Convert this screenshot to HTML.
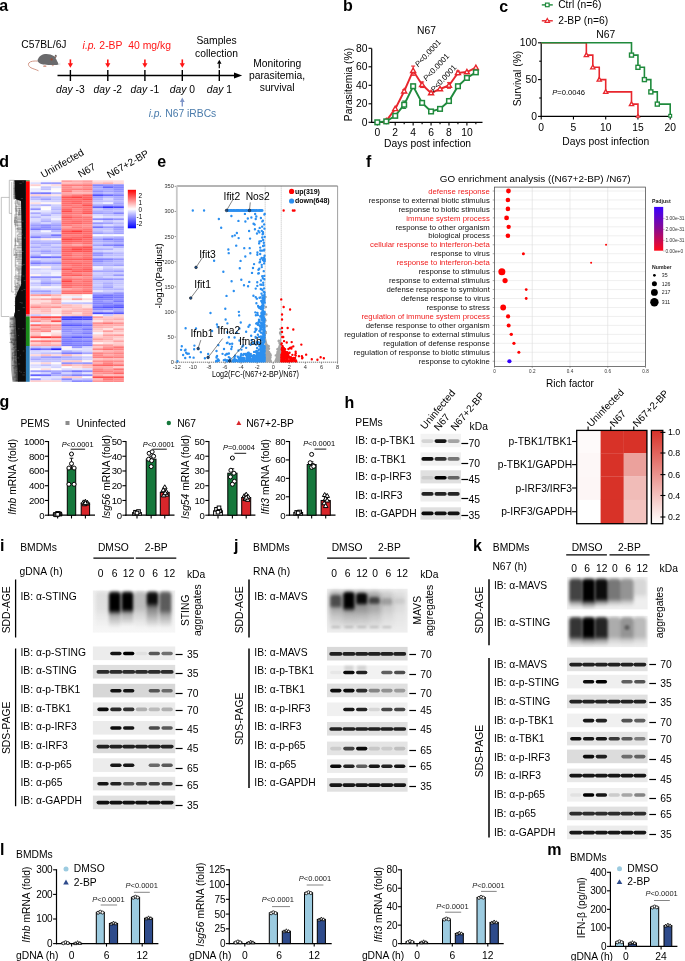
<!DOCTYPE html>
<html><head><meta charset="utf-8"><title>Figure</title>
<style>html,body{margin:0;padding:0;background:#fff;width:685px;height:961px;overflow:hidden;}svg{display:block;will-change:transform;}text{font-family:"Liberation Sans", sans-serif;}</style>
</head><body><svg width="685" height="961" viewBox="0 0 685 961" font-family='"Liberation Sans", sans-serif'><defs><linearGradient id="dgl" x1="0" y1="0" x2="1" y2="0"><stop offset="0" stop-color="#000" stop-opacity="0.15"/><stop offset="1" stop-color="#000" stop-opacity="0.75"/></linearGradient><linearGradient id="hmk" x1="0" y1="0" x2="0" y2="1"><stop offset="0" stop-color="#ff0000"/><stop offset="0.5" stop-color="#ffffff"/><stop offset="1" stop-color="#0000ff"/></linearGradient><linearGradient id="padj" x1="0" y1="0" x2="0" y2="1"><stop offset="0" stop-color="#3a00ff"/><stop offset="0.5" stop-color="#8a0a90"/><stop offset="1" stop-color="#ff0a1a"/></linearGradient><filter id="b06" x="-20%" y="-100%" width="140%" height="300%"><feGaussianBlur stdDeviation="0.6"/></filter><filter id="b07" x="-20%" y="-100%" width="140%" height="300%"><feGaussianBlur stdDeviation="0.75"/></filter><filter id="b08" x="-20%" y="-100%" width="140%" height="300%"><feGaussianBlur stdDeviation="0.8"/></filter><filter id="b10" x="-20%" y="-50%" width="140%" height="200%"><feGaussianBlur stdDeviation="1.0"/></filter><filter id="b15" x="-30%" y="-30%" width="160%" height="160%"><feGaussianBlur stdDeviation="1.5"/></filter><filter id="b20" x="-30%" y="-30%" width="160%" height="160%"><feGaussianBlur stdDeviation="2.0"/></filter><linearGradient id="hcb" x1="0" y1="1" x2="0" y2="0"><stop offset="0" stop-color="#ffffff"/><stop offset="1" stop-color="#d83228"/></linearGradient><linearGradient id="sddbg" x1="0" y1="0" x2="0" y2="1"><stop offset="0" stop-color="#eeeeee"/><stop offset="1" stop-color="#f6f6f6"/></linearGradient><linearGradient id="sm11" x1="0" y1="0" x2="0" y2="1"><stop offset="0" stop-color="#000" stop-opacity="0.06"/><stop offset="0.1" stop-color="#000" stop-opacity="0.07"/><stop offset="0.50" stop-color="#000" stop-opacity="0.07"/><stop offset="0.65" stop-color="#000" stop-opacity="0.04"/><stop offset="1" stop-color="#000" stop-opacity="0"/></linearGradient><linearGradient id="sm12" x1="0" y1="0" x2="0" y2="1"><stop offset="0" stop-color="#000" stop-opacity="0.80"/><stop offset="0.1" stop-color="#000" stop-opacity="1.00"/><stop offset="0.50" stop-color="#000" stop-opacity="1.00"/><stop offset="0.65" stop-color="#000" stop-opacity="0.30"/><stop offset="1" stop-color="#000" stop-opacity="0"/></linearGradient><linearGradient id="sm13" x1="0" y1="0" x2="0" y2="1"><stop offset="0" stop-color="#000" stop-opacity="0.80"/><stop offset="0.1" stop-color="#000" stop-opacity="1.00"/><stop offset="0.50" stop-color="#000" stop-opacity="1.00"/><stop offset="0.65" stop-color="#000" stop-opacity="0.30"/><stop offset="1" stop-color="#000" stop-opacity="0"/></linearGradient><linearGradient id="sm14" x1="0" y1="0" x2="0" y2="1"><stop offset="0" stop-color="#000" stop-opacity="0.18"/><stop offset="0.1" stop-color="#000" stop-opacity="0.22"/><stop offset="0.45" stop-color="#000" stop-opacity="0.22"/><stop offset="0.60" stop-color="#000" stop-opacity="0.13"/><stop offset="1" stop-color="#000" stop-opacity="0"/></linearGradient><linearGradient id="sm15" x1="0" y1="0" x2="0" y2="1"><stop offset="0" stop-color="#000" stop-opacity="0.76"/><stop offset="0.1" stop-color="#000" stop-opacity="0.95"/><stop offset="0.30" stop-color="#000" stop-opacity="0.95"/><stop offset="0.45" stop-color="#000" stop-opacity="0.47"/><stop offset="1" stop-color="#000" stop-opacity="0"/></linearGradient><linearGradient id="sm16" x1="0" y1="0" x2="0" y2="1"><stop offset="0" stop-color="#000" stop-opacity="0.50"/><stop offset="0.1" stop-color="#000" stop-opacity="0.62"/><stop offset="0.50" stop-color="#000" stop-opacity="0.62"/><stop offset="0.65" stop-color="#000" stop-opacity="0.31"/><stop offset="1" stop-color="#000" stop-opacity="0"/></linearGradient><linearGradient id="sm17" x1="0" y1="0" x2="0" y2="1"><stop offset="0" stop-color="#000" stop-opacity="0.24"/><stop offset="0.1" stop-color="#000" stop-opacity="0.30"/><stop offset="0.45" stop-color="#000" stop-opacity="0.30"/><stop offset="0.60" stop-color="#000" stop-opacity="0.18"/><stop offset="1" stop-color="#000" stop-opacity="0"/></linearGradient><linearGradient id="sm18" x1="0" y1="0" x2="0" y2="1"><stop offset="0" stop-color="#000" stop-opacity="0.32"/><stop offset="0.1" stop-color="#000" stop-opacity="0.40"/><stop offset="0.45" stop-color="#000" stop-opacity="0.40"/><stop offset="0.60" stop-color="#000" stop-opacity="0.24"/><stop offset="1" stop-color="#000" stop-opacity="0"/></linearGradient><linearGradient id="sm19" x1="0" y1="0" x2="0" y2="1"><stop offset="0" stop-color="#000" stop-opacity="0.30"/><stop offset="0.1" stop-color="#000" stop-opacity="0.38"/><stop offset="0.45" stop-color="#000" stop-opacity="0.38"/><stop offset="0.60" stop-color="#000" stop-opacity="0.23"/><stop offset="1" stop-color="#000" stop-opacity="0"/></linearGradient><linearGradient id="sm20" x1="0" y1="0" x2="0" y2="1"><stop offset="0" stop-color="#000" stop-opacity="0.24"/><stop offset="0.1" stop-color="#000" stop-opacity="0.30"/><stop offset="0.45" stop-color="#000" stop-opacity="0.30"/><stop offset="0.60" stop-color="#000" stop-opacity="0.18"/><stop offset="1" stop-color="#000" stop-opacity="0"/></linearGradient><linearGradient id="sm21" x1="0" y1="0" x2="0" y2="1"><stop offset="0" stop-color="#000" stop-opacity="0.12"/><stop offset="0.1" stop-color="#000" stop-opacity="0.15"/><stop offset="0.45" stop-color="#000" stop-opacity="0.15"/><stop offset="0.60" stop-color="#000" stop-opacity="0.09"/><stop offset="1" stop-color="#000" stop-opacity="0"/></linearGradient><linearGradient id="sm22" x1="0" y1="0" x2="0" y2="1"><stop offset="0" stop-color="#000" stop-opacity="0.06"/><stop offset="0.1" stop-color="#000" stop-opacity="0.07"/><stop offset="0.45" stop-color="#000" stop-opacity="0.07"/><stop offset="0.60" stop-color="#000" stop-opacity="0.04"/><stop offset="1" stop-color="#000" stop-opacity="0"/></linearGradient><linearGradient id="sm23" x1="0" y1="0" x2="0" y2="1"><stop offset="0" stop-color="#000" stop-opacity="0.44"/><stop offset="0.1" stop-color="#000" stop-opacity="0.55"/><stop offset="0.75" stop-color="#000" stop-opacity="0.55"/><stop offset="0.90" stop-color="#000" stop-opacity="0.19"/><stop offset="1" stop-color="#000" stop-opacity="0"/></linearGradient><linearGradient id="sm24" x1="0" y1="0" x2="0" y2="1"><stop offset="0" stop-color="#000" stop-opacity="0.80"/><stop offset="0.1" stop-color="#000" stop-opacity="1.00"/><stop offset="0.75" stop-color="#000" stop-opacity="1.00"/><stop offset="0.90" stop-color="#000" stop-opacity="0.35"/><stop offset="1" stop-color="#000" stop-opacity="0"/></linearGradient><linearGradient id="sm25" x1="0" y1="0" x2="0" y2="1"><stop offset="0" stop-color="#000" stop-opacity="0.76"/><stop offset="0.1" stop-color="#000" stop-opacity="0.95"/><stop offset="0.75" stop-color="#000" stop-opacity="0.95"/><stop offset="0.90" stop-color="#000" stop-opacity="0.33"/><stop offset="1" stop-color="#000" stop-opacity="0"/></linearGradient><linearGradient id="sm26" x1="0" y1="0" x2="0" y2="1"><stop offset="0" stop-color="#000" stop-opacity="0.50"/><stop offset="0.1" stop-color="#000" stop-opacity="0.62"/><stop offset="0.75" stop-color="#000" stop-opacity="0.62"/><stop offset="0.90" stop-color="#000" stop-opacity="0.22"/><stop offset="1" stop-color="#000" stop-opacity="0"/></linearGradient><linearGradient id="sm27" x1="0" y1="0" x2="0" y2="1"><stop offset="0" stop-color="#000" stop-opacity="0.18"/><stop offset="0.1" stop-color="#000" stop-opacity="0.22"/><stop offset="0.75" stop-color="#000" stop-opacity="0.22"/><stop offset="0.90" stop-color="#000" stop-opacity="0.08"/><stop offset="1" stop-color="#000" stop-opacity="0"/></linearGradient><linearGradient id="sm28" x1="0" y1="0" x2="0" y2="1"><stop offset="0" stop-color="#000" stop-opacity="0.06"/><stop offset="0.1" stop-color="#000" stop-opacity="0.08"/><stop offset="0.75" stop-color="#000" stop-opacity="0.08"/><stop offset="0.90" stop-color="#000" stop-opacity="0.03"/><stop offset="1" stop-color="#000" stop-opacity="0"/></linearGradient><linearGradient id="sm29" x1="0" y1="0" x2="0" y2="1"><stop offset="0" stop-color="#000" stop-opacity="0.58"/><stop offset="0.1" stop-color="#000" stop-opacity="0.72"/><stop offset="0.70" stop-color="#000" stop-opacity="0.72"/><stop offset="0.85" stop-color="#000" stop-opacity="0.25"/><stop offset="1" stop-color="#000" stop-opacity="0"/></linearGradient><linearGradient id="sm30" x1="0" y1="0" x2="0" y2="1"><stop offset="0" stop-color="#000" stop-opacity="0.80"/><stop offset="0.1" stop-color="#000" stop-opacity="1.00"/><stop offset="0.70" stop-color="#000" stop-opacity="1.00"/><stop offset="0.85" stop-color="#000" stop-opacity="0.35"/><stop offset="1" stop-color="#000" stop-opacity="0"/></linearGradient><linearGradient id="sm31" x1="0" y1="0" x2="0" y2="1"><stop offset="0" stop-color="#000" stop-opacity="0.76"/><stop offset="0.1" stop-color="#000" stop-opacity="0.95"/><stop offset="0.70" stop-color="#000" stop-opacity="0.95"/><stop offset="0.85" stop-color="#000" stop-opacity="0.33"/><stop offset="1" stop-color="#000" stop-opacity="0"/></linearGradient><linearGradient id="sm32" x1="0" y1="0" x2="0" y2="1"><stop offset="0" stop-color="#000" stop-opacity="0.40"/><stop offset="0.1" stop-color="#000" stop-opacity="0.50"/><stop offset="0.70" stop-color="#000" stop-opacity="0.50"/><stop offset="0.85" stop-color="#000" stop-opacity="0.17"/><stop offset="1" stop-color="#000" stop-opacity="0"/></linearGradient><linearGradient id="sm33" x1="0" y1="0" x2="0" y2="1"><stop offset="0" stop-color="#000" stop-opacity="0.30"/><stop offset="0.1" stop-color="#000" stop-opacity="0.38"/><stop offset="0.70" stop-color="#000" stop-opacity="0.38"/><stop offset="0.85" stop-color="#000" stop-opacity="0.13"/><stop offset="1" stop-color="#000" stop-opacity="0"/></linearGradient><linearGradient id="sm34" x1="0" y1="0" x2="0" y2="1"><stop offset="0" stop-color="#000" stop-opacity="0.08"/><stop offset="0.1" stop-color="#000" stop-opacity="0.10"/><stop offset="0.70" stop-color="#000" stop-opacity="0.10"/><stop offset="0.85" stop-color="#000" stop-opacity="0.03"/><stop offset="1" stop-color="#000" stop-opacity="0"/></linearGradient><linearGradient id="sm35" x1="0" y1="0" x2="0" y2="1"><stop offset="0" stop-color="#000" stop-opacity="0.62"/><stop offset="0.1" stop-color="#000" stop-opacity="0.78"/><stop offset="0.65" stop-color="#000" stop-opacity="0.78"/><stop offset="0.80" stop-color="#000" stop-opacity="0.27"/><stop offset="1" stop-color="#000" stop-opacity="0"/></linearGradient><linearGradient id="sm36" x1="0" y1="0" x2="0" y2="1"><stop offset="0" stop-color="#000" stop-opacity="0.80"/><stop offset="0.1" stop-color="#000" stop-opacity="1.00"/><stop offset="0.65" stop-color="#000" stop-opacity="1.00"/><stop offset="0.80" stop-color="#000" stop-opacity="0.35"/><stop offset="1" stop-color="#000" stop-opacity="0"/></linearGradient><linearGradient id="sm37" x1="0" y1="0" x2="0" y2="1"><stop offset="0" stop-color="#000" stop-opacity="0.68"/><stop offset="0.1" stop-color="#000" stop-opacity="0.85"/><stop offset="0.65" stop-color="#000" stop-opacity="0.85"/><stop offset="0.80" stop-color="#000" stop-opacity="0.30"/><stop offset="1" stop-color="#000" stop-opacity="0"/></linearGradient><linearGradient id="sm38" x1="0" y1="0" x2="0" y2="1"><stop offset="0" stop-color="#000" stop-opacity="0.22"/><stop offset="0.1" stop-color="#000" stop-opacity="0.28"/><stop offset="0.65" stop-color="#000" stop-opacity="0.28"/><stop offset="0.80" stop-color="#000" stop-opacity="0.10"/><stop offset="1" stop-color="#000" stop-opacity="0"/></linearGradient><linearGradient id="sm39" x1="0" y1="0" x2="0" y2="1"><stop offset="0" stop-color="#000" stop-opacity="0.30"/><stop offset="0.1" stop-color="#000" stop-opacity="0.38"/><stop offset="0.65" stop-color="#000" stop-opacity="0.38"/><stop offset="0.80" stop-color="#000" stop-opacity="0.13"/><stop offset="1" stop-color="#000" stop-opacity="0"/></linearGradient><linearGradient id="sm40" x1="0" y1="0" x2="0" y2="1"><stop offset="0" stop-color="#000" stop-opacity="0.18"/><stop offset="0.1" stop-color="#000" stop-opacity="0.22"/><stop offset="0.65" stop-color="#000" stop-opacity="0.22"/><stop offset="0.80" stop-color="#000" stop-opacity="0.08"/><stop offset="1" stop-color="#000" stop-opacity="0"/></linearGradient></defs><text x="-0.80" y="10.95" font-size="16" font-weight="bold">a</text>
<text x="21.30" y="48.34" font-size="10.3">C57BL/6J</text>
<path d="M37.6,61.1 C34.5,60.8 30.5,61.0 28.8,63.0 C27.8,64.6 28.8,66.6 31.0,67.8 C33.5,69.0 36.5,69.7 38.5,70.8" fill="none" stroke="#d29888" stroke-width="1.0"/>
<ellipse cx="44.8" cy="66.2" rx="1.7" ry="0.9" fill="#d8a090"/>
<ellipse cx="52.8" cy="65.6" rx="1.1" ry="0.6" fill="#d8a090"/>
<path d="M37.5,61.0 C38.0,57.5 41.0,54.5 45.0,54.1 C48.5,53.8 51.5,54.6 53.8,56.0 C55.5,57.3 56.5,59.5 57.3,61.5 C57.9,62.7 58.6,63.7 58.4,64.6 C56.5,65.4 53.5,65.0 50.5,64.9 C47.0,64.9 44.0,65.0 42.0,64.3 C40.0,63.6 38.2,62.5 37.5,61.0 Z" fill="#6a6a6c"/>
<ellipse cx="55.6" cy="56.4" rx="1.0" ry="1.7" fill="#555557" transform="rotate(12 55.6 56.4)"/>
<ellipse cx="55.7" cy="56.6" rx="0.45" ry="1.0" fill="#c08878" transform="rotate(12 55.7 56.6)"/>
<circle cx="51.60" cy="59.40" r="1.10" fill="#9c4630"/>
<path d="M58.0,64.2 L60.5,63.2 M58.0,64.5 L60.6,64.8" fill="none" stroke="#bbbbbb" stroke-width="0.3"/>
<line x1="57.50" y1="75.50" x2="235.00" y2="75.50" stroke="#000" stroke-width="1.4"/>
<path d="M234,72.6 L242.2,75.5 L234,78.4 Z" fill="#000"/>
<line x1="70.40" y1="70.00" x2="70.40" y2="81.00" stroke="#000" stroke-width="1.4"/>
<line x1="107.80" y1="70.00" x2="107.80" y2="81.00" stroke="#000" stroke-width="1.4"/>
<line x1="144.90" y1="70.00" x2="144.90" y2="81.00" stroke="#000" stroke-width="1.4"/>
<line x1="182.30" y1="70.00" x2="182.30" y2="81.00" stroke="#000" stroke-width="1.4"/>
<line x1="219.30" y1="70.00" x2="219.30" y2="81.00" stroke="#000" stroke-width="1.4"/>
<line x1="70.40" y1="59.40" x2="70.40" y2="64.50" stroke="#ff1515" stroke-width="1.6"/>
<path d="M67.80,63.2 L73.00,63.2 L70.40,67.8 Z" fill="#ff1515"/>
<line x1="107.80" y1="59.40" x2="107.80" y2="64.50" stroke="#ff1515" stroke-width="1.6"/>
<path d="M105.20,63.2 L110.40,63.2 L107.80,67.8 Z" fill="#ff1515"/>
<line x1="144.90" y1="59.40" x2="144.90" y2="64.50" stroke="#ff1515" stroke-width="1.6"/>
<path d="M142.30,63.2 L147.50,63.2 L144.90,67.8 Z" fill="#ff1515"/>
<line x1="182.30" y1="59.40" x2="182.30" y2="64.50" stroke="#ff1515" stroke-width="1.6"/>
<path d="M179.70,63.2 L184.90,63.2 L182.30,67.8 Z" fill="#ff1515"/>
<line x1="219.30" y1="63.50" x2="219.30" y2="68.20" stroke="#000" stroke-width="1.2"/>
<path d="M217.10,63.8 L221.50,63.8 L219.30,59.8 Z" fill="#000"/>
<line x1="182.30" y1="101.50" x2="182.30" y2="106.60" stroke="#7f95c8" stroke-width="1.4"/>
<path d="M179.90,101.9 L184.70,101.9 L182.30,97.6 Z" fill="#7f95c8"/>
<text x="70.40" y="92.54" font-size="10.3" text-anchor="middle"><tspan font-style="italic">day</tspan> -3</text>
<text x="107.80" y="92.54" font-size="10.3" text-anchor="middle"><tspan font-style="italic">day</tspan> -2</text>
<text x="144.90" y="92.54" font-size="10.3" text-anchor="middle"><tspan font-style="italic">day</tspan> -1</text>
<text x="182.30" y="92.54" font-size="10.3" text-anchor="middle"><tspan font-style="italic">day</tspan> 0</text>
<text x="219.30" y="92.54" font-size="10.3" text-anchor="middle"><tspan font-style="italic">day</tspan> 1</text>
<text x="82.6" y="48.8" font-size="10.4" fill="#ff1515"><tspan font-style="italic">i.p.</tspan> 2-BP&#160; 40 mg/kg</text>
<text x="182.5" y="116.74" font-size="10.3" fill="#4a7bab" text-anchor="middle"><tspan font-style="italic">i.p.</tspan> N67 iRBCs</text>
<text x="216.50" y="44.40" font-size="10.3" text-anchor="middle">Samples</text>
<text x="216.50" y="56.60" font-size="10.3" text-anchor="middle">collection</text>
<text x="277.30" y="66.60" font-size="10.3" text-anchor="middle">Monitoring</text>
<text x="277.00" y="78.60" font-size="10.3" text-anchor="middle">parasitemia,</text>
<text x="277.20" y="90.60" font-size="10.3" text-anchor="middle">survival</text>
<text x="343.00" y="11.10" font-size="16" font-weight="bold">b</text>
<text x="426.50" y="34.04" font-size="10.3" text-anchor="middle">N67</text>
<line x1="371.70" y1="48.40" x2="371.70" y2="122.90" stroke="#000" stroke-width="1.2"/>
<line x1="371.10" y1="122.30" x2="482.50" y2="122.30" stroke="#000" stroke-width="1.2"/>
<line x1="368.50" y1="122.30" x2="371.70" y2="122.30" stroke="#000" stroke-width="1.1"/>
<text x="367.50" y="125.84" font-size="10.3" text-anchor="end">0</text>
<line x1="368.50" y1="103.80" x2="371.70" y2="103.80" stroke="#000" stroke-width="1.1"/>
<text x="367.50" y="107.34" font-size="10.3" text-anchor="end">20</text>
<line x1="368.50" y1="85.30" x2="371.70" y2="85.30" stroke="#000" stroke-width="1.1"/>
<text x="367.50" y="88.84" font-size="10.3" text-anchor="end">40</text>
<line x1="368.50" y1="66.80" x2="371.70" y2="66.80" stroke="#000" stroke-width="1.1"/>
<text x="367.50" y="70.34" font-size="10.3" text-anchor="end">60</text>
<line x1="368.50" y1="48.30" x2="371.70" y2="48.30" stroke="#000" stroke-width="1.1"/>
<text x="367.50" y="51.84" font-size="10.3" text-anchor="end">80</text>
<line x1="377.30" y1="122.30" x2="377.30" y2="125.50" stroke="#000" stroke-width="1.1"/>
<line x1="386.26" y1="122.30" x2="386.26" y2="124.30" stroke="#000" stroke-width="1.1"/>
<line x1="395.22" y1="122.30" x2="395.22" y2="125.50" stroke="#000" stroke-width="1.1"/>
<line x1="404.18" y1="122.30" x2="404.18" y2="124.30" stroke="#000" stroke-width="1.1"/>
<line x1="413.14" y1="122.30" x2="413.14" y2="125.50" stroke="#000" stroke-width="1.1"/>
<line x1="422.10" y1="122.30" x2="422.10" y2="124.30" stroke="#000" stroke-width="1.1"/>
<line x1="431.06" y1="122.30" x2="431.06" y2="125.50" stroke="#000" stroke-width="1.1"/>
<line x1="440.02" y1="122.30" x2="440.02" y2="124.30" stroke="#000" stroke-width="1.1"/>
<line x1="448.98" y1="122.30" x2="448.98" y2="125.50" stroke="#000" stroke-width="1.1"/>
<line x1="457.94" y1="122.30" x2="457.94" y2="124.30" stroke="#000" stroke-width="1.1"/>
<line x1="466.90" y1="122.30" x2="466.90" y2="125.50" stroke="#000" stroke-width="1.1"/>
<line x1="475.86" y1="122.30" x2="475.86" y2="124.30" stroke="#000" stroke-width="1.1"/>
<text x="377.30" y="135.84" font-size="10.3" text-anchor="middle">0</text>
<text x="395.22" y="135.84" font-size="10.3" text-anchor="middle">2</text>
<text x="413.14" y="135.84" font-size="10.3" text-anchor="middle">4</text>
<text x="431.06" y="135.84" font-size="10.3" text-anchor="middle">6</text>
<text x="448.98" y="135.84" font-size="10.3" text-anchor="middle">8</text>
<text x="466.90" y="135.84" font-size="10.3" text-anchor="middle">10</text>
<text x="427.60" y="146.84" font-size="10.3" text-anchor="middle">Days post infection</text>
<text x="351.80" y="84.50" font-size="10.3" text-anchor="middle" transform="rotate(-90 351.80 84.50)">Parasitemia (%)</text>
<polyline points="377.30,122.30 386.26,121.38 395.22,115.83 404.18,104.72 413.14,86.22 422.10,102.88 431.06,111.48 440.02,108.89 448.98,101.02 457.94,86.22 466.90,77.90 475.86,72.35" fill="none" stroke="#1f8a3c" stroke-width="1.9"/>
<polyline points="386.26,120.91 395.22,108.89 404.18,91.22 413.14,70.69 422.10,84.75 431.06,93.07 440.02,89.00 448.98,85.48 457.94,72.91 466.90,72.07 475.86,67.72" fill="none" stroke="#e8262d" stroke-width="1.9"/>
<line x1="413.14" y1="66.06" x2="413.14" y2="75.31" stroke="#e8262d" stroke-width="1.1"/>
<line x1="411.14" y1="66.06" x2="415.14" y2="66.06" stroke="#e8262d" stroke-width="1.1"/>
<line x1="411.14" y1="75.31" x2="415.14" y2="75.31" stroke="#e8262d" stroke-width="1.1"/>
<line x1="422.10" y1="81.97" x2="422.10" y2="87.52" stroke="#e8262d" stroke-width="1.1"/>
<line x1="420.10" y1="81.97" x2="424.10" y2="81.97" stroke="#e8262d" stroke-width="1.1"/>
<line x1="420.10" y1="87.52" x2="424.10" y2="87.52" stroke="#e8262d" stroke-width="1.1"/>
<line x1="448.98" y1="82.71" x2="448.98" y2="88.26" stroke="#e8262d" stroke-width="1.1"/>
<line x1="446.98" y1="82.71" x2="450.98" y2="82.71" stroke="#e8262d" stroke-width="1.1"/>
<line x1="446.98" y1="88.26" x2="450.98" y2="88.26" stroke="#e8262d" stroke-width="1.1"/>
<line x1="457.94" y1="71.05" x2="457.94" y2="74.75" stroke="#e8262d" stroke-width="1.1"/>
<line x1="455.94" y1="71.05" x2="459.94" y2="71.05" stroke="#e8262d" stroke-width="1.1"/>
<line x1="455.94" y1="74.75" x2="459.94" y2="74.75" stroke="#e8262d" stroke-width="1.1"/>
<line x1="404.18" y1="89.83" x2="404.18" y2="92.61" stroke="#e8262d" stroke-width="1.1"/>
<line x1="402.18" y1="89.83" x2="406.18" y2="89.83" stroke="#e8262d" stroke-width="1.1"/>
<line x1="402.18" y1="92.61" x2="406.18" y2="92.61" stroke="#e8262d" stroke-width="1.1"/>
<line x1="404.18" y1="101.02" x2="404.18" y2="108.42" stroke="#1f8a3c" stroke-width="1.1"/>
<line x1="402.18" y1="101.02" x2="406.18" y2="101.02" stroke="#1f8a3c" stroke-width="1.1"/>
<line x1="402.18" y1="108.42" x2="406.18" y2="108.42" stroke="#1f8a3c" stroke-width="1.1"/>
<line x1="413.14" y1="84.38" x2="413.14" y2="88.07" stroke="#1f8a3c" stroke-width="1.1"/>
<line x1="411.14" y1="84.38" x2="415.14" y2="84.38" stroke="#1f8a3c" stroke-width="1.1"/>
<line x1="411.14" y1="88.07" x2="415.14" y2="88.07" stroke="#1f8a3c" stroke-width="1.1"/>
<line x1="448.98" y1="99.17" x2="448.98" y2="102.88" stroke="#1f8a3c" stroke-width="1.1"/>
<line x1="446.98" y1="99.17" x2="450.98" y2="99.17" stroke="#1f8a3c" stroke-width="1.1"/>
<line x1="446.98" y1="102.88" x2="450.98" y2="102.88" stroke="#1f8a3c" stroke-width="1.1"/>
<path d="M386.26,118.29 L388.79,122.66 L383.73,122.66 Z" fill="#fff" stroke="#e8262d" stroke-width="1.4"/>
<path d="M395.22,106.27 L397.75,110.64 L392.69,110.64 Z" fill="#fff" stroke="#e8262d" stroke-width="1.4"/>
<path d="M404.18,88.60 L406.71,92.97 L401.65,92.97 Z" fill="#fff" stroke="#e8262d" stroke-width="1.4"/>
<path d="M413.14,68.06 L415.67,72.43 L410.61,72.43 Z" fill="#fff" stroke="#e8262d" stroke-width="1.4"/>
<path d="M422.10,82.12 L424.63,86.49 L419.57,86.49 Z" fill="#fff" stroke="#e8262d" stroke-width="1.4"/>
<path d="M431.06,90.45 L433.59,94.82 L428.53,94.82 Z" fill="#fff" stroke="#e8262d" stroke-width="1.4"/>
<path d="M440.02,86.38 L442.55,90.75 L437.49,90.75 Z" fill="#fff" stroke="#e8262d" stroke-width="1.4"/>
<path d="M448.98,82.86 L451.51,87.23 L446.45,87.23 Z" fill="#fff" stroke="#e8262d" stroke-width="1.4"/>
<path d="M457.94,70.28 L460.47,74.65 L455.41,74.65 Z" fill="#fff" stroke="#e8262d" stroke-width="1.4"/>
<path d="M466.90,69.45 L469.43,73.82 L464.37,73.82 Z" fill="#fff" stroke="#e8262d" stroke-width="1.4"/>
<path d="M475.86,65.10 L478.39,69.47 L473.33,69.47 Z" fill="#fff" stroke="#e8262d" stroke-width="1.4"/>
<rect x="375.00" y="120.00" width="4.60" height="4.60" fill="#fff" stroke="#1f8a3c" stroke-width="1.5"/>
<rect x="383.96" y="119.08" width="4.60" height="4.60" fill="#fff" stroke="#1f8a3c" stroke-width="1.5"/>
<rect x="392.92" y="113.53" width="4.60" height="4.60" fill="#fff" stroke="#1f8a3c" stroke-width="1.5"/>
<rect x="401.88" y="102.42" width="4.60" height="4.60" fill="#fff" stroke="#1f8a3c" stroke-width="1.5"/>
<rect x="410.84" y="83.92" width="4.60" height="4.60" fill="#fff" stroke="#1f8a3c" stroke-width="1.5"/>
<rect x="419.80" y="100.58" width="4.60" height="4.60" fill="#fff" stroke="#1f8a3c" stroke-width="1.5"/>
<rect x="428.76" y="109.18" width="4.60" height="4.60" fill="#fff" stroke="#1f8a3c" stroke-width="1.5"/>
<rect x="437.72" y="106.59" width="4.60" height="4.60" fill="#fff" stroke="#1f8a3c" stroke-width="1.5"/>
<rect x="446.68" y="98.72" width="4.60" height="4.60" fill="#fff" stroke="#1f8a3c" stroke-width="1.5"/>
<rect x="455.64" y="83.92" width="4.60" height="4.60" fill="#fff" stroke="#1f8a3c" stroke-width="1.5"/>
<rect x="464.60" y="75.60" width="4.60" height="4.60" fill="#fff" stroke="#1f8a3c" stroke-width="1.5"/>
<rect x="473.56" y="70.05" width="4.60" height="4.60" fill="#fff" stroke="#1f8a3c" stroke-width="1.5"/>
<text x="418.2" y="67.4" font-size="7.9" transform="rotate(-47 418.2 67.4)"><tspan font-style="italic">P</tspan>&lt;0.0001</text>
<text x="426.6" y="81.5" font-size="7.9" transform="rotate(-47 426.6 81.5)"><tspan font-style="italic">P</tspan>&lt;0.0001</text>
<text x="433.9" y="92.7" font-size="7.9" transform="rotate(-47 433.9 92.7)"><tspan font-style="italic">P</tspan>&lt;0.0001</text>
<text x="499.30" y="11.60" font-size="16" font-weight="bold">c</text>
<line x1="541.80" y1="4.90" x2="552.80" y2="4.90" stroke="#1f8a3c" stroke-width="1.4"/>
<rect x="545.50" y="3.10" width="3.60" height="3.60" fill="#fff" stroke="#1f8a3c" stroke-width="1.2"/>
<text x="558.20" y="8.44" font-size="10.3">Ctrl (n=6)</text>
<line x1="541.80" y1="20.80" x2="552.80" y2="20.80" stroke="#e8262d" stroke-width="1.4"/>
<path d="M547.30,18.52 L549.50,22.32 L545.10,22.32 Z" fill="#fff" stroke="#e8262d" stroke-width="1.2"/>
<text x="558.20" y="24.34" font-size="10.3">2-BP (n=6)</text>
<text x="605.80" y="38.14" font-size="10.3" text-anchor="middle">N67</text>
<line x1="541.20" y1="42.20" x2="541.20" y2="117.00" stroke="#000" stroke-width="1.2"/>
<line x1="540.60" y1="116.40" x2="670.80" y2="116.40" stroke="#000" stroke-width="1.2"/>
<line x1="538.00" y1="116.40" x2="541.20" y2="116.40" stroke="#000" stroke-width="1.1"/>
<text x="537.00" y="119.94" font-size="10.3" text-anchor="end">0</text>
<line x1="538.00" y1="79.60" x2="541.20" y2="79.60" stroke="#000" stroke-width="1.1"/>
<text x="537.00" y="83.14" font-size="10.3" text-anchor="end">50</text>
<line x1="538.00" y1="42.80" x2="541.20" y2="42.80" stroke="#000" stroke-width="1.1"/>
<text x="537.00" y="46.34" font-size="10.3" text-anchor="end">100</text>
<line x1="539.20" y1="98.00" x2="541.20" y2="98.00" stroke="#000" stroke-width="1.1"/>
<line x1="539.20" y1="61.20" x2="541.20" y2="61.20" stroke="#000" stroke-width="1.1"/>
<line x1="541.20" y1="116.40" x2="541.20" y2="119.60" stroke="#000" stroke-width="1.1"/>
<text x="541.20" y="131.44" font-size="10.3" text-anchor="middle">0</text>
<line x1="573.45" y1="116.40" x2="573.45" y2="119.60" stroke="#000" stroke-width="1.1"/>
<text x="573.45" y="131.44" font-size="10.3" text-anchor="middle">5</text>
<line x1="605.70" y1="116.40" x2="605.70" y2="119.60" stroke="#000" stroke-width="1.1"/>
<text x="605.70" y="131.44" font-size="10.3" text-anchor="middle">10</text>
<line x1="637.95" y1="116.40" x2="637.95" y2="119.60" stroke="#000" stroke-width="1.1"/>
<text x="637.95" y="131.44" font-size="10.3" text-anchor="middle">15</text>
<line x1="670.20" y1="116.40" x2="670.20" y2="119.60" stroke="#000" stroke-width="1.1"/>
<text x="670.20" y="131.44" font-size="10.3" text-anchor="middle">20</text>
<text x="605.80" y="145.14" font-size="10.3" text-anchor="middle">Days post infection</text>
<text x="521.20" y="78.50" font-size="10.3" text-anchor="middle" transform="rotate(-90 521.20 78.50)">Survival (%)</text>
<text x="552.2" y="95.21" font-size="7.6"><tspan font-style="italic">P</tspan>=0.0046</text>
<path d="M541.20,42.80 H586.35 V55.09 H592.80 V67.31 H599.25 V79.60 H605.70 V91.89 H631.50 V104.11 H637.95 V116.40" fill="none" stroke="#e8262d" stroke-width="1.6"/>
<path d="M541.20,42.80 H631.50 V55.09 H637.95 V67.31 H644.40 V79.60 H650.85 V91.89 H657.30 V104.11 H670.20 V116.40" fill="none" stroke="#1f8a3c" stroke-width="1.6"/>
<path d="M586.35,52.87 L588.50,56.57 L584.21,56.57 Z" fill="#fff" stroke="#e8262d" stroke-width="1.3"/>
<path d="M592.80,65.09 L594.95,68.79 L590.66,68.79 Z" fill="#fff" stroke="#e8262d" stroke-width="1.3"/>
<path d="M599.25,77.38 L601.39,81.08 L597.11,81.08 Z" fill="#fff" stroke="#e8262d" stroke-width="1.3"/>
<path d="M605.70,89.67 L607.85,93.37 L603.56,93.37 Z" fill="#fff" stroke="#e8262d" stroke-width="1.3"/>
<path d="M631.50,101.89 L633.64,105.59 L629.36,105.59 Z" fill="#fff" stroke="#e8262d" stroke-width="1.3"/>
<path d="M637.95,114.39 L639.60,117.24 L636.30,117.24 Z" fill="#fff" stroke="#e8262d" stroke-width="1.2"/>
<rect x="629.50" y="53.09" width="4.00" height="4.00" fill="#fff" stroke="#1f8a3c" stroke-width="1.4"/>
<rect x="635.95" y="65.31" width="4.00" height="4.00" fill="#fff" stroke="#1f8a3c" stroke-width="1.4"/>
<rect x="642.40" y="77.60" width="4.00" height="4.00" fill="#fff" stroke="#1f8a3c" stroke-width="1.4"/>
<rect x="648.85" y="89.89" width="4.00" height="4.00" fill="#fff" stroke="#1f8a3c" stroke-width="1.4"/>
<rect x="655.30" y="102.11" width="4.00" height="4.00" fill="#fff" stroke="#1f8a3c" stroke-width="1.4"/>
<rect x="668.80" y="114.40" width="2.80" height="2.80" fill="#fff" stroke="#1f8a3c" stroke-width="1.2"/>
<text x="-0.80" y="166.90" font-size="16" font-weight="bold">d</text>
<text x="43.20" y="178.30" font-size="10.0" transform="rotate(-30 43.20 178.30)">Uninfected</text>
<text x="80.40" y="177.80" font-size="10.0" transform="rotate(-30 80.40 177.80)">N67</text>
<text x="109.40" y="178.50" font-size="10.0" transform="rotate(-30 109.40 178.50)">N67+2-BP</text>
<rect x="30.40" y="180.30" width="10.52" height="2.15" fill="rgb(255,247,247)"/>
<rect x="40.77" y="180.30" width="10.52" height="2.15" fill="rgb(245,245,255)"/>
<rect x="51.13" y="180.30" width="10.52" height="2.15" fill="rgb(255,244,244)"/>
<rect x="61.50" y="180.30" width="10.52" height="2.15" fill="rgb(255,158,158)"/>
<rect x="71.87" y="180.30" width="10.52" height="2.15" fill="rgb(255,172,172)"/>
<rect x="82.23" y="180.30" width="10.52" height="2.15" fill="rgb(255,160,160)"/>
<rect x="92.60" y="180.30" width="10.52" height="2.15" fill="rgb(255,219,219)"/>
<rect x="102.97" y="180.30" width="10.52" height="2.15" fill="rgb(255,215,215)"/>
<rect x="113.33" y="180.30" width="10.52" height="2.15" fill="rgb(255,221,221)"/>
<rect x="30.40" y="182.30" width="10.52" height="2.15" fill="rgb(221,221,255)"/>
<rect x="40.77" y="182.30" width="10.52" height="2.15" fill="rgb(156,156,255)"/>
<rect x="51.13" y="182.30" width="10.52" height="2.15" fill="rgb(155,155,255)"/>
<rect x="61.50" y="182.30" width="10.52" height="2.15" fill="rgb(255,187,187)"/>
<rect x="71.87" y="182.30" width="10.52" height="2.15" fill="rgb(255,178,178)"/>
<rect x="82.23" y="182.30" width="10.52" height="2.15" fill="rgb(255,163,163)"/>
<rect x="92.60" y="182.30" width="10.52" height="2.15" fill="rgb(255,193,193)"/>
<rect x="102.97" y="182.30" width="10.52" height="2.15" fill="rgb(255,177,177)"/>
<rect x="113.33" y="182.30" width="10.52" height="2.15" fill="rgb(255,211,211)"/>
<rect x="30.40" y="184.30" width="10.52" height="2.15" fill="rgb(255,205,205)"/>
<rect x="40.77" y="184.30" width="10.52" height="2.15" fill="rgb(255,239,239)"/>
<rect x="51.13" y="184.30" width="10.52" height="2.15" fill="rgb(255,220,220)"/>
<rect x="61.50" y="184.30" width="10.52" height="2.15" fill="rgb(255,122,122)"/>
<rect x="71.87" y="184.30" width="10.52" height="2.15" fill="rgb(255,124,124)"/>
<rect x="82.23" y="184.30" width="10.52" height="2.15" fill="rgb(255,118,118)"/>
<rect x="92.60" y="184.30" width="10.52" height="2.15" fill="rgb(132,132,255)"/>
<rect x="102.97" y="184.30" width="10.52" height="2.15" fill="rgb(145,145,255)"/>
<rect x="113.33" y="184.30" width="10.52" height="2.15" fill="rgb(138,138,255)"/>
<rect x="30.40" y="186.30" width="10.52" height="2.15" fill="rgb(255,255,255)"/>
<rect x="40.77" y="186.30" width="10.52" height="2.15" fill="rgb(195,195,255)"/>
<rect x="51.13" y="186.30" width="10.52" height="2.15" fill="rgb(226,226,255)"/>
<rect x="61.50" y="186.30" width="10.52" height="2.15" fill="rgb(255,139,139)"/>
<rect x="71.87" y="186.30" width="10.52" height="2.15" fill="rgb(255,167,167)"/>
<rect x="82.23" y="186.30" width="10.52" height="2.15" fill="rgb(255,144,144)"/>
<rect x="92.60" y="186.30" width="10.52" height="2.15" fill="rgb(160,160,255)"/>
<rect x="102.97" y="186.30" width="10.52" height="2.15" fill="rgb(103,103,255)"/>
<rect x="113.33" y="186.30" width="10.52" height="2.15" fill="rgb(132,132,255)"/>
<rect x="30.40" y="188.30" width="10.52" height="2.15" fill="rgb(233,233,255)"/>
<rect x="40.77" y="188.30" width="10.52" height="2.15" fill="rgb(192,192,255)"/>
<rect x="51.13" y="188.30" width="10.52" height="2.15" fill="rgb(255,250,250)"/>
<rect x="61.50" y="188.30" width="10.52" height="2.15" fill="rgb(255,132,132)"/>
<rect x="71.87" y="188.30" width="10.52" height="2.15" fill="rgb(255,128,128)"/>
<rect x="82.23" y="188.30" width="10.52" height="2.15" fill="rgb(255,121,121)"/>
<rect x="92.60" y="188.30" width="10.52" height="2.15" fill="rgb(172,172,255)"/>
<rect x="102.97" y="188.30" width="10.52" height="2.15" fill="rgb(168,168,255)"/>
<rect x="113.33" y="188.30" width="10.52" height="2.15" fill="rgb(143,143,255)"/>
<rect x="30.40" y="190.30" width="10.52" height="2.15" fill="rgb(232,232,255)"/>
<rect x="40.77" y="190.30" width="10.52" height="2.15" fill="rgb(241,241,255)"/>
<rect x="51.13" y="190.30" width="10.52" height="2.15" fill="rgb(254,254,255)"/>
<rect x="61.50" y="190.30" width="10.52" height="2.15" fill="rgb(255,118,118)"/>
<rect x="71.87" y="190.30" width="10.52" height="2.15" fill="rgb(255,167,167)"/>
<rect x="82.23" y="190.30" width="10.52" height="2.15" fill="rgb(255,158,158)"/>
<rect x="92.60" y="190.30" width="10.52" height="2.15" fill="rgb(144,144,255)"/>
<rect x="102.97" y="190.30" width="10.52" height="2.15" fill="rgb(164,164,255)"/>
<rect x="113.33" y="190.30" width="10.52" height="2.15" fill="rgb(150,150,255)"/>
<rect x="30.40" y="192.30" width="10.52" height="2.15" fill="rgb(129,129,255)"/>
<rect x="40.77" y="192.30" width="10.52" height="2.15" fill="rgb(118,118,255)"/>
<rect x="51.13" y="192.30" width="10.52" height="2.15" fill="rgb(180,180,255)"/>
<rect x="61.50" y="192.30" width="10.52" height="2.15" fill="rgb(255,166,166)"/>
<rect x="71.87" y="192.30" width="10.52" height="2.15" fill="rgb(255,180,180)"/>
<rect x="82.23" y="192.30" width="10.52" height="2.15" fill="rgb(255,178,178)"/>
<rect x="92.60" y="192.30" width="10.52" height="2.15" fill="rgb(169,169,255)"/>
<rect x="102.97" y="192.30" width="10.52" height="2.15" fill="rgb(189,189,255)"/>
<rect x="113.33" y="192.30" width="10.52" height="2.15" fill="rgb(172,172,255)"/>
<rect x="30.40" y="194.30" width="10.52" height="2.15" fill="rgb(255,208,208)"/>
<rect x="40.77" y="194.30" width="10.52" height="2.15" fill="rgb(255,217,217)"/>
<rect x="51.13" y="194.30" width="10.52" height="2.15" fill="rgb(255,230,230)"/>
<rect x="61.50" y="194.30" width="10.52" height="2.15" fill="rgb(255,139,139)"/>
<rect x="71.87" y="194.30" width="10.52" height="2.15" fill="rgb(255,119,119)"/>
<rect x="82.23" y="194.30" width="10.52" height="2.15" fill="rgb(255,97,97)"/>
<rect x="92.60" y="194.30" width="10.52" height="2.15" fill="rgb(78,78,255)"/>
<rect x="102.97" y="194.30" width="10.52" height="2.15" fill="rgb(106,106,255)"/>
<rect x="113.33" y="194.30" width="10.52" height="2.15" fill="rgb(126,126,255)"/>
<rect x="30.40" y="196.30" width="10.52" height="2.15" fill="rgb(174,174,255)"/>
<rect x="40.77" y="196.30" width="10.52" height="2.15" fill="rgb(188,188,255)"/>
<rect x="51.13" y="196.30" width="10.52" height="2.15" fill="rgb(198,198,255)"/>
<rect x="61.50" y="196.30" width="10.52" height="2.15" fill="rgb(255,83,83)"/>
<rect x="71.87" y="196.30" width="10.52" height="2.15" fill="rgb(255,68,68)"/>
<rect x="82.23" y="196.30" width="10.52" height="2.15" fill="rgb(255,94,94)"/>
<rect x="92.60" y="196.30" width="10.52" height="2.15" fill="rgb(160,160,255)"/>
<rect x="102.97" y="196.30" width="10.52" height="2.15" fill="rgb(185,185,255)"/>
<rect x="113.33" y="196.30" width="10.52" height="2.15" fill="rgb(168,168,255)"/>
<rect x="30.40" y="198.30" width="10.52" height="2.15" fill="rgb(186,186,255)"/>
<rect x="40.77" y="198.30" width="10.52" height="2.15" fill="rgb(158,158,255)"/>
<rect x="51.13" y="198.30" width="10.52" height="2.15" fill="rgb(195,195,255)"/>
<rect x="61.50" y="198.30" width="10.52" height="2.15" fill="rgb(255,103,103)"/>
<rect x="71.87" y="198.30" width="10.52" height="2.15" fill="rgb(255,105,105)"/>
<rect x="82.23" y="198.30" width="10.52" height="2.15" fill="rgb(255,80,80)"/>
<rect x="92.60" y="198.30" width="10.52" height="2.15" fill="rgb(175,175,255)"/>
<rect x="102.97" y="198.30" width="10.52" height="2.15" fill="rgb(214,214,255)"/>
<rect x="113.33" y="198.30" width="10.52" height="2.15" fill="rgb(170,170,255)"/>
<rect x="30.40" y="200.30" width="10.52" height="2.15" fill="rgb(229,229,255)"/>
<rect x="40.77" y="200.30" width="10.52" height="2.15" fill="rgb(213,213,255)"/>
<rect x="51.13" y="200.30" width="10.52" height="2.15" fill="rgb(207,207,255)"/>
<rect x="61.50" y="200.30" width="10.52" height="2.15" fill="rgb(255,105,105)"/>
<rect x="71.87" y="200.30" width="10.52" height="2.15" fill="rgb(255,99,99)"/>
<rect x="82.23" y="200.30" width="10.52" height="2.15" fill="rgb(255,110,110)"/>
<rect x="92.60" y="200.30" width="10.52" height="2.15" fill="rgb(188,188,255)"/>
<rect x="102.97" y="200.30" width="10.52" height="2.15" fill="rgb(193,193,255)"/>
<rect x="113.33" y="200.30" width="10.52" height="2.15" fill="rgb(183,183,255)"/>
<rect x="30.40" y="202.30" width="10.52" height="2.15" fill="rgb(255,224,224)"/>
<rect x="40.77" y="202.30" width="10.52" height="2.15" fill="rgb(255,246,246)"/>
<rect x="51.13" y="202.30" width="10.52" height="2.15" fill="rgb(255,245,245)"/>
<rect x="61.50" y="202.30" width="10.52" height="2.15" fill="rgb(255,109,109)"/>
<rect x="71.87" y="202.30" width="10.52" height="2.15" fill="rgb(255,96,96)"/>
<rect x="82.23" y="202.30" width="10.52" height="2.15" fill="rgb(255,114,114)"/>
<rect x="92.60" y="202.30" width="10.52" height="2.15" fill="rgb(214,214,255)"/>
<rect x="102.97" y="202.30" width="10.52" height="2.15" fill="rgb(239,239,255)"/>
<rect x="113.33" y="202.30" width="10.52" height="2.15" fill="rgb(163,163,255)"/>
<rect x="30.40" y="204.30" width="10.52" height="2.15" fill="rgb(194,194,255)"/>
<rect x="40.77" y="204.30" width="10.52" height="2.15" fill="rgb(175,175,255)"/>
<rect x="51.13" y="204.30" width="10.52" height="2.15" fill="rgb(207,207,255)"/>
<rect x="61.50" y="204.30" width="10.52" height="2.15" fill="rgb(255,113,113)"/>
<rect x="71.87" y="204.30" width="10.52" height="2.15" fill="rgb(255,125,125)"/>
<rect x="82.23" y="204.30" width="10.52" height="2.15" fill="rgb(255,81,81)"/>
<rect x="92.60" y="204.30" width="10.52" height="2.15" fill="rgb(169,169,255)"/>
<rect x="102.97" y="204.30" width="10.52" height="2.15" fill="rgb(153,153,255)"/>
<rect x="113.33" y="204.30" width="10.52" height="2.15" fill="rgb(161,161,255)"/>
<rect x="30.40" y="206.30" width="10.52" height="2.15" fill="rgb(215,215,255)"/>
<rect x="40.77" y="206.30" width="10.52" height="2.15" fill="rgb(255,251,251)"/>
<rect x="51.13" y="206.30" width="10.52" height="2.15" fill="rgb(195,195,255)"/>
<rect x="61.50" y="206.30" width="10.52" height="2.15" fill="rgb(255,125,125)"/>
<rect x="71.87" y="206.30" width="10.52" height="2.15" fill="rgb(255,110,110)"/>
<rect x="82.23" y="206.30" width="10.52" height="2.15" fill="rgb(255,111,111)"/>
<rect x="92.60" y="206.30" width="10.52" height="2.15" fill="rgb(103,103,255)"/>
<rect x="102.97" y="206.30" width="10.52" height="2.15" fill="rgb(48,48,255)"/>
<rect x="113.33" y="206.30" width="10.52" height="2.15" fill="rgb(71,71,255)"/>
<rect x="30.40" y="208.30" width="10.52" height="2.15" fill="rgb(145,145,255)"/>
<rect x="40.77" y="208.30" width="10.52" height="2.15" fill="rgb(255,254,254)"/>
<rect x="51.13" y="208.30" width="10.52" height="2.15" fill="rgb(182,182,255)"/>
<rect x="61.50" y="208.30" width="10.52" height="2.15" fill="rgb(255,98,98)"/>
<rect x="71.87" y="208.30" width="10.52" height="2.15" fill="rgb(255,130,130)"/>
<rect x="82.23" y="208.30" width="10.52" height="2.15" fill="rgb(255,105,105)"/>
<rect x="92.60" y="208.30" width="10.52" height="2.15" fill="rgb(203,203,255)"/>
<rect x="102.97" y="208.30" width="10.52" height="2.15" fill="rgb(179,179,255)"/>
<rect x="113.33" y="208.30" width="10.52" height="2.15" fill="rgb(185,185,255)"/>
<rect x="30.40" y="210.30" width="10.52" height="2.15" fill="rgb(235,235,255)"/>
<rect x="40.77" y="210.30" width="10.52" height="2.15" fill="rgb(226,226,255)"/>
<rect x="51.13" y="210.30" width="10.52" height="2.15" fill="rgb(203,203,255)"/>
<rect x="61.50" y="210.30" width="10.52" height="2.15" fill="rgb(255,76,76)"/>
<rect x="71.87" y="210.30" width="10.52" height="2.15" fill="rgb(255,124,124)"/>
<rect x="82.23" y="210.30" width="10.52" height="2.15" fill="rgb(255,99,99)"/>
<rect x="92.60" y="210.30" width="10.52" height="2.15" fill="rgb(175,175,255)"/>
<rect x="102.97" y="210.30" width="10.52" height="2.15" fill="rgb(181,181,255)"/>
<rect x="113.33" y="210.30" width="10.52" height="2.15" fill="rgb(190,190,255)"/>
<rect x="30.40" y="212.30" width="10.52" height="2.15" fill="rgb(167,167,255)"/>
<rect x="40.77" y="212.30" width="10.52" height="2.15" fill="rgb(203,203,255)"/>
<rect x="51.13" y="212.30" width="10.52" height="2.15" fill="rgb(176,176,255)"/>
<rect x="61.50" y="212.30" width="10.52" height="2.15" fill="rgb(255,113,113)"/>
<rect x="71.87" y="212.30" width="10.52" height="2.15" fill="rgb(255,118,118)"/>
<rect x="82.23" y="212.30" width="10.52" height="2.15" fill="rgb(255,85,85)"/>
<rect x="92.60" y="212.30" width="10.52" height="2.15" fill="rgb(156,156,255)"/>
<rect x="102.97" y="212.30" width="10.52" height="2.15" fill="rgb(167,167,255)"/>
<rect x="113.33" y="212.30" width="10.52" height="2.15" fill="rgb(132,132,255)"/>
<rect x="30.40" y="214.30" width="10.52" height="2.15" fill="rgb(214,214,255)"/>
<rect x="40.77" y="214.30" width="10.52" height="2.15" fill="rgb(171,171,255)"/>
<rect x="51.13" y="214.30" width="10.52" height="2.15" fill="rgb(213,213,255)"/>
<rect x="61.50" y="214.30" width="10.52" height="2.15" fill="rgb(255,123,123)"/>
<rect x="71.87" y="214.30" width="10.52" height="2.15" fill="rgb(255,137,137)"/>
<rect x="82.23" y="214.30" width="10.52" height="2.15" fill="rgb(255,159,159)"/>
<rect x="92.60" y="214.30" width="10.52" height="2.15" fill="rgb(220,220,255)"/>
<rect x="102.97" y="214.30" width="10.52" height="2.15" fill="rgb(198,198,255)"/>
<rect x="113.33" y="214.30" width="10.52" height="2.15" fill="rgb(191,191,255)"/>
<rect x="30.40" y="216.30" width="10.52" height="2.15" fill="rgb(180,180,255)"/>
<rect x="40.77" y="216.30" width="10.52" height="2.15" fill="rgb(217,217,255)"/>
<rect x="51.13" y="216.30" width="10.52" height="2.15" fill="rgb(223,223,255)"/>
<rect x="61.50" y="216.30" width="10.52" height="2.15" fill="rgb(255,87,87)"/>
<rect x="71.87" y="216.30" width="10.52" height="2.15" fill="rgb(255,107,107)"/>
<rect x="82.23" y="216.30" width="10.52" height="2.15" fill="rgb(255,114,114)"/>
<rect x="92.60" y="216.30" width="10.52" height="2.15" fill="rgb(232,232,255)"/>
<rect x="102.97" y="216.30" width="10.52" height="2.15" fill="rgb(218,218,255)"/>
<rect x="113.33" y="216.30" width="10.52" height="2.15" fill="rgb(219,219,255)"/>
<rect x="30.40" y="218.30" width="10.52" height="2.15" fill="rgb(219,219,255)"/>
<rect x="40.77" y="218.30" width="10.52" height="2.15" fill="rgb(194,194,255)"/>
<rect x="51.13" y="218.30" width="10.52" height="2.15" fill="rgb(240,240,255)"/>
<rect x="61.50" y="218.30" width="10.52" height="2.15" fill="rgb(255,114,114)"/>
<rect x="71.87" y="218.30" width="10.52" height="2.15" fill="rgb(255,125,125)"/>
<rect x="82.23" y="218.30" width="10.52" height="2.15" fill="rgb(255,118,118)"/>
<rect x="92.60" y="218.30" width="10.52" height="2.15" fill="rgb(140,140,255)"/>
<rect x="102.97" y="218.30" width="10.52" height="2.15" fill="rgb(129,129,255)"/>
<rect x="113.33" y="218.30" width="10.52" height="2.15" fill="rgb(147,147,255)"/>
<rect x="30.40" y="220.30" width="10.52" height="2.15" fill="rgb(212,212,255)"/>
<rect x="40.77" y="220.30" width="10.52" height="2.15" fill="rgb(173,173,255)"/>
<rect x="51.13" y="220.30" width="10.52" height="2.15" fill="rgb(200,200,255)"/>
<rect x="61.50" y="220.30" width="10.52" height="2.15" fill="rgb(255,115,115)"/>
<rect x="71.87" y="220.30" width="10.52" height="2.15" fill="rgb(255,106,106)"/>
<rect x="82.23" y="220.30" width="10.52" height="2.15" fill="rgb(255,116,116)"/>
<rect x="92.60" y="220.30" width="10.52" height="2.15" fill="rgb(232,232,255)"/>
<rect x="102.97" y="220.30" width="10.52" height="2.15" fill="rgb(198,198,255)"/>
<rect x="113.33" y="220.30" width="10.52" height="2.15" fill="rgb(216,216,255)"/>
<rect x="30.40" y="222.30" width="10.52" height="2.15" fill="rgb(185,185,255)"/>
<rect x="40.77" y="222.30" width="10.52" height="2.15" fill="rgb(212,212,255)"/>
<rect x="51.13" y="222.30" width="10.52" height="2.15" fill="rgb(182,182,255)"/>
<rect x="61.50" y="222.30" width="10.52" height="2.15" fill="rgb(255,107,107)"/>
<rect x="71.87" y="222.30" width="10.52" height="2.15" fill="rgb(255,101,101)"/>
<rect x="82.23" y="222.30" width="10.52" height="2.15" fill="rgb(255,116,116)"/>
<rect x="92.60" y="222.30" width="10.52" height="2.15" fill="rgb(149,149,255)"/>
<rect x="102.97" y="222.30" width="10.52" height="2.15" fill="rgb(159,159,255)"/>
<rect x="113.33" y="222.30" width="10.52" height="2.15" fill="rgb(183,183,255)"/>
<rect x="30.40" y="224.30" width="10.52" height="2.15" fill="rgb(155,155,255)"/>
<rect x="40.77" y="224.30" width="10.52" height="2.15" fill="rgb(141,141,255)"/>
<rect x="51.13" y="224.30" width="10.52" height="2.15" fill="rgb(155,155,255)"/>
<rect x="61.50" y="224.30" width="10.52" height="2.15" fill="rgb(255,122,122)"/>
<rect x="71.87" y="224.30" width="10.52" height="2.15" fill="rgb(255,139,139)"/>
<rect x="82.23" y="224.30" width="10.52" height="2.15" fill="rgb(255,144,144)"/>
<rect x="92.60" y="224.30" width="10.52" height="2.15" fill="rgb(196,196,255)"/>
<rect x="102.97" y="224.30" width="10.52" height="2.15" fill="rgb(219,219,255)"/>
<rect x="113.33" y="224.30" width="10.52" height="2.15" fill="rgb(197,197,255)"/>
<rect x="30.40" y="226.30" width="10.52" height="2.15" fill="rgb(160,160,255)"/>
<rect x="40.77" y="226.30" width="10.52" height="2.15" fill="rgb(141,141,255)"/>
<rect x="51.13" y="226.30" width="10.52" height="2.15" fill="rgb(168,168,255)"/>
<rect x="61.50" y="226.30" width="10.52" height="2.15" fill="rgb(255,157,157)"/>
<rect x="71.87" y="226.30" width="10.52" height="2.15" fill="rgb(255,124,124)"/>
<rect x="82.23" y="226.30" width="10.52" height="2.15" fill="rgb(255,136,136)"/>
<rect x="92.60" y="226.30" width="10.52" height="2.15" fill="rgb(117,117,255)"/>
<rect x="102.97" y="226.30" width="10.52" height="2.15" fill="rgb(156,156,255)"/>
<rect x="113.33" y="226.30" width="10.52" height="2.15" fill="rgb(141,141,255)"/>
<rect x="30.40" y="228.30" width="10.52" height="2.15" fill="rgb(117,117,255)"/>
<rect x="40.77" y="228.30" width="10.52" height="2.15" fill="rgb(138,138,255)"/>
<rect x="51.13" y="228.30" width="10.52" height="2.15" fill="rgb(138,138,255)"/>
<rect x="61.50" y="228.30" width="10.52" height="2.15" fill="rgb(255,122,122)"/>
<rect x="71.87" y="228.30" width="10.52" height="2.15" fill="rgb(255,126,126)"/>
<rect x="82.23" y="228.30" width="10.52" height="2.15" fill="rgb(255,114,114)"/>
<rect x="92.60" y="228.30" width="10.52" height="2.15" fill="rgb(198,198,255)"/>
<rect x="102.97" y="228.30" width="10.52" height="2.15" fill="rgb(195,195,255)"/>
<rect x="113.33" y="228.30" width="10.52" height="2.15" fill="rgb(158,158,255)"/>
<rect x="30.40" y="230.30" width="10.52" height="2.15" fill="rgb(203,203,255)"/>
<rect x="40.77" y="230.30" width="10.52" height="2.15" fill="rgb(244,244,255)"/>
<rect x="51.13" y="230.30" width="10.52" height="2.15" fill="rgb(181,181,255)"/>
<rect x="61.50" y="230.30" width="10.52" height="2.15" fill="rgb(255,81,81)"/>
<rect x="71.87" y="230.30" width="10.52" height="2.15" fill="rgb(255,57,57)"/>
<rect x="82.23" y="230.30" width="10.52" height="2.15" fill="rgb(255,98,98)"/>
<rect x="92.60" y="230.30" width="10.52" height="2.15" fill="rgb(185,185,255)"/>
<rect x="102.97" y="230.30" width="10.52" height="2.15" fill="rgb(202,202,255)"/>
<rect x="113.33" y="230.30" width="10.52" height="2.15" fill="rgb(173,173,255)"/>
<rect x="30.40" y="232.30" width="10.52" height="2.15" fill="rgb(200,200,255)"/>
<rect x="40.77" y="232.30" width="10.52" height="2.15" fill="rgb(207,207,255)"/>
<rect x="51.13" y="232.30" width="10.52" height="2.15" fill="rgb(216,216,255)"/>
<rect x="61.50" y="232.30" width="10.52" height="2.15" fill="rgb(255,96,96)"/>
<rect x="71.87" y="232.30" width="10.52" height="2.15" fill="rgb(255,97,97)"/>
<rect x="82.23" y="232.30" width="10.52" height="2.15" fill="rgb(255,108,108)"/>
<rect x="92.60" y="232.30" width="10.52" height="2.15" fill="rgb(155,155,255)"/>
<rect x="102.97" y="232.30" width="10.52" height="2.15" fill="rgb(173,173,255)"/>
<rect x="113.33" y="232.30" width="10.52" height="2.15" fill="rgb(162,162,255)"/>
<rect x="30.40" y="234.30" width="10.52" height="2.15" fill="rgb(182,182,255)"/>
<rect x="40.77" y="234.30" width="10.52" height="2.15" fill="rgb(174,174,255)"/>
<rect x="51.13" y="234.30" width="10.52" height="2.15" fill="rgb(118,118,255)"/>
<rect x="61.50" y="234.30" width="10.52" height="2.15" fill="rgb(255,122,122)"/>
<rect x="71.87" y="234.30" width="10.52" height="2.15" fill="rgb(255,123,123)"/>
<rect x="82.23" y="234.30" width="10.52" height="2.15" fill="rgb(255,109,109)"/>
<rect x="92.60" y="234.30" width="10.52" height="2.15" fill="rgb(251,251,255)"/>
<rect x="102.97" y="234.30" width="10.52" height="2.15" fill="rgb(243,243,255)"/>
<rect x="113.33" y="234.30" width="10.52" height="2.15" fill="rgb(252,252,255)"/>
<rect x="30.40" y="236.30" width="10.52" height="2.15" fill="rgb(121,121,255)"/>
<rect x="40.77" y="236.30" width="10.52" height="2.15" fill="rgb(156,156,255)"/>
<rect x="51.13" y="236.30" width="10.52" height="2.15" fill="rgb(164,164,255)"/>
<rect x="61.50" y="236.30" width="10.52" height="2.15" fill="rgb(255,110,110)"/>
<rect x="71.87" y="236.30" width="10.52" height="2.15" fill="rgb(255,101,101)"/>
<rect x="82.23" y="236.30" width="10.52" height="2.15" fill="rgb(255,89,89)"/>
<rect x="92.60" y="236.30" width="10.52" height="2.15" fill="rgb(192,192,255)"/>
<rect x="102.97" y="236.30" width="10.52" height="2.15" fill="rgb(183,183,255)"/>
<rect x="113.33" y="236.30" width="10.52" height="2.15" fill="rgb(175,175,255)"/>
<rect x="30.40" y="238.30" width="10.52" height="2.15" fill="rgb(221,221,255)"/>
<rect x="40.77" y="238.30" width="10.52" height="2.15" fill="rgb(255,236,236)"/>
<rect x="51.13" y="238.30" width="10.52" height="2.15" fill="rgb(255,248,248)"/>
<rect x="61.50" y="238.30" width="10.52" height="2.15" fill="rgb(255,70,70)"/>
<rect x="71.87" y="238.30" width="10.52" height="2.15" fill="rgb(255,83,83)"/>
<rect x="82.23" y="238.30" width="10.52" height="2.15" fill="rgb(255,103,103)"/>
<rect x="92.60" y="238.30" width="10.52" height="2.15" fill="rgb(157,157,255)"/>
<rect x="102.97" y="238.30" width="10.52" height="2.15" fill="rgb(122,122,255)"/>
<rect x="113.33" y="238.30" width="10.52" height="2.15" fill="rgb(142,142,255)"/>
<rect x="30.40" y="240.30" width="10.52" height="2.15" fill="rgb(183,183,255)"/>
<rect x="40.77" y="240.30" width="10.52" height="2.15" fill="rgb(193,193,255)"/>
<rect x="51.13" y="240.30" width="10.52" height="2.15" fill="rgb(191,191,255)"/>
<rect x="61.50" y="240.30" width="10.52" height="2.15" fill="rgb(255,95,95)"/>
<rect x="71.87" y="240.30" width="10.52" height="2.15" fill="rgb(255,100,100)"/>
<rect x="82.23" y="240.30" width="10.52" height="2.15" fill="rgb(255,107,107)"/>
<rect x="92.60" y="240.30" width="10.52" height="2.15" fill="rgb(176,176,255)"/>
<rect x="102.97" y="240.30" width="10.52" height="2.15" fill="rgb(165,165,255)"/>
<rect x="113.33" y="240.30" width="10.52" height="2.15" fill="rgb(152,152,255)"/>
<rect x="30.40" y="242.30" width="10.52" height="2.15" fill="rgb(172,172,255)"/>
<rect x="40.77" y="242.30" width="10.52" height="2.15" fill="rgb(169,169,255)"/>
<rect x="51.13" y="242.30" width="10.52" height="2.15" fill="rgb(172,172,255)"/>
<rect x="61.50" y="242.30" width="10.52" height="2.15" fill="rgb(255,114,114)"/>
<rect x="71.87" y="242.30" width="10.52" height="2.15" fill="rgb(255,128,128)"/>
<rect x="82.23" y="242.30" width="10.52" height="2.15" fill="rgb(255,108,108)"/>
<rect x="92.60" y="242.30" width="10.52" height="2.15" fill="rgb(194,194,255)"/>
<rect x="102.97" y="242.30" width="10.52" height="2.15" fill="rgb(185,185,255)"/>
<rect x="113.33" y="242.30" width="10.52" height="2.15" fill="rgb(176,176,255)"/>
<rect x="30.40" y="244.30" width="10.52" height="2.15" fill="rgb(200,200,255)"/>
<rect x="40.77" y="244.30" width="10.52" height="2.15" fill="rgb(183,183,255)"/>
<rect x="51.13" y="244.30" width="10.52" height="2.15" fill="rgb(211,211,255)"/>
<rect x="61.50" y="244.30" width="10.52" height="2.15" fill="rgb(255,145,145)"/>
<rect x="71.87" y="244.30" width="10.52" height="2.15" fill="rgb(255,164,164)"/>
<rect x="82.23" y="244.30" width="10.52" height="2.15" fill="rgb(255,144,144)"/>
<rect x="92.60" y="244.30" width="10.52" height="2.15" fill="rgb(160,160,255)"/>
<rect x="102.97" y="244.30" width="10.52" height="2.15" fill="rgb(131,131,255)"/>
<rect x="113.33" y="244.30" width="10.52" height="2.15" fill="rgb(117,117,255)"/>
<rect x="30.40" y="246.30" width="10.52" height="2.15" fill="rgb(168,168,255)"/>
<rect x="40.77" y="246.30" width="10.52" height="2.15" fill="rgb(191,191,255)"/>
<rect x="51.13" y="246.30" width="10.52" height="2.15" fill="rgb(178,178,255)"/>
<rect x="61.50" y="246.30" width="10.52" height="2.15" fill="rgb(255,103,103)"/>
<rect x="71.87" y="246.30" width="10.52" height="2.15" fill="rgb(255,95,95)"/>
<rect x="82.23" y="246.30" width="10.52" height="2.15" fill="rgb(255,82,82)"/>
<rect x="92.60" y="246.30" width="10.52" height="2.15" fill="rgb(207,207,255)"/>
<rect x="102.97" y="246.30" width="10.52" height="2.15" fill="rgb(208,208,255)"/>
<rect x="113.33" y="246.30" width="10.52" height="2.15" fill="rgb(177,177,255)"/>
<rect x="30.40" y="248.30" width="10.52" height="2.15" fill="rgb(201,201,255)"/>
<rect x="40.77" y="248.30" width="10.52" height="2.15" fill="rgb(193,193,255)"/>
<rect x="51.13" y="248.30" width="10.52" height="2.15" fill="rgb(198,198,255)"/>
<rect x="61.50" y="248.30" width="10.52" height="2.15" fill="rgb(255,101,101)"/>
<rect x="71.87" y="248.30" width="10.52" height="2.15" fill="rgb(255,67,67)"/>
<rect x="82.23" y="248.30" width="10.52" height="2.15" fill="rgb(255,83,83)"/>
<rect x="92.60" y="248.30" width="10.52" height="2.15" fill="rgb(171,171,255)"/>
<rect x="102.97" y="248.30" width="10.52" height="2.15" fill="rgb(176,176,255)"/>
<rect x="113.33" y="248.30" width="10.52" height="2.15" fill="rgb(213,213,255)"/>
<rect x="30.40" y="250.30" width="10.52" height="2.15" fill="rgb(177,177,255)"/>
<rect x="40.77" y="250.30" width="10.52" height="2.15" fill="rgb(157,157,255)"/>
<rect x="51.13" y="250.30" width="10.52" height="2.15" fill="rgb(180,180,255)"/>
<rect x="61.50" y="250.30" width="10.52" height="2.15" fill="rgb(255,91,91)"/>
<rect x="71.87" y="250.30" width="10.52" height="2.15" fill="rgb(255,82,82)"/>
<rect x="82.23" y="250.30" width="10.52" height="2.15" fill="rgb(255,86,86)"/>
<rect x="92.60" y="250.30" width="10.52" height="2.15" fill="rgb(205,205,255)"/>
<rect x="102.97" y="250.30" width="10.52" height="2.15" fill="rgb(217,217,255)"/>
<rect x="113.33" y="250.30" width="10.52" height="2.15" fill="rgb(212,212,255)"/>
<rect x="30.40" y="252.30" width="10.52" height="2.15" fill="rgb(204,204,255)"/>
<rect x="40.77" y="252.30" width="10.52" height="2.15" fill="rgb(174,174,255)"/>
<rect x="51.13" y="252.30" width="10.52" height="2.15" fill="rgb(181,181,255)"/>
<rect x="61.50" y="252.30" width="10.52" height="2.15" fill="rgb(255,112,112)"/>
<rect x="71.87" y="252.30" width="10.52" height="2.15" fill="rgb(255,130,130)"/>
<rect x="82.23" y="252.30" width="10.52" height="2.15" fill="rgb(255,117,117)"/>
<rect x="92.60" y="252.30" width="10.52" height="2.15" fill="rgb(146,146,255)"/>
<rect x="102.97" y="252.30" width="10.52" height="2.15" fill="rgb(166,166,255)"/>
<rect x="113.33" y="252.30" width="10.52" height="2.15" fill="rgb(184,184,255)"/>
<rect x="30.40" y="254.30" width="10.52" height="2.15" fill="rgb(178,178,255)"/>
<rect x="40.77" y="254.30" width="10.52" height="2.15" fill="rgb(233,233,255)"/>
<rect x="51.13" y="254.30" width="10.52" height="2.15" fill="rgb(211,211,255)"/>
<rect x="61.50" y="254.30" width="10.52" height="2.15" fill="rgb(255,100,100)"/>
<rect x="71.87" y="254.30" width="10.52" height="2.15" fill="rgb(255,125,125)"/>
<rect x="82.23" y="254.30" width="10.52" height="2.15" fill="rgb(255,116,116)"/>
<rect x="92.60" y="254.30" width="10.52" height="2.15" fill="rgb(149,149,255)"/>
<rect x="102.97" y="254.30" width="10.52" height="2.15" fill="rgb(187,187,255)"/>
<rect x="113.33" y="254.30" width="10.52" height="2.15" fill="rgb(190,190,255)"/>
<rect x="30.40" y="256.30" width="10.52" height="2.15" fill="rgb(104,104,255)"/>
<rect x="40.77" y="256.30" width="10.52" height="2.15" fill="rgb(103,103,255)"/>
<rect x="51.13" y="256.30" width="10.52" height="2.15" fill="rgb(116,116,255)"/>
<rect x="61.50" y="256.30" width="10.52" height="2.15" fill="rgb(255,122,122)"/>
<rect x="71.87" y="256.30" width="10.52" height="2.15" fill="rgb(255,131,131)"/>
<rect x="82.23" y="256.30" width="10.52" height="2.15" fill="rgb(255,113,113)"/>
<rect x="92.60" y="256.30" width="10.52" height="2.15" fill="rgb(200,200,255)"/>
<rect x="102.97" y="256.30" width="10.52" height="2.15" fill="rgb(206,206,255)"/>
<rect x="113.33" y="256.30" width="10.52" height="2.15" fill="rgb(207,207,255)"/>
<rect x="30.40" y="258.30" width="10.52" height="2.15" fill="rgb(219,219,255)"/>
<rect x="40.77" y="258.30" width="10.52" height="2.15" fill="rgb(209,209,255)"/>
<rect x="51.13" y="258.30" width="10.52" height="2.15" fill="rgb(209,209,255)"/>
<rect x="61.50" y="258.30" width="10.52" height="2.15" fill="rgb(255,91,91)"/>
<rect x="71.87" y="258.30" width="10.52" height="2.15" fill="rgb(255,90,90)"/>
<rect x="82.23" y="258.30" width="10.52" height="2.15" fill="rgb(255,84,84)"/>
<rect x="92.60" y="258.30" width="10.52" height="2.15" fill="rgb(127,127,255)"/>
<rect x="102.97" y="258.30" width="10.52" height="2.15" fill="rgb(132,132,255)"/>
<rect x="113.33" y="258.30" width="10.52" height="2.15" fill="rgb(150,150,255)"/>
<rect x="30.40" y="260.30" width="10.52" height="2.15" fill="rgb(168,168,255)"/>
<rect x="40.77" y="260.30" width="10.52" height="2.15" fill="rgb(193,193,255)"/>
<rect x="51.13" y="260.30" width="10.52" height="2.15" fill="rgb(187,187,255)"/>
<rect x="61.50" y="260.30" width="10.52" height="2.15" fill="rgb(255,120,120)"/>
<rect x="71.87" y="260.30" width="10.52" height="2.15" fill="rgb(255,127,127)"/>
<rect x="82.23" y="260.30" width="10.52" height="2.15" fill="rgb(255,121,121)"/>
<rect x="92.60" y="260.30" width="10.52" height="2.15" fill="rgb(140,140,255)"/>
<rect x="102.97" y="260.30" width="10.52" height="2.15" fill="rgb(166,166,255)"/>
<rect x="113.33" y="260.30" width="10.52" height="2.15" fill="rgb(181,181,255)"/>
<rect x="30.40" y="262.30" width="10.52" height="2.15" fill="rgb(121,121,255)"/>
<rect x="40.77" y="262.30" width="10.52" height="2.15" fill="rgb(141,141,255)"/>
<rect x="51.13" y="262.30" width="10.52" height="2.15" fill="rgb(140,140,255)"/>
<rect x="61.50" y="262.30" width="10.52" height="2.15" fill="rgb(255,103,103)"/>
<rect x="71.87" y="262.30" width="10.52" height="2.15" fill="rgb(255,101,101)"/>
<rect x="82.23" y="262.30" width="10.52" height="2.15" fill="rgb(255,109,109)"/>
<rect x="92.60" y="262.30" width="10.52" height="2.15" fill="rgb(172,172,255)"/>
<rect x="102.97" y="262.30" width="10.52" height="2.15" fill="rgb(183,183,255)"/>
<rect x="113.33" y="262.30" width="10.52" height="2.15" fill="rgb(184,184,255)"/>
<rect x="30.40" y="264.30" width="10.52" height="2.15" fill="rgb(183,183,255)"/>
<rect x="40.77" y="264.30" width="10.52" height="2.15" fill="rgb(200,200,255)"/>
<rect x="51.13" y="264.30" width="10.52" height="2.15" fill="rgb(194,194,255)"/>
<rect x="61.50" y="264.30" width="10.52" height="2.15" fill="rgb(255,121,121)"/>
<rect x="71.87" y="264.30" width="10.52" height="2.15" fill="rgb(255,108,108)"/>
<rect x="82.23" y="264.30" width="10.52" height="2.15" fill="rgb(255,113,113)"/>
<rect x="92.60" y="264.30" width="10.52" height="2.15" fill="rgb(166,166,255)"/>
<rect x="102.97" y="264.30" width="10.52" height="2.15" fill="rgb(172,172,255)"/>
<rect x="113.33" y="264.30" width="10.52" height="2.15" fill="rgb(158,158,255)"/>
<rect x="30.40" y="266.30" width="10.52" height="2.15" fill="rgb(252,252,255)"/>
<rect x="40.77" y="266.30" width="10.52" height="2.15" fill="rgb(255,241,241)"/>
<rect x="51.13" y="266.30" width="10.52" height="2.15" fill="rgb(209,209,255)"/>
<rect x="61.50" y="266.30" width="10.52" height="2.15" fill="rgb(255,128,128)"/>
<rect x="71.87" y="266.30" width="10.52" height="2.15" fill="rgb(255,116,116)"/>
<rect x="82.23" y="266.30" width="10.52" height="2.15" fill="rgb(255,112,112)"/>
<rect x="92.60" y="266.30" width="10.52" height="2.15" fill="rgb(242,242,255)"/>
<rect x="102.97" y="266.30" width="10.52" height="2.15" fill="rgb(212,212,255)"/>
<rect x="113.33" y="266.30" width="10.52" height="2.15" fill="rgb(226,226,255)"/>
<rect x="30.40" y="268.30" width="10.52" height="2.15" fill="rgb(205,205,255)"/>
<rect x="40.77" y="268.30" width="10.52" height="2.15" fill="rgb(216,216,255)"/>
<rect x="51.13" y="268.30" width="10.52" height="2.15" fill="rgb(189,189,255)"/>
<rect x="61.50" y="268.30" width="10.52" height="2.15" fill="rgb(255,80,80)"/>
<rect x="71.87" y="268.30" width="10.52" height="2.15" fill="rgb(255,107,107)"/>
<rect x="82.23" y="268.30" width="10.52" height="2.15" fill="rgb(255,91,91)"/>
<rect x="92.60" y="268.30" width="10.52" height="2.15" fill="rgb(225,225,255)"/>
<rect x="102.97" y="268.30" width="10.52" height="2.15" fill="rgb(190,190,255)"/>
<rect x="113.33" y="268.30" width="10.52" height="2.15" fill="rgb(194,194,255)"/>
<rect x="30.40" y="270.30" width="10.52" height="2.15" fill="rgb(223,223,255)"/>
<rect x="40.77" y="270.30" width="10.52" height="2.15" fill="rgb(228,228,255)"/>
<rect x="51.13" y="270.30" width="10.52" height="2.15" fill="rgb(230,230,255)"/>
<rect x="61.50" y="270.30" width="10.52" height="2.15" fill="rgb(255,122,122)"/>
<rect x="71.87" y="270.30" width="10.52" height="2.15" fill="rgb(255,91,91)"/>
<rect x="82.23" y="270.30" width="10.52" height="2.15" fill="rgb(255,92,92)"/>
<rect x="92.60" y="270.30" width="10.52" height="2.15" fill="rgb(163,163,255)"/>
<rect x="102.97" y="270.30" width="10.52" height="2.15" fill="rgb(166,166,255)"/>
<rect x="113.33" y="270.30" width="10.52" height="2.15" fill="rgb(156,156,255)"/>
<rect x="30.40" y="272.30" width="10.52" height="2.15" fill="rgb(217,217,255)"/>
<rect x="40.77" y="272.30" width="10.52" height="2.15" fill="rgb(213,213,255)"/>
<rect x="51.13" y="272.30" width="10.52" height="2.15" fill="rgb(238,238,255)"/>
<rect x="61.50" y="272.30" width="10.52" height="2.15" fill="rgb(255,110,110)"/>
<rect x="71.87" y="272.30" width="10.52" height="2.15" fill="rgb(255,127,127)"/>
<rect x="82.23" y="272.30" width="10.52" height="2.15" fill="rgb(255,135,135)"/>
<rect x="92.60" y="272.30" width="10.52" height="2.15" fill="rgb(209,209,255)"/>
<rect x="102.97" y="272.30" width="10.52" height="2.15" fill="rgb(197,197,255)"/>
<rect x="113.33" y="272.30" width="10.52" height="2.15" fill="rgb(202,202,255)"/>
<rect x="30.40" y="274.30" width="10.52" height="2.15" fill="rgb(255,243,243)"/>
<rect x="40.77" y="274.30" width="10.52" height="2.15" fill="rgb(228,228,255)"/>
<rect x="51.13" y="274.30" width="10.52" height="2.15" fill="rgb(242,242,255)"/>
<rect x="61.50" y="274.30" width="10.52" height="2.15" fill="rgb(255,99,99)"/>
<rect x="71.87" y="274.30" width="10.52" height="2.15" fill="rgb(255,91,91)"/>
<rect x="82.23" y="274.30" width="10.52" height="2.15" fill="rgb(255,112,112)"/>
<rect x="92.60" y="274.30" width="10.52" height="2.15" fill="rgb(195,195,255)"/>
<rect x="102.97" y="274.30" width="10.52" height="2.15" fill="rgb(189,189,255)"/>
<rect x="113.33" y="274.30" width="10.52" height="2.15" fill="rgb(151,151,255)"/>
<rect x="30.40" y="276.30" width="10.52" height="2.15" fill="rgb(137,137,255)"/>
<rect x="40.77" y="276.30" width="10.52" height="2.15" fill="rgb(144,144,255)"/>
<rect x="51.13" y="276.30" width="10.52" height="2.15" fill="rgb(140,140,255)"/>
<rect x="61.50" y="276.30" width="10.52" height="2.15" fill="rgb(255,146,146)"/>
<rect x="71.87" y="276.30" width="10.52" height="2.15" fill="rgb(255,158,158)"/>
<rect x="82.23" y="276.30" width="10.52" height="2.15" fill="rgb(255,144,144)"/>
<rect x="92.60" y="276.30" width="10.52" height="2.15" fill="rgb(188,188,255)"/>
<rect x="102.97" y="276.30" width="10.52" height="2.15" fill="rgb(208,208,255)"/>
<rect x="113.33" y="276.30" width="10.52" height="2.15" fill="rgb(214,214,255)"/>
<rect x="30.40" y="278.30" width="10.52" height="2.15" fill="rgb(202,202,255)"/>
<rect x="40.77" y="278.30" width="10.52" height="2.15" fill="rgb(191,191,255)"/>
<rect x="51.13" y="278.30" width="10.52" height="2.15" fill="rgb(226,226,255)"/>
<rect x="61.50" y="278.30" width="10.52" height="2.15" fill="rgb(255,108,108)"/>
<rect x="71.87" y="278.30" width="10.52" height="2.15" fill="rgb(255,119,119)"/>
<rect x="82.23" y="278.30" width="10.52" height="2.15" fill="rgb(255,123,123)"/>
<rect x="92.60" y="278.30" width="10.52" height="2.15" fill="rgb(150,150,255)"/>
<rect x="102.97" y="278.30" width="10.52" height="2.15" fill="rgb(146,146,255)"/>
<rect x="113.33" y="278.30" width="10.52" height="2.15" fill="rgb(155,155,255)"/>
<rect x="30.40" y="280.30" width="10.52" height="2.15" fill="rgb(230,230,255)"/>
<rect x="40.77" y="280.30" width="10.52" height="2.15" fill="rgb(182,182,255)"/>
<rect x="51.13" y="280.30" width="10.52" height="2.15" fill="rgb(195,195,255)"/>
<rect x="61.50" y="280.30" width="10.52" height="2.15" fill="rgb(255,68,68)"/>
<rect x="71.87" y="280.30" width="10.52" height="2.15" fill="rgb(255,126,126)"/>
<rect x="82.23" y="280.30" width="10.52" height="2.15" fill="rgb(255,109,109)"/>
<rect x="92.60" y="280.30" width="10.52" height="2.15" fill="rgb(197,197,255)"/>
<rect x="102.97" y="280.30" width="10.52" height="2.15" fill="rgb(197,197,255)"/>
<rect x="113.33" y="280.30" width="10.52" height="2.15" fill="rgb(201,201,255)"/>
<rect x="30.40" y="282.30" width="10.52" height="2.15" fill="rgb(193,193,255)"/>
<rect x="40.77" y="282.30" width="10.52" height="2.15" fill="rgb(147,147,255)"/>
<rect x="51.13" y="282.30" width="10.52" height="2.15" fill="rgb(165,165,255)"/>
<rect x="61.50" y="282.30" width="10.52" height="2.15" fill="rgb(255,106,106)"/>
<rect x="71.87" y="282.30" width="10.52" height="2.15" fill="rgb(255,118,118)"/>
<rect x="82.23" y="282.30" width="10.52" height="2.15" fill="rgb(255,118,118)"/>
<rect x="92.60" y="282.30" width="10.52" height="2.15" fill="rgb(192,192,255)"/>
<rect x="102.97" y="282.30" width="10.52" height="2.15" fill="rgb(173,173,255)"/>
<rect x="113.33" y="282.30" width="10.52" height="2.15" fill="rgb(192,192,255)"/>
<rect x="30.40" y="284.30" width="10.52" height="2.15" fill="rgb(205,205,255)"/>
<rect x="40.77" y="284.30" width="10.52" height="2.15" fill="rgb(183,183,255)"/>
<rect x="51.13" y="284.30" width="10.52" height="2.15" fill="rgb(206,206,255)"/>
<rect x="61.50" y="284.30" width="10.52" height="2.15" fill="rgb(255,101,101)"/>
<rect x="71.87" y="284.30" width="10.52" height="2.15" fill="rgb(255,113,113)"/>
<rect x="82.23" y="284.30" width="10.52" height="2.15" fill="rgb(255,108,108)"/>
<rect x="92.60" y="284.30" width="10.52" height="2.15" fill="rgb(204,204,255)"/>
<rect x="102.97" y="284.30" width="10.52" height="2.15" fill="rgb(180,180,255)"/>
<rect x="113.33" y="284.30" width="10.52" height="2.15" fill="rgb(203,203,255)"/>
<rect x="30.40" y="286.30" width="10.52" height="2.15" fill="rgb(235,235,255)"/>
<rect x="40.77" y="286.30" width="10.52" height="2.15" fill="rgb(255,246,246)"/>
<rect x="51.13" y="286.30" width="10.52" height="2.15" fill="rgb(243,243,255)"/>
<rect x="61.50" y="286.30" width="10.52" height="2.15" fill="rgb(255,113,113)"/>
<rect x="71.87" y="286.30" width="10.52" height="2.15" fill="rgb(255,132,132)"/>
<rect x="82.23" y="286.30" width="10.52" height="2.15" fill="rgb(255,124,124)"/>
<rect x="92.60" y="286.30" width="10.52" height="2.15" fill="rgb(185,185,255)"/>
<rect x="102.97" y="286.30" width="10.52" height="2.15" fill="rgb(159,159,255)"/>
<rect x="113.33" y="286.30" width="10.52" height="2.15" fill="rgb(206,206,255)"/>
<rect x="30.40" y="288.30" width="10.52" height="2.15" fill="rgb(209,209,255)"/>
<rect x="40.77" y="288.30" width="10.52" height="2.15" fill="rgb(219,219,255)"/>
<rect x="51.13" y="288.30" width="10.52" height="2.15" fill="rgb(217,217,255)"/>
<rect x="61.50" y="288.30" width="10.52" height="2.15" fill="rgb(255,165,165)"/>
<rect x="71.87" y="288.30" width="10.52" height="2.15" fill="rgb(255,150,150)"/>
<rect x="82.23" y="288.30" width="10.52" height="2.15" fill="rgb(255,129,129)"/>
<rect x="92.60" y="288.30" width="10.52" height="2.15" fill="rgb(191,191,255)"/>
<rect x="102.97" y="288.30" width="10.52" height="2.15" fill="rgb(184,184,255)"/>
<rect x="113.33" y="288.30" width="10.52" height="2.15" fill="rgb(179,179,255)"/>
<rect x="30.40" y="290.30" width="10.52" height="2.15" fill="rgb(160,160,255)"/>
<rect x="40.77" y="290.30" width="10.52" height="2.15" fill="rgb(157,157,255)"/>
<rect x="51.13" y="290.30" width="10.52" height="2.15" fill="rgb(191,191,255)"/>
<rect x="61.50" y="290.30" width="10.52" height="2.15" fill="rgb(255,113,113)"/>
<rect x="71.87" y="290.30" width="10.52" height="2.15" fill="rgb(255,114,114)"/>
<rect x="82.23" y="290.30" width="10.52" height="2.15" fill="rgb(255,100,100)"/>
<rect x="92.60" y="290.30" width="10.52" height="2.15" fill="rgb(229,229,255)"/>
<rect x="102.97" y="290.30" width="10.52" height="2.15" fill="rgb(206,206,255)"/>
<rect x="113.33" y="290.30" width="10.52" height="2.15" fill="rgb(204,204,255)"/>
<rect x="30.40" y="292.30" width="10.52" height="2.15" fill="rgb(191,191,255)"/>
<rect x="40.77" y="292.30" width="10.52" height="2.15" fill="rgb(185,185,255)"/>
<rect x="51.13" y="292.30" width="10.52" height="2.15" fill="rgb(202,202,255)"/>
<rect x="61.50" y="292.30" width="10.52" height="2.15" fill="rgb(255,109,109)"/>
<rect x="71.87" y="292.30" width="10.52" height="2.15" fill="rgb(255,109,109)"/>
<rect x="82.23" y="292.30" width="10.52" height="2.15" fill="rgb(255,112,112)"/>
<rect x="92.60" y="292.30" width="10.52" height="2.15" fill="rgb(166,166,255)"/>
<rect x="102.97" y="292.30" width="10.52" height="2.15" fill="rgb(171,171,255)"/>
<rect x="113.33" y="292.30" width="10.52" height="2.15" fill="rgb(145,145,255)"/>
<rect x="30.40" y="294.30" width="10.52" height="2.15" fill="rgb(255,155,155)"/>
<rect x="40.77" y="294.30" width="10.52" height="2.15" fill="rgb(255,140,140)"/>
<rect x="51.13" y="294.30" width="10.52" height="2.15" fill="rgb(255,177,177)"/>
<rect x="61.50" y="294.30" width="10.52" height="2.15" fill="rgb(255,226,226)"/>
<rect x="71.87" y="294.30" width="10.52" height="2.15" fill="rgb(255,221,221)"/>
<rect x="82.23" y="294.30" width="10.52" height="2.15" fill="rgb(255,254,254)"/>
<rect x="92.60" y="294.30" width="10.52" height="2.15" fill="rgb(125,125,255)"/>
<rect x="102.97" y="294.30" width="10.52" height="2.15" fill="rgb(114,114,255)"/>
<rect x="113.33" y="294.30" width="10.52" height="2.15" fill="rgb(130,130,255)"/>
<rect x="30.40" y="296.30" width="10.52" height="2.15" fill="rgb(255,227,227)"/>
<rect x="40.77" y="296.30" width="10.52" height="2.15" fill="rgb(255,242,242)"/>
<rect x="51.13" y="296.30" width="10.52" height="2.15" fill="rgb(255,214,214)"/>
<rect x="61.50" y="296.30" width="10.52" height="2.15" fill="rgb(242,242,255)"/>
<rect x="71.87" y="296.30" width="10.52" height="2.15" fill="rgb(235,235,255)"/>
<rect x="82.23" y="296.30" width="10.52" height="2.15" fill="rgb(255,254,254)"/>
<rect x="92.60" y="296.30" width="10.52" height="2.15" fill="rgb(100,100,255)"/>
<rect x="102.97" y="296.30" width="10.52" height="2.15" fill="rgb(114,114,255)"/>
<rect x="113.33" y="296.30" width="10.52" height="2.15" fill="rgb(123,123,255)"/>
<rect x="30.40" y="298.30" width="10.52" height="2.15" fill="rgb(255,182,182)"/>
<rect x="40.77" y="298.30" width="10.52" height="2.15" fill="rgb(255,164,164)"/>
<rect x="51.13" y="298.30" width="10.52" height="2.15" fill="rgb(255,137,137)"/>
<rect x="61.50" y="298.30" width="10.52" height="2.15" fill="rgb(255,220,220)"/>
<rect x="71.87" y="298.30" width="10.52" height="2.15" fill="rgb(255,160,160)"/>
<rect x="82.23" y="298.30" width="10.52" height="2.15" fill="rgb(255,219,219)"/>
<rect x="92.60" y="298.30" width="10.52" height="2.15" fill="rgb(130,130,255)"/>
<rect x="102.97" y="298.30" width="10.52" height="2.15" fill="rgb(132,132,255)"/>
<rect x="113.33" y="298.30" width="10.52" height="2.15" fill="rgb(145,145,255)"/>
<rect x="30.40" y="300.30" width="10.52" height="2.15" fill="rgb(255,219,219)"/>
<rect x="40.77" y="300.30" width="10.52" height="2.15" fill="rgb(255,223,223)"/>
<rect x="51.13" y="300.30" width="10.52" height="2.15" fill="rgb(255,183,183)"/>
<rect x="61.50" y="300.30" width="10.52" height="2.15" fill="rgb(247,247,255)"/>
<rect x="71.87" y="300.30" width="10.52" height="2.15" fill="rgb(248,248,255)"/>
<rect x="82.23" y="300.30" width="10.52" height="2.15" fill="rgb(255,249,249)"/>
<rect x="92.60" y="300.30" width="10.52" height="2.15" fill="rgb(142,142,255)"/>
<rect x="102.97" y="300.30" width="10.52" height="2.15" fill="rgb(161,161,255)"/>
<rect x="113.33" y="300.30" width="10.52" height="2.15" fill="rgb(119,119,255)"/>
<rect x="30.40" y="302.30" width="10.52" height="2.15" fill="rgb(255,215,215)"/>
<rect x="40.77" y="302.30" width="10.52" height="2.15" fill="rgb(255,190,190)"/>
<rect x="51.13" y="302.30" width="10.52" height="2.15" fill="rgb(255,166,166)"/>
<rect x="61.50" y="302.30" width="10.52" height="2.15" fill="rgb(201,201,255)"/>
<rect x="71.87" y="302.30" width="10.52" height="2.15" fill="rgb(196,196,255)"/>
<rect x="82.23" y="302.30" width="10.52" height="2.15" fill="rgb(191,191,255)"/>
<rect x="92.60" y="302.30" width="10.52" height="2.15" fill="rgb(129,129,255)"/>
<rect x="102.97" y="302.30" width="10.52" height="2.15" fill="rgb(132,132,255)"/>
<rect x="113.33" y="302.30" width="10.52" height="2.15" fill="rgb(151,151,255)"/>
<rect x="30.40" y="304.30" width="10.52" height="2.15" fill="rgb(255,177,177)"/>
<rect x="40.77" y="304.30" width="10.52" height="2.15" fill="rgb(255,185,185)"/>
<rect x="51.13" y="304.30" width="10.52" height="2.15" fill="rgb(255,198,198)"/>
<rect x="61.50" y="304.30" width="10.52" height="2.15" fill="rgb(255,186,186)"/>
<rect x="71.87" y="304.30" width="10.52" height="2.15" fill="rgb(255,202,202)"/>
<rect x="82.23" y="304.30" width="10.52" height="2.15" fill="rgb(255,222,222)"/>
<rect x="92.60" y="304.30" width="10.52" height="2.15" fill="rgb(140,140,255)"/>
<rect x="102.97" y="304.30" width="10.52" height="2.15" fill="rgb(125,125,255)"/>
<rect x="113.33" y="304.30" width="10.52" height="2.15" fill="rgb(104,104,255)"/>
<rect x="30.40" y="306.30" width="10.52" height="2.15" fill="rgb(255,131,131)"/>
<rect x="40.77" y="306.30" width="10.52" height="2.15" fill="rgb(255,156,156)"/>
<rect x="51.13" y="306.30" width="10.52" height="2.15" fill="rgb(255,145,145)"/>
<rect x="61.50" y="306.30" width="10.52" height="2.15" fill="rgb(255,186,186)"/>
<rect x="71.87" y="306.30" width="10.52" height="2.15" fill="rgb(255,193,193)"/>
<rect x="82.23" y="306.30" width="10.52" height="2.15" fill="rgb(255,221,221)"/>
<rect x="92.60" y="306.30" width="10.52" height="2.15" fill="rgb(100,100,255)"/>
<rect x="102.97" y="306.30" width="10.52" height="2.15" fill="rgb(86,86,255)"/>
<rect x="113.33" y="306.30" width="10.52" height="2.15" fill="rgb(82,82,255)"/>
<rect x="30.40" y="308.30" width="10.52" height="2.15" fill="rgb(255,192,192)"/>
<rect x="40.77" y="308.30" width="10.52" height="2.15" fill="rgb(255,186,186)"/>
<rect x="51.13" y="308.30" width="10.52" height="2.15" fill="rgb(255,227,227)"/>
<rect x="61.50" y="308.30" width="10.52" height="2.15" fill="rgb(255,207,207)"/>
<rect x="71.87" y="308.30" width="10.52" height="2.15" fill="rgb(255,185,185)"/>
<rect x="82.23" y="308.30" width="10.52" height="2.15" fill="rgb(255,172,172)"/>
<rect x="92.60" y="308.30" width="10.52" height="2.15" fill="rgb(133,133,255)"/>
<rect x="102.97" y="308.30" width="10.52" height="2.15" fill="rgb(137,137,255)"/>
<rect x="113.33" y="308.30" width="10.52" height="2.15" fill="rgb(162,162,255)"/>
<rect x="30.40" y="310.30" width="10.52" height="2.15" fill="rgb(255,206,206)"/>
<rect x="40.77" y="310.30" width="10.52" height="2.15" fill="rgb(255,182,182)"/>
<rect x="51.13" y="310.30" width="10.52" height="2.15" fill="rgb(255,220,220)"/>
<rect x="61.50" y="310.30" width="10.52" height="2.15" fill="rgb(255,174,174)"/>
<rect x="71.87" y="310.30" width="10.52" height="2.15" fill="rgb(255,180,180)"/>
<rect x="82.23" y="310.30" width="10.52" height="2.15" fill="rgb(255,176,176)"/>
<rect x="92.60" y="310.30" width="10.52" height="2.15" fill="rgb(179,179,255)"/>
<rect x="102.97" y="310.30" width="10.52" height="2.15" fill="rgb(197,197,255)"/>
<rect x="113.33" y="310.30" width="10.52" height="2.15" fill="rgb(152,152,255)"/>
<rect x="30.40" y="312.30" width="10.52" height="2.15" fill="rgb(255,204,204)"/>
<rect x="40.77" y="312.30" width="10.52" height="2.15" fill="rgb(255,203,203)"/>
<rect x="51.13" y="312.30" width="10.52" height="2.15" fill="rgb(255,220,220)"/>
<rect x="61.50" y="312.30" width="10.52" height="2.15" fill="rgb(255,175,175)"/>
<rect x="71.87" y="312.30" width="10.52" height="2.15" fill="rgb(255,216,216)"/>
<rect x="82.23" y="312.30" width="10.52" height="2.15" fill="rgb(255,171,171)"/>
<rect x="92.60" y="312.30" width="10.52" height="2.15" fill="rgb(75,75,255)"/>
<rect x="102.97" y="312.30" width="10.52" height="2.15" fill="rgb(88,88,255)"/>
<rect x="113.33" y="312.30" width="10.52" height="2.15" fill="rgb(90,90,255)"/>
<rect x="30.40" y="314.30" width="10.52" height="2.15" fill="rgb(200,200,255)"/>
<rect x="40.77" y="314.30" width="10.52" height="2.15" fill="rgb(223,223,255)"/>
<rect x="51.13" y="314.30" width="10.52" height="2.15" fill="rgb(249,249,255)"/>
<rect x="61.50" y="314.30" width="10.52" height="2.15" fill="rgb(255,202,202)"/>
<rect x="71.87" y="314.30" width="10.52" height="2.15" fill="rgb(255,193,193)"/>
<rect x="82.23" y="314.30" width="10.52" height="2.15" fill="rgb(255,171,171)"/>
<rect x="92.60" y="314.30" width="10.52" height="2.15" fill="rgb(245,245,255)"/>
<rect x="102.97" y="314.30" width="10.52" height="2.15" fill="rgb(207,207,255)"/>
<rect x="113.33" y="314.30" width="10.52" height="2.15" fill="rgb(255,210,210)"/>
<rect x="30.40" y="316.30" width="10.52" height="2.15" fill="rgb(255,80,80)"/>
<rect x="40.77" y="316.30" width="10.52" height="2.15" fill="rgb(255,67,67)"/>
<rect x="51.13" y="316.30" width="10.52" height="2.15" fill="rgb(255,74,74)"/>
<rect x="61.50" y="316.30" width="10.52" height="2.15" fill="rgb(72,72,255)"/>
<rect x="71.87" y="316.30" width="10.52" height="2.15" fill="rgb(60,60,255)"/>
<rect x="82.23" y="316.30" width="10.52" height="2.15" fill="rgb(77,77,255)"/>
<rect x="92.60" y="316.30" width="10.52" height="2.15" fill="rgb(255,157,157)"/>
<rect x="102.97" y="316.30" width="10.52" height="2.15" fill="rgb(255,199,199)"/>
<rect x="113.33" y="316.30" width="10.52" height="2.15" fill="rgb(255,198,198)"/>
<rect x="30.40" y="318.30" width="10.52" height="2.15" fill="rgb(255,177,177)"/>
<rect x="40.77" y="318.30" width="10.52" height="2.15" fill="rgb(255,158,158)"/>
<rect x="51.13" y="318.30" width="10.52" height="2.15" fill="rgb(255,183,183)"/>
<rect x="61.50" y="318.30" width="10.52" height="2.15" fill="rgb(64,64,255)"/>
<rect x="71.87" y="318.30" width="10.52" height="2.15" fill="rgb(71,71,255)"/>
<rect x="82.23" y="318.30" width="10.52" height="2.15" fill="rgb(76,76,255)"/>
<rect x="92.60" y="318.30" width="10.52" height="2.15" fill="rgb(255,198,198)"/>
<rect x="102.97" y="318.30" width="10.52" height="2.15" fill="rgb(255,184,184)"/>
<rect x="113.33" y="318.30" width="10.52" height="2.15" fill="rgb(255,170,170)"/>
<rect x="30.40" y="320.30" width="10.52" height="2.15" fill="rgb(255,134,134)"/>
<rect x="40.77" y="320.30" width="10.52" height="2.15" fill="rgb(255,180,180)"/>
<rect x="51.13" y="320.30" width="10.52" height="2.15" fill="rgb(255,83,83)"/>
<rect x="61.50" y="320.30" width="10.52" height="2.15" fill="rgb(152,152,255)"/>
<rect x="71.87" y="320.30" width="10.52" height="2.15" fill="rgb(162,162,255)"/>
<rect x="82.23" y="320.30" width="10.52" height="2.15" fill="rgb(170,170,255)"/>
<rect x="92.60" y="320.30" width="10.52" height="2.15" fill="rgb(255,228,228)"/>
<rect x="102.97" y="320.30" width="10.52" height="2.15" fill="rgb(255,192,192)"/>
<rect x="113.33" y="320.30" width="10.52" height="2.15" fill="rgb(255,202,202)"/>
<rect x="30.40" y="322.30" width="10.52" height="2.15" fill="rgb(238,238,255)"/>
<rect x="40.77" y="322.30" width="10.52" height="2.15" fill="rgb(255,213,213)"/>
<rect x="51.13" y="322.30" width="10.52" height="2.15" fill="rgb(255,227,227)"/>
<rect x="61.50" y="322.30" width="10.52" height="2.15" fill="rgb(136,136,255)"/>
<rect x="71.87" y="322.30" width="10.52" height="2.15" fill="rgb(136,136,255)"/>
<rect x="82.23" y="322.30" width="10.52" height="2.15" fill="rgb(149,149,255)"/>
<rect x="92.60" y="322.30" width="10.52" height="2.15" fill="rgb(255,143,143)"/>
<rect x="102.97" y="322.30" width="10.52" height="2.15" fill="rgb(255,122,122)"/>
<rect x="113.33" y="322.30" width="10.52" height="2.15" fill="rgb(255,147,147)"/>
<rect x="30.40" y="324.30" width="10.52" height="2.15" fill="rgb(255,103,103)"/>
<rect x="40.77" y="324.30" width="10.52" height="2.15" fill="rgb(255,131,131)"/>
<rect x="51.13" y="324.30" width="10.52" height="2.15" fill="rgb(255,145,145)"/>
<rect x="61.50" y="324.30" width="10.52" height="2.15" fill="rgb(87,87,255)"/>
<rect x="71.87" y="324.30" width="10.52" height="2.15" fill="rgb(92,92,255)"/>
<rect x="82.23" y="324.30" width="10.52" height="2.15" fill="rgb(106,106,255)"/>
<rect x="92.60" y="324.30" width="10.52" height="2.15" fill="rgb(255,162,162)"/>
<rect x="102.97" y="324.30" width="10.52" height="2.15" fill="rgb(255,172,172)"/>
<rect x="113.33" y="324.30" width="10.52" height="2.15" fill="rgb(255,170,170)"/>
<rect x="30.40" y="326.30" width="10.52" height="2.15" fill="rgb(255,180,180)"/>
<rect x="40.77" y="326.30" width="10.52" height="2.15" fill="rgb(255,149,149)"/>
<rect x="51.13" y="326.30" width="10.52" height="2.15" fill="rgb(255,167,167)"/>
<rect x="61.50" y="326.30" width="10.52" height="2.15" fill="rgb(150,150,255)"/>
<rect x="71.87" y="326.30" width="10.52" height="2.15" fill="rgb(146,146,255)"/>
<rect x="82.23" y="326.30" width="10.52" height="2.15" fill="rgb(151,151,255)"/>
<rect x="92.60" y="326.30" width="10.52" height="2.15" fill="rgb(255,177,177)"/>
<rect x="102.97" y="326.30" width="10.52" height="2.15" fill="rgb(255,182,182)"/>
<rect x="113.33" y="326.30" width="10.52" height="2.15" fill="rgb(255,213,213)"/>
<rect x="30.40" y="328.30" width="10.52" height="2.15" fill="rgb(255,135,135)"/>
<rect x="40.77" y="328.30" width="10.52" height="2.15" fill="rgb(255,158,158)"/>
<rect x="51.13" y="328.30" width="10.52" height="2.15" fill="rgb(255,159,159)"/>
<rect x="61.50" y="328.30" width="10.52" height="2.15" fill="rgb(139,139,255)"/>
<rect x="71.87" y="328.30" width="10.52" height="2.15" fill="rgb(146,146,255)"/>
<rect x="82.23" y="328.30" width="10.52" height="2.15" fill="rgb(117,117,255)"/>
<rect x="92.60" y="328.30" width="10.52" height="2.15" fill="rgb(255,199,199)"/>
<rect x="102.97" y="328.30" width="10.52" height="2.15" fill="rgb(255,225,225)"/>
<rect x="113.33" y="328.30" width="10.52" height="2.15" fill="rgb(255,163,163)"/>
<rect x="30.40" y="330.30" width="10.52" height="2.15" fill="rgb(255,166,166)"/>
<rect x="40.77" y="330.30" width="10.52" height="2.15" fill="rgb(255,135,135)"/>
<rect x="51.13" y="330.30" width="10.52" height="2.15" fill="rgb(255,240,240)"/>
<rect x="61.50" y="330.30" width="10.52" height="2.15" fill="rgb(144,144,255)"/>
<rect x="71.87" y="330.30" width="10.52" height="2.15" fill="rgb(158,158,255)"/>
<rect x="82.23" y="330.30" width="10.52" height="2.15" fill="rgb(149,149,255)"/>
<rect x="92.60" y="330.30" width="10.52" height="2.15" fill="rgb(255,210,210)"/>
<rect x="102.97" y="330.30" width="10.52" height="2.15" fill="rgb(255,155,155)"/>
<rect x="113.33" y="330.30" width="10.52" height="2.15" fill="rgb(255,195,195)"/>
<rect x="30.40" y="332.30" width="10.52" height="2.15" fill="rgb(255,199,199)"/>
<rect x="40.77" y="332.30" width="10.52" height="2.15" fill="rgb(255,238,238)"/>
<rect x="51.13" y="332.30" width="10.52" height="2.15" fill="rgb(255,222,222)"/>
<rect x="61.50" y="332.30" width="10.52" height="2.15" fill="rgb(161,161,255)"/>
<rect x="71.87" y="332.30" width="10.52" height="2.15" fill="rgb(144,144,255)"/>
<rect x="82.23" y="332.30" width="10.52" height="2.15" fill="rgb(122,122,255)"/>
<rect x="92.60" y="332.30" width="10.52" height="2.15" fill="rgb(246,246,255)"/>
<rect x="102.97" y="332.30" width="10.52" height="2.15" fill="rgb(255,207,207)"/>
<rect x="113.33" y="332.30" width="10.52" height="2.15" fill="rgb(255,216,216)"/>
<rect x="30.40" y="334.30" width="10.52" height="2.15" fill="rgb(255,181,181)"/>
<rect x="40.77" y="334.30" width="10.52" height="2.15" fill="rgb(255,245,245)"/>
<rect x="51.13" y="334.30" width="10.52" height="2.15" fill="rgb(255,202,202)"/>
<rect x="61.50" y="334.30" width="10.52" height="2.15" fill="rgb(156,156,255)"/>
<rect x="71.87" y="334.30" width="10.52" height="2.15" fill="rgb(154,154,255)"/>
<rect x="82.23" y="334.30" width="10.52" height="2.15" fill="rgb(156,156,255)"/>
<rect x="92.60" y="334.30" width="10.52" height="2.15" fill="rgb(255,209,209)"/>
<rect x="102.97" y="334.30" width="10.52" height="2.15" fill="rgb(255,158,158)"/>
<rect x="113.33" y="334.30" width="10.52" height="2.15" fill="rgb(255,151,151)"/>
<rect x="30.40" y="336.30" width="10.52" height="2.15" fill="rgb(255,76,76)"/>
<rect x="40.77" y="336.30" width="10.52" height="2.15" fill="rgb(255,57,57)"/>
<rect x="51.13" y="336.30" width="10.52" height="2.15" fill="rgb(255,86,86)"/>
<rect x="61.50" y="336.30" width="10.52" height="2.15" fill="rgb(117,117,255)"/>
<rect x="71.87" y="336.30" width="10.52" height="2.15" fill="rgb(89,89,255)"/>
<rect x="82.23" y="336.30" width="10.52" height="2.15" fill="rgb(104,104,255)"/>
<rect x="92.60" y="336.30" width="10.52" height="2.15" fill="rgb(255,197,197)"/>
<rect x="102.97" y="336.30" width="10.52" height="2.15" fill="rgb(255,184,184)"/>
<rect x="113.33" y="336.30" width="10.52" height="2.15" fill="rgb(255,200,200)"/>
<rect x="30.40" y="338.30" width="10.52" height="2.15" fill="rgb(255,235,235)"/>
<rect x="40.77" y="338.30" width="10.52" height="2.15" fill="rgb(255,219,219)"/>
<rect x="51.13" y="338.30" width="10.52" height="2.15" fill="rgb(255,201,201)"/>
<rect x="61.50" y="338.30" width="10.52" height="2.15" fill="rgb(134,134,255)"/>
<rect x="71.87" y="338.30" width="10.52" height="2.15" fill="rgb(147,147,255)"/>
<rect x="82.23" y="338.30" width="10.52" height="2.15" fill="rgb(156,156,255)"/>
<rect x="92.60" y="338.30" width="10.52" height="2.15" fill="rgb(255,157,157)"/>
<rect x="102.97" y="338.30" width="10.52" height="2.15" fill="rgb(255,174,174)"/>
<rect x="113.33" y="338.30" width="10.52" height="2.15" fill="rgb(255,208,208)"/>
<rect x="30.40" y="340.30" width="10.52" height="2.15" fill="rgb(255,129,129)"/>
<rect x="40.77" y="340.30" width="10.52" height="2.15" fill="rgb(255,117,117)"/>
<rect x="51.13" y="340.30" width="10.52" height="2.15" fill="rgb(255,132,132)"/>
<rect x="61.50" y="340.30" width="10.52" height="2.15" fill="rgb(115,115,255)"/>
<rect x="71.87" y="340.30" width="10.52" height="2.15" fill="rgb(119,119,255)"/>
<rect x="82.23" y="340.30" width="10.52" height="2.15" fill="rgb(122,122,255)"/>
<rect x="92.60" y="340.30" width="10.52" height="2.15" fill="rgb(255,188,188)"/>
<rect x="102.97" y="340.30" width="10.52" height="2.15" fill="rgb(255,199,199)"/>
<rect x="113.33" y="340.30" width="10.52" height="2.15" fill="rgb(255,164,164)"/>
<rect x="30.40" y="342.30" width="10.52" height="2.15" fill="rgb(255,205,205)"/>
<rect x="40.77" y="342.30" width="10.52" height="2.15" fill="rgb(255,183,183)"/>
<rect x="51.13" y="342.30" width="10.52" height="2.15" fill="rgb(255,208,208)"/>
<rect x="61.50" y="342.30" width="10.52" height="2.15" fill="rgb(127,127,255)"/>
<rect x="71.87" y="342.30" width="10.52" height="2.15" fill="rgb(139,139,255)"/>
<rect x="82.23" y="342.30" width="10.52" height="2.15" fill="rgb(140,140,255)"/>
<rect x="92.60" y="342.30" width="10.52" height="2.15" fill="rgb(255,242,242)"/>
<rect x="102.97" y="342.30" width="10.52" height="2.15" fill="rgb(255,220,220)"/>
<rect x="113.33" y="342.30" width="10.52" height="2.15" fill="rgb(255,205,205)"/>
<rect x="30.40" y="344.30" width="10.52" height="2.15" fill="rgb(255,166,166)"/>
<rect x="40.77" y="344.30" width="10.52" height="2.15" fill="rgb(255,163,163)"/>
<rect x="51.13" y="344.30" width="10.52" height="2.15" fill="rgb(255,170,170)"/>
<rect x="61.50" y="344.30" width="10.52" height="2.15" fill="rgb(120,120,255)"/>
<rect x="71.87" y="344.30" width="10.52" height="2.15" fill="rgb(124,124,255)"/>
<rect x="82.23" y="344.30" width="10.52" height="2.15" fill="rgb(120,120,255)"/>
<rect x="92.60" y="344.30" width="10.52" height="2.15" fill="rgb(255,160,160)"/>
<rect x="102.97" y="344.30" width="10.52" height="2.15" fill="rgb(255,157,157)"/>
<rect x="113.33" y="344.30" width="10.52" height="2.15" fill="rgb(255,187,187)"/>
<rect x="30.40" y="346.30" width="10.52" height="2.15" fill="rgb(191,191,255)"/>
<rect x="40.77" y="346.30" width="10.52" height="2.15" fill="rgb(205,205,255)"/>
<rect x="51.13" y="346.30" width="10.52" height="2.15" fill="rgb(187,187,255)"/>
<rect x="61.50" y="346.30" width="10.52" height="2.15" fill="rgb(255,244,244)"/>
<rect x="71.87" y="346.30" width="10.52" height="2.15" fill="rgb(151,151,255)"/>
<rect x="82.23" y="346.30" width="10.52" height="2.15" fill="rgb(210,210,255)"/>
<rect x="92.60" y="346.30" width="10.52" height="2.15" fill="rgb(255,195,195)"/>
<rect x="102.97" y="346.30" width="10.52" height="2.15" fill="rgb(255,147,147)"/>
<rect x="113.33" y="346.30" width="10.52" height="2.15" fill="rgb(255,119,119)"/>
<rect x="30.40" y="348.30" width="10.52" height="2.15" fill="rgb(90,90,255)"/>
<rect x="40.77" y="348.30" width="10.52" height="2.15" fill="rgb(113,113,255)"/>
<rect x="51.13" y="348.30" width="10.52" height="2.15" fill="rgb(37,37,255)"/>
<rect x="61.50" y="348.30" width="10.52" height="2.15" fill="rgb(242,242,255)"/>
<rect x="71.87" y="348.30" width="10.52" height="2.15" fill="rgb(230,230,255)"/>
<rect x="82.23" y="348.30" width="10.52" height="2.15" fill="rgb(221,221,255)"/>
<rect x="92.60" y="348.30" width="10.52" height="2.15" fill="rgb(255,133,133)"/>
<rect x="102.97" y="348.30" width="10.52" height="2.15" fill="rgb(255,112,112)"/>
<rect x="113.33" y="348.30" width="10.52" height="2.15" fill="rgb(255,131,131)"/>
<rect x="30.40" y="350.30" width="10.52" height="2.15" fill="rgb(215,215,255)"/>
<rect x="40.77" y="350.30" width="10.52" height="2.15" fill="rgb(221,221,255)"/>
<rect x="51.13" y="350.30" width="10.52" height="2.15" fill="rgb(236,236,255)"/>
<rect x="61.50" y="350.30" width="10.52" height="2.15" fill="rgb(174,174,255)"/>
<rect x="71.87" y="350.30" width="10.52" height="2.15" fill="rgb(195,195,255)"/>
<rect x="82.23" y="350.30" width="10.52" height="2.15" fill="rgb(211,211,255)"/>
<rect x="92.60" y="350.30" width="10.52" height="2.15" fill="rgb(255,197,197)"/>
<rect x="102.97" y="350.30" width="10.52" height="2.15" fill="rgb(255,178,178)"/>
<rect x="113.33" y="350.30" width="10.52" height="2.15" fill="rgb(255,165,165)"/>
<rect x="30.40" y="352.30" width="10.52" height="2.15" fill="rgb(208,208,255)"/>
<rect x="40.77" y="352.30" width="10.52" height="2.15" fill="rgb(192,192,255)"/>
<rect x="51.13" y="352.30" width="10.52" height="2.15" fill="rgb(189,189,255)"/>
<rect x="61.50" y="352.30" width="10.52" height="2.15" fill="rgb(125,125,255)"/>
<rect x="71.87" y="352.30" width="10.52" height="2.15" fill="rgb(123,123,255)"/>
<rect x="82.23" y="352.30" width="10.52" height="2.15" fill="rgb(162,162,255)"/>
<rect x="92.60" y="352.30" width="10.52" height="2.15" fill="rgb(255,129,129)"/>
<rect x="102.97" y="352.30" width="10.52" height="2.15" fill="rgb(255,145,145)"/>
<rect x="113.33" y="352.30" width="10.52" height="2.15" fill="rgb(255,131,131)"/>
<rect x="30.40" y="354.30" width="10.52" height="2.15" fill="rgb(255,216,216)"/>
<rect x="40.77" y="354.30" width="10.52" height="2.15" fill="rgb(255,190,190)"/>
<rect x="51.13" y="354.30" width="10.52" height="2.15" fill="rgb(255,217,217)"/>
<rect x="61.50" y="354.30" width="10.52" height="2.15" fill="rgb(255,187,187)"/>
<rect x="71.87" y="354.30" width="10.52" height="2.15" fill="rgb(255,221,221)"/>
<rect x="82.23" y="354.30" width="10.52" height="2.15" fill="rgb(255,245,245)"/>
<rect x="92.60" y="354.30" width="10.52" height="2.15" fill="rgb(255,134,134)"/>
<rect x="102.97" y="354.30" width="10.52" height="2.15" fill="rgb(255,166,166)"/>
<rect x="113.33" y="354.30" width="10.52" height="2.15" fill="rgb(255,152,152)"/>
<rect x="30.40" y="356.30" width="10.52" height="2.15" fill="rgb(187,187,255)"/>
<rect x="40.77" y="356.30" width="10.52" height="2.15" fill="rgb(156,156,255)"/>
<rect x="51.13" y="356.30" width="10.52" height="2.15" fill="rgb(146,146,255)"/>
<rect x="61.50" y="356.30" width="10.52" height="2.15" fill="rgb(172,172,255)"/>
<rect x="71.87" y="356.30" width="10.52" height="2.15" fill="rgb(185,185,255)"/>
<rect x="82.23" y="356.30" width="10.52" height="2.15" fill="rgb(203,203,255)"/>
<rect x="92.60" y="356.30" width="10.52" height="2.15" fill="rgb(255,127,127)"/>
<rect x="102.97" y="356.30" width="10.52" height="2.15" fill="rgb(255,119,119)"/>
<rect x="113.33" y="356.30" width="10.52" height="2.15" fill="rgb(255,126,126)"/>
<rect x="30.40" y="358.30" width="10.52" height="2.15" fill="rgb(167,167,255)"/>
<rect x="40.77" y="358.30" width="10.52" height="2.15" fill="rgb(185,185,255)"/>
<rect x="51.13" y="358.30" width="10.52" height="2.15" fill="rgb(186,186,255)"/>
<rect x="61.50" y="358.30" width="10.52" height="2.15" fill="rgb(185,185,255)"/>
<rect x="71.87" y="358.30" width="10.52" height="2.15" fill="rgb(184,184,255)"/>
<rect x="82.23" y="358.30" width="10.52" height="2.15" fill="rgb(211,211,255)"/>
<rect x="92.60" y="358.30" width="10.52" height="2.15" fill="rgb(255,195,195)"/>
<rect x="102.97" y="358.30" width="10.52" height="2.15" fill="rgb(255,183,183)"/>
<rect x="113.33" y="358.30" width="10.52" height="2.15" fill="rgb(255,185,185)"/>
<rect x="30.40" y="360.30" width="10.52" height="2.15" fill="rgb(205,205,255)"/>
<rect x="40.77" y="360.30" width="10.52" height="2.15" fill="rgb(193,193,255)"/>
<rect x="51.13" y="360.30" width="10.52" height="2.15" fill="rgb(194,194,255)"/>
<rect x="61.50" y="360.30" width="10.52" height="2.15" fill="rgb(255,205,205)"/>
<rect x="71.87" y="360.30" width="10.52" height="2.15" fill="rgb(255,200,200)"/>
<rect x="82.23" y="360.30" width="10.52" height="2.15" fill="rgb(255,242,242)"/>
<rect x="92.60" y="360.30" width="10.52" height="2.15" fill="rgb(255,143,143)"/>
<rect x="102.97" y="360.30" width="10.52" height="2.15" fill="rgb(255,133,133)"/>
<rect x="113.33" y="360.30" width="10.52" height="2.15" fill="rgb(255,139,139)"/>
<rect x="30.40" y="362.30" width="10.52" height="2.15" fill="rgb(255,240,240)"/>
<rect x="40.77" y="362.30" width="10.52" height="2.15" fill="rgb(255,213,213)"/>
<rect x="51.13" y="362.30" width="10.52" height="2.15" fill="rgb(255,249,249)"/>
<rect x="61.50" y="362.30" width="10.52" height="2.15" fill="rgb(145,145,255)"/>
<rect x="71.87" y="362.30" width="10.52" height="2.15" fill="rgb(158,158,255)"/>
<rect x="82.23" y="362.30" width="10.52" height="2.15" fill="rgb(150,150,255)"/>
<rect x="92.60" y="362.30" width="10.52" height="2.15" fill="rgb(255,170,170)"/>
<rect x="102.97" y="362.30" width="10.52" height="2.15" fill="rgb(255,129,129)"/>
<rect x="113.33" y="362.30" width="10.52" height="2.15" fill="rgb(255,166,166)"/>
<rect x="30.40" y="364.30" width="10.52" height="2.15" fill="rgb(216,216,255)"/>
<rect x="40.77" y="364.30" width="10.52" height="2.15" fill="rgb(190,190,255)"/>
<rect x="51.13" y="364.30" width="10.52" height="2.15" fill="rgb(218,218,255)"/>
<rect x="61.50" y="364.30" width="10.52" height="2.15" fill="rgb(255,170,170)"/>
<rect x="71.87" y="364.30" width="10.52" height="2.15" fill="rgb(255,194,194)"/>
<rect x="82.23" y="364.30" width="10.52" height="2.15" fill="rgb(255,178,178)"/>
<rect x="92.60" y="364.30" width="10.52" height="2.15" fill="rgb(255,103,103)"/>
<rect x="102.97" y="364.30" width="10.52" height="2.15" fill="rgb(255,96,96)"/>
<rect x="113.33" y="364.30" width="10.52" height="2.15" fill="rgb(255,108,108)"/>
<rect x="30.40" y="366.30" width="10.52" height="2.15" fill="rgb(223,223,255)"/>
<rect x="40.77" y="366.30" width="10.52" height="2.15" fill="rgb(231,231,255)"/>
<rect x="51.13" y="366.30" width="10.52" height="2.15" fill="rgb(209,209,255)"/>
<rect x="61.50" y="366.30" width="10.52" height="2.15" fill="rgb(255,251,251)"/>
<rect x="71.87" y="366.30" width="10.52" height="2.15" fill="rgb(255,224,224)"/>
<rect x="82.23" y="366.30" width="10.52" height="2.15" fill="rgb(255,194,194)"/>
<rect x="92.60" y="366.30" width="10.52" height="2.15" fill="rgb(255,166,166)"/>
<rect x="102.97" y="366.30" width="10.52" height="2.15" fill="rgb(255,171,171)"/>
<rect x="113.33" y="366.30" width="10.52" height="2.15" fill="rgb(255,203,203)"/>
<rect x="30.40" y="368.30" width="10.52" height="2.15" fill="rgb(255,251,251)"/>
<rect x="40.77" y="368.30" width="10.52" height="2.15" fill="rgb(255,222,222)"/>
<rect x="51.13" y="368.30" width="10.52" height="2.15" fill="rgb(255,250,250)"/>
<rect x="61.50" y="368.30" width="10.52" height="2.15" fill="rgb(221,221,255)"/>
<rect x="71.87" y="368.30" width="10.52" height="2.15" fill="rgb(230,230,255)"/>
<rect x="82.23" y="368.30" width="10.52" height="2.15" fill="rgb(220,220,255)"/>
<rect x="92.60" y="368.30" width="10.52" height="2.15" fill="rgb(255,133,133)"/>
<rect x="102.97" y="368.30" width="10.52" height="2.15" fill="rgb(255,153,153)"/>
<rect x="113.33" y="368.30" width="10.52" height="2.15" fill="rgb(255,114,114)"/>
<rect x="30.40" y="370.30" width="10.52" height="2.15" fill="rgb(157,157,255)"/>
<rect x="40.77" y="370.30" width="10.52" height="2.15" fill="rgb(151,151,255)"/>
<rect x="51.13" y="370.30" width="10.52" height="2.15" fill="rgb(168,168,255)"/>
<rect x="61.50" y="370.30" width="10.52" height="2.15" fill="rgb(152,152,255)"/>
<rect x="71.87" y="370.30" width="10.52" height="2.15" fill="rgb(115,115,255)"/>
<rect x="82.23" y="370.30" width="10.52" height="2.15" fill="rgb(141,141,255)"/>
<rect x="92.60" y="370.30" width="10.52" height="2.15" fill="rgb(255,118,118)"/>
<rect x="102.97" y="370.30" width="10.52" height="2.15" fill="rgb(255,131,131)"/>
<rect x="113.33" y="370.30" width="10.52" height="2.15" fill="rgb(255,145,145)"/>
<rect x="30.40" y="372.30" width="10.52" height="2.15" fill="rgb(231,231,255)"/>
<rect x="40.77" y="372.30" width="10.52" height="2.15" fill="rgb(209,209,255)"/>
<rect x="51.13" y="372.30" width="10.52" height="2.15" fill="rgb(147,147,255)"/>
<rect x="61.50" y="372.30" width="10.52" height="2.15" fill="rgb(211,211,255)"/>
<rect x="71.87" y="372.30" width="10.52" height="2.15" fill="rgb(189,189,255)"/>
<rect x="82.23" y="372.30" width="10.52" height="2.15" fill="rgb(227,227,255)"/>
<rect x="92.60" y="372.30" width="10.52" height="2.15" fill="rgb(255,149,149)"/>
<rect x="102.97" y="372.30" width="10.52" height="2.15" fill="rgb(255,136,136)"/>
<rect x="113.33" y="372.30" width="10.52" height="2.15" fill="rgb(255,101,101)"/>
<rect x="30.40" y="374.30" width="10.52" height="2.15" fill="rgb(96,96,255)"/>
<rect x="40.77" y="374.30" width="10.52" height="2.15" fill="rgb(110,110,255)"/>
<rect x="51.13" y="374.30" width="10.52" height="2.15" fill="rgb(171,171,255)"/>
<rect x="61.50" y="374.30" width="10.52" height="2.15" fill="rgb(156,156,255)"/>
<rect x="71.87" y="374.30" width="10.52" height="2.15" fill="rgb(126,126,255)"/>
<rect x="82.23" y="374.30" width="10.52" height="2.15" fill="rgb(135,135,255)"/>
<rect x="92.60" y="374.30" width="10.52" height="2.15" fill="rgb(255,165,165)"/>
<rect x="102.97" y="374.30" width="10.52" height="2.15" fill="rgb(255,189,189)"/>
<rect x="113.33" y="374.30" width="10.52" height="2.15" fill="rgb(255,182,182)"/>
<rect x="30.40" y="376.30" width="10.52" height="2.15" fill="rgb(248,248,255)"/>
<rect x="40.77" y="376.30" width="10.52" height="2.15" fill="rgb(224,224,255)"/>
<rect x="51.13" y="376.30" width="10.52" height="2.15" fill="rgb(225,225,255)"/>
<rect x="61.50" y="376.30" width="10.52" height="2.15" fill="rgb(255,197,197)"/>
<rect x="71.87" y="376.30" width="10.52" height="2.15" fill="rgb(255,206,206)"/>
<rect x="82.23" y="376.30" width="10.52" height="2.15" fill="rgb(255,249,249)"/>
<rect x="92.60" y="376.30" width="10.52" height="2.15" fill="rgb(255,76,76)"/>
<rect x="102.97" y="376.30" width="10.52" height="2.15" fill="rgb(255,79,79)"/>
<rect x="113.33" y="376.30" width="10.52" height="2.15" fill="rgb(255,83,83)"/>
<rect x="30.40" y="378.30" width="10.52" height="2.15" fill="rgb(143,143,255)"/>
<rect x="40.77" y="378.30" width="10.52" height="2.15" fill="rgb(217,217,255)"/>
<rect x="51.13" y="378.30" width="10.52" height="2.15" fill="rgb(199,199,255)"/>
<rect x="61.50" y="378.30" width="10.52" height="2.15" fill="rgb(134,134,255)"/>
<rect x="71.87" y="378.30" width="10.52" height="2.15" fill="rgb(198,198,255)"/>
<rect x="82.23" y="378.30" width="10.52" height="2.15" fill="rgb(186,186,255)"/>
<rect x="92.60" y="378.30" width="10.52" height="2.15" fill="rgb(255,185,185)"/>
<rect x="102.97" y="378.30" width="10.52" height="2.15" fill="rgb(255,120,120)"/>
<rect x="113.33" y="378.30" width="10.52" height="2.15" fill="rgb(255,138,138)"/>
<rect x="30.40" y="380.30" width="10.52" height="1.65" fill="rgb(255,204,204)"/>
<rect x="40.77" y="380.30" width="10.52" height="1.65" fill="rgb(255,210,210)"/>
<rect x="51.13" y="380.30" width="10.52" height="1.65" fill="rgb(255,210,210)"/>
<rect x="61.50" y="380.30" width="10.52" height="1.65" fill="rgb(193,193,255)"/>
<rect x="71.87" y="380.30" width="10.52" height="1.65" fill="rgb(131,131,255)"/>
<rect x="82.23" y="380.30" width="10.52" height="1.65" fill="rgb(137,137,255)"/>
<rect x="92.60" y="380.30" width="10.52" height="1.65" fill="rgb(255,147,147)"/>
<rect x="102.97" y="380.30" width="10.52" height="1.65" fill="rgb(255,132,132)"/>
<rect x="113.33" y="380.30" width="10.52" height="1.65" fill="rgb(255,133,133)"/>
<rect x="25.90" y="180.30" width="3.80" height="1.00" fill="#3a8a3a"/>
<rect x="25.90" y="181.30" width="3.80" height="133.30" fill="#ff0000"/>
<rect x="25.90" y="314.60" width="3.80" height="1.80" fill="#d070a0"/>
<rect x="25.90" y="316.40" width="3.80" height="29.60" fill="#1a8a1a"/>
<rect x="25.90" y="346.00" width="3.80" height="35.80" fill="#2d7db5"/>
<path d="M14.00,180.60H25.9 M17.29,181.30H25.9 M15.10,182.10H25.9 M13.60,183.13H25.9 M14.91,183.98H25.9 M15.34,185.30H25.9 M18.32,186.22H25.9 M17.76,187.32H25.9 M13.65,188.54H25.9 M15.68,189.55H25.9 M15.23,190.93H25.9 M16.19,192.23H25.9 M17.81,193.05H25.9 M17.60,193.74H25.9 M13.51,194.51H25.9 M17.31,195.31H25.9 M13.52,196.89H25.9 M15.96,197.98H25.9 M15.95,199.38H25.9 M15.75,200.33H25.9 M14.70,201.87H25.9 M14.50,203.17H25.9 M17.26,204.40H25.9 M17.52,205.70H25.9 M15.77,206.66H25.9 M17.77,208.15H25.9 M14.83,208.77H25.9 M15.85,210.27H25.9 M15.85,211.76H25.9 M18.10,212.89H25.9 M15.36,214.14H25.9 M17.78,214.89H25.9 M15.65,216.23H25.9 M14.70,217.61H25.9 M15.72,218.67H25.9 M17.17,219.46H25.9 M14.21,220.90H25.9 M16.30,221.75H25.9 M14.64,222.51H25.9 M14.80,224.09H25.9 M15.27,225.65H25.9 M18.06,227.23H25.9 M16.68,228.27H25.9 M15.45,228.98H25.9 M17.75,229.61H25.9 M17.11,230.90H25.9 M16.43,231.97H25.9 M18.85,232.97H25.9 M17.81,234.00H25.9 M17.15,235.02H25.9 M17.86,236.50H25.9 M17.43,237.96H25.9 M16.81,239.01H25.9 M17.74,239.71H25.9 M15.39,241.02H25.9 M16.99,242.04H25.9 M18.86,243.05H25.9 M18.07,243.84H25.9 M18.81,244.82H25.9 M14.82,245.46H25.9 M17.21,246.84H25.9 M16.77,247.55H25.9 M17.16,248.86H25.9 M16.03,250.29H25.9 M16.94,251.84H25.9 M14.96,252.83H25.9 M14.02,254.42H25.9 M13.87,255.29H25.9 M17.32,256.31H25.9 M14.72,257.26H25.9 M17.25,258.60H25.9 M16.36,259.42H25.9 M17.28,260.23H25.9 M16.50,261.64H25.9 M18.36,262.81H25.9 M18.25,263.76H25.9 M15.37,265.18H25.9 M17.56,266.32H25.9 M15.81,267.28H25.9 M15.71,268.25H25.9 M16.81,269.04H25.9 M15.08,269.92H25.9 M17.03,271.00H25.9 M18.39,272.26H25.9 M17.43,273.71H25.9 M15.08,275.22H25.9 M14.22,276.65H25.9 M17.91,277.26H25.9 M14.07,278.11H25.9 M16.10,278.95H25.9 M18.51,279.70H25.9 M17.58,280.47H25.9 M18.67,281.85H25.9 M15.45,283.24H25.9 M17.71,284.53H25.9 M17.30,285.57H25.9 M14.25,286.43H25.9 M15.62,287.53H25.9 M16.43,288.27H25.9 M14.53,289.41H25.9 M16.71,290.85H25.9 M16.34,292.12H25.9 M15.02,293.13H25.9 M14.30,294.37H25.9 M16.41,295.58H25.9 M14.65,297.11H25.9 M15.55,298.69H25.9 M17.49,299.78H25.9 M16.59,300.41H25.9 M14.69,301.64H25.9 M14.83,303.10H25.9 M15.63,304.17H25.9 M14.05,305.55H25.9 M15.11,306.58H25.9 M17.13,307.73H25.9 M17.14,308.63H25.9 M15.52,309.63H25.9 M15.53,310.50H25.9 M16.27,312.08H25.9 M14.65,313.47H25.9 M14.50,314.39H25.9 M16.17,315.57H25.9 M12.67,316.96H25.9 M10.07,318.44H25.9 M9.96,319.34H25.9 M13.20,320.87H25.9 M13.42,322.25H25.9 M13.42,323.47H25.9 M11.08,324.67H25.9 M13.50,325.93H25.9 M9.46,326.64H25.9 M13.65,328.01H25.9 M14.17,328.98H25.9 M10.90,330.14H25.9 M11.63,331.16H25.9 M10.67,332.40H25.9 M9.65,333.57H25.9 M14.46,334.98H25.9 M10.96,336.03H25.9 M15.31,337.22H25.9 M10.13,338.30H25.9 M10.08,339.54H25.9 M12.43,340.16H25.9 M10.89,340.88H25.9 M9.28,342.35H25.9 M13.03,343.67H25.9 M12.95,344.45H25.9 M14.98,345.77H25.9 M14.59,346.45H25.9 M12.84,347.51H25.9 M11.41,349.08H25.9 M15.38,349.69H25.9 M14.48,350.37H25.9 M14.14,351.14H25.9 M13.89,351.80H25.9 M12.27,352.84H25.9 M14.39,354.23H25.9 M13.26,355.46H25.9 M16.14,356.85H25.9 M11.62,358.02H25.9 M16.18,359.59H25.9 M16.84,360.52H25.9 M13.59,361.95H25.9 M14.43,362.98H25.9 M16.69,364.27H25.9 M11.83,365.67H25.9 M15.02,366.54H25.9 M13.09,367.95H25.9 M17.20,369.39H25.9 M16.39,370.56H25.9 M17.42,371.97H25.9 M14.78,372.91H25.9 M16.03,374.31H25.9 M15.47,375.84H25.9 M13.90,377.12H25.9 M17.31,377.97H25.9 M16.46,379.03H25.9 M15.64,380.41H25.9" stroke="#222" stroke-width="0.35" fill="none"/>
<path d="M14.60,355.36v6.13 M14.98,218.26v6.91 M16.76,252.48v5.62 M19.25,210.35v4.62 M18.98,201.91v3.09 M15.40,298.65v5.64 M14.18,185.05v8.93 M14.80,351.62v3.83 M15.34,334.50v7.37 M12.34,342.31v2.27 M14.43,220.59v2.36 M17.53,290.80v8.63 M14.92,360.25v4.78 M16.55,204.62v5.95 M18.76,307.20v6.69 M15.25,258.44v8.76 M13.16,376.37v3.79 M20.03,250.35v7.86 M18.33,190.27v6.97 M18.92,308.40v2.39 M20.00,209.53v6.74 M18.76,239.86v2.74 M14.77,244.81v5.37 M14.85,214.21v6.74 M17.94,183.48v3.37 M19.10,188.09v3.54 M18.04,364.99v2.98 M18.95,269.11v7.90 M15.99,304.79v4.38 M13.67,343.14v3.00 M17.71,224.67v5.87 M16.47,209.51v4.88 M18.72,211.67v4.34 M16.19,214.06v8.32 M15.48,203.49v8.27 M14.66,312.65v5.34 M15.20,237.39v4.55 M19.20,376.23v2.68 M15.36,238.02v7.09 M15.26,238.82v7.65 M13.92,248.16v7.83 M16.37,284.74v8.38 M15.32,224.00v3.26 M11.65,332.78v2.55 M17.35,198.22v5.47 M17.38,234.96v6.95 M11.49,340.88v2.46 M14.08,325.34v2.39 M14.63,340.70v8.05 M18.73,278.12v5.34 M12.45,352.79v7.82 M15.99,253.32v6.16 M16.86,181.91v5.12 M17.81,282.58v7.72 M15.33,351.50v4.67 M14.39,329.01v8.68 M17.39,278.48v5.76 M19.32,185.08v3.57 M15.23,216.93v7.72 M14.53,186.92v6.89 M17.02,219.43v6.04 M15.32,284.01v8.09 M10.24,322.27v5.46 M14.79,279.65v4.84 M19.32,207.98v3.03 M15.72,293.85v7.78 M14.79,365.70v7.88 M19.47,284.55v7.44 M15.90,247.69v5.05 M18.71,374.30v7.71" stroke="#333" stroke-width="0.3" fill="none"/>
<polygon points="25.9,180.3 14.60,180.30 15.00,190.00 15.20,199.00 21.00,201.00 21.60,230.00 21.80,260.00 21.00,285.00 17.50,292.00 15.20,298.00 15.00,312.00 14.00,316.00 15.50,318.00 16.50,340.00 17.00,360.00 18.00,381.80 25.9,381.8" fill="#0c0c0c"/>
<polygon points="9.2,316.5 16,316.5 17,340 17.5,360 18,381.8 12.5,381.8 11,370 10.5,350 9.5,330" fill="url(#dgl)"/>
<polygon points="13.6,180.3 14.8,180.3 15.2,199 13.6,199" fill="#000" opacity="0.5"/>
<path d="M17.37,350.53h1.68 M23.54,372.57h1.22 M21.43,265.43h1.42 M17.48,287.16h1.54 M17.15,281.95h1.04 M22.44,374.94h2.39 M22.66,307.64h2.30 M17.24,357.93h1.89 M21.75,234.15h1.26 M23.47,289.45h1.86 M20.64,231.12h1.54 M19.01,371.17h1.32 M17.84,310.50h1.81 M20.60,372.22h1.26 M20.74,274.28h1.05 M17.92,205.78h1.30 M19.02,262.31h1.21 M20.82,198.57h2.23 M20.99,302.99h1.91 M21.97,221.24h1.58 M21.29,290.61h1.60 M18.70,243.10h1.18 M19.68,283.49h1.80 M19.47,183.38h2.27 M20.90,228.71h1.64 M23.91,237.96h1.30 M18.11,335.43h0.91 M20.08,355.25h0.91 M20.08,258.58h2.05 M18.58,202.85h2.43 M18.08,328.73h1.37 M21.73,251.49h1.85 M22.75,351.00h1.68 M22.20,328.75h2.09 M22.49,276.05h2.00 M17.89,363.94h2.28 M22.36,181.86h1.80 M23.74,280.58h1.77 M22.49,264.58h2.28 M19.66,302.47h1.57" stroke="#fff" stroke-width="0.3" fill="none" opacity="0.6"/>
<path d="M9.3,180.3 H14.5 M9.3,180.3 V213.4 M1.3,197.4 H9.3 M1.3,197.4 V316.5 M1.3,316.5 H9.2 M9.3,213.4 H12 M11.7,182 V292 M11.7,292 H14 M14.2,182 V200 M15.8,200 V296" fill="none" stroke="#9a9a9a" stroke-width="0.6"/>
<rect x="127.80" y="189.80" width="8.20" height="38.50" fill="url(#hmk)"/>
<text x="138.60" y="198.20" font-size="6.4">2</text>
<text x="138.60" y="205.00" font-size="6.4">1</text>
<text x="138.60" y="211.80" font-size="6.4">0</text>
<text x="136.60" y="218.80" font-size="6.4">-1</text>
<text x="136.60" y="225.80" font-size="6.4">-2</text>
<text x="157.20" y="167.20" font-size="16" font-weight="bold">e</text>
<line x1="176.80" y1="186.00" x2="337.60" y2="186.00" stroke="#444" stroke-width="0.8"/>
<line x1="337.60" y1="186.00" x2="337.60" y2="362.20" stroke="#888" stroke-width="0.8"/>
<line x1="176.80" y1="185.60" x2="176.80" y2="363.00" stroke="#c8c8c8" stroke-width="1.8"/>
<line x1="176.80" y1="362.20" x2="337.60" y2="362.20" stroke="#555" stroke-width="1.0" stroke-dasharray="1,1"/>
<line x1="265.16" y1="186.50" x2="265.16" y2="362.00" stroke="#777" stroke-width="0.6" stroke-dasharray="0.8,1.2"/>
<line x1="281.24" y1="186.50" x2="281.24" y2="362.00" stroke="#777" stroke-width="0.6" stroke-dasharray="0.8,1.2"/>
<line x1="174.60" y1="362.20" x2="176.00" y2="362.20" stroke="#555" stroke-width="0.6"/>
<text x="173.80" y="364.13" font-size="5.6" text-anchor="end" fill="#333">0</text>
<line x1="174.60" y1="337.07" x2="176.00" y2="337.07" stroke="#555" stroke-width="0.6"/>
<text x="173.80" y="339.00" font-size="5.6" text-anchor="end" fill="#333">50</text>
<line x1="174.60" y1="311.95" x2="176.00" y2="311.95" stroke="#555" stroke-width="0.6"/>
<text x="173.80" y="313.88" font-size="5.6" text-anchor="end" fill="#333">100</text>
<line x1="174.60" y1="286.82" x2="176.00" y2="286.82" stroke="#555" stroke-width="0.6"/>
<text x="173.80" y="288.75" font-size="5.6" text-anchor="end" fill="#333">150</text>
<line x1="174.60" y1="261.70" x2="176.00" y2="261.70" stroke="#555" stroke-width="0.6"/>
<text x="173.80" y="263.63" font-size="5.6" text-anchor="end" fill="#333">200</text>
<line x1="174.60" y1="236.57" x2="176.00" y2="236.57" stroke="#555" stroke-width="0.6"/>
<text x="173.80" y="238.50" font-size="5.6" text-anchor="end" fill="#333">250</text>
<line x1="174.60" y1="211.45" x2="176.00" y2="211.45" stroke="#555" stroke-width="0.6"/>
<text x="173.80" y="213.38" font-size="5.6" text-anchor="end" fill="#333">300</text>
<line x1="174.60" y1="186.33" x2="176.00" y2="186.33" stroke="#555" stroke-width="0.6"/>
<text x="173.80" y="188.25" font-size="5.6" text-anchor="end" fill="#333">350</text>
<line x1="176.72" y1="362.20" x2="176.72" y2="363.80" stroke="#555" stroke-width="0.6"/>
<text x="176.72" y="369.33" font-size="5.6" text-anchor="middle" fill="#333">-12</text>
<line x1="192.80" y1="362.20" x2="192.80" y2="363.80" stroke="#555" stroke-width="0.6"/>
<text x="192.80" y="369.33" font-size="5.6" text-anchor="middle" fill="#333">-10</text>
<line x1="208.88" y1="362.20" x2="208.88" y2="363.80" stroke="#555" stroke-width="0.6"/>
<text x="208.88" y="369.33" font-size="5.6" text-anchor="middle" fill="#333">-8</text>
<line x1="224.96" y1="362.20" x2="224.96" y2="363.80" stroke="#555" stroke-width="0.6"/>
<text x="224.96" y="369.33" font-size="5.6" text-anchor="middle" fill="#333">-6</text>
<line x1="241.04" y1="362.20" x2="241.04" y2="363.80" stroke="#555" stroke-width="0.6"/>
<text x="241.04" y="369.33" font-size="5.6" text-anchor="middle" fill="#333">-4</text>
<line x1="257.12" y1="362.20" x2="257.12" y2="363.80" stroke="#555" stroke-width="0.6"/>
<text x="257.12" y="369.33" font-size="5.6" text-anchor="middle" fill="#333">-2</text>
<line x1="273.20" y1="362.20" x2="273.20" y2="363.80" stroke="#555" stroke-width="0.6"/>
<text x="273.20" y="369.33" font-size="5.6" text-anchor="middle" fill="#333">0</text>
<line x1="289.28" y1="362.20" x2="289.28" y2="363.80" stroke="#555" stroke-width="0.6"/>
<text x="289.28" y="369.33" font-size="5.6" text-anchor="middle" fill="#333">2</text>
<line x1="305.36" y1="362.20" x2="305.36" y2="363.80" stroke="#555" stroke-width="0.6"/>
<text x="305.36" y="369.33" font-size="5.6" text-anchor="middle" fill="#333">4</text>
<line x1="321.44" y1="362.20" x2="321.44" y2="363.80" stroke="#555" stroke-width="0.6"/>
<text x="321.44" y="369.33" font-size="5.6" text-anchor="middle" fill="#333">6</text>
<line x1="337.52" y1="362.20" x2="337.52" y2="363.80" stroke="#555" stroke-width="0.6"/>
<text x="337.52" y="369.33" font-size="5.6" text-anchor="middle" fill="#333">8</text>
<text x="162.40" y="275.90" font-size="9.6" text-anchor="middle" transform="rotate(-90 162.40 275.90)">-log10(Padjust)</text>
<text x="255.40" y="377.20" font-size="9.6" text-anchor="middle" textLength="87" lengthAdjust="spacingAndGlyphs">Log2(FC-(N67+2-BP)/N67)</text>
<path d="M265.00,329.03 L265.96,338.08 L267.57,344.61 L269.58,353.15 L271.19,359.19 L272.24,362.20 L265.00,362.20 Z" fill="#a8a8a8"/>
<path d="M281.24,331.05 L280.44,338.08 L278.83,344.61 L276.82,353.15 L275.21,359.19 L274.16,362.20 L281.24,362.20 Z" fill="#a8a8a8"/>
<rect x="226.97" y="209.19" width="35.94" height="2.5" rx="1.25" fill="#2b8ff0"/>
<path d="M276.03,357.14a1.2,1.2 0 1,0 2.4,0a1.2,1.2 0 1,0 -2.4,0M276.61,352.72a1.2,1.2 0 1,0 2.4,0a1.2,1.2 0 1,0 -2.4,0M278.06,361.20a1.2,1.2 0 1,0 2.4,0a1.2,1.2 0 1,0 -2.4,0M276.55,357.16a1.2,1.2 0 1,0 2.4,0a1.2,1.2 0 1,0 -2.4,0M278.93,349.57a1.2,1.2 0 1,0 2.4,0a1.2,1.2 0 1,0 -2.4,0M277.69,360.23a1.2,1.2 0 1,0 2.4,0a1.2,1.2 0 1,0 -2.4,0M276.23,349.31a1.2,1.2 0 1,0 2.4,0a1.2,1.2 0 1,0 -2.4,0M264.19,355.28a1.2,1.2 0 1,0 2.4,0a1.2,1.2 0 1,0 -2.4,0M279.43,331.86a1.2,1.2 0 1,0 2.4,0a1.2,1.2 0 1,0 -2.4,0M269.32,357.44a1.2,1.2 0 1,0 2.4,0a1.2,1.2 0 1,0 -2.4,0M276.10,354.34a1.2,1.2 0 1,0 2.4,0a1.2,1.2 0 1,0 -2.4,0M277.44,341.05a1.2,1.2 0 1,0 2.4,0a1.2,1.2 0 1,0 -2.4,0M276.60,356.10a1.2,1.2 0 1,0 2.4,0a1.2,1.2 0 1,0 -2.4,0M276.96,361.20a1.2,1.2 0 1,0 2.4,0a1.2,1.2 0 1,0 -2.4,0M266.63,360.14a1.2,1.2 0 1,0 2.4,0a1.2,1.2 0 1,0 -2.4,0M277.23,349.15a1.2,1.2 0 1,0 2.4,0a1.2,1.2 0 1,0 -2.4,0M264.64,331.94a1.2,1.2 0 1,0 2.4,0a1.2,1.2 0 1,0 -2.4,0M276.67,348.87a1.2,1.2 0 1,0 2.4,0a1.2,1.2 0 1,0 -2.4,0M278.30,343.06a1.2,1.2 0 1,0 2.4,0a1.2,1.2 0 1,0 -2.4,0M268.63,358.58a1.2,1.2 0 1,0 2.4,0a1.2,1.2 0 1,0 -2.4,0M264.94,346.97a1.2,1.2 0 1,0 2.4,0a1.2,1.2 0 1,0 -2.4,0M265.90,354.95a1.2,1.2 0 1,0 2.4,0a1.2,1.2 0 1,0 -2.4,0M279.03,332.95a1.2,1.2 0 1,0 2.4,0a1.2,1.2 0 1,0 -2.4,0M277.96,349.70a1.2,1.2 0 1,0 2.4,0a1.2,1.2 0 1,0 -2.4,0M266.75,358.39a1.2,1.2 0 1,0 2.4,0a1.2,1.2 0 1,0 -2.4,0M269.25,357.27a1.2,1.2 0 1,0 2.4,0a1.2,1.2 0 1,0 -2.4,0M267.60,346.24a1.2,1.2 0 1,0 2.4,0a1.2,1.2 0 1,0 -2.4,0M265.69,361.20a1.2,1.2 0 1,0 2.4,0a1.2,1.2 0 1,0 -2.4,0M267.86,351.95a1.2,1.2 0 1,0 2.4,0a1.2,1.2 0 1,0 -2.4,0M264.43,349.26a1.2,1.2 0 1,0 2.4,0a1.2,1.2 0 1,0 -2.4,0M266.29,347.13a1.2,1.2 0 1,0 2.4,0a1.2,1.2 0 1,0 -2.4,0M268.60,353.37a1.2,1.2 0 1,0 2.4,0a1.2,1.2 0 1,0 -2.4,0M279.31,334.34a1.2,1.2 0 1,0 2.4,0a1.2,1.2 0 1,0 -2.4,0M266.35,353.07a1.2,1.2 0 1,0 2.4,0a1.2,1.2 0 1,0 -2.4,0M268.77,356.63a1.2,1.2 0 1,0 2.4,0a1.2,1.2 0 1,0 -2.4,0M269.42,361.20a1.2,1.2 0 1,0 2.4,0a1.2,1.2 0 1,0 -2.4,0M279.04,344.04a1.2,1.2 0 1,0 2.4,0a1.2,1.2 0 1,0 -2.4,0M265.93,345.49a1.2,1.2 0 1,0 2.4,0a1.2,1.2 0 1,0 -2.4,0M275.22,359.65a1.2,1.2 0 1,0 2.4,0a1.2,1.2 0 1,0 -2.4,0M275.37,359.18a1.2,1.2 0 1,0 2.4,0a1.2,1.2 0 1,0 -2.4,0M264.75,333.07a1.2,1.2 0 1,0 2.4,0a1.2,1.2 0 1,0 -2.4,0M267.62,355.03a1.2,1.2 0 1,0 2.4,0a1.2,1.2 0 1,0 -2.4,0M274.52,360.49a1.2,1.2 0 1,0 2.4,0a1.2,1.2 0 1,0 -2.4,0M277.69,340.66a1.2,1.2 0 1,0 2.4,0a1.2,1.2 0 1,0 -2.4,0M274.72,360.15a1.2,1.2 0 1,0 2.4,0a1.2,1.2 0 1,0 -2.4,0M269.34,354.43a1.2,1.2 0 1,0 2.4,0a1.2,1.2 0 1,0 -2.4,0M267.82,348.68a1.2,1.2 0 1,0 2.4,0a1.2,1.2 0 1,0 -2.4,0M276.12,353.31a1.2,1.2 0 1,0 2.4,0a1.2,1.2 0 1,0 -2.4,0M279.92,359.87a1.2,1.2 0 1,0 2.4,0a1.2,1.2 0 1,0 -2.4,0M278.21,347.49a1.2,1.2 0 1,0 2.4,0a1.2,1.2 0 1,0 -2.4,0M276.15,349.16a1.2,1.2 0 1,0 2.4,0a1.2,1.2 0 1,0 -2.4,0M274.54,355.38a1.2,1.2 0 1,0 2.4,0a1.2,1.2 0 1,0 -2.4,0M268.61,358.10a1.2,1.2 0 1,0 2.4,0a1.2,1.2 0 1,0 -2.4,0M269.55,355.56a1.2,1.2 0 1,0 2.4,0a1.2,1.2 0 1,0 -2.4,0M277.57,359.69a1.2,1.2 0 1,0 2.4,0a1.2,1.2 0 1,0 -2.4,0M276.30,352.04a1.2,1.2 0 1,0 2.4,0a1.2,1.2 0 1,0 -2.4,0M267.21,345.83a1.2,1.2 0 1,0 2.4,0a1.2,1.2 0 1,0 -2.4,0M267.41,354.27a1.2,1.2 0 1,0 2.4,0a1.2,1.2 0 1,0 -2.4,0M275.75,361.20a1.2,1.2 0 1,0 2.4,0a1.2,1.2 0 1,0 -2.4,0M267.67,359.74a1.2,1.2 0 1,0 2.4,0a1.2,1.2 0 1,0 -2.4,0M264.36,296.88a1.2,1.2 0 1,0 2.4,0a1.2,1.2 0 1,0 -2.4,0M264.76,306.93a1.2,1.2 0 1,0 2.4,0a1.2,1.2 0 1,0 -2.4,0M265.17,314.46a1.2,1.2 0 1,0 2.4,0a1.2,1.2 0 1,0 -2.4,0M264.36,320.49a1.2,1.2 0 1,0 2.4,0a1.2,1.2 0 1,0 -2.4,0M279.24,329.03a1.2,1.2 0 1,0 2.4,0a1.2,1.2 0 1,0 -2.4,0M278.83,333.06a1.2,1.2 0 1,0 2.4,0a1.2,1.2 0 1,0 -2.4,0M265.57,326.02a1.2,1.2 0 1,0 2.4,0a1.2,1.2 0 1,0 -2.4,0" fill="#a6a6a6"/>
<path d="M259.82,361.20a1.2,1.2 0 1,0 2.4,0a1.2,1.2 0 1,0 -2.4,0M262.60,260.81a1.2,1.2 0 1,0 2.4,0a1.2,1.2 0 1,0 -2.4,0M263.14,337.02a1.2,1.2 0 1,0 2.4,0a1.2,1.2 0 1,0 -2.4,0M258.03,268.67a1.2,1.2 0 1,0 2.4,0a1.2,1.2 0 1,0 -2.4,0M263.03,346.95a1.2,1.2 0 1,0 2.4,0a1.2,1.2 0 1,0 -2.4,0M259.64,344.58a1.2,1.2 0 1,0 2.4,0a1.2,1.2 0 1,0 -2.4,0M253.84,357.43a1.2,1.2 0 1,0 2.4,0a1.2,1.2 0 1,0 -2.4,0M254.35,328.69a1.2,1.2 0 1,0 2.4,0a1.2,1.2 0 1,0 -2.4,0M262.77,335.84a1.2,1.2 0 1,0 2.4,0a1.2,1.2 0 1,0 -2.4,0M263.13,292.01a1.2,1.2 0 1,0 2.4,0a1.2,1.2 0 1,0 -2.4,0M262.63,242.75a1.2,1.2 0 1,0 2.4,0a1.2,1.2 0 1,0 -2.4,0M260.85,345.48a1.2,1.2 0 1,0 2.4,0a1.2,1.2 0 1,0 -2.4,0M262.69,311.71a1.2,1.2 0 1,0 2.4,0a1.2,1.2 0 1,0 -2.4,0M262.83,250.56a1.2,1.2 0 1,0 2.4,0a1.2,1.2 0 1,0 -2.4,0M263.16,327.48a1.2,1.2 0 1,0 2.4,0a1.2,1.2 0 1,0 -2.4,0M261.17,353.71a1.2,1.2 0 1,0 2.4,0a1.2,1.2 0 1,0 -2.4,0M259.04,343.76a1.2,1.2 0 1,0 2.4,0a1.2,1.2 0 1,0 -2.4,0M260.28,318.82a1.2,1.2 0 1,0 2.4,0a1.2,1.2 0 1,0 -2.4,0M262.42,343.21a1.2,1.2 0 1,0 2.4,0a1.2,1.2 0 1,0 -2.4,0M263.28,358.86a1.2,1.2 0 1,0 2.4,0a1.2,1.2 0 1,0 -2.4,0M257.74,349.82a1.2,1.2 0 1,0 2.4,0a1.2,1.2 0 1,0 -2.4,0M260.24,361.05a1.2,1.2 0 1,0 2.4,0a1.2,1.2 0 1,0 -2.4,0M261.04,346.13a1.2,1.2 0 1,0 2.4,0a1.2,1.2 0 1,0 -2.4,0M261.44,351.77a1.2,1.2 0 1,0 2.4,0a1.2,1.2 0 1,0 -2.4,0M263.35,350.63a1.2,1.2 0 1,0 2.4,0a1.2,1.2 0 1,0 -2.4,0M262.77,360.61a1.2,1.2 0 1,0 2.4,0a1.2,1.2 0 1,0 -2.4,0M259.70,352.87a1.2,1.2 0 1,0 2.4,0a1.2,1.2 0 1,0 -2.4,0M261.98,240.02a1.2,1.2 0 1,0 2.4,0a1.2,1.2 0 1,0 -2.4,0M259.00,247.62a1.2,1.2 0 1,0 2.4,0a1.2,1.2 0 1,0 -2.4,0M257.52,360.44a1.2,1.2 0 1,0 2.4,0a1.2,1.2 0 1,0 -2.4,0M262.57,361.20a1.2,1.2 0 1,0 2.4,0a1.2,1.2 0 1,0 -2.4,0M260.08,301.04a1.2,1.2 0 1,0 2.4,0a1.2,1.2 0 1,0 -2.4,0M262.24,340.70a1.2,1.2 0 1,0 2.4,0a1.2,1.2 0 1,0 -2.4,0M260.27,293.58a1.2,1.2 0 1,0 2.4,0a1.2,1.2 0 1,0 -2.4,0M262.69,257.66a1.2,1.2 0 1,0 2.4,0a1.2,1.2 0 1,0 -2.4,0M262.23,307.87a1.2,1.2 0 1,0 2.4,0a1.2,1.2 0 1,0 -2.4,0M262.95,360.90a1.2,1.2 0 1,0 2.4,0a1.2,1.2 0 1,0 -2.4,0M256.11,285.84a1.2,1.2 0 1,0 2.4,0a1.2,1.2 0 1,0 -2.4,0M259.75,361.20a1.2,1.2 0 1,0 2.4,0a1.2,1.2 0 1,0 -2.4,0M263.43,359.45a1.2,1.2 0 1,0 2.4,0a1.2,1.2 0 1,0 -2.4,0M262.88,351.29a1.2,1.2 0 1,0 2.4,0a1.2,1.2 0 1,0 -2.4,0M262.09,361.20a1.2,1.2 0 1,0 2.4,0a1.2,1.2 0 1,0 -2.4,0M262.42,306.05a1.2,1.2 0 1,0 2.4,0a1.2,1.2 0 1,0 -2.4,0M262.95,259.62a1.2,1.2 0 1,0 2.4,0a1.2,1.2 0 1,0 -2.4,0M260.98,289.77a1.2,1.2 0 1,0 2.4,0a1.2,1.2 0 1,0 -2.4,0M262.66,338.06a1.2,1.2 0 1,0 2.4,0a1.2,1.2 0 1,0 -2.4,0M260.04,347.32a1.2,1.2 0 1,0 2.4,0a1.2,1.2 0 1,0 -2.4,0M263.56,261.01a1.2,1.2 0 1,0 2.4,0a1.2,1.2 0 1,0 -2.4,0M258.98,352.58a1.2,1.2 0 1,0 2.4,0a1.2,1.2 0 1,0 -2.4,0M263.42,255.63a1.2,1.2 0 1,0 2.4,0a1.2,1.2 0 1,0 -2.4,0M260.70,361.20a1.2,1.2 0 1,0 2.4,0a1.2,1.2 0 1,0 -2.4,0M262.70,361.00a1.2,1.2 0 1,0 2.4,0a1.2,1.2 0 1,0 -2.4,0M258.77,357.33a1.2,1.2 0 1,0 2.4,0a1.2,1.2 0 1,0 -2.4,0M256.05,282.26a1.2,1.2 0 1,0 2.4,0a1.2,1.2 0 1,0 -2.4,0M263.28,294.56a1.2,1.2 0 1,0 2.4,0a1.2,1.2 0 1,0 -2.4,0M262.03,282.72a1.2,1.2 0 1,0 2.4,0a1.2,1.2 0 1,0 -2.4,0M258.17,352.95a1.2,1.2 0 1,0 2.4,0a1.2,1.2 0 1,0 -2.4,0M263.27,228.67a1.2,1.2 0 1,0 2.4,0a1.2,1.2 0 1,0 -2.4,0M261.87,233.63a1.2,1.2 0 1,0 2.4,0a1.2,1.2 0 1,0 -2.4,0M259.96,284.79a1.2,1.2 0 1,0 2.4,0a1.2,1.2 0 1,0 -2.4,0M258.14,308.01a1.2,1.2 0 1,0 2.4,0a1.2,1.2 0 1,0 -2.4,0M261.72,361.20a1.2,1.2 0 1,0 2.4,0a1.2,1.2 0 1,0 -2.4,0M259.90,338.85a1.2,1.2 0 1,0 2.4,0a1.2,1.2 0 1,0 -2.4,0M261.37,234.26a1.2,1.2 0 1,0 2.4,0a1.2,1.2 0 1,0 -2.4,0M263.14,279.32a1.2,1.2 0 1,0 2.4,0a1.2,1.2 0 1,0 -2.4,0M263.42,292.82a1.2,1.2 0 1,0 2.4,0a1.2,1.2 0 1,0 -2.4,0M258.55,354.34a1.2,1.2 0 1,0 2.4,0a1.2,1.2 0 1,0 -2.4,0M261.14,221.41a1.2,1.2 0 1,0 2.4,0a1.2,1.2 0 1,0 -2.4,0M260.46,322.71a1.2,1.2 0 1,0 2.4,0a1.2,1.2 0 1,0 -2.4,0M262.68,361.20a1.2,1.2 0 1,0 2.4,0a1.2,1.2 0 1,0 -2.4,0M262.20,340.81a1.2,1.2 0 1,0 2.4,0a1.2,1.2 0 1,0 -2.4,0M262.87,350.69a1.2,1.2 0 1,0 2.4,0a1.2,1.2 0 1,0 -2.4,0M263.11,291.90a1.2,1.2 0 1,0 2.4,0a1.2,1.2 0 1,0 -2.4,0M260.17,355.80a1.2,1.2 0 1,0 2.4,0a1.2,1.2 0 1,0 -2.4,0M262.71,327.13a1.2,1.2 0 1,0 2.4,0a1.2,1.2 0 1,0 -2.4,0M261.76,231.91a1.2,1.2 0 1,0 2.4,0a1.2,1.2 0 1,0 -2.4,0M262.23,351.58a1.2,1.2 0 1,0 2.4,0a1.2,1.2 0 1,0 -2.4,0M256.96,360.15a1.2,1.2 0 1,0 2.4,0a1.2,1.2 0 1,0 -2.4,0M261.03,348.73a1.2,1.2 0 1,0 2.4,0a1.2,1.2 0 1,0 -2.4,0M258.40,322.02a1.2,1.2 0 1,0 2.4,0a1.2,1.2 0 1,0 -2.4,0M259.19,359.17a1.2,1.2 0 1,0 2.4,0a1.2,1.2 0 1,0 -2.4,0M260.20,313.44a1.2,1.2 0 1,0 2.4,0a1.2,1.2 0 1,0 -2.4,0M261.67,278.30a1.2,1.2 0 1,0 2.4,0a1.2,1.2 0 1,0 -2.4,0M258.12,360.92a1.2,1.2 0 1,0 2.4,0a1.2,1.2 0 1,0 -2.4,0M262.51,346.23a1.2,1.2 0 1,0 2.4,0a1.2,1.2 0 1,0 -2.4,0M262.85,361.20a1.2,1.2 0 1,0 2.4,0a1.2,1.2 0 1,0 -2.4,0M262.55,357.97a1.2,1.2 0 1,0 2.4,0a1.2,1.2 0 1,0 -2.4,0M259.86,336.43a1.2,1.2 0 1,0 2.4,0a1.2,1.2 0 1,0 -2.4,0M263.19,349.53a1.2,1.2 0 1,0 2.4,0a1.2,1.2 0 1,0 -2.4,0M261.63,345.98a1.2,1.2 0 1,0 2.4,0a1.2,1.2 0 1,0 -2.4,0M263.00,361.20a1.2,1.2 0 1,0 2.4,0a1.2,1.2 0 1,0 -2.4,0M263.52,214.05a1.2,1.2 0 1,0 2.4,0a1.2,1.2 0 1,0 -2.4,0M259.32,361.20a1.2,1.2 0 1,0 2.4,0a1.2,1.2 0 1,0 -2.4,0M259.70,217.93a1.2,1.2 0 1,0 2.4,0a1.2,1.2 0 1,0 -2.4,0M261.02,361.05a1.2,1.2 0 1,0 2.4,0a1.2,1.2 0 1,0 -2.4,0M261.51,338.14a1.2,1.2 0 1,0 2.4,0a1.2,1.2 0 1,0 -2.4,0M262.91,322.85a1.2,1.2 0 1,0 2.4,0a1.2,1.2 0 1,0 -2.4,0M263.53,236.85a1.2,1.2 0 1,0 2.4,0a1.2,1.2 0 1,0 -2.4,0M260.40,308.08a1.2,1.2 0 1,0 2.4,0a1.2,1.2 0 1,0 -2.4,0M255.20,303.25a1.2,1.2 0 1,0 2.4,0a1.2,1.2 0 1,0 -2.4,0M262.67,355.31a1.2,1.2 0 1,0 2.4,0a1.2,1.2 0 1,0 -2.4,0M263.10,361.20a1.2,1.2 0 1,0 2.4,0a1.2,1.2 0 1,0 -2.4,0M259.01,259.59a1.2,1.2 0 1,0 2.4,0a1.2,1.2 0 1,0 -2.4,0M262.48,358.49a1.2,1.2 0 1,0 2.4,0a1.2,1.2 0 1,0 -2.4,0M260.45,257.93a1.2,1.2 0 1,0 2.4,0a1.2,1.2 0 1,0 -2.4,0M255.57,359.20a1.2,1.2 0 1,0 2.4,0a1.2,1.2 0 1,0 -2.4,0M258.87,262.04a1.2,1.2 0 1,0 2.4,0a1.2,1.2 0 1,0 -2.4,0M259.41,349.34a1.2,1.2 0 1,0 2.4,0a1.2,1.2 0 1,0 -2.4,0M262.93,263.38a1.2,1.2 0 1,0 2.4,0a1.2,1.2 0 1,0 -2.4,0M262.38,345.43a1.2,1.2 0 1,0 2.4,0a1.2,1.2 0 1,0 -2.4,0M261.11,345.36a1.2,1.2 0 1,0 2.4,0a1.2,1.2 0 1,0 -2.4,0M258.12,355.71a1.2,1.2 0 1,0 2.4,0a1.2,1.2 0 1,0 -2.4,0M263.43,318.96a1.2,1.2 0 1,0 2.4,0a1.2,1.2 0 1,0 -2.4,0M260.54,264.85a1.2,1.2 0 1,0 2.4,0a1.2,1.2 0 1,0 -2.4,0M259.82,241.11a1.2,1.2 0 1,0 2.4,0a1.2,1.2 0 1,0 -2.4,0M254.70,330.20a1.2,1.2 0 1,0 2.4,0a1.2,1.2 0 1,0 -2.4,0M261.44,359.62a1.2,1.2 0 1,0 2.4,0a1.2,1.2 0 1,0 -2.4,0M262.47,316.53a1.2,1.2 0 1,0 2.4,0a1.2,1.2 0 1,0 -2.4,0M263.30,295.99a1.2,1.2 0 1,0 2.4,0a1.2,1.2 0 1,0 -2.4,0M263.01,337.04a1.2,1.2 0 1,0 2.4,0a1.2,1.2 0 1,0 -2.4,0M252.86,361.20a1.2,1.2 0 1,0 2.4,0a1.2,1.2 0 1,0 -2.4,0M263.43,337.50a1.2,1.2 0 1,0 2.4,0a1.2,1.2 0 1,0 -2.4,0M262.91,288.36a1.2,1.2 0 1,0 2.4,0a1.2,1.2 0 1,0 -2.4,0M263.55,259.25a1.2,1.2 0 1,0 2.4,0a1.2,1.2 0 1,0 -2.4,0M257.65,273.22a1.2,1.2 0 1,0 2.4,0a1.2,1.2 0 1,0 -2.4,0M261.86,352.80a1.2,1.2 0 1,0 2.4,0a1.2,1.2 0 1,0 -2.4,0M260.25,327.24a1.2,1.2 0 1,0 2.4,0a1.2,1.2 0 1,0 -2.4,0M261.89,348.28a1.2,1.2 0 1,0 2.4,0a1.2,1.2 0 1,0 -2.4,0M261.79,300.53a1.2,1.2 0 1,0 2.4,0a1.2,1.2 0 1,0 -2.4,0M258.21,241.47a1.2,1.2 0 1,0 2.4,0a1.2,1.2 0 1,0 -2.4,0M263.01,351.87a1.2,1.2 0 1,0 2.4,0a1.2,1.2 0 1,0 -2.4,0M261.77,319.54a1.2,1.2 0 1,0 2.4,0a1.2,1.2 0 1,0 -2.4,0M262.25,358.05a1.2,1.2 0 1,0 2.4,0a1.2,1.2 0 1,0 -2.4,0M263.29,349.59a1.2,1.2 0 1,0 2.4,0a1.2,1.2 0 1,0 -2.4,0M261.67,220.81a1.2,1.2 0 1,0 2.4,0a1.2,1.2 0 1,0 -2.4,0M256.24,252.51a1.2,1.2 0 1,0 2.4,0a1.2,1.2 0 1,0 -2.4,0M252.36,223.82a1.2,1.2 0 1,0 2.4,0a1.2,1.2 0 1,0 -2.4,0M260.60,267.08a1.2,1.2 0 1,0 2.4,0a1.2,1.2 0 1,0 -2.4,0M263.37,298.41a1.2,1.2 0 1,0 2.4,0a1.2,1.2 0 1,0 -2.4,0M260.69,351.77a1.2,1.2 0 1,0 2.4,0a1.2,1.2 0 1,0 -2.4,0M260.97,226.66a1.2,1.2 0 1,0 2.4,0a1.2,1.2 0 1,0 -2.4,0M261.56,304.29a1.2,1.2 0 1,0 2.4,0a1.2,1.2 0 1,0 -2.4,0M262.47,347.84a1.2,1.2 0 1,0 2.4,0a1.2,1.2 0 1,0 -2.4,0M256.95,361.20a1.2,1.2 0 1,0 2.4,0a1.2,1.2 0 1,0 -2.4,0M262.92,297.94a1.2,1.2 0 1,0 2.4,0a1.2,1.2 0 1,0 -2.4,0M261.75,361.20a1.2,1.2 0 1,0 2.4,0a1.2,1.2 0 1,0 -2.4,0M260.26,345.08a1.2,1.2 0 1,0 2.4,0a1.2,1.2 0 1,0 -2.4,0M260.90,340.27a1.2,1.2 0 1,0 2.4,0a1.2,1.2 0 1,0 -2.4,0M261.25,319.30a1.2,1.2 0 1,0 2.4,0a1.2,1.2 0 1,0 -2.4,0M262.02,360.92a1.2,1.2 0 1,0 2.4,0a1.2,1.2 0 1,0 -2.4,0M262.95,245.54a1.2,1.2 0 1,0 2.4,0a1.2,1.2 0 1,0 -2.4,0M261.13,360.97a1.2,1.2 0 1,0 2.4,0a1.2,1.2 0 1,0 -2.4,0M257.50,354.84a1.2,1.2 0 1,0 2.4,0a1.2,1.2 0 1,0 -2.4,0M263.25,324.78a1.2,1.2 0 1,0 2.4,0a1.2,1.2 0 1,0 -2.4,0M262.67,330.92a1.2,1.2 0 1,0 2.4,0a1.2,1.2 0 1,0 -2.4,0M261.09,356.45a1.2,1.2 0 1,0 2.4,0a1.2,1.2 0 1,0 -2.4,0M260.96,360.95a1.2,1.2 0 1,0 2.4,0a1.2,1.2 0 1,0 -2.4,0M261.36,315.25a1.2,1.2 0 1,0 2.4,0a1.2,1.2 0 1,0 -2.4,0M263.30,341.22a1.2,1.2 0 1,0 2.4,0a1.2,1.2 0 1,0 -2.4,0M263.32,337.49a1.2,1.2 0 1,0 2.4,0a1.2,1.2 0 1,0 -2.4,0M257.47,321.65a1.2,1.2 0 1,0 2.4,0a1.2,1.2 0 1,0 -2.4,0M259.73,280.51a1.2,1.2 0 1,0 2.4,0a1.2,1.2 0 1,0 -2.4,0M263.19,214.53a1.2,1.2 0 1,0 2.4,0a1.2,1.2 0 1,0 -2.4,0M259.65,361.20a1.2,1.2 0 1,0 2.4,0a1.2,1.2 0 1,0 -2.4,0M258.14,343.00a1.2,1.2 0 1,0 2.4,0a1.2,1.2 0 1,0 -2.4,0M262.98,224.39a1.2,1.2 0 1,0 2.4,0a1.2,1.2 0 1,0 -2.4,0M261.03,276.16a1.2,1.2 0 1,0 2.4,0a1.2,1.2 0 1,0 -2.4,0M263.11,275.87a1.2,1.2 0 1,0 2.4,0a1.2,1.2 0 1,0 -2.4,0M263.38,355.86a1.2,1.2 0 1,0 2.4,0a1.2,1.2 0 1,0 -2.4,0M262.13,361.20a1.2,1.2 0 1,0 2.4,0a1.2,1.2 0 1,0 -2.4,0M260.80,357.17a1.2,1.2 0 1,0 2.4,0a1.2,1.2 0 1,0 -2.4,0M262.47,291.80a1.2,1.2 0 1,0 2.4,0a1.2,1.2 0 1,0 -2.4,0M261.86,245.94a1.2,1.2 0 1,0 2.4,0a1.2,1.2 0 1,0 -2.4,0M260.59,250.63a1.2,1.2 0 1,0 2.4,0a1.2,1.2 0 1,0 -2.4,0M261.03,237.46a1.2,1.2 0 1,0 2.4,0a1.2,1.2 0 1,0 -2.4,0M257.31,359.22a1.2,1.2 0 1,0 2.4,0a1.2,1.2 0 1,0 -2.4,0M259.38,348.03a1.2,1.2 0 1,0 2.4,0a1.2,1.2 0 1,0 -2.4,0M259.15,297.56a1.2,1.2 0 1,0 2.4,0a1.2,1.2 0 1,0 -2.4,0M258.22,360.71a1.2,1.2 0 1,0 2.4,0a1.2,1.2 0 1,0 -2.4,0M262.13,285.11a1.2,1.2 0 1,0 2.4,0a1.2,1.2 0 1,0 -2.4,0M254.52,288.62a1.2,1.2 0 1,0 2.4,0a1.2,1.2 0 1,0 -2.4,0M263.42,312.52a1.2,1.2 0 1,0 2.4,0a1.2,1.2 0 1,0 -2.4,0M263.24,321.93a1.2,1.2 0 1,0 2.4,0a1.2,1.2 0 1,0 -2.4,0M258.59,360.96a1.2,1.2 0 1,0 2.4,0a1.2,1.2 0 1,0 -2.4,0M255.63,298.66a1.2,1.2 0 1,0 2.4,0a1.2,1.2 0 1,0 -2.4,0M262.66,358.15a1.2,1.2 0 1,0 2.4,0a1.2,1.2 0 1,0 -2.4,0M261.75,259.97a1.2,1.2 0 1,0 2.4,0a1.2,1.2 0 1,0 -2.4,0M260.90,360.94a1.2,1.2 0 1,0 2.4,0a1.2,1.2 0 1,0 -2.4,0M263.49,361.02a1.2,1.2 0 1,0 2.4,0a1.2,1.2 0 1,0 -2.4,0M258.63,358.51a1.2,1.2 0 1,0 2.4,0a1.2,1.2 0 1,0 -2.4,0M261.09,352.30a1.2,1.2 0 1,0 2.4,0a1.2,1.2 0 1,0 -2.4,0M260.01,344.18a1.2,1.2 0 1,0 2.4,0a1.2,1.2 0 1,0 -2.4,0M263.08,249.71a1.2,1.2 0 1,0 2.4,0a1.2,1.2 0 1,0 -2.4,0M261.20,295.66a1.2,1.2 0 1,0 2.4,0a1.2,1.2 0 1,0 -2.4,0M258.51,227.92a1.2,1.2 0 1,0 2.4,0a1.2,1.2 0 1,0 -2.4,0M263.52,347.94a1.2,1.2 0 1,0 2.4,0a1.2,1.2 0 1,0 -2.4,0M263.06,329.13a1.2,1.2 0 1,0 2.4,0a1.2,1.2 0 1,0 -2.4,0M257.25,269.82a1.2,1.2 0 1,0 2.4,0a1.2,1.2 0 1,0 -2.4,0M263.45,358.64a1.2,1.2 0 1,0 2.4,0a1.2,1.2 0 1,0 -2.4,0M258.35,297.77a1.2,1.2 0 1,0 2.4,0a1.2,1.2 0 1,0 -2.4,0M262.03,332.79a1.2,1.2 0 1,0 2.4,0a1.2,1.2 0 1,0 -2.4,0M263.03,258.10a1.2,1.2 0 1,0 2.4,0a1.2,1.2 0 1,0 -2.4,0M262.03,250.38a1.2,1.2 0 1,0 2.4,0a1.2,1.2 0 1,0 -2.4,0M260.67,361.20a1.2,1.2 0 1,0 2.4,0a1.2,1.2 0 1,0 -2.4,0M262.34,357.01a1.2,1.2 0 1,0 2.4,0a1.2,1.2 0 1,0 -2.4,0M256.70,315.12a1.2,1.2 0 1,0 2.4,0a1.2,1.2 0 1,0 -2.4,0M263.42,359.15a1.2,1.2 0 1,0 2.4,0a1.2,1.2 0 1,0 -2.4,0M262.19,333.87a1.2,1.2 0 1,0 2.4,0a1.2,1.2 0 1,0 -2.4,0M260.93,343.43a1.2,1.2 0 1,0 2.4,0a1.2,1.2 0 1,0 -2.4,0M262.22,361.20a1.2,1.2 0 1,0 2.4,0a1.2,1.2 0 1,0 -2.4,0M260.91,348.71a1.2,1.2 0 1,0 2.4,0a1.2,1.2 0 1,0 -2.4,0M263.49,334.97a1.2,1.2 0 1,0 2.4,0a1.2,1.2 0 1,0 -2.4,0M250.69,361.20a1.2,1.2 0 1,0 2.4,0a1.2,1.2 0 1,0 -2.4,0M263.08,299.54a1.2,1.2 0 1,0 2.4,0a1.2,1.2 0 1,0 -2.4,0M262.59,353.51a1.2,1.2 0 1,0 2.4,0a1.2,1.2 0 1,0 -2.4,0M261.44,354.28a1.2,1.2 0 1,0 2.4,0a1.2,1.2 0 1,0 -2.4,0M260.99,325.19a1.2,1.2 0 1,0 2.4,0a1.2,1.2 0 1,0 -2.4,0M253.95,214.03a1.2,1.2 0 1,0 2.4,0a1.2,1.2 0 1,0 -2.4,0M263.45,320.00a1.2,1.2 0 1,0 2.4,0a1.2,1.2 0 1,0 -2.4,0M259.06,250.56a1.2,1.2 0 1,0 2.4,0a1.2,1.2 0 1,0 -2.4,0M259.01,307.06a1.2,1.2 0 1,0 2.4,0a1.2,1.2 0 1,0 -2.4,0M260.48,345.99a1.2,1.2 0 1,0 2.4,0a1.2,1.2 0 1,0 -2.4,0M262.55,271.12a1.2,1.2 0 1,0 2.4,0a1.2,1.2 0 1,0 -2.4,0M257.26,231.05a1.2,1.2 0 1,0 2.4,0a1.2,1.2 0 1,0 -2.4,0M260.06,351.22a1.2,1.2 0 1,0 2.4,0a1.2,1.2 0 1,0 -2.4,0M259.16,284.58a1.2,1.2 0 1,0 2.4,0a1.2,1.2 0 1,0 -2.4,0M261.39,306.65a1.2,1.2 0 1,0 2.4,0a1.2,1.2 0 1,0 -2.4,0M262.24,321.62a1.2,1.2 0 1,0 2.4,0a1.2,1.2 0 1,0 -2.4,0M261.97,361.20a1.2,1.2 0 1,0 2.4,0a1.2,1.2 0 1,0 -2.4,0M262.30,349.64a1.2,1.2 0 1,0 2.4,0a1.2,1.2 0 1,0 -2.4,0M216.96,359.56a1.2,1.2 0 1,0 2.4,0a1.2,1.2 0 1,0 -2.4,0M258.77,361.08a1.2,1.2 0 1,0 2.4,0a1.2,1.2 0 1,0 -2.4,0M260.76,360.47a1.2,1.2 0 1,0 2.4,0a1.2,1.2 0 1,0 -2.4,0M262.03,361.20a1.2,1.2 0 1,0 2.4,0a1.2,1.2 0 1,0 -2.4,0M242.15,359.77a1.2,1.2 0 1,0 2.4,0a1.2,1.2 0 1,0 -2.4,0M257.39,358.82a1.2,1.2 0 1,0 2.4,0a1.2,1.2 0 1,0 -2.4,0M259.79,361.20a1.2,1.2 0 1,0 2.4,0a1.2,1.2 0 1,0 -2.4,0M262.84,360.76a1.2,1.2 0 1,0 2.4,0a1.2,1.2 0 1,0 -2.4,0M259.70,356.99a1.2,1.2 0 1,0 2.4,0a1.2,1.2 0 1,0 -2.4,0M255.18,351.06a1.2,1.2 0 1,0 2.4,0a1.2,1.2 0 1,0 -2.4,0M259.21,351.98a1.2,1.2 0 1,0 2.4,0a1.2,1.2 0 1,0 -2.4,0M254.41,361.20a1.2,1.2 0 1,0 2.4,0a1.2,1.2 0 1,0 -2.4,0M261.50,358.71a1.2,1.2 0 1,0 2.4,0a1.2,1.2 0 1,0 -2.4,0M217.79,360.42a1.2,1.2 0 1,0 2.4,0a1.2,1.2 0 1,0 -2.4,0M247.99,359.95a1.2,1.2 0 1,0 2.4,0a1.2,1.2 0 1,0 -2.4,0M242.37,361.20a1.2,1.2 0 1,0 2.4,0a1.2,1.2 0 1,0 -2.4,0M256.63,352.98a1.2,1.2 0 1,0 2.4,0a1.2,1.2 0 1,0 -2.4,0M260.18,361.00a1.2,1.2 0 1,0 2.4,0a1.2,1.2 0 1,0 -2.4,0M263.31,361.20a1.2,1.2 0 1,0 2.4,0a1.2,1.2 0 1,0 -2.4,0M260.30,357.30a1.2,1.2 0 1,0 2.4,0a1.2,1.2 0 1,0 -2.4,0M260.98,360.15a1.2,1.2 0 1,0 2.4,0a1.2,1.2 0 1,0 -2.4,0M261.22,358.49a1.2,1.2 0 1,0 2.4,0a1.2,1.2 0 1,0 -2.4,0M242.70,358.00a1.2,1.2 0 1,0 2.4,0a1.2,1.2 0 1,0 -2.4,0M261.27,356.88a1.2,1.2 0 1,0 2.4,0a1.2,1.2 0 1,0 -2.4,0M229.06,358.51a1.2,1.2 0 1,0 2.4,0a1.2,1.2 0 1,0 -2.4,0M262.69,355.54a1.2,1.2 0 1,0 2.4,0a1.2,1.2 0 1,0 -2.4,0M241.78,360.52a1.2,1.2 0 1,0 2.4,0a1.2,1.2 0 1,0 -2.4,0M262.02,361.20a1.2,1.2 0 1,0 2.4,0a1.2,1.2 0 1,0 -2.4,0M255.51,353.83a1.2,1.2 0 1,0 2.4,0a1.2,1.2 0 1,0 -2.4,0M252.88,351.90a1.2,1.2 0 1,0 2.4,0a1.2,1.2 0 1,0 -2.4,0M261.06,360.61a1.2,1.2 0 1,0 2.4,0a1.2,1.2 0 1,0 -2.4,0M249.10,357.99a1.2,1.2 0 1,0 2.4,0a1.2,1.2 0 1,0 -2.4,0M258.13,357.63a1.2,1.2 0 1,0 2.4,0a1.2,1.2 0 1,0 -2.4,0M259.25,361.20a1.2,1.2 0 1,0 2.4,0a1.2,1.2 0 1,0 -2.4,0M257.97,361.20a1.2,1.2 0 1,0 2.4,0a1.2,1.2 0 1,0 -2.4,0M253.27,360.56a1.2,1.2 0 1,0 2.4,0a1.2,1.2 0 1,0 -2.4,0M256.43,358.54a1.2,1.2 0 1,0 2.4,0a1.2,1.2 0 1,0 -2.4,0M260.45,359.70a1.2,1.2 0 1,0 2.4,0a1.2,1.2 0 1,0 -2.4,0M263.41,351.77a1.2,1.2 0 1,0 2.4,0a1.2,1.2 0 1,0 -2.4,0M254.88,344.58a1.2,1.2 0 1,0 2.4,0a1.2,1.2 0 1,0 -2.4,0M262.96,358.37a1.2,1.2 0 1,0 2.4,0a1.2,1.2 0 1,0 -2.4,0M250.10,360.60a1.2,1.2 0 1,0 2.4,0a1.2,1.2 0 1,0 -2.4,0M262.53,361.20a1.2,1.2 0 1,0 2.4,0a1.2,1.2 0 1,0 -2.4,0M261.95,356.34a1.2,1.2 0 1,0 2.4,0a1.2,1.2 0 1,0 -2.4,0M262.57,355.44a1.2,1.2 0 1,0 2.4,0a1.2,1.2 0 1,0 -2.4,0M257.81,359.09a1.2,1.2 0 1,0 2.4,0a1.2,1.2 0 1,0 -2.4,0M254.28,358.95a1.2,1.2 0 1,0 2.4,0a1.2,1.2 0 1,0 -2.4,0M252.36,358.50a1.2,1.2 0 1,0 2.4,0a1.2,1.2 0 1,0 -2.4,0M259.36,356.77a1.2,1.2 0 1,0 2.4,0a1.2,1.2 0 1,0 -2.4,0M260.44,357.20a1.2,1.2 0 1,0 2.4,0a1.2,1.2 0 1,0 -2.4,0M248.50,356.19a1.2,1.2 0 1,0 2.4,0a1.2,1.2 0 1,0 -2.4,0M259.69,356.25a1.2,1.2 0 1,0 2.4,0a1.2,1.2 0 1,0 -2.4,0M223.95,359.77a1.2,1.2 0 1,0 2.4,0a1.2,1.2 0 1,0 -2.4,0M260.15,359.22a1.2,1.2 0 1,0 2.4,0a1.2,1.2 0 1,0 -2.4,0M233.99,361.20a1.2,1.2 0 1,0 2.4,0a1.2,1.2 0 1,0 -2.4,0M263.46,359.60a1.2,1.2 0 1,0 2.4,0a1.2,1.2 0 1,0 -2.4,0M252.42,356.22a1.2,1.2 0 1,0 2.4,0a1.2,1.2 0 1,0 -2.4,0M258.85,343.87a1.2,1.2 0 1,0 2.4,0a1.2,1.2 0 1,0 -2.4,0M260.85,356.52a1.2,1.2 0 1,0 2.4,0a1.2,1.2 0 1,0 -2.4,0M262.57,361.20a1.2,1.2 0 1,0 2.4,0a1.2,1.2 0 1,0 -2.4,0M262.05,361.20a1.2,1.2 0 1,0 2.4,0a1.2,1.2 0 1,0 -2.4,0M256.27,358.94a1.2,1.2 0 1,0 2.4,0a1.2,1.2 0 1,0 -2.4,0M261.46,350.91a1.2,1.2 0 1,0 2.4,0a1.2,1.2 0 1,0 -2.4,0M258.80,361.20a1.2,1.2 0 1,0 2.4,0a1.2,1.2 0 1,0 -2.4,0M261.52,356.82a1.2,1.2 0 1,0 2.4,0a1.2,1.2 0 1,0 -2.4,0M236.97,361.20a1.2,1.2 0 1,0 2.4,0a1.2,1.2 0 1,0 -2.4,0M263.25,356.15a1.2,1.2 0 1,0 2.4,0a1.2,1.2 0 1,0 -2.4,0M260.65,345.98a1.2,1.2 0 1,0 2.4,0a1.2,1.2 0 1,0 -2.4,0M256.34,358.14a1.2,1.2 0 1,0 2.4,0a1.2,1.2 0 1,0 -2.4,0M259.15,355.72a1.2,1.2 0 1,0 2.4,0a1.2,1.2 0 1,0 -2.4,0M257.12,360.63a1.2,1.2 0 1,0 2.4,0a1.2,1.2 0 1,0 -2.4,0M239.12,361.20a1.2,1.2 0 1,0 2.4,0a1.2,1.2 0 1,0 -2.4,0M249.74,361.20a1.2,1.2 0 1,0 2.4,0a1.2,1.2 0 1,0 -2.4,0M252.72,360.13a1.2,1.2 0 1,0 2.4,0a1.2,1.2 0 1,0 -2.4,0M242.70,361.20a1.2,1.2 0 1,0 2.4,0a1.2,1.2 0 1,0 -2.4,0M254.88,360.08a1.2,1.2 0 1,0 2.4,0a1.2,1.2 0 1,0 -2.4,0M237.27,350.54a1.2,1.2 0 1,0 2.4,0a1.2,1.2 0 1,0 -2.4,0M253.25,361.18a1.2,1.2 0 1,0 2.4,0a1.2,1.2 0 1,0 -2.4,0M260.52,360.98a1.2,1.2 0 1,0 2.4,0a1.2,1.2 0 1,0 -2.4,0M257.61,361.14a1.2,1.2 0 1,0 2.4,0a1.2,1.2 0 1,0 -2.4,0M261.18,356.48a1.2,1.2 0 1,0 2.4,0a1.2,1.2 0 1,0 -2.4,0M252.80,360.77a1.2,1.2 0 1,0 2.4,0a1.2,1.2 0 1,0 -2.4,0M215.32,361.20a1.2,1.2 0 1,0 2.4,0a1.2,1.2 0 1,0 -2.4,0M254.75,361.20a1.2,1.2 0 1,0 2.4,0a1.2,1.2 0 1,0 -2.4,0M242.78,354.02a1.2,1.2 0 1,0 2.4,0a1.2,1.2 0 1,0 -2.4,0M260.31,356.60a1.2,1.2 0 1,0 2.4,0a1.2,1.2 0 1,0 -2.4,0M245.47,360.87a1.2,1.2 0 1,0 2.4,0a1.2,1.2 0 1,0 -2.4,0M259.35,359.53a1.2,1.2 0 1,0 2.4,0a1.2,1.2 0 1,0 -2.4,0M240.40,361.20a1.2,1.2 0 1,0 2.4,0a1.2,1.2 0 1,0 -2.4,0M251.56,358.54a1.2,1.2 0 1,0 2.4,0a1.2,1.2 0 1,0 -2.4,0M257.25,358.72a1.2,1.2 0 1,0 2.4,0a1.2,1.2 0 1,0 -2.4,0M241.15,361.20a1.2,1.2 0 1,0 2.4,0a1.2,1.2 0 1,0 -2.4,0M241.08,360.40a1.2,1.2 0 1,0 2.4,0a1.2,1.2 0 1,0 -2.4,0M247.74,354.20a1.2,1.2 0 1,0 2.4,0a1.2,1.2 0 1,0 -2.4,0M261.45,354.18a1.2,1.2 0 1,0 2.4,0a1.2,1.2 0 1,0 -2.4,0M215.32,360.78a1.2,1.2 0 1,0 2.4,0a1.2,1.2 0 1,0 -2.4,0M263.30,361.20a1.2,1.2 0 1,0 2.4,0a1.2,1.2 0 1,0 -2.4,0M225.28,361.20a1.2,1.2 0 1,0 2.4,0a1.2,1.2 0 1,0 -2.4,0M238.20,361.20a1.2,1.2 0 1,0 2.4,0a1.2,1.2 0 1,0 -2.4,0M249.64,361.20a1.2,1.2 0 1,0 2.4,0a1.2,1.2 0 1,0 -2.4,0M261.63,357.58a1.2,1.2 0 1,0 2.4,0a1.2,1.2 0 1,0 -2.4,0M262.57,360.53a1.2,1.2 0 1,0 2.4,0a1.2,1.2 0 1,0 -2.4,0M237.35,357.13a1.2,1.2 0 1,0 2.4,0a1.2,1.2 0 1,0 -2.4,0M241.23,346.54a1.2,1.2 0 1,0 2.4,0a1.2,1.2 0 1,0 -2.4,0M263.21,361.13a1.2,1.2 0 1,0 2.4,0a1.2,1.2 0 1,0 -2.4,0M247.14,357.50a1.2,1.2 0 1,0 2.4,0a1.2,1.2 0 1,0 -2.4,0M263.15,359.37a1.2,1.2 0 1,0 2.4,0a1.2,1.2 0 1,0 -2.4,0M260.80,359.94a1.2,1.2 0 1,0 2.4,0a1.2,1.2 0 1,0 -2.4,0M262.40,361.20a1.2,1.2 0 1,0 2.4,0a1.2,1.2 0 1,0 -2.4,0M215.32,360.67a1.2,1.2 0 1,0 2.4,0a1.2,1.2 0 1,0 -2.4,0M241.52,361.20a1.2,1.2 0 1,0 2.4,0a1.2,1.2 0 1,0 -2.4,0M256.57,361.20a1.2,1.2 0 1,0 2.4,0a1.2,1.2 0 1,0 -2.4,0M257.71,361.20a1.2,1.2 0 1,0 2.4,0a1.2,1.2 0 1,0 -2.4,0M251.47,361.20a1.2,1.2 0 1,0 2.4,0a1.2,1.2 0 1,0 -2.4,0M249.55,359.41a1.2,1.2 0 1,0 2.4,0a1.2,1.2 0 1,0 -2.4,0M262.31,360.45a1.2,1.2 0 1,0 2.4,0a1.2,1.2 0 1,0 -2.4,0M256.39,352.11a1.2,1.2 0 1,0 2.4,0a1.2,1.2 0 1,0 -2.4,0M259.06,361.20a1.2,1.2 0 1,0 2.4,0a1.2,1.2 0 1,0 -2.4,0M227.74,353.57a1.2,1.2 0 1,0 2.4,0a1.2,1.2 0 1,0 -2.4,0M249.82,360.92a1.2,1.2 0 1,0 2.4,0a1.2,1.2 0 1,0 -2.4,0M261.52,360.96a1.2,1.2 0 1,0 2.4,0a1.2,1.2 0 1,0 -2.4,0M262.81,361.20a1.2,1.2 0 1,0 2.4,0a1.2,1.2 0 1,0 -2.4,0M256.13,360.09a1.2,1.2 0 1,0 2.4,0a1.2,1.2 0 1,0 -2.4,0M255.06,360.39a1.2,1.2 0 1,0 2.4,0a1.2,1.2 0 1,0 -2.4,0M263.45,357.52a1.2,1.2 0 1,0 2.4,0a1.2,1.2 0 1,0 -2.4,0M252.49,359.04a1.2,1.2 0 1,0 2.4,0a1.2,1.2 0 1,0 -2.4,0M255.24,357.49a1.2,1.2 0 1,0 2.4,0a1.2,1.2 0 1,0 -2.4,0M221.36,353.87a1.2,1.2 0 1,0 2.4,0a1.2,1.2 0 1,0 -2.4,0M250.34,360.15a1.2,1.2 0 1,0 2.4,0a1.2,1.2 0 1,0 -2.4,0M259.55,360.02a1.2,1.2 0 1,0 2.4,0a1.2,1.2 0 1,0 -2.4,0M225.83,360.23a1.2,1.2 0 1,0 2.4,0a1.2,1.2 0 1,0 -2.4,0M258.47,360.08a1.2,1.2 0 1,0 2.4,0a1.2,1.2 0 1,0 -2.4,0M261.94,336.43a1.2,1.2 0 1,0 2.4,0a1.2,1.2 0 1,0 -2.4,0M263.50,358.44a1.2,1.2 0 1,0 2.4,0a1.2,1.2 0 1,0 -2.4,0M236.30,361.02a1.2,1.2 0 1,0 2.4,0a1.2,1.2 0 1,0 -2.4,0M253.69,360.30a1.2,1.2 0 1,0 2.4,0a1.2,1.2 0 1,0 -2.4,0M260.68,361.20a1.2,1.2 0 1,0 2.4,0a1.2,1.2 0 1,0 -2.4,0M262.27,354.76a1.2,1.2 0 1,0 2.4,0a1.2,1.2 0 1,0 -2.4,0M247.54,352.59a1.2,1.2 0 1,0 2.4,0a1.2,1.2 0 1,0 -2.4,0M263.03,357.44a1.2,1.2 0 1,0 2.4,0a1.2,1.2 0 1,0 -2.4,0M259.46,358.02a1.2,1.2 0 1,0 2.4,0a1.2,1.2 0 1,0 -2.4,0M255.24,360.68a1.2,1.2 0 1,0 2.4,0a1.2,1.2 0 1,0 -2.4,0M226.33,361.20a1.2,1.2 0 1,0 2.4,0a1.2,1.2 0 1,0 -2.4,0M249.23,354.48a1.2,1.2 0 1,0 2.4,0a1.2,1.2 0 1,0 -2.4,0M256.10,358.59a1.2,1.2 0 1,0 2.4,0a1.2,1.2 0 1,0 -2.4,0M215.32,361.13a1.2,1.2 0 1,0 2.4,0a1.2,1.2 0 1,0 -2.4,0M253.18,356.73a1.2,1.2 0 1,0 2.4,0a1.2,1.2 0 1,0 -2.4,0M258.58,357.19a1.2,1.2 0 1,0 2.4,0a1.2,1.2 0 1,0 -2.4,0M258.33,359.20a1.2,1.2 0 1,0 2.4,0a1.2,1.2 0 1,0 -2.4,0M253.64,357.65a1.2,1.2 0 1,0 2.4,0a1.2,1.2 0 1,0 -2.4,0M259.49,358.22a1.2,1.2 0 1,0 2.4,0a1.2,1.2 0 1,0 -2.4,0M255.37,361.18a1.2,1.2 0 1,0 2.4,0a1.2,1.2 0 1,0 -2.4,0M253.65,360.96a1.2,1.2 0 1,0 2.4,0a1.2,1.2 0 1,0 -2.4,0M238.53,359.62a1.2,1.2 0 1,0 2.4,0a1.2,1.2 0 1,0 -2.4,0M250.19,359.23a1.2,1.2 0 1,0 2.4,0a1.2,1.2 0 1,0 -2.4,0M256.79,361.19a1.2,1.2 0 1,0 2.4,0a1.2,1.2 0 1,0 -2.4,0M261.96,351.66a1.2,1.2 0 1,0 2.4,0a1.2,1.2 0 1,0 -2.4,0M255.69,359.22a1.2,1.2 0 1,0 2.4,0a1.2,1.2 0 1,0 -2.4,0M255.72,355.45a1.2,1.2 0 1,0 2.4,0a1.2,1.2 0 1,0 -2.4,0M260.71,361.20a1.2,1.2 0 1,0 2.4,0a1.2,1.2 0 1,0 -2.4,0M245.52,359.72a1.2,1.2 0 1,0 2.4,0a1.2,1.2 0 1,0 -2.4,0M252.86,355.14a1.2,1.2 0 1,0 2.4,0a1.2,1.2 0 1,0 -2.4,0M240.10,354.07a1.2,1.2 0 1,0 2.4,0a1.2,1.2 0 1,0 -2.4,0M263.10,360.27a1.2,1.2 0 1,0 2.4,0a1.2,1.2 0 1,0 -2.4,0M244.91,355.36a1.2,1.2 0 1,0 2.4,0a1.2,1.2 0 1,0 -2.4,0M262.19,361.20a1.2,1.2 0 1,0 2.4,0a1.2,1.2 0 1,0 -2.4,0M260.53,361.20a1.2,1.2 0 1,0 2.4,0a1.2,1.2 0 1,0 -2.4,0M258.95,355.66a1.2,1.2 0 1,0 2.4,0a1.2,1.2 0 1,0 -2.4,0M255.86,359.78a1.2,1.2 0 1,0 2.4,0a1.2,1.2 0 1,0 -2.4,0M262.60,360.18a1.2,1.2 0 1,0 2.4,0a1.2,1.2 0 1,0 -2.4,0M215.32,357.43a1.2,1.2 0 1,0 2.4,0a1.2,1.2 0 1,0 -2.4,0M257.32,359.58a1.2,1.2 0 1,0 2.4,0a1.2,1.2 0 1,0 -2.4,0M246.83,356.48a1.2,1.2 0 1,0 2.4,0a1.2,1.2 0 1,0 -2.4,0M261.86,357.62a1.2,1.2 0 1,0 2.4,0a1.2,1.2 0 1,0 -2.4,0M258.78,359.24a1.2,1.2 0 1,0 2.4,0a1.2,1.2 0 1,0 -2.4,0M260.72,360.34a1.2,1.2 0 1,0 2.4,0a1.2,1.2 0 1,0 -2.4,0M259.21,360.27a1.2,1.2 0 1,0 2.4,0a1.2,1.2 0 1,0 -2.4,0M263.37,361.20a1.2,1.2 0 1,0 2.4,0a1.2,1.2 0 1,0 -2.4,0M254.72,361.20a1.2,1.2 0 1,0 2.4,0a1.2,1.2 0 1,0 -2.4,0M261.50,357.11a1.2,1.2 0 1,0 2.4,0a1.2,1.2 0 1,0 -2.4,0M260.20,360.63a1.2,1.2 0 1,0 2.4,0a1.2,1.2 0 1,0 -2.4,0M260.66,354.98a1.2,1.2 0 1,0 2.4,0a1.2,1.2 0 1,0 -2.4,0M262.56,358.14a1.2,1.2 0 1,0 2.4,0a1.2,1.2 0 1,0 -2.4,0M243.09,361.20a1.2,1.2 0 1,0 2.4,0a1.2,1.2 0 1,0 -2.4,0M257.81,355.88a1.2,1.2 0 1,0 2.4,0a1.2,1.2 0 1,0 -2.4,0M253.50,360.33a1.2,1.2 0 1,0 2.4,0a1.2,1.2 0 1,0 -2.4,0M263.09,359.85a1.2,1.2 0 1,0 2.4,0a1.2,1.2 0 1,0 -2.4,0M258.78,357.19a1.2,1.2 0 1,0 2.4,0a1.2,1.2 0 1,0 -2.4,0M259.90,360.09a1.2,1.2 0 1,0 2.4,0a1.2,1.2 0 1,0 -2.4,0M252.64,355.51a1.2,1.2 0 1,0 2.4,0a1.2,1.2 0 1,0 -2.4,0M259.02,360.24a1.2,1.2 0 1,0 2.4,0a1.2,1.2 0 1,0 -2.4,0M254.52,351.80a1.2,1.2 0 1,0 2.4,0a1.2,1.2 0 1,0 -2.4,0M261.33,347.91a1.2,1.2 0 1,0 2.4,0a1.2,1.2 0 1,0 -2.4,0M250.55,360.33a1.2,1.2 0 1,0 2.4,0a1.2,1.2 0 1,0 -2.4,0M252.11,360.59a1.2,1.2 0 1,0 2.4,0a1.2,1.2 0 1,0 -2.4,0M262.79,356.53a1.2,1.2 0 1,0 2.4,0a1.2,1.2 0 1,0 -2.4,0M258.57,359.20a1.2,1.2 0 1,0 2.4,0a1.2,1.2 0 1,0 -2.4,0M256.38,352.89a1.2,1.2 0 1,0 2.4,0a1.2,1.2 0 1,0 -2.4,0M248.77,361.20a1.2,1.2 0 1,0 2.4,0a1.2,1.2 0 1,0 -2.4,0M254.17,359.70a1.2,1.2 0 1,0 2.4,0a1.2,1.2 0 1,0 -2.4,0M257.08,354.84a1.2,1.2 0 1,0 2.4,0a1.2,1.2 0 1,0 -2.4,0M257.96,359.62a1.2,1.2 0 1,0 2.4,0a1.2,1.2 0 1,0 -2.4,0M240.45,359.87a1.2,1.2 0 1,0 2.4,0a1.2,1.2 0 1,0 -2.4,0M256.49,359.32a1.2,1.2 0 1,0 2.4,0a1.2,1.2 0 1,0 -2.4,0M245.36,357.74a1.2,1.2 0 1,0 2.4,0a1.2,1.2 0 1,0 -2.4,0M249.46,360.14a1.2,1.2 0 1,0 2.4,0a1.2,1.2 0 1,0 -2.4,0M263.12,357.62a1.2,1.2 0 1,0 2.4,0a1.2,1.2 0 1,0 -2.4,0M255.12,356.31a1.2,1.2 0 1,0 2.4,0a1.2,1.2 0 1,0 -2.4,0M248.20,361.20a1.2,1.2 0 1,0 2.4,0a1.2,1.2 0 1,0 -2.4,0M260.95,361.20a1.2,1.2 0 1,0 2.4,0a1.2,1.2 0 1,0 -2.4,0M245.78,361.20a1.2,1.2 0 1,0 2.4,0a1.2,1.2 0 1,0 -2.4,0M262.59,356.57a1.2,1.2 0 1,0 2.4,0a1.2,1.2 0 1,0 -2.4,0M254.87,361.20a1.2,1.2 0 1,0 2.4,0a1.2,1.2 0 1,0 -2.4,0M251.62,357.21a1.2,1.2 0 1,0 2.4,0a1.2,1.2 0 1,0 -2.4,0M256.67,361.20a1.2,1.2 0 1,0 2.4,0a1.2,1.2 0 1,0 -2.4,0M251.28,360.02a1.2,1.2 0 1,0 2.4,0a1.2,1.2 0 1,0 -2.4,0M254.39,337.02a1.2,1.2 0 1,0 2.4,0a1.2,1.2 0 1,0 -2.4,0M245.82,353.94a1.2,1.2 0 1,0 2.4,0a1.2,1.2 0 1,0 -2.4,0M261.91,360.56a1.2,1.2 0 1,0 2.4,0a1.2,1.2 0 1,0 -2.4,0M255.93,361.20a1.2,1.2 0 1,0 2.4,0a1.2,1.2 0 1,0 -2.4,0M216.72,360.91a1.2,1.2 0 1,0 2.4,0a1.2,1.2 0 1,0 -2.4,0M260.38,360.69a1.2,1.2 0 1,0 2.4,0a1.2,1.2 0 1,0 -2.4,0M260.48,354.33a1.2,1.2 0 1,0 2.4,0a1.2,1.2 0 1,0 -2.4,0M255.08,359.32a1.2,1.2 0 1,0 2.4,0a1.2,1.2 0 1,0 -2.4,0M257.86,361.20a1.2,1.2 0 1,0 2.4,0a1.2,1.2 0 1,0 -2.4,0M259.76,354.10a1.2,1.2 0 1,0 2.4,0a1.2,1.2 0 1,0 -2.4,0M246.63,354.39a1.2,1.2 0 1,0 2.4,0a1.2,1.2 0 1,0 -2.4,0M260.45,361.20a1.2,1.2 0 1,0 2.4,0a1.2,1.2 0 1,0 -2.4,0M263.00,359.11a1.2,1.2 0 1,0 2.4,0a1.2,1.2 0 1,0 -2.4,0M258.67,359.69a1.2,1.2 0 1,0 2.4,0a1.2,1.2 0 1,0 -2.4,0M256.54,358.68a1.2,1.2 0 1,0 2.4,0a1.2,1.2 0 1,0 -2.4,0M258.80,355.70a1.2,1.2 0 1,0 2.4,0a1.2,1.2 0 1,0 -2.4,0M261.22,352.08a1.2,1.2 0 1,0 2.4,0a1.2,1.2 0 1,0 -2.4,0M255.07,361.20a1.2,1.2 0 1,0 2.4,0a1.2,1.2 0 1,0 -2.4,0M259.61,359.14a1.2,1.2 0 1,0 2.4,0a1.2,1.2 0 1,0 -2.4,0M258.06,358.85a1.2,1.2 0 1,0 2.4,0a1.2,1.2 0 1,0 -2.4,0M259.47,360.92a1.2,1.2 0 1,0 2.4,0a1.2,1.2 0 1,0 -2.4,0M246.94,360.81a1.2,1.2 0 1,0 2.4,0a1.2,1.2 0 1,0 -2.4,0M250.60,355.68a1.2,1.2 0 1,0 2.4,0a1.2,1.2 0 1,0 -2.4,0M254.19,359.76a1.2,1.2 0 1,0 2.4,0a1.2,1.2 0 1,0 -2.4,0M235.01,359.83a1.2,1.2 0 1,0 2.4,0a1.2,1.2 0 1,0 -2.4,0M241.56,361.20a1.2,1.2 0 1,0 2.4,0a1.2,1.2 0 1,0 -2.4,0M257.61,358.10a1.2,1.2 0 1,0 2.4,0a1.2,1.2 0 1,0 -2.4,0M263.03,354.22a1.2,1.2 0 1,0 2.4,0a1.2,1.2 0 1,0 -2.4,0M262.78,358.55a1.2,1.2 0 1,0 2.4,0a1.2,1.2 0 1,0 -2.4,0M261.48,351.92a1.2,1.2 0 1,0 2.4,0a1.2,1.2 0 1,0 -2.4,0M254.95,355.72a1.2,1.2 0 1,0 2.4,0a1.2,1.2 0 1,0 -2.4,0M256.35,357.70a1.2,1.2 0 1,0 2.4,0a1.2,1.2 0 1,0 -2.4,0M251.81,360.80a1.2,1.2 0 1,0 2.4,0a1.2,1.2 0 1,0 -2.4,0M261.08,354.88a1.2,1.2 0 1,0 2.4,0a1.2,1.2 0 1,0 -2.4,0M261.91,352.15a1.2,1.2 0 1,0 2.4,0a1.2,1.2 0 1,0 -2.4,0M261.14,361.20a1.2,1.2 0 1,0 2.4,0a1.2,1.2 0 1,0 -2.4,0M262.51,356.03a1.2,1.2 0 1,0 2.4,0a1.2,1.2 0 1,0 -2.4,0M232.06,360.05a1.2,1.2 0 1,0 2.4,0a1.2,1.2 0 1,0 -2.4,0M252.32,361.00a1.2,1.2 0 1,0 2.4,0a1.2,1.2 0 1,0 -2.4,0M238.86,357.54a1.2,1.2 0 1,0 2.4,0a1.2,1.2 0 1,0 -2.4,0M261.80,361.20a1.2,1.2 0 1,0 2.4,0a1.2,1.2 0 1,0 -2.4,0M251.12,361.20a1.2,1.2 0 1,0 2.4,0a1.2,1.2 0 1,0 -2.4,0M244.65,360.80a1.2,1.2 0 1,0 2.4,0a1.2,1.2 0 1,0 -2.4,0M260.79,358.69a1.2,1.2 0 1,0 2.4,0a1.2,1.2 0 1,0 -2.4,0M259.55,358.89a1.2,1.2 0 1,0 2.4,0a1.2,1.2 0 1,0 -2.4,0M261.81,352.43a1.2,1.2 0 1,0 2.4,0a1.2,1.2 0 1,0 -2.4,0M259.46,354.80a1.2,1.2 0 1,0 2.4,0a1.2,1.2 0 1,0 -2.4,0M261.84,355.74a1.2,1.2 0 1,0 2.4,0a1.2,1.2 0 1,0 -2.4,0M222.62,360.20a1.2,1.2 0 1,0 2.4,0a1.2,1.2 0 1,0 -2.4,0M263.21,360.28a1.2,1.2 0 1,0 2.4,0a1.2,1.2 0 1,0 -2.4,0M252.86,361.18a1.2,1.2 0 1,0 2.4,0a1.2,1.2 0 1,0 -2.4,0M255.31,361.20a1.2,1.2 0 1,0 2.4,0a1.2,1.2 0 1,0 -2.4,0M257.03,356.96a1.2,1.2 0 1,0 2.4,0a1.2,1.2 0 1,0 -2.4,0M257.69,357.63a1.2,1.2 0 1,0 2.4,0a1.2,1.2 0 1,0 -2.4,0M262.29,355.11a1.2,1.2 0 1,0 2.4,0a1.2,1.2 0 1,0 -2.4,0M262.20,351.88a1.2,1.2 0 1,0 2.4,0a1.2,1.2 0 1,0 -2.4,0M215.32,350.93a1.2,1.2 0 1,0 2.4,0a1.2,1.2 0 1,0 -2.4,0M255.75,360.82a1.2,1.2 0 1,0 2.4,0a1.2,1.2 0 1,0 -2.4,0M259.09,356.62a1.2,1.2 0 1,0 2.4,0a1.2,1.2 0 1,0 -2.4,0M256.39,351.52a1.2,1.2 0 1,0 2.4,0a1.2,1.2 0 1,0 -2.4,0M262.54,359.53a1.2,1.2 0 1,0 2.4,0a1.2,1.2 0 1,0 -2.4,0M242.71,358.54a1.2,1.2 0 1,0 2.4,0a1.2,1.2 0 1,0 -2.4,0M255.43,361.20a1.2,1.2 0 1,0 2.4,0a1.2,1.2 0 1,0 -2.4,0M261.99,360.93a1.2,1.2 0 1,0 2.4,0a1.2,1.2 0 1,0 -2.4,0M240.19,354.69a1.2,1.2 0 1,0 2.4,0a1.2,1.2 0 1,0 -2.4,0M260.86,351.81a1.2,1.2 0 1,0 2.4,0a1.2,1.2 0 1,0 -2.4,0M263.21,358.53a1.2,1.2 0 1,0 2.4,0a1.2,1.2 0 1,0 -2.4,0M227.79,360.50a1.2,1.2 0 1,0 2.4,0a1.2,1.2 0 1,0 -2.4,0M233.36,357.90a1.2,1.2 0 1,0 2.4,0a1.2,1.2 0 1,0 -2.4,0M263.02,360.57a1.2,1.2 0 1,0 2.4,0a1.2,1.2 0 1,0 -2.4,0M257.32,361.06a1.2,1.2 0 1,0 2.4,0a1.2,1.2 0 1,0 -2.4,0M249.38,361.20a1.2,1.2 0 1,0 2.4,0a1.2,1.2 0 1,0 -2.4,0M247.36,360.78a1.2,1.2 0 1,0 2.4,0a1.2,1.2 0 1,0 -2.4,0M262.81,358.91a1.2,1.2 0 1,0 2.4,0a1.2,1.2 0 1,0 -2.4,0M262.51,358.98a1.2,1.2 0 1,0 2.4,0a1.2,1.2 0 1,0 -2.4,0M247.35,358.56a1.2,1.2 0 1,0 2.4,0a1.2,1.2 0 1,0 -2.4,0M257.09,361.20a1.2,1.2 0 1,0 2.4,0a1.2,1.2 0 1,0 -2.4,0M256.03,361.20a1.2,1.2 0 1,0 2.4,0a1.2,1.2 0 1,0 -2.4,0M252.68,361.20a1.2,1.2 0 1,0 2.4,0a1.2,1.2 0 1,0 -2.4,0M254.54,360.45a1.2,1.2 0 1,0 2.4,0a1.2,1.2 0 1,0 -2.4,0M258.65,357.83a1.2,1.2 0 1,0 2.4,0a1.2,1.2 0 1,0 -2.4,0M261.69,361.20a1.2,1.2 0 1,0 2.4,0a1.2,1.2 0 1,0 -2.4,0M233.88,360.58a1.2,1.2 0 1,0 2.4,0a1.2,1.2 0 1,0 -2.4,0M244.25,353.89a1.2,1.2 0 1,0 2.4,0a1.2,1.2 0 1,0 -2.4,0M256.72,361.20a1.2,1.2 0 1,0 2.4,0a1.2,1.2 0 1,0 -2.4,0M262.53,353.71a1.2,1.2 0 1,0 2.4,0a1.2,1.2 0 1,0 -2.4,0M262.26,359.44a1.2,1.2 0 1,0 2.4,0a1.2,1.2 0 1,0 -2.4,0M255.53,361.20a1.2,1.2 0 1,0 2.4,0a1.2,1.2 0 1,0 -2.4,0M256.97,361.20a1.2,1.2 0 1,0 2.4,0a1.2,1.2 0 1,0 -2.4,0M255.54,359.36a1.2,1.2 0 1,0 2.4,0a1.2,1.2 0 1,0 -2.4,0M258.78,361.20a1.2,1.2 0 1,0 2.4,0a1.2,1.2 0 1,0 -2.4,0M258.15,361.20a1.2,1.2 0 1,0 2.4,0a1.2,1.2 0 1,0 -2.4,0M262.14,361.10a1.2,1.2 0 1,0 2.4,0a1.2,1.2 0 1,0 -2.4,0M242.11,359.40a1.2,1.2 0 1,0 2.4,0a1.2,1.2 0 1,0 -2.4,0M240.43,361.20a1.2,1.2 0 1,0 2.4,0a1.2,1.2 0 1,0 -2.4,0M233.56,359.51a1.2,1.2 0 1,0 2.4,0a1.2,1.2 0 1,0 -2.4,0M247.19,358.80a1.2,1.2 0 1,0 2.4,0a1.2,1.2 0 1,0 -2.4,0M251.35,361.15a1.2,1.2 0 1,0 2.4,0a1.2,1.2 0 1,0 -2.4,0M249.07,361.20a1.2,1.2 0 1,0 2.4,0a1.2,1.2 0 1,0 -2.4,0M260.35,361.20a1.2,1.2 0 1,0 2.4,0a1.2,1.2 0 1,0 -2.4,0M258.34,359.27a1.2,1.2 0 1,0 2.4,0a1.2,1.2 0 1,0 -2.4,0M259.95,353.31a1.2,1.2 0 1,0 2.4,0a1.2,1.2 0 1,0 -2.4,0M262.64,358.73a1.2,1.2 0 1,0 2.4,0a1.2,1.2 0 1,0 -2.4,0M260.77,358.56a1.2,1.2 0 1,0 2.4,0a1.2,1.2 0 1,0 -2.4,0M259.86,323.05a1.2,1.2 0 1,0 2.4,0a1.2,1.2 0 1,0 -2.4,0M263.40,354.24a1.2,1.2 0 1,0 2.4,0a1.2,1.2 0 1,0 -2.4,0M261.35,298.54a1.2,1.2 0 1,0 2.4,0a1.2,1.2 0 1,0 -2.4,0M263.46,330.44a1.2,1.2 0 1,0 2.4,0a1.2,1.2 0 1,0 -2.4,0M260.72,314.17a1.2,1.2 0 1,0 2.4,0a1.2,1.2 0 1,0 -2.4,0M262.55,314.53a1.2,1.2 0 1,0 2.4,0a1.2,1.2 0 1,0 -2.4,0M262.06,304.48a1.2,1.2 0 1,0 2.4,0a1.2,1.2 0 1,0 -2.4,0M263.53,302.64a1.2,1.2 0 1,0 2.4,0a1.2,1.2 0 1,0 -2.4,0M262.28,345.23a1.2,1.2 0 1,0 2.4,0a1.2,1.2 0 1,0 -2.4,0M263.34,354.29a1.2,1.2 0 1,0 2.4,0a1.2,1.2 0 1,0 -2.4,0M260.37,325.67a1.2,1.2 0 1,0 2.4,0a1.2,1.2 0 1,0 -2.4,0M263.16,349.00a1.2,1.2 0 1,0 2.4,0a1.2,1.2 0 1,0 -2.4,0M263.19,356.44a1.2,1.2 0 1,0 2.4,0a1.2,1.2 0 1,0 -2.4,0M262.96,349.76a1.2,1.2 0 1,0 2.4,0a1.2,1.2 0 1,0 -2.4,0M254.56,297.14a1.2,1.2 0 1,0 2.4,0a1.2,1.2 0 1,0 -2.4,0M259.78,340.49a1.2,1.2 0 1,0 2.4,0a1.2,1.2 0 1,0 -2.4,0M261.90,317.26a1.2,1.2 0 1,0 2.4,0a1.2,1.2 0 1,0 -2.4,0M257.80,319.65a1.2,1.2 0 1,0 2.4,0a1.2,1.2 0 1,0 -2.4,0M261.12,356.40a1.2,1.2 0 1,0 2.4,0a1.2,1.2 0 1,0 -2.4,0M261.19,311.39a1.2,1.2 0 1,0 2.4,0a1.2,1.2 0 1,0 -2.4,0M259.83,360.37a1.2,1.2 0 1,0 2.4,0a1.2,1.2 0 1,0 -2.4,0M260.51,348.72a1.2,1.2 0 1,0 2.4,0a1.2,1.2 0 1,0 -2.4,0M263.13,300.20a1.2,1.2 0 1,0 2.4,0a1.2,1.2 0 1,0 -2.4,0M260.86,320.15a1.2,1.2 0 1,0 2.4,0a1.2,1.2 0 1,0 -2.4,0M263.21,312.94a1.2,1.2 0 1,0 2.4,0a1.2,1.2 0 1,0 -2.4,0M256.88,305.98a1.2,1.2 0 1,0 2.4,0a1.2,1.2 0 1,0 -2.4,0M260.26,312.58a1.2,1.2 0 1,0 2.4,0a1.2,1.2 0 1,0 -2.4,0M259.65,332.57a1.2,1.2 0 1,0 2.4,0a1.2,1.2 0 1,0 -2.4,0M262.18,313.23a1.2,1.2 0 1,0 2.4,0a1.2,1.2 0 1,0 -2.4,0M259.86,309.11a1.2,1.2 0 1,0 2.4,0a1.2,1.2 0 1,0 -2.4,0M262.70,300.67a1.2,1.2 0 1,0 2.4,0a1.2,1.2 0 1,0 -2.4,0M261.73,302.10a1.2,1.2 0 1,0 2.4,0a1.2,1.2 0 1,0 -2.4,0M263.26,299.94a1.2,1.2 0 1,0 2.4,0a1.2,1.2 0 1,0 -2.4,0M259.82,353.94a1.2,1.2 0 1,0 2.4,0a1.2,1.2 0 1,0 -2.4,0M259.16,354.90a1.2,1.2 0 1,0 2.4,0a1.2,1.2 0 1,0 -2.4,0M263.03,341.96a1.2,1.2 0 1,0 2.4,0a1.2,1.2 0 1,0 -2.4,0M262.91,339.61a1.2,1.2 0 1,0 2.4,0a1.2,1.2 0 1,0 -2.4,0M257.80,325.14a1.2,1.2 0 1,0 2.4,0a1.2,1.2 0 1,0 -2.4,0M260.57,346.17a1.2,1.2 0 1,0 2.4,0a1.2,1.2 0 1,0 -2.4,0M259.86,316.01a1.2,1.2 0 1,0 2.4,0a1.2,1.2 0 1,0 -2.4,0M260.79,302.50a1.2,1.2 0 1,0 2.4,0a1.2,1.2 0 1,0 -2.4,0M259.34,345.29a1.2,1.2 0 1,0 2.4,0a1.2,1.2 0 1,0 -2.4,0M263.34,327.77a1.2,1.2 0 1,0 2.4,0a1.2,1.2 0 1,0 -2.4,0M259.19,349.27a1.2,1.2 0 1,0 2.4,0a1.2,1.2 0 1,0 -2.4,0M261.38,312.24a1.2,1.2 0 1,0 2.4,0a1.2,1.2 0 1,0 -2.4,0M259.76,361.20a1.2,1.2 0 1,0 2.4,0a1.2,1.2 0 1,0 -2.4,0M261.94,361.20a1.2,1.2 0 1,0 2.4,0a1.2,1.2 0 1,0 -2.4,0M263.28,314.37a1.2,1.2 0 1,0 2.4,0a1.2,1.2 0 1,0 -2.4,0M262.25,331.48a1.2,1.2 0 1,0 2.4,0a1.2,1.2 0 1,0 -2.4,0M262.08,349.51a1.2,1.2 0 1,0 2.4,0a1.2,1.2 0 1,0 -2.4,0M262.98,348.46a1.2,1.2 0 1,0 2.4,0a1.2,1.2 0 1,0 -2.4,0M259.07,330.36a1.2,1.2 0 1,0 2.4,0a1.2,1.2 0 1,0 -2.4,0M262.72,360.50a1.2,1.2 0 1,0 2.4,0a1.2,1.2 0 1,0 -2.4,0M262.80,323.85a1.2,1.2 0 1,0 2.4,0a1.2,1.2 0 1,0 -2.4,0M262.15,327.09a1.2,1.2 0 1,0 2.4,0a1.2,1.2 0 1,0 -2.4,0M259.59,359.46a1.2,1.2 0 1,0 2.4,0a1.2,1.2 0 1,0 -2.4,0M260.79,361.20a1.2,1.2 0 1,0 2.4,0a1.2,1.2 0 1,0 -2.4,0M259.38,357.04a1.2,1.2 0 1,0 2.4,0a1.2,1.2 0 1,0 -2.4,0M262.79,300.98a1.2,1.2 0 1,0 2.4,0a1.2,1.2 0 1,0 -2.4,0M262.47,355.27a1.2,1.2 0 1,0 2.4,0a1.2,1.2 0 1,0 -2.4,0M258.24,331.06a1.2,1.2 0 1,0 2.4,0a1.2,1.2 0 1,0 -2.4,0M258.15,346.02a1.2,1.2 0 1,0 2.4,0a1.2,1.2 0 1,0 -2.4,0M261.89,301.16a1.2,1.2 0 1,0 2.4,0a1.2,1.2 0 1,0 -2.4,0M261.85,297.99a1.2,1.2 0 1,0 2.4,0a1.2,1.2 0 1,0 -2.4,0M263.05,312.75a1.2,1.2 0 1,0 2.4,0a1.2,1.2 0 1,0 -2.4,0M263.13,337.19a1.2,1.2 0 1,0 2.4,0a1.2,1.2 0 1,0 -2.4,0M263.56,357.40a1.2,1.2 0 1,0 2.4,0a1.2,1.2 0 1,0 -2.4,0M256.56,342.18a1.2,1.2 0 1,0 2.4,0a1.2,1.2 0 1,0 -2.4,0M259.56,353.99a1.2,1.2 0 1,0 2.4,0a1.2,1.2 0 1,0 -2.4,0M262.51,360.11a1.2,1.2 0 1,0 2.4,0a1.2,1.2 0 1,0 -2.4,0M261.62,309.90a1.2,1.2 0 1,0 2.4,0a1.2,1.2 0 1,0 -2.4,0M261.82,347.10a1.2,1.2 0 1,0 2.4,0a1.2,1.2 0 1,0 -2.4,0M257.19,307.00a1.2,1.2 0 1,0 2.4,0a1.2,1.2 0 1,0 -2.4,0M260.91,360.83a1.2,1.2 0 1,0 2.4,0a1.2,1.2 0 1,0 -2.4,0M261.20,342.87a1.2,1.2 0 1,0 2.4,0a1.2,1.2 0 1,0 -2.4,0M255.92,347.98a1.2,1.2 0 1,0 2.4,0a1.2,1.2 0 1,0 -2.4,0M260.95,329.38a1.2,1.2 0 1,0 2.4,0a1.2,1.2 0 1,0 -2.4,0M262.42,337.55a1.2,1.2 0 1,0 2.4,0a1.2,1.2 0 1,0 -2.4,0M260.84,305.76a1.2,1.2 0 1,0 2.4,0a1.2,1.2 0 1,0 -2.4,0M261.90,347.87a1.2,1.2 0 1,0 2.4,0a1.2,1.2 0 1,0 -2.4,0M254.54,361.20a1.2,1.2 0 1,0 2.4,0a1.2,1.2 0 1,0 -2.4,0M259.21,325.28a1.2,1.2 0 1,0 2.4,0a1.2,1.2 0 1,0 -2.4,0M261.59,342.63a1.2,1.2 0 1,0 2.4,0a1.2,1.2 0 1,0 -2.4,0M260.20,307.25a1.2,1.2 0 1,0 2.4,0a1.2,1.2 0 1,0 -2.4,0M260.41,319.79a1.2,1.2 0 1,0 2.4,0a1.2,1.2 0 1,0 -2.4,0M263.47,350.09a1.2,1.2 0 1,0 2.4,0a1.2,1.2 0 1,0 -2.4,0M263.20,301.43a1.2,1.2 0 1,0 2.4,0a1.2,1.2 0 1,0 -2.4,0M258.20,358.61a1.2,1.2 0 1,0 2.4,0a1.2,1.2 0 1,0 -2.4,0M261.42,333.59a1.2,1.2 0 1,0 2.4,0a1.2,1.2 0 1,0 -2.4,0M263.44,346.15a1.2,1.2 0 1,0 2.4,0a1.2,1.2 0 1,0 -2.4,0M260.24,328.64a1.2,1.2 0 1,0 2.4,0a1.2,1.2 0 1,0 -2.4,0M262.76,318.71a1.2,1.2 0 1,0 2.4,0a1.2,1.2 0 1,0 -2.4,0M262.73,335.97a1.2,1.2 0 1,0 2.4,0a1.2,1.2 0 1,0 -2.4,0M262.24,299.00a1.2,1.2 0 1,0 2.4,0a1.2,1.2 0 1,0 -2.4,0M261.03,315.03a1.2,1.2 0 1,0 2.4,0a1.2,1.2 0 1,0 -2.4,0M260.84,346.87a1.2,1.2 0 1,0 2.4,0a1.2,1.2 0 1,0 -2.4,0M255.60,323.14a1.2,1.2 0 1,0 2.4,0a1.2,1.2 0 1,0 -2.4,0M260.73,352.65a1.2,1.2 0 1,0 2.4,0a1.2,1.2 0 1,0 -2.4,0M263.13,333.71a1.2,1.2 0 1,0 2.4,0a1.2,1.2 0 1,0 -2.4,0M259.34,316.01a1.2,1.2 0 1,0 2.4,0a1.2,1.2 0 1,0 -2.4,0M262.53,358.78a1.2,1.2 0 1,0 2.4,0a1.2,1.2 0 1,0 -2.4,0M261.81,308.51a1.2,1.2 0 1,0 2.4,0a1.2,1.2 0 1,0 -2.4,0M263.13,320.76a1.2,1.2 0 1,0 2.4,0a1.2,1.2 0 1,0 -2.4,0M263.11,350.82a1.2,1.2 0 1,0 2.4,0a1.2,1.2 0 1,0 -2.4,0M263.43,351.59a1.2,1.2 0 1,0 2.4,0a1.2,1.2 0 1,0 -2.4,0M262.39,300.09a1.2,1.2 0 1,0 2.4,0a1.2,1.2 0 1,0 -2.4,0M255.66,356.91a1.2,1.2 0 1,0 2.4,0a1.2,1.2 0 1,0 -2.4,0M262.67,302.31a1.2,1.2 0 1,0 2.4,0a1.2,1.2 0 1,0 -2.4,0M263.03,350.33a1.2,1.2 0 1,0 2.4,0a1.2,1.2 0 1,0 -2.4,0M262.17,359.87a1.2,1.2 0 1,0 2.4,0a1.2,1.2 0 1,0 -2.4,0M262.83,346.05a1.2,1.2 0 1,0 2.4,0a1.2,1.2 0 1,0 -2.4,0M262.38,300.41a1.2,1.2 0 1,0 2.4,0a1.2,1.2 0 1,0 -2.4,0M262.81,356.18a1.2,1.2 0 1,0 2.4,0a1.2,1.2 0 1,0 -2.4,0M257.78,342.46a1.2,1.2 0 1,0 2.4,0a1.2,1.2 0 1,0 -2.4,0M259.18,328.98a1.2,1.2 0 1,0 2.4,0a1.2,1.2 0 1,0 -2.4,0M259.92,350.66a1.2,1.2 0 1,0 2.4,0a1.2,1.2 0 1,0 -2.4,0M263.16,319.17a1.2,1.2 0 1,0 2.4,0a1.2,1.2 0 1,0 -2.4,0M262.03,334.92a1.2,1.2 0 1,0 2.4,0a1.2,1.2 0 1,0 -2.4,0M260.88,319.55a1.2,1.2 0 1,0 2.4,0a1.2,1.2 0 1,0 -2.4,0M262.78,347.93a1.2,1.2 0 1,0 2.4,0a1.2,1.2 0 1,0 -2.4,0M257.54,337.04a1.2,1.2 0 1,0 2.4,0a1.2,1.2 0 1,0 -2.4,0M262.74,329.52a1.2,1.2 0 1,0 2.4,0a1.2,1.2 0 1,0 -2.4,0M262.83,317.94a1.2,1.2 0 1,0 2.4,0a1.2,1.2 0 1,0 -2.4,0M263.46,313.10a1.2,1.2 0 1,0 2.4,0a1.2,1.2 0 1,0 -2.4,0M261.54,348.46a1.2,1.2 0 1,0 2.4,0a1.2,1.2 0 1,0 -2.4,0M256.78,353.26a1.2,1.2 0 1,0 2.4,0a1.2,1.2 0 1,0 -2.4,0M262.89,360.99a1.2,1.2 0 1,0 2.4,0a1.2,1.2 0 1,0 -2.4,0M261.64,319.45a1.2,1.2 0 1,0 2.4,0a1.2,1.2 0 1,0 -2.4,0M260.82,344.88a1.2,1.2 0 1,0 2.4,0a1.2,1.2 0 1,0 -2.4,0M259.58,359.78a1.2,1.2 0 1,0 2.4,0a1.2,1.2 0 1,0 -2.4,0M262.67,328.38a1.2,1.2 0 1,0 2.4,0a1.2,1.2 0 1,0 -2.4,0M255.31,329.23a1.2,1.2 0 1,0 2.4,0a1.2,1.2 0 1,0 -2.4,0M260.72,317.66a1.2,1.2 0 1,0 2.4,0a1.2,1.2 0 1,0 -2.4,0M262.35,302.63a1.2,1.2 0 1,0 2.4,0a1.2,1.2 0 1,0 -2.4,0M260.29,349.15a1.2,1.2 0 1,0 2.4,0a1.2,1.2 0 1,0 -2.4,0M262.36,314.95a1.2,1.2 0 1,0 2.4,0a1.2,1.2 0 1,0 -2.4,0M262.52,356.97a1.2,1.2 0 1,0 2.4,0a1.2,1.2 0 1,0 -2.4,0M258.61,336.87a1.2,1.2 0 1,0 2.4,0a1.2,1.2 0 1,0 -2.4,0M261.78,326.42a1.2,1.2 0 1,0 2.4,0a1.2,1.2 0 1,0 -2.4,0M257.97,359.01a1.2,1.2 0 1,0 2.4,0a1.2,1.2 0 1,0 -2.4,0M262.56,361.09a1.2,1.2 0 1,0 2.4,0a1.2,1.2 0 1,0 -2.4,0M262.27,338.96a1.2,1.2 0 1,0 2.4,0a1.2,1.2 0 1,0 -2.4,0M258.95,326.55a1.2,1.2 0 1,0 2.4,0a1.2,1.2 0 1,0 -2.4,0M261.48,345.45a1.2,1.2 0 1,0 2.4,0a1.2,1.2 0 1,0 -2.4,0M261.50,352.84a1.2,1.2 0 1,0 2.4,0a1.2,1.2 0 1,0 -2.4,0M259.06,316.46a1.2,1.2 0 1,0 2.4,0a1.2,1.2 0 1,0 -2.4,0M259.16,358.36a1.2,1.2 0 1,0 2.4,0a1.2,1.2 0 1,0 -2.4,0M260.87,319.42a1.2,1.2 0 1,0 2.4,0a1.2,1.2 0 1,0 -2.4,0M261.88,306.58a1.2,1.2 0 1,0 2.4,0a1.2,1.2 0 1,0 -2.4,0M258.03,320.36a1.2,1.2 0 1,0 2.4,0a1.2,1.2 0 1,0 -2.4,0M259.41,328.06a1.2,1.2 0 1,0 2.4,0a1.2,1.2 0 1,0 -2.4,0M258.47,359.09a1.2,1.2 0 1,0 2.4,0a1.2,1.2 0 1,0 -2.4,0M260.62,323.63a1.2,1.2 0 1,0 2.4,0a1.2,1.2 0 1,0 -2.4,0M261.27,352.78a1.2,1.2 0 1,0 2.4,0a1.2,1.2 0 1,0 -2.4,0M263.39,331.58a1.2,1.2 0 1,0 2.4,0a1.2,1.2 0 1,0 -2.4,0M259.36,352.88a1.2,1.2 0 1,0 2.4,0a1.2,1.2 0 1,0 -2.4,0M262.98,355.28a1.2,1.2 0 1,0 2.4,0a1.2,1.2 0 1,0 -2.4,0M263.32,325.89a1.2,1.2 0 1,0 2.4,0a1.2,1.2 0 1,0 -2.4,0M254.68,315.27a1.2,1.2 0 1,0 2.4,0a1.2,1.2 0 1,0 -2.4,0M262.48,323.99a1.2,1.2 0 1,0 2.4,0a1.2,1.2 0 1,0 -2.4,0M263.38,312.03a1.2,1.2 0 1,0 2.4,0a1.2,1.2 0 1,0 -2.4,0M262.61,361.20a1.2,1.2 0 1,0 2.4,0a1.2,1.2 0 1,0 -2.4,0M261.16,358.82a1.2,1.2 0 1,0 2.4,0a1.2,1.2 0 1,0 -2.4,0M262.78,361.20a1.2,1.2 0 1,0 2.4,0a1.2,1.2 0 1,0 -2.4,0M262.13,335.20a1.2,1.2 0 1,0 2.4,0a1.2,1.2 0 1,0 -2.4,0M259.59,361.20a1.2,1.2 0 1,0 2.4,0a1.2,1.2 0 1,0 -2.4,0M259.32,359.80a1.2,1.2 0 1,0 2.4,0a1.2,1.2 0 1,0 -2.4,0M262.94,329.58a1.2,1.2 0 1,0 2.4,0a1.2,1.2 0 1,0 -2.4,0M262.56,349.76a1.2,1.2 0 1,0 2.4,0a1.2,1.2 0 1,0 -2.4,0M261.53,355.56a1.2,1.2 0 1,0 2.4,0a1.2,1.2 0 1,0 -2.4,0M252.47,355.13a1.2,1.2 0 1,0 2.4,0a1.2,1.2 0 1,0 -2.4,0M254.13,312.33a1.2,1.2 0 1,0 2.4,0a1.2,1.2 0 1,0 -2.4,0M243.19,361.20a1.2,1.2 0 1,0 2.4,0a1.2,1.2 0 1,0 -2.4,0M251.91,361.20a1.2,1.2 0 1,0 2.4,0a1.2,1.2 0 1,0 -2.4,0M242.02,345.57a1.2,1.2 0 1,0 2.4,0a1.2,1.2 0 1,0 -2.4,0M226.04,332.22a1.2,1.2 0 1,0 2.4,0a1.2,1.2 0 1,0 -2.4,0M249.97,335.69a1.2,1.2 0 1,0 2.4,0a1.2,1.2 0 1,0 -2.4,0M238.24,340.56a1.2,1.2 0 1,0 2.4,0a1.2,1.2 0 1,0 -2.4,0M245.06,354.47a1.2,1.2 0 1,0 2.4,0a1.2,1.2 0 1,0 -2.4,0M255.15,216.47a1.2,1.2 0 1,0 2.4,0a1.2,1.2 0 1,0 -2.4,0M252.85,264.12a1.2,1.2 0 1,0 2.4,0a1.2,1.2 0 1,0 -2.4,0M235.68,232.95a1.2,1.2 0 1,0 2.4,0a1.2,1.2 0 1,0 -2.4,0M226.34,342.61a1.2,1.2 0 1,0 2.4,0a1.2,1.2 0 1,0 -2.4,0M228.60,343.96a1.2,1.2 0 1,0 2.4,0a1.2,1.2 0 1,0 -2.4,0M248.46,325.04a1.2,1.2 0 1,0 2.4,0a1.2,1.2 0 1,0 -2.4,0M240.21,349.60a1.2,1.2 0 1,0 2.4,0a1.2,1.2 0 1,0 -2.4,0M230.63,346.65a1.2,1.2 0 1,0 2.4,0a1.2,1.2 0 1,0 -2.4,0M233.98,355.69a1.2,1.2 0 1,0 2.4,0a1.2,1.2 0 1,0 -2.4,0M250.39,340.31a1.2,1.2 0 1,0 2.4,0a1.2,1.2 0 1,0 -2.4,0M239.63,355.56a1.2,1.2 0 1,0 2.4,0a1.2,1.2 0 1,0 -2.4,0M249.22,355.60a1.2,1.2 0 1,0 2.4,0a1.2,1.2 0 1,0 -2.4,0M233.37,337.43a1.2,1.2 0 1,0 2.4,0a1.2,1.2 0 1,0 -2.4,0M249.13,253.28a1.2,1.2 0 1,0 2.4,0a1.2,1.2 0 1,0 -2.4,0M250.81,272.88a1.2,1.2 0 1,0 2.4,0a1.2,1.2 0 1,0 -2.4,0M257.04,323.55a1.2,1.2 0 1,0 2.4,0a1.2,1.2 0 1,0 -2.4,0M249.79,360.25a1.2,1.2 0 1,0 2.4,0a1.2,1.2 0 1,0 -2.4,0M231.20,361.20a1.2,1.2 0 1,0 2.4,0a1.2,1.2 0 1,0 -2.4,0M255.00,323.61a1.2,1.2 0 1,0 2.4,0a1.2,1.2 0 1,0 -2.4,0M246.56,352.97a1.2,1.2 0 1,0 2.4,0a1.2,1.2 0 1,0 -2.4,0M236.62,356.81a1.2,1.2 0 1,0 2.4,0a1.2,1.2 0 1,0 -2.4,0M246.63,218.57a1.2,1.2 0 1,0 2.4,0a1.2,1.2 0 1,0 -2.4,0M234.82,360.84a1.2,1.2 0 1,0 2.4,0a1.2,1.2 0 1,0 -2.4,0M230.10,348.97a1.2,1.2 0 1,0 2.4,0a1.2,1.2 0 1,0 -2.4,0M256.29,312.99a1.2,1.2 0 1,0 2.4,0a1.2,1.2 0 1,0 -2.4,0M240.22,358.95a1.2,1.2 0 1,0 2.4,0a1.2,1.2 0 1,0 -2.4,0M227.62,357.16a1.2,1.2 0 1,0 2.4,0a1.2,1.2 0 1,0 -2.4,0M251.89,342.99a1.2,1.2 0 1,0 2.4,0a1.2,1.2 0 1,0 -2.4,0M259.60,289.02a1.2,1.2 0 1,0 2.4,0a1.2,1.2 0 1,0 -2.4,0M252.51,342.70a1.2,1.2 0 1,0 2.4,0a1.2,1.2 0 1,0 -2.4,0M253.50,358.06a1.2,1.2 0 1,0 2.4,0a1.2,1.2 0 1,0 -2.4,0M227.70,337.21a1.2,1.2 0 1,0 2.4,0a1.2,1.2 0 1,0 -2.4,0M242.14,355.12a1.2,1.2 0 1,0 2.4,0a1.2,1.2 0 1,0 -2.4,0M232.88,361.20a1.2,1.2 0 1,0 2.4,0a1.2,1.2 0 1,0 -2.4,0M256.64,324.86a1.2,1.2 0 1,0 2.4,0a1.2,1.2 0 1,0 -2.4,0M257.96,243.41a1.2,1.2 0 1,0 2.4,0a1.2,1.2 0 1,0 -2.4,0M239.56,322.45a1.2,1.2 0 1,0 2.4,0a1.2,1.2 0 1,0 -2.4,0M237.66,311.83a1.2,1.2 0 1,0 2.4,0a1.2,1.2 0 1,0 -2.4,0M254.20,357.87a1.2,1.2 0 1,0 2.4,0a1.2,1.2 0 1,0 -2.4,0M224.23,354.94a1.2,1.2 0 1,0 2.4,0a1.2,1.2 0 1,0 -2.4,0M244.94,347.84a1.2,1.2 0 1,0 2.4,0a1.2,1.2 0 1,0 -2.4,0M224.09,308.72a1.2,1.2 0 1,0 2.4,0a1.2,1.2 0 1,0 -2.4,0M252.20,343.41a1.2,1.2 0 1,0 2.4,0a1.2,1.2 0 1,0 -2.4,0M225.32,295.92a1.2,1.2 0 1,0 2.4,0a1.2,1.2 0 1,0 -2.4,0M243.09,359.98a1.2,1.2 0 1,0 2.4,0a1.2,1.2 0 1,0 -2.4,0M235.46,332.66a1.2,1.2 0 1,0 2.4,0a1.2,1.2 0 1,0 -2.4,0M255.79,342.22a1.2,1.2 0 1,0 2.4,0a1.2,1.2 0 1,0 -2.4,0M246.90,355.26a1.2,1.2 0 1,0 2.4,0a1.2,1.2 0 1,0 -2.4,0M232.57,290.98a1.2,1.2 0 1,0 2.4,0a1.2,1.2 0 1,0 -2.4,0M237.60,358.89a1.2,1.2 0 1,0 2.4,0a1.2,1.2 0 1,0 -2.4,0M245.15,358.13a1.2,1.2 0 1,0 2.4,0a1.2,1.2 0 1,0 -2.4,0M230.99,343.82a1.2,1.2 0 1,0 2.4,0a1.2,1.2 0 1,0 -2.4,0M244.94,331.70a1.2,1.2 0 1,0 2.4,0a1.2,1.2 0 1,0 -2.4,0M249.34,344.74a1.2,1.2 0 1,0 2.4,0a1.2,1.2 0 1,0 -2.4,0M226.20,323.33a1.2,1.2 0 1,0 2.4,0a1.2,1.2 0 1,0 -2.4,0M225.71,343.02a1.2,1.2 0 1,0 2.4,0a1.2,1.2 0 1,0 -2.4,0M238.24,328.51a1.2,1.2 0 1,0 2.4,0a1.2,1.2 0 1,0 -2.4,0M249.58,353.93a1.2,1.2 0 1,0 2.4,0a1.2,1.2 0 1,0 -2.4,0M247.26,326.69a1.2,1.2 0 1,0 2.4,0a1.2,1.2 0 1,0 -2.4,0M240.83,357.59a1.2,1.2 0 1,0 2.4,0a1.2,1.2 0 1,0 -2.4,0M256.65,334.64a1.2,1.2 0 1,0 2.4,0a1.2,1.2 0 1,0 -2.4,0M226.03,353.98a1.2,1.2 0 1,0 2.4,0a1.2,1.2 0 1,0 -2.4,0M259.46,354.37a1.2,1.2 0 1,0 2.4,0a1.2,1.2 0 1,0 -2.4,0M237.95,315.42a1.2,1.2 0 1,0 2.4,0a1.2,1.2 0 1,0 -2.4,0M253.57,331.90a1.2,1.2 0 1,0 2.4,0a1.2,1.2 0 1,0 -2.4,0M250.59,361.02a1.2,1.2 0 1,0 2.4,0a1.2,1.2 0 1,0 -2.4,0M227.15,249.56a1.2,1.2 0 1,0 2.4,0a1.2,1.2 0 1,0 -2.4,0M252.80,361.03a1.2,1.2 0 1,0 2.4,0a1.2,1.2 0 1,0 -2.4,0M225.52,353.91a1.2,1.2 0 1,0 2.4,0a1.2,1.2 0 1,0 -2.4,0M257.43,354.72a1.2,1.2 0 1,0 2.4,0a1.2,1.2 0 1,0 -2.4,0M248.07,281.87a1.2,1.2 0 1,0 2.4,0a1.2,1.2 0 1,0 -2.4,0M246.87,286.32a1.2,1.2 0 1,0 2.4,0a1.2,1.2 0 1,0 -2.4,0M233.27,357.18a1.2,1.2 0 1,0 2.4,0a1.2,1.2 0 1,0 -2.4,0M224.42,319.53a1.2,1.2 0 1,0 2.4,0a1.2,1.2 0 1,0 -2.4,0M227.52,253.13a1.2,1.2 0 1,0 2.4,0a1.2,1.2 0 1,0 -2.4,0M249.45,355.96a1.2,1.2 0 1,0 2.4,0a1.2,1.2 0 1,0 -2.4,0M252.96,356.84a1.2,1.2 0 1,0 2.4,0a1.2,1.2 0 1,0 -2.4,0M242.29,358.83a1.2,1.2 0 1,0 2.4,0a1.2,1.2 0 1,0 -2.4,0M252.23,295.74a1.2,1.2 0 1,0 2.4,0a1.2,1.2 0 1,0 -2.4,0M256.91,361.20a1.2,1.2 0 1,0 2.4,0a1.2,1.2 0 1,0 -2.4,0M254.56,337.73a1.2,1.2 0 1,0 2.4,0a1.2,1.2 0 1,0 -2.4,0M215.86,355.89a1.2,1.2 0 1,0 2.4,0a1.2,1.2 0 1,0 -2.4,0M206.95,354.03a1.2,1.2 0 1,0 2.4,0a1.2,1.2 0 1,0 -2.4,0M214.89,361.20a1.2,1.2 0 1,0 2.4,0a1.2,1.2 0 1,0 -2.4,0M181.94,355.07a1.2,1.2 0 1,0 2.4,0a1.2,1.2 0 1,0 -2.4,0M192.41,357.63a1.2,1.2 0 1,0 2.4,0a1.2,1.2 0 1,0 -2.4,0M179.88,349.84a1.2,1.2 0 1,0 2.4,0a1.2,1.2 0 1,0 -2.4,0M180.60,346.19a1.2,1.2 0 1,0 2.4,0a1.2,1.2 0 1,0 -2.4,0M215.43,356.66a1.2,1.2 0 1,0 2.4,0a1.2,1.2 0 1,0 -2.4,0M184.94,352.70a1.2,1.2 0 1,0 2.4,0a1.2,1.2 0 1,0 -2.4,0M188.70,357.13a1.2,1.2 0 1,0 2.4,0a1.2,1.2 0 1,0 -2.4,0M184.42,328.29a1.2,1.2 0 1,0 2.4,0a1.2,1.2 0 1,0 -2.4,0M203.69,358.27a1.2,1.2 0 1,0 2.4,0a1.2,1.2 0 1,0 -2.4,0M183.70,350.35a1.2,1.2 0 1,0 2.4,0a1.2,1.2 0 1,0 -2.4,0M217.12,345.14a1.2,1.2 0 1,0 2.4,0a1.2,1.2 0 1,0 -2.4,0M184.02,358.06a1.2,1.2 0 1,0 2.4,0a1.2,1.2 0 1,0 -2.4,0M192.93,349.20a1.2,1.2 0 1,0 2.4,0a1.2,1.2 0 1,0 -2.4,0M186.08,353.77a1.2,1.2 0 1,0 2.4,0a1.2,1.2 0 1,0 -2.4,0M222.81,348.95a1.2,1.2 0 1,0 2.4,0a1.2,1.2 0 1,0 -2.4,0M230.40,281.25a1.2,1.2 0 1,0 2.4,0a1.2,1.2 0 1,0 -2.4,0M233.66,235.33a1.2,1.2 0 1,0 2.4,0a1.2,1.2 0 1,0 -2.4,0M248.49,248.14a1.2,1.2 0 1,0 2.4,0a1.2,1.2 0 1,0 -2.4,0M244.11,256.53a1.2,1.2 0 1,0 2.4,0a1.2,1.2 0 1,0 -2.4,0M248.86,238.59a1.2,1.2 0 1,0 2.4,0a1.2,1.2 0 1,0 -2.4,0M258.19,232.33a1.2,1.2 0 1,0 2.4,0a1.2,1.2 0 1,0 -2.4,0M254.53,218.93a1.2,1.2 0 1,0 2.4,0a1.2,1.2 0 1,0 -2.4,0M255.77,233.53a1.2,1.2 0 1,0 2.4,0a1.2,1.2 0 1,0 -2.4,0M231.13,236.19a1.2,1.2 0 1,0 2.4,0a1.2,1.2 0 1,0 -2.4,0M256.16,254.79a1.2,1.2 0 1,0 2.4,0a1.2,1.2 0 1,0 -2.4,0M257.02,273.45a1.2,1.2 0 1,0 2.4,0a1.2,1.2 0 1,0 -2.4,0M258.99,253.97a1.2,1.2 0 1,0 2.4,0a1.2,1.2 0 1,0 -2.4,0M251.78,268.04a1.2,1.2 0 1,0 2.4,0a1.2,1.2 0 1,0 -2.4,0M239.37,260.91a1.2,1.2 0 1,0 2.4,0a1.2,1.2 0 1,0 -2.4,0M240.10,279.78a1.2,1.2 0 1,0 2.4,0a1.2,1.2 0 1,0 -2.4,0M243.72,213.88a1.2,1.2 0 1,0 2.4,0a1.2,1.2 0 1,0 -2.4,0M250.17,217.50a1.2,1.2 0 1,0 2.4,0a1.2,1.2 0 1,0 -2.4,0M253.48,224.59a1.2,1.2 0 1,0 2.4,0a1.2,1.2 0 1,0 -2.4,0M260.57,230.85a1.2,1.2 0 1,0 2.4,0a1.2,1.2 0 1,0 -2.4,0M238.57,268.25a1.2,1.2 0 1,0 2.4,0a1.2,1.2 0 1,0 -2.4,0M242.79,285.27a1.2,1.2 0 1,0 2.4,0a1.2,1.2 0 1,0 -2.4,0M237.24,220.91a1.2,1.2 0 1,0 2.4,0a1.2,1.2 0 1,0 -2.4,0M258.33,262.38a1.2,1.2 0 1,0 2.4,0a1.2,1.2 0 1,0 -2.4,0M253.73,229.19a1.2,1.2 0 1,0 2.4,0a1.2,1.2 0 1,0 -2.4,0M257.65,210.44a1.2,1.2 0 1,0 2.4,0a1.2,1.2 0 1,0 -2.4,0M254.28,210.44a1.2,1.2 0 1,0 2.4,0a1.2,1.2 0 1,0 -2.4,0M244.99,210.44a1.2,1.2 0 1,0 2.4,0a1.2,1.2 0 1,0 -2.4,0M229.88,210.44a1.2,1.2 0 1,0 2.4,0a1.2,1.2 0 1,0 -2.4,0M255.37,210.44a1.2,1.2 0 1,0 2.4,0a1.2,1.2 0 1,0 -2.4,0M237.27,210.44a1.2,1.2 0 1,0 2.4,0a1.2,1.2 0 1,0 -2.4,0M248.35,210.44a1.2,1.2 0 1,0 2.4,0a1.2,1.2 0 1,0 -2.4,0M239.16,210.44a1.2,1.2 0 1,0 2.4,0a1.2,1.2 0 1,0 -2.4,0M245.18,210.44a1.2,1.2 0 1,0 2.4,0a1.2,1.2 0 1,0 -2.4,0M260.33,210.44a1.2,1.2 0 1,0 2.4,0a1.2,1.2 0 1,0 -2.4,0M231.87,210.44a1.2,1.2 0 1,0 2.4,0a1.2,1.2 0 1,0 -2.4,0M244.95,210.44a1.2,1.2 0 1,0 2.4,0a1.2,1.2 0 1,0 -2.4,0M249.16,210.44a1.2,1.2 0 1,0 2.4,0a1.2,1.2 0 1,0 -2.4,0M245.22,210.44a1.2,1.2 0 1,0 2.4,0a1.2,1.2 0 1,0 -2.4,0M259.35,210.44a1.2,1.2 0 1,0 2.4,0a1.2,1.2 0 1,0 -2.4,0M240.59,210.44a1.2,1.2 0 1,0 2.4,0a1.2,1.2 0 1,0 -2.4,0M258.50,210.44a1.2,1.2 0 1,0 2.4,0a1.2,1.2 0 1,0 -2.4,0M250.57,210.44a1.2,1.2 0 1,0 2.4,0a1.2,1.2 0 1,0 -2.4,0M260.40,210.44a1.2,1.2 0 1,0 2.4,0a1.2,1.2 0 1,0 -2.4,0M229.34,210.44a1.2,1.2 0 1,0 2.4,0a1.2,1.2 0 1,0 -2.4,0M233.68,210.44a1.2,1.2 0 1,0 2.4,0a1.2,1.2 0 1,0 -2.4,0M236.34,210.44a1.2,1.2 0 1,0 2.4,0a1.2,1.2 0 1,0 -2.4,0M258.24,210.44a1.2,1.2 0 1,0 2.4,0a1.2,1.2 0 1,0 -2.4,0M226.65,210.44a1.2,1.2 0 1,0 2.4,0a1.2,1.2 0 1,0 -2.4,0M235.38,210.44a1.2,1.2 0 1,0 2.4,0a1.2,1.2 0 1,0 -2.4,0M251.49,210.44a1.2,1.2 0 1,0 2.4,0a1.2,1.2 0 1,0 -2.4,0M261.18,210.44a1.2,1.2 0 1,0 2.4,0a1.2,1.2 0 1,0 -2.4,0M232.41,210.44a1.2,1.2 0 1,0 2.4,0a1.2,1.2 0 1,0 -2.4,0M241.67,210.44a1.2,1.2 0 1,0 2.4,0a1.2,1.2 0 1,0 -2.4,0M250.47,210.44a1.2,1.2 0 1,0 2.4,0a1.2,1.2 0 1,0 -2.4,0M250.60,210.44a1.2,1.2 0 1,0 2.4,0a1.2,1.2 0 1,0 -2.4,0M252.56,210.44a1.2,1.2 0 1,0 2.4,0a1.2,1.2 0 1,0 -2.4,0M252.81,210.44a1.2,1.2 0 1,0 2.4,0a1.2,1.2 0 1,0 -2.4,0M234.96,210.44a1.2,1.2 0 1,0 2.4,0a1.2,1.2 0 1,0 -2.4,0M235.27,210.44a1.2,1.2 0 1,0 2.4,0a1.2,1.2 0 1,0 -2.4,0M227.15,210.44a1.2,1.2 0 1,0 2.4,0a1.2,1.2 0 1,0 -2.4,0M250.62,210.44a1.2,1.2 0 1,0 2.4,0a1.2,1.2 0 1,0 -2.4,0M233.57,210.44a1.2,1.2 0 1,0 2.4,0a1.2,1.2 0 1,0 -2.4,0M235.35,210.44a1.2,1.2 0 1,0 2.4,0a1.2,1.2 0 1,0 -2.4,0M260.29,210.44a1.2,1.2 0 1,0 2.4,0a1.2,1.2 0 1,0 -2.4,0M248.93,210.44a1.2,1.2 0 1,0 2.4,0a1.2,1.2 0 1,0 -2.4,0M247.08,210.44a1.2,1.2 0 1,0 2.4,0a1.2,1.2 0 1,0 -2.4,0M249.38,210.44a1.2,1.2 0 1,0 2.4,0a1.2,1.2 0 1,0 -2.4,0M247.32,210.44a1.2,1.2 0 1,0 2.4,0a1.2,1.2 0 1,0 -2.4,0M250.76,210.44a1.2,1.2 0 1,0 2.4,0a1.2,1.2 0 1,0 -2.4,0M236.92,210.44a1.2,1.2 0 1,0 2.4,0a1.2,1.2 0 1,0 -2.4,0M228.43,210.44a1.2,1.2 0 1,0 2.4,0a1.2,1.2 0 1,0 -2.4,0M228.54,210.44a1.2,1.2 0 1,0 2.4,0a1.2,1.2 0 1,0 -2.4,0M226.69,210.44a1.2,1.2 0 1,0 2.4,0a1.2,1.2 0 1,0 -2.4,0M238.96,210.44a1.2,1.2 0 1,0 2.4,0a1.2,1.2 0 1,0 -2.4,0M231.20,210.44a1.2,1.2 0 1,0 2.4,0a1.2,1.2 0 1,0 -2.4,0M230.16,210.44a1.2,1.2 0 1,0 2.4,0a1.2,1.2 0 1,0 -2.4,0M243.64,210.44a1.2,1.2 0 1,0 2.4,0a1.2,1.2 0 1,0 -2.4,0M260.47,210.44a1.2,1.2 0 1,0 2.4,0a1.2,1.2 0 1,0 -2.4,0M250.49,210.44a1.2,1.2 0 1,0 2.4,0a1.2,1.2 0 1,0 -2.4,0M235.85,210.44a1.2,1.2 0 1,0 2.4,0a1.2,1.2 0 1,0 -2.4,0M253.39,210.44a1.2,1.2 0 1,0 2.4,0a1.2,1.2 0 1,0 -2.4,0M232.47,210.44a1.2,1.2 0 1,0 2.4,0a1.2,1.2 0 1,0 -2.4,0M229.71,210.44a1.2,1.2 0 1,0 2.4,0a1.2,1.2 0 1,0 -2.4,0M236.90,210.44a1.2,1.2 0 1,0 2.4,0a1.2,1.2 0 1,0 -2.4,0M240.64,210.44a1.2,1.2 0 1,0 2.4,0a1.2,1.2 0 1,0 -2.4,0M250.56,210.44a1.2,1.2 0 1,0 2.4,0a1.2,1.2 0 1,0 -2.4,0M241.91,210.44a1.2,1.2 0 1,0 2.4,0a1.2,1.2 0 1,0 -2.4,0M251.94,210.44a1.2,1.2 0 1,0 2.4,0a1.2,1.2 0 1,0 -2.4,0M229.53,210.44a1.2,1.2 0 1,0 2.4,0a1.2,1.2 0 1,0 -2.4,0M259.15,210.44a1.2,1.2 0 1,0 2.4,0a1.2,1.2 0 1,0 -2.4,0M238.28,210.44a1.2,1.2 0 1,0 2.4,0a1.2,1.2 0 1,0 -2.4,0M255.61,210.44a1.2,1.2 0 1,0 2.4,0a1.2,1.2 0 1,0 -2.4,0M227.26,210.44a1.2,1.2 0 1,0 2.4,0a1.2,1.2 0 1,0 -2.4,0M255.49,210.44a1.2,1.2 0 1,0 2.4,0a1.2,1.2 0 1,0 -2.4,0M191.60,210.44a1.2,1.2 0 1,0 2.4,0a1.2,1.2 0 1,0 -2.4,0M202.86,210.44a1.2,1.2 0 1,0 2.4,0a1.2,1.2 0 1,0 -2.4,0M212.91,260.69a1.2,1.2 0 1,0 2.4,0a1.2,1.2 0 1,0 -2.4,0M222.15,271.75a1.2,1.2 0 1,0 2.4,0a1.2,1.2 0 1,0 -2.4,0M219.98,227.78a1.2,1.2 0 1,0 2.4,0a1.2,1.2 0 1,0 -2.4,0M217.65,218.99a1.2,1.2 0 1,0 2.4,0a1.2,1.2 0 1,0 -2.4,0M237.43,238.08a1.2,1.2 0 1,0 2.4,0a1.2,1.2 0 1,0 -2.4,0M235.02,245.62a1.2,1.2 0 1,0 2.4,0a1.2,1.2 0 1,0 -2.4,0M243.06,248.13a1.2,1.2 0 1,0 2.4,0a1.2,1.2 0 1,0 -2.4,0M230.19,215.97a1.2,1.2 0 1,0 2.4,0a1.2,1.2 0 1,0 -2.4,0M244.18,221.50a1.2,1.2 0 1,0 2.4,0a1.2,1.2 0 1,0 -2.4,0M247.88,231.05a1.2,1.2 0 1,0 2.4,0a1.2,1.2 0 1,0 -2.4,0M209.29,312.95a1.2,1.2 0 1,0 2.4,0a1.2,1.2 0 1,0 -2.4,0M215.72,324.51a1.2,1.2 0 1,0 2.4,0a1.2,1.2 0 1,0 -2.4,0M184.36,349.64a1.2,1.2 0 1,0 2.4,0a1.2,1.2 0 1,0 -2.4,0M187.58,353.66a1.2,1.2 0 1,0 2.4,0a1.2,1.2 0 1,0 -2.4,0M176.32,361.19a1.2,1.2 0 1,0 2.4,0a1.2,1.2 0 1,0 -2.4,0M193.21,345.62a1.2,1.2 0 1,0 2.4,0a1.2,1.2 0 1,0 -2.4,0M199.64,352.15a1.2,1.2 0 1,0 2.4,0a1.2,1.2 0 1,0 -2.4,0M194.82,328.53a1.2,1.2 0 1,0 2.4,0a1.2,1.2 0 1,0 -2.4,0M210.90,331.05a1.2,1.2 0 1,0 2.4,0a1.2,1.2 0 1,0 -2.4,0M216.52,327.02a1.2,1.2 0 1,0 2.4,0a1.2,1.2 0 1,0 -2.4,0" fill="#2b8ff0"/>
<path d="M281.17,353.47a1.2,1.2 0 1,0 2.4,0a1.2,1.2 0 1,0 -2.4,0M287.22,357.18a1.2,1.2 0 1,0 2.4,0a1.2,1.2 0 1,0 -2.4,0M281.48,361.20a1.2,1.2 0 1,0 2.4,0a1.2,1.2 0 1,0 -2.4,0M280.97,351.56a1.2,1.2 0 1,0 2.4,0a1.2,1.2 0 1,0 -2.4,0M280.80,357.33a1.2,1.2 0 1,0 2.4,0a1.2,1.2 0 1,0 -2.4,0M283.95,357.30a1.2,1.2 0 1,0 2.4,0a1.2,1.2 0 1,0 -2.4,0M280.92,361.20a1.2,1.2 0 1,0 2.4,0a1.2,1.2 0 1,0 -2.4,0M280.49,343.85a1.2,1.2 0 1,0 2.4,0a1.2,1.2 0 1,0 -2.4,0M282.18,357.42a1.2,1.2 0 1,0 2.4,0a1.2,1.2 0 1,0 -2.4,0M283.77,361.06a1.2,1.2 0 1,0 2.4,0a1.2,1.2 0 1,0 -2.4,0M280.34,361.20a1.2,1.2 0 1,0 2.4,0a1.2,1.2 0 1,0 -2.4,0M288.50,361.20a1.2,1.2 0 1,0 2.4,0a1.2,1.2 0 1,0 -2.4,0M294.63,360.16a1.2,1.2 0 1,0 2.4,0a1.2,1.2 0 1,0 -2.4,0M285.71,361.20a1.2,1.2 0 1,0 2.4,0a1.2,1.2 0 1,0 -2.4,0M286.90,360.89a1.2,1.2 0 1,0 2.4,0a1.2,1.2 0 1,0 -2.4,0M282.06,358.85a1.2,1.2 0 1,0 2.4,0a1.2,1.2 0 1,0 -2.4,0M280.56,360.91a1.2,1.2 0 1,0 2.4,0a1.2,1.2 0 1,0 -2.4,0M287.07,360.68a1.2,1.2 0 1,0 2.4,0a1.2,1.2 0 1,0 -2.4,0M282.16,355.65a1.2,1.2 0 1,0 2.4,0a1.2,1.2 0 1,0 -2.4,0M281.16,361.20a1.2,1.2 0 1,0 2.4,0a1.2,1.2 0 1,0 -2.4,0M281.13,360.01a1.2,1.2 0 1,0 2.4,0a1.2,1.2 0 1,0 -2.4,0M282.05,357.56a1.2,1.2 0 1,0 2.4,0a1.2,1.2 0 1,0 -2.4,0M282.86,352.98a1.2,1.2 0 1,0 2.4,0a1.2,1.2 0 1,0 -2.4,0M280.27,357.27a1.2,1.2 0 1,0 2.4,0a1.2,1.2 0 1,0 -2.4,0M288.05,360.99a1.2,1.2 0 1,0 2.4,0a1.2,1.2 0 1,0 -2.4,0M280.17,359.59a1.2,1.2 0 1,0 2.4,0a1.2,1.2 0 1,0 -2.4,0M280.58,359.41a1.2,1.2 0 1,0 2.4,0a1.2,1.2 0 1,0 -2.4,0M285.54,361.20a1.2,1.2 0 1,0 2.4,0a1.2,1.2 0 1,0 -2.4,0M280.59,359.25a1.2,1.2 0 1,0 2.4,0a1.2,1.2 0 1,0 -2.4,0M280.88,361.01a1.2,1.2 0 1,0 2.4,0a1.2,1.2 0 1,0 -2.4,0M282.61,361.20a1.2,1.2 0 1,0 2.4,0a1.2,1.2 0 1,0 -2.4,0M280.35,360.17a1.2,1.2 0 1,0 2.4,0a1.2,1.2 0 1,0 -2.4,0M282.84,349.73a1.2,1.2 0 1,0 2.4,0a1.2,1.2 0 1,0 -2.4,0M283.62,361.20a1.2,1.2 0 1,0 2.4,0a1.2,1.2 0 1,0 -2.4,0M281.15,356.03a1.2,1.2 0 1,0 2.4,0a1.2,1.2 0 1,0 -2.4,0M283.70,352.97a1.2,1.2 0 1,0 2.4,0a1.2,1.2 0 1,0 -2.4,0M294.55,353.37a1.2,1.2 0 1,0 2.4,0a1.2,1.2 0 1,0 -2.4,0M280.56,349.19a1.2,1.2 0 1,0 2.4,0a1.2,1.2 0 1,0 -2.4,0M283.33,360.96a1.2,1.2 0 1,0 2.4,0a1.2,1.2 0 1,0 -2.4,0M280.87,353.16a1.2,1.2 0 1,0 2.4,0a1.2,1.2 0 1,0 -2.4,0M281.10,361.20a1.2,1.2 0 1,0 2.4,0a1.2,1.2 0 1,0 -2.4,0M281.40,350.54a1.2,1.2 0 1,0 2.4,0a1.2,1.2 0 1,0 -2.4,0M282.77,356.26a1.2,1.2 0 1,0 2.4,0a1.2,1.2 0 1,0 -2.4,0M280.38,359.47a1.2,1.2 0 1,0 2.4,0a1.2,1.2 0 1,0 -2.4,0M281.73,361.16a1.2,1.2 0 1,0 2.4,0a1.2,1.2 0 1,0 -2.4,0M284.85,360.17a1.2,1.2 0 1,0 2.4,0a1.2,1.2 0 1,0 -2.4,0M280.60,343.45a1.2,1.2 0 1,0 2.4,0a1.2,1.2 0 1,0 -2.4,0M282.95,361.20a1.2,1.2 0 1,0 2.4,0a1.2,1.2 0 1,0 -2.4,0M280.09,357.41a1.2,1.2 0 1,0 2.4,0a1.2,1.2 0 1,0 -2.4,0M283.24,361.20a1.2,1.2 0 1,0 2.4,0a1.2,1.2 0 1,0 -2.4,0M282.85,356.10a1.2,1.2 0 1,0 2.4,0a1.2,1.2 0 1,0 -2.4,0M283.45,360.99a1.2,1.2 0 1,0 2.4,0a1.2,1.2 0 1,0 -2.4,0M283.10,358.00a1.2,1.2 0 1,0 2.4,0a1.2,1.2 0 1,0 -2.4,0M284.70,361.20a1.2,1.2 0 1,0 2.4,0a1.2,1.2 0 1,0 -2.4,0M287.24,349.04a1.2,1.2 0 1,0 2.4,0a1.2,1.2 0 1,0 -2.4,0M286.00,353.39a1.2,1.2 0 1,0 2.4,0a1.2,1.2 0 1,0 -2.4,0M282.07,351.66a1.2,1.2 0 1,0 2.4,0a1.2,1.2 0 1,0 -2.4,0M280.93,361.04a1.2,1.2 0 1,0 2.4,0a1.2,1.2 0 1,0 -2.4,0M284.07,351.71a1.2,1.2 0 1,0 2.4,0a1.2,1.2 0 1,0 -2.4,0M280.42,361.09a1.2,1.2 0 1,0 2.4,0a1.2,1.2 0 1,0 -2.4,0M280.20,359.59a1.2,1.2 0 1,0 2.4,0a1.2,1.2 0 1,0 -2.4,0M280.71,361.20a1.2,1.2 0 1,0 2.4,0a1.2,1.2 0 1,0 -2.4,0M286.15,358.24a1.2,1.2 0 1,0 2.4,0a1.2,1.2 0 1,0 -2.4,0M292.44,359.87a1.2,1.2 0 1,0 2.4,0a1.2,1.2 0 1,0 -2.4,0M285.07,361.20a1.2,1.2 0 1,0 2.4,0a1.2,1.2 0 1,0 -2.4,0M293.15,361.00a1.2,1.2 0 1,0 2.4,0a1.2,1.2 0 1,0 -2.4,0M282.91,358.96a1.2,1.2 0 1,0 2.4,0a1.2,1.2 0 1,0 -2.4,0M293.14,359.14a1.2,1.2 0 1,0 2.4,0a1.2,1.2 0 1,0 -2.4,0M301.31,357.81a1.2,1.2 0 1,0 2.4,0a1.2,1.2 0 1,0 -2.4,0M281.12,354.08a1.2,1.2 0 1,0 2.4,0a1.2,1.2 0 1,0 -2.4,0M281.04,337.07a1.2,1.2 0 1,0 2.4,0a1.2,1.2 0 1,0 -2.4,0M282.74,361.04a1.2,1.2 0 1,0 2.4,0a1.2,1.2 0 1,0 -2.4,0M294.41,360.44a1.2,1.2 0 1,0 2.4,0a1.2,1.2 0 1,0 -2.4,0M282.35,360.30a1.2,1.2 0 1,0 2.4,0a1.2,1.2 0 1,0 -2.4,0M284.92,361.20a1.2,1.2 0 1,0 2.4,0a1.2,1.2 0 1,0 -2.4,0M282.11,361.20a1.2,1.2 0 1,0 2.4,0a1.2,1.2 0 1,0 -2.4,0M287.82,361.20a1.2,1.2 0 1,0 2.4,0a1.2,1.2 0 1,0 -2.4,0M284.18,360.85a1.2,1.2 0 1,0 2.4,0a1.2,1.2 0 1,0 -2.4,0M282.72,358.47a1.2,1.2 0 1,0 2.4,0a1.2,1.2 0 1,0 -2.4,0M285.54,361.20a1.2,1.2 0 1,0 2.4,0a1.2,1.2 0 1,0 -2.4,0M281.26,361.20a1.2,1.2 0 1,0 2.4,0a1.2,1.2 0 1,0 -2.4,0M294.30,361.20a1.2,1.2 0 1,0 2.4,0a1.2,1.2 0 1,0 -2.4,0M280.69,358.86a1.2,1.2 0 1,0 2.4,0a1.2,1.2 0 1,0 -2.4,0M283.89,352.36a1.2,1.2 0 1,0 2.4,0a1.2,1.2 0 1,0 -2.4,0M280.30,360.99a1.2,1.2 0 1,0 2.4,0a1.2,1.2 0 1,0 -2.4,0M280.85,358.22a1.2,1.2 0 1,0 2.4,0a1.2,1.2 0 1,0 -2.4,0M282.70,359.82a1.2,1.2 0 1,0 2.4,0a1.2,1.2 0 1,0 -2.4,0M289.74,357.30a1.2,1.2 0 1,0 2.4,0a1.2,1.2 0 1,0 -2.4,0M288.74,347.98a1.2,1.2 0 1,0 2.4,0a1.2,1.2 0 1,0 -2.4,0M281.43,349.32a1.2,1.2 0 1,0 2.4,0a1.2,1.2 0 1,0 -2.4,0M282.36,361.20a1.2,1.2 0 1,0 2.4,0a1.2,1.2 0 1,0 -2.4,0M290.93,361.20a1.2,1.2 0 1,0 2.4,0a1.2,1.2 0 1,0 -2.4,0M280.12,360.65a1.2,1.2 0 1,0 2.4,0a1.2,1.2 0 1,0 -2.4,0M281.55,346.79a1.2,1.2 0 1,0 2.4,0a1.2,1.2 0 1,0 -2.4,0M289.08,359.74a1.2,1.2 0 1,0 2.4,0a1.2,1.2 0 1,0 -2.4,0M283.37,353.66a1.2,1.2 0 1,0 2.4,0a1.2,1.2 0 1,0 -2.4,0M287.32,357.41a1.2,1.2 0 1,0 2.4,0a1.2,1.2 0 1,0 -2.4,0M283.22,361.20a1.2,1.2 0 1,0 2.4,0a1.2,1.2 0 1,0 -2.4,0M281.28,357.35a1.2,1.2 0 1,0 2.4,0a1.2,1.2 0 1,0 -2.4,0M283.94,354.90a1.2,1.2 0 1,0 2.4,0a1.2,1.2 0 1,0 -2.4,0M290.17,347.37a1.2,1.2 0 1,0 2.4,0a1.2,1.2 0 1,0 -2.4,0M280.99,361.20a1.2,1.2 0 1,0 2.4,0a1.2,1.2 0 1,0 -2.4,0M290.11,358.38a1.2,1.2 0 1,0 2.4,0a1.2,1.2 0 1,0 -2.4,0M280.93,356.87a1.2,1.2 0 1,0 2.4,0a1.2,1.2 0 1,0 -2.4,0M281.35,360.98a1.2,1.2 0 1,0 2.4,0a1.2,1.2 0 1,0 -2.4,0M282.06,358.84a1.2,1.2 0 1,0 2.4,0a1.2,1.2 0 1,0 -2.4,0M285.04,361.20a1.2,1.2 0 1,0 2.4,0a1.2,1.2 0 1,0 -2.4,0M286.02,357.77a1.2,1.2 0 1,0 2.4,0a1.2,1.2 0 1,0 -2.4,0M282.86,357.16a1.2,1.2 0 1,0 2.4,0a1.2,1.2 0 1,0 -2.4,0M287.15,361.20a1.2,1.2 0 1,0 2.4,0a1.2,1.2 0 1,0 -2.4,0M282.89,357.08a1.2,1.2 0 1,0 2.4,0a1.2,1.2 0 1,0 -2.4,0M285.50,357.48a1.2,1.2 0 1,0 2.4,0a1.2,1.2 0 1,0 -2.4,0M280.92,347.81a1.2,1.2 0 1,0 2.4,0a1.2,1.2 0 1,0 -2.4,0M286.85,361.00a1.2,1.2 0 1,0 2.4,0a1.2,1.2 0 1,0 -2.4,0M282.53,347.87a1.2,1.2 0 1,0 2.4,0a1.2,1.2 0 1,0 -2.4,0M281.07,359.82a1.2,1.2 0 1,0 2.4,0a1.2,1.2 0 1,0 -2.4,0M294.45,351.78a1.2,1.2 0 1,0 2.4,0a1.2,1.2 0 1,0 -2.4,0M281.21,356.19a1.2,1.2 0 1,0 2.4,0a1.2,1.2 0 1,0 -2.4,0M282.01,357.28a1.2,1.2 0 1,0 2.4,0a1.2,1.2 0 1,0 -2.4,0M286.48,361.20a1.2,1.2 0 1,0 2.4,0a1.2,1.2 0 1,0 -2.4,0M281.15,361.11a1.2,1.2 0 1,0 2.4,0a1.2,1.2 0 1,0 -2.4,0M281.41,361.20a1.2,1.2 0 1,0 2.4,0a1.2,1.2 0 1,0 -2.4,0M280.69,359.84a1.2,1.2 0 1,0 2.4,0a1.2,1.2 0 1,0 -2.4,0M282.45,361.20a1.2,1.2 0 1,0 2.4,0a1.2,1.2 0 1,0 -2.4,0M283.90,349.29a1.2,1.2 0 1,0 2.4,0a1.2,1.2 0 1,0 -2.4,0M283.84,360.21a1.2,1.2 0 1,0 2.4,0a1.2,1.2 0 1,0 -2.4,0M285.43,359.60a1.2,1.2 0 1,0 2.4,0a1.2,1.2 0 1,0 -2.4,0M280.89,359.23a1.2,1.2 0 1,0 2.4,0a1.2,1.2 0 1,0 -2.4,0M280.12,357.10a1.2,1.2 0 1,0 2.4,0a1.2,1.2 0 1,0 -2.4,0M280.82,360.11a1.2,1.2 0 1,0 2.4,0a1.2,1.2 0 1,0 -2.4,0M294.56,355.62a1.2,1.2 0 1,0 2.4,0a1.2,1.2 0 1,0 -2.4,0M288.02,357.55a1.2,1.2 0 1,0 2.4,0a1.2,1.2 0 1,0 -2.4,0M284.49,356.68a1.2,1.2 0 1,0 2.4,0a1.2,1.2 0 1,0 -2.4,0M295.03,361.20a1.2,1.2 0 1,0 2.4,0a1.2,1.2 0 1,0 -2.4,0M286.47,360.58a1.2,1.2 0 1,0 2.4,0a1.2,1.2 0 1,0 -2.4,0M281.35,354.41a1.2,1.2 0 1,0 2.4,0a1.2,1.2 0 1,0 -2.4,0M284.10,353.63a1.2,1.2 0 1,0 2.4,0a1.2,1.2 0 1,0 -2.4,0M289.24,358.18a1.2,1.2 0 1,0 2.4,0a1.2,1.2 0 1,0 -2.4,0M281.02,361.20a1.2,1.2 0 1,0 2.4,0a1.2,1.2 0 1,0 -2.4,0M283.42,356.35a1.2,1.2 0 1,0 2.4,0a1.2,1.2 0 1,0 -2.4,0M281.45,361.20a1.2,1.2 0 1,0 2.4,0a1.2,1.2 0 1,0 -2.4,0M280.06,361.20a1.2,1.2 0 1,0 2.4,0a1.2,1.2 0 1,0 -2.4,0M285.30,361.20a1.2,1.2 0 1,0 2.4,0a1.2,1.2 0 1,0 -2.4,0M281.20,360.81a1.2,1.2 0 1,0 2.4,0a1.2,1.2 0 1,0 -2.4,0M285.53,342.49a1.2,1.2 0 1,0 2.4,0a1.2,1.2 0 1,0 -2.4,0M280.13,361.20a1.2,1.2 0 1,0 2.4,0a1.2,1.2 0 1,0 -2.4,0M292.10,346.35a1.2,1.2 0 1,0 2.4,0a1.2,1.2 0 1,0 -2.4,0M280.75,360.35a1.2,1.2 0 1,0 2.4,0a1.2,1.2 0 1,0 -2.4,0M283.31,360.45a1.2,1.2 0 1,0 2.4,0a1.2,1.2 0 1,0 -2.4,0M282.43,359.25a1.2,1.2 0 1,0 2.4,0a1.2,1.2 0 1,0 -2.4,0M281.36,361.20a1.2,1.2 0 1,0 2.4,0a1.2,1.2 0 1,0 -2.4,0M280.43,361.20a1.2,1.2 0 1,0 2.4,0a1.2,1.2 0 1,0 -2.4,0M280.46,357.78a1.2,1.2 0 1,0 2.4,0a1.2,1.2 0 1,0 -2.4,0M285.31,360.82a1.2,1.2 0 1,0 2.4,0a1.2,1.2 0 1,0 -2.4,0M286.98,356.30a1.2,1.2 0 1,0 2.4,0a1.2,1.2 0 1,0 -2.4,0M281.89,359.14a1.2,1.2 0 1,0 2.4,0a1.2,1.2 0 1,0 -2.4,0M280.96,350.24a1.2,1.2 0 1,0 2.4,0a1.2,1.2 0 1,0 -2.4,0M283.67,361.20a1.2,1.2 0 1,0 2.4,0a1.2,1.2 0 1,0 -2.4,0M280.78,356.86a1.2,1.2 0 1,0 2.4,0a1.2,1.2 0 1,0 -2.4,0M282.19,356.49a1.2,1.2 0 1,0 2.4,0a1.2,1.2 0 1,0 -2.4,0M281.19,354.99a1.2,1.2 0 1,0 2.4,0a1.2,1.2 0 1,0 -2.4,0M287.20,361.20a1.2,1.2 0 1,0 2.4,0a1.2,1.2 0 1,0 -2.4,0M283.94,361.20a1.2,1.2 0 1,0 2.4,0a1.2,1.2 0 1,0 -2.4,0M285.48,354.83a1.2,1.2 0 1,0 2.4,0a1.2,1.2 0 1,0 -2.4,0M286.97,361.01a1.2,1.2 0 1,0 2.4,0a1.2,1.2 0 1,0 -2.4,0M280.47,357.27a1.2,1.2 0 1,0 2.4,0a1.2,1.2 0 1,0 -2.4,0M283.72,361.20a1.2,1.2 0 1,0 2.4,0a1.2,1.2 0 1,0 -2.4,0M280.99,358.25a1.2,1.2 0 1,0 2.4,0a1.2,1.2 0 1,0 -2.4,0M280.54,357.65a1.2,1.2 0 1,0 2.4,0a1.2,1.2 0 1,0 -2.4,0M281.26,360.85a1.2,1.2 0 1,0 2.4,0a1.2,1.2 0 1,0 -2.4,0M282.48,358.75a1.2,1.2 0 1,0 2.4,0a1.2,1.2 0 1,0 -2.4,0M285.74,361.20a1.2,1.2 0 1,0 2.4,0a1.2,1.2 0 1,0 -2.4,0M285.74,361.07a1.2,1.2 0 1,0 2.4,0a1.2,1.2 0 1,0 -2.4,0M281.56,357.58a1.2,1.2 0 1,0 2.4,0a1.2,1.2 0 1,0 -2.4,0M285.24,357.89a1.2,1.2 0 1,0 2.4,0a1.2,1.2 0 1,0 -2.4,0M290.30,361.16a1.2,1.2 0 1,0 2.4,0a1.2,1.2 0 1,0 -2.4,0M281.69,357.29a1.2,1.2 0 1,0 2.4,0a1.2,1.2 0 1,0 -2.4,0M281.38,361.20a1.2,1.2 0 1,0 2.4,0a1.2,1.2 0 1,0 -2.4,0M281.17,355.53a1.2,1.2 0 1,0 2.4,0a1.2,1.2 0 1,0 -2.4,0M287.80,356.50a1.2,1.2 0 1,0 2.4,0a1.2,1.2 0 1,0 -2.4,0M294.13,355.05a1.2,1.2 0 1,0 2.4,0a1.2,1.2 0 1,0 -2.4,0M281.68,360.49a1.2,1.2 0 1,0 2.4,0a1.2,1.2 0 1,0 -2.4,0M285.69,361.20a1.2,1.2 0 1,0 2.4,0a1.2,1.2 0 1,0 -2.4,0M284.19,361.20a1.2,1.2 0 1,0 2.4,0a1.2,1.2 0 1,0 -2.4,0M280.26,358.94a1.2,1.2 0 1,0 2.4,0a1.2,1.2 0 1,0 -2.4,0M280.77,350.06a1.2,1.2 0 1,0 2.4,0a1.2,1.2 0 1,0 -2.4,0M289.32,359.40a1.2,1.2 0 1,0 2.4,0a1.2,1.2 0 1,0 -2.4,0M281.01,361.20a1.2,1.2 0 1,0 2.4,0a1.2,1.2 0 1,0 -2.4,0M283.17,358.87a1.2,1.2 0 1,0 2.4,0a1.2,1.2 0 1,0 -2.4,0M282.03,356.50a1.2,1.2 0 1,0 2.4,0a1.2,1.2 0 1,0 -2.4,0M283.37,355.45a1.2,1.2 0 1,0 2.4,0a1.2,1.2 0 1,0 -2.4,0M280.54,361.20a1.2,1.2 0 1,0 2.4,0a1.2,1.2 0 1,0 -2.4,0M282.20,359.21a1.2,1.2 0 1,0 2.4,0a1.2,1.2 0 1,0 -2.4,0M281.33,357.21a1.2,1.2 0 1,0 2.4,0a1.2,1.2 0 1,0 -2.4,0M281.15,360.47a1.2,1.2 0 1,0 2.4,0a1.2,1.2 0 1,0 -2.4,0M282.91,356.57a1.2,1.2 0 1,0 2.4,0a1.2,1.2 0 1,0 -2.4,0M286.55,360.10a1.2,1.2 0 1,0 2.4,0a1.2,1.2 0 1,0 -2.4,0M282.66,350.33a1.2,1.2 0 1,0 2.4,0a1.2,1.2 0 1,0 -2.4,0M292.05,357.84a1.2,1.2 0 1,0 2.4,0a1.2,1.2 0 1,0 -2.4,0M280.53,359.45a1.2,1.2 0 1,0 2.4,0a1.2,1.2 0 1,0 -2.4,0M284.52,360.72a1.2,1.2 0 1,0 2.4,0a1.2,1.2 0 1,0 -2.4,0M280.21,344.24a1.2,1.2 0 1,0 2.4,0a1.2,1.2 0 1,0 -2.4,0M290.67,361.20a1.2,1.2 0 1,0 2.4,0a1.2,1.2 0 1,0 -2.4,0M282.81,357.83a1.2,1.2 0 1,0 2.4,0a1.2,1.2 0 1,0 -2.4,0M281.62,361.20a1.2,1.2 0 1,0 2.4,0a1.2,1.2 0 1,0 -2.4,0M286.18,355.54a1.2,1.2 0 1,0 2.4,0a1.2,1.2 0 1,0 -2.4,0M282.58,361.20a1.2,1.2 0 1,0 2.4,0a1.2,1.2 0 1,0 -2.4,0M282.25,361.20a1.2,1.2 0 1,0 2.4,0a1.2,1.2 0 1,0 -2.4,0M294.68,361.20a1.2,1.2 0 1,0 2.4,0a1.2,1.2 0 1,0 -2.4,0M281.54,355.59a1.2,1.2 0 1,0 2.4,0a1.2,1.2 0 1,0 -2.4,0M280.68,361.20a1.2,1.2 0 1,0 2.4,0a1.2,1.2 0 1,0 -2.4,0M280.36,361.20a1.2,1.2 0 1,0 2.4,0a1.2,1.2 0 1,0 -2.4,0M283.40,354.10a1.2,1.2 0 1,0 2.4,0a1.2,1.2 0 1,0 -2.4,0M280.86,361.20a1.2,1.2 0 1,0 2.4,0a1.2,1.2 0 1,0 -2.4,0M286.44,359.69a1.2,1.2 0 1,0 2.4,0a1.2,1.2 0 1,0 -2.4,0M281.86,361.20a1.2,1.2 0 1,0 2.4,0a1.2,1.2 0 1,0 -2.4,0M281.27,346.07a1.2,1.2 0 1,0 2.4,0a1.2,1.2 0 1,0 -2.4,0M280.59,360.84a1.2,1.2 0 1,0 2.4,0a1.2,1.2 0 1,0 -2.4,0M286.01,352.15a1.2,1.2 0 1,0 2.4,0a1.2,1.2 0 1,0 -2.4,0M290.41,359.31a1.2,1.2 0 1,0 2.4,0a1.2,1.2 0 1,0 -2.4,0M293.89,358.01a1.2,1.2 0 1,0 2.4,0a1.2,1.2 0 1,0 -2.4,0M281.55,359.37a1.2,1.2 0 1,0 2.4,0a1.2,1.2 0 1,0 -2.4,0M285.61,356.21a1.2,1.2 0 1,0 2.4,0a1.2,1.2 0 1,0 -2.4,0M280.65,361.20a1.2,1.2 0 1,0 2.4,0a1.2,1.2 0 1,0 -2.4,0M294.08,361.20a1.2,1.2 0 1,0 2.4,0a1.2,1.2 0 1,0 -2.4,0M287.46,360.33a1.2,1.2 0 1,0 2.4,0a1.2,1.2 0 1,0 -2.4,0M281.30,360.87a1.2,1.2 0 1,0 2.4,0a1.2,1.2 0 1,0 -2.4,0M282.84,341.11a1.2,1.2 0 1,0 2.4,0a1.2,1.2 0 1,0 -2.4,0M280.75,353.48a1.2,1.2 0 1,0 2.4,0a1.2,1.2 0 1,0 -2.4,0M281.75,361.20a1.2,1.2 0 1,0 2.4,0a1.2,1.2 0 1,0 -2.4,0M286.08,360.31a1.2,1.2 0 1,0 2.4,0a1.2,1.2 0 1,0 -2.4,0M280.96,359.75a1.2,1.2 0 1,0 2.4,0a1.2,1.2 0 1,0 -2.4,0M287.66,353.21a1.2,1.2 0 1,0 2.4,0a1.2,1.2 0 1,0 -2.4,0M283.82,361.20a1.2,1.2 0 1,0 2.4,0a1.2,1.2 0 1,0 -2.4,0M286.41,357.98a1.2,1.2 0 1,0 2.4,0a1.2,1.2 0 1,0 -2.4,0M290.20,348.47a1.2,1.2 0 1,0 2.4,0a1.2,1.2 0 1,0 -2.4,0M281.79,353.67a1.2,1.2 0 1,0 2.4,0a1.2,1.2 0 1,0 -2.4,0M287.60,360.80a1.2,1.2 0 1,0 2.4,0a1.2,1.2 0 1,0 -2.4,0M282.05,360.08a1.2,1.2 0 1,0 2.4,0a1.2,1.2 0 1,0 -2.4,0M281.96,360.05a1.2,1.2 0 1,0 2.4,0a1.2,1.2 0 1,0 -2.4,0M280.56,361.03a1.2,1.2 0 1,0 2.4,0a1.2,1.2 0 1,0 -2.4,0M290.67,359.81a1.2,1.2 0 1,0 2.4,0a1.2,1.2 0 1,0 -2.4,0M284.51,352.33a1.2,1.2 0 1,0 2.4,0a1.2,1.2 0 1,0 -2.4,0M286.27,360.93a1.2,1.2 0 1,0 2.4,0a1.2,1.2 0 1,0 -2.4,0M291.19,354.83a1.2,1.2 0 1,0 2.4,0a1.2,1.2 0 1,0 -2.4,0M300.70,356.31a1.2,1.2 0 1,0 2.4,0a1.2,1.2 0 1,0 -2.4,0M286.26,354.62a1.2,1.2 0 1,0 2.4,0a1.2,1.2 0 1,0 -2.4,0M281.33,357.37a1.2,1.2 0 1,0 2.4,0a1.2,1.2 0 1,0 -2.4,0M282.16,353.92a1.2,1.2 0 1,0 2.4,0a1.2,1.2 0 1,0 -2.4,0M280.67,358.70a1.2,1.2 0 1,0 2.4,0a1.2,1.2 0 1,0 -2.4,0M281.85,354.43a1.2,1.2 0 1,0 2.4,0a1.2,1.2 0 1,0 -2.4,0M281.91,353.80a1.2,1.2 0 1,0 2.4,0a1.2,1.2 0 1,0 -2.4,0M288.37,352.65a1.2,1.2 0 1,0 2.4,0a1.2,1.2 0 1,0 -2.4,0M280.70,349.61a1.2,1.2 0 1,0 2.4,0a1.2,1.2 0 1,0 -2.4,0M286.07,357.09a1.2,1.2 0 1,0 2.4,0a1.2,1.2 0 1,0 -2.4,0M284.71,361.20a1.2,1.2 0 1,0 2.4,0a1.2,1.2 0 1,0 -2.4,0M289.07,358.61a1.2,1.2 0 1,0 2.4,0a1.2,1.2 0 1,0 -2.4,0M282.73,360.33a1.2,1.2 0 1,0 2.4,0a1.2,1.2 0 1,0 -2.4,0M286.79,355.31a1.2,1.2 0 1,0 2.4,0a1.2,1.2 0 1,0 -2.4,0M289.06,361.11a1.2,1.2 0 1,0 2.4,0a1.2,1.2 0 1,0 -2.4,0M281.88,360.90a1.2,1.2 0 1,0 2.4,0a1.2,1.2 0 1,0 -2.4,0M280.51,360.41a1.2,1.2 0 1,0 2.4,0a1.2,1.2 0 1,0 -2.4,0M280.16,355.00a1.2,1.2 0 1,0 2.4,0a1.2,1.2 0 1,0 -2.4,0M281.18,361.20a1.2,1.2 0 1,0 2.4,0a1.2,1.2 0 1,0 -2.4,0M280.35,356.09a1.2,1.2 0 1,0 2.4,0a1.2,1.2 0 1,0 -2.4,0M281.02,359.40a1.2,1.2 0 1,0 2.4,0a1.2,1.2 0 1,0 -2.4,0M282.31,354.87a1.2,1.2 0 1,0 2.4,0a1.2,1.2 0 1,0 -2.4,0M293.66,360.52a1.2,1.2 0 1,0 2.4,0a1.2,1.2 0 1,0 -2.4,0M284.46,352.02a1.2,1.2 0 1,0 2.4,0a1.2,1.2 0 1,0 -2.4,0M282.85,351.80a1.2,1.2 0 1,0 2.4,0a1.2,1.2 0 1,0 -2.4,0M280.04,299.39a1.2,1.2 0 1,0 2.4,0a1.2,1.2 0 1,0 -2.4,0M282.45,306.93a1.2,1.2 0 1,0 2.4,0a1.2,1.2 0 1,0 -2.4,0M288.88,309.44a1.2,1.2 0 1,0 2.4,0a1.2,1.2 0 1,0 -2.4,0M280.84,314.46a1.2,1.2 0 1,0 2.4,0a1.2,1.2 0 1,0 -2.4,0M280.84,319.49a1.2,1.2 0 1,0 2.4,0a1.2,1.2 0 1,0 -2.4,0M286.47,328.03a1.2,1.2 0 1,0 2.4,0a1.2,1.2 0 1,0 -2.4,0M292.10,329.54a1.2,1.2 0 1,0 2.4,0a1.2,1.2 0 1,0 -2.4,0M280.84,328.03a1.2,1.2 0 1,0 2.4,0a1.2,1.2 0 1,0 -2.4,0M280.84,332.05a1.2,1.2 0 1,0 2.4,0a1.2,1.2 0 1,0 -2.4,0M282.05,337.07a1.2,1.2 0 1,0 2.4,0a1.2,1.2 0 1,0 -2.4,0M290.49,342.10a1.2,1.2 0 1,0 2.4,0a1.2,1.2 0 1,0 -2.4,0M300.14,344.61a1.2,1.2 0 1,0 2.4,0a1.2,1.2 0 1,0 -2.4,0M304.96,354.66a1.2,1.2 0 1,0 2.4,0a1.2,1.2 0 1,0 -2.4,0M310.59,359.19a1.2,1.2 0 1,0 2.4,0a1.2,1.2 0 1,0 -2.4,0M316.22,359.69a1.2,1.2 0 1,0 2.4,0a1.2,1.2 0 1,0 -2.4,0M319.44,357.18a1.2,1.2 0 1,0 2.4,0a1.2,1.2 0 1,0 -2.4,0M322.65,358.18a1.2,1.2 0 1,0 2.4,0a1.2,1.2 0 1,0 -2.4,0M297.73,356.17a1.2,1.2 0 1,0 2.4,0a1.2,1.2 0 1,0 -2.4,0M300.94,358.18a1.2,1.2 0 1,0 2.4,0a1.2,1.2 0 1,0 -2.4,0M294.51,353.15a1.2,1.2 0 1,0 2.4,0a1.2,1.2 0 1,0 -2.4,0M282.45,210.44a1.2,1.2 0 1,0 2.4,0a1.2,1.2 0 1,0 -2.4,0M291.70,210.44a1.2,1.2 0 1,0 2.4,0a1.2,1.2 0 1,0 -2.4,0M293.31,210.44a1.2,1.2 0 1,0 2.4,0a1.2,1.2 0 1,0 -2.4,0" fill="#ff0000"/>
<line x1="226.57" y1="210.44" x2="233.00" y2="199.39" stroke="#333" stroke-width="0.6"/>
<line x1="249.48" y1="210.44" x2="250.29" y2="202.41" stroke="#333" stroke-width="0.6"/>
<line x1="196.02" y1="267.38" x2="202.53" y2="257.48" stroke="#333" stroke-width="0.6"/>
<line x1="190.71" y1="298.03" x2="198.43" y2="287.88" stroke="#333" stroke-width="0.6"/>
<line x1="198.03" y1="348.63" x2="200.84" y2="340.09" stroke="#333" stroke-width="0.6"/>
<line x1="208.08" y1="357.43" x2="222.55" y2="338.58" stroke="#333" stroke-width="0.6"/>
<line x1="229.78" y1="360.94" x2="243.69" y2="344.81" stroke="#333" stroke-width="0.6"/>
<circle cx="226.57" cy="210.44" r="1.35" fill="#1d4f8a" stroke="#111" stroke-width="0.5"/>
<circle cx="249.48" cy="210.44" r="1.35" fill="#1d4f8a" stroke="#111" stroke-width="0.5"/>
<circle cx="196.02" cy="267.38" r="1.35" fill="#1d4f8a" stroke="#111" stroke-width="0.5"/>
<circle cx="190.71" cy="298.03" r="1.35" fill="#1d4f8a" stroke="#111" stroke-width="0.5"/>
<circle cx="198.19" cy="348.63" r="1.35" fill="#1d4f8a" stroke="#111" stroke-width="0.5"/>
<circle cx="208.08" cy="357.43" r="1.35" fill="#1d4f8a" stroke="#111" stroke-width="0.5"/>
<circle cx="229.78" cy="360.94" r="1.35" fill="#1d4f8a" stroke="#111" stroke-width="0.5"/>
<text x="223.60" y="200.04" font-size="10.3">Ifit2</text>
<text x="245.70" y="200.34" font-size="10.3">Nos2</text>
<text x="199.20" y="257.84" font-size="10.3">Ifit3</text>
<text x="194.30" y="288.34" font-size="10.3">Ifit1</text>
<text x="190.50" y="337.24" font-size="10.3">Ifnb1</text>
<text x="217.40" y="333.64" font-size="10.3">Ifna2</text>
<text x="238.90" y="345.44" font-size="10.3">Ifnab</text>
<circle cx="291.60" cy="191.40" r="2.60" fill="#ff0000"/>
<text x="295.00" y="193.81" font-size="7.0" font-weight="bold">up(319)</text>
<circle cx="291.60" cy="201.00" r="2.60" fill="#2b8ff0"/>
<text x="295.00" y="203.41" font-size="7.0" font-weight="bold">down(648)</text>
<text x="366.10" y="166.90" font-size="16" font-weight="bold">f</text>
<text x="535.20" y="182.41" font-size="9.9" text-anchor="middle">GO enrichment analysis ((N67+2-BP) /N67)</text>
<line x1="494.50" y1="191.00" x2="645.50" y2="191.00" stroke="#e4e4e4" stroke-width="0.6"/>
<line x1="494.50" y1="199.96" x2="645.50" y2="199.96" stroke="#e4e4e4" stroke-width="0.6"/>
<line x1="494.50" y1="208.92" x2="645.50" y2="208.92" stroke="#e4e4e4" stroke-width="0.6"/>
<line x1="494.50" y1="217.88" x2="645.50" y2="217.88" stroke="#e4e4e4" stroke-width="0.6"/>
<line x1="494.50" y1="226.84" x2="645.50" y2="226.84" stroke="#e4e4e4" stroke-width="0.6"/>
<line x1="494.50" y1="235.80" x2="645.50" y2="235.80" stroke="#e4e4e4" stroke-width="0.6"/>
<line x1="494.50" y1="244.76" x2="645.50" y2="244.76" stroke="#e4e4e4" stroke-width="0.6"/>
<line x1="494.50" y1="253.72" x2="645.50" y2="253.72" stroke="#e4e4e4" stroke-width="0.6"/>
<line x1="494.50" y1="262.68" x2="645.50" y2="262.68" stroke="#e4e4e4" stroke-width="0.6"/>
<line x1="494.50" y1="271.64" x2="645.50" y2="271.64" stroke="#e4e4e4" stroke-width="0.6"/>
<line x1="494.50" y1="280.60" x2="645.50" y2="280.60" stroke="#e4e4e4" stroke-width="0.6"/>
<line x1="494.50" y1="289.56" x2="645.50" y2="289.56" stroke="#e4e4e4" stroke-width="0.6"/>
<line x1="494.50" y1="298.52" x2="645.50" y2="298.52" stroke="#e4e4e4" stroke-width="0.6"/>
<line x1="494.50" y1="307.48" x2="645.50" y2="307.48" stroke="#e4e4e4" stroke-width="0.6"/>
<line x1="494.50" y1="316.44" x2="645.50" y2="316.44" stroke="#e4e4e4" stroke-width="0.6"/>
<line x1="494.50" y1="325.40" x2="645.50" y2="325.40" stroke="#e4e4e4" stroke-width="0.6"/>
<line x1="494.50" y1="334.36" x2="645.50" y2="334.36" stroke="#e4e4e4" stroke-width="0.6"/>
<line x1="494.50" y1="343.32" x2="645.50" y2="343.32" stroke="#e4e4e4" stroke-width="0.6"/>
<line x1="494.50" y1="352.28" x2="645.50" y2="352.28" stroke="#e4e4e4" stroke-width="0.6"/>
<line x1="494.50" y1="361.24" x2="645.50" y2="361.24" stroke="#e4e4e4" stroke-width="0.6"/>
<line x1="532.25" y1="187.10" x2="532.25" y2="366.40" stroke="#dcdcdc" stroke-width="0.6"/>
<line x1="570.00" y1="187.10" x2="570.00" y2="366.40" stroke="#dcdcdc" stroke-width="0.6"/>
<line x1="607.75" y1="187.10" x2="607.75" y2="366.40" stroke="#dcdcdc" stroke-width="0.6"/>
<rect x="494.5" y="187.1" width="151.0" height="179.30" fill="none" stroke="#555" stroke-width="0.8"/>
<line x1="492.70" y1="191.00" x2="494.50" y2="191.00" stroke="#555" stroke-width="0.5"/>
<text x="489.80" y="193.67" font-size="7.75" text-anchor="end" fill="#f02020">defense response</text>
<circle cx="508.47" cy="191.00" r="2.40" fill="#ff0000"/>
<line x1="492.70" y1="199.96" x2="494.50" y2="199.96" stroke="#555" stroke-width="0.5"/>
<text x="489.80" y="202.63" font-size="7.75" text-anchor="end" fill="#111">response to external biotic stimulus</text>
<circle cx="507.90" cy="199.96" r="2.30" fill="#ff0000"/>
<line x1="492.70" y1="208.92" x2="494.50" y2="208.92" stroke="#555" stroke-width="0.5"/>
<text x="489.80" y="211.59" font-size="7.75" text-anchor="end" fill="#111">response to biotic stimulus</text>
<circle cx="507.90" cy="208.92" r="2.30" fill="#ff0000"/>
<line x1="492.70" y1="217.88" x2="494.50" y2="217.88" stroke="#555" stroke-width="0.5"/>
<text x="489.80" y="220.55" font-size="7.75" text-anchor="end" fill="#f02020">immune system process</text>
<circle cx="506.58" cy="217.88" r="2.40" fill="#ff0000"/>
<line x1="492.70" y1="226.84" x2="494.50" y2="226.84" stroke="#555" stroke-width="0.5"/>
<text x="489.80" y="229.51" font-size="7.75" text-anchor="end" fill="#111">response to other organism</text>
<circle cx="508.66" cy="226.84" r="2.20" fill="#ff0000"/>
<line x1="492.70" y1="235.80" x2="494.50" y2="235.80" stroke="#555" stroke-width="0.5"/>
<text x="489.80" y="238.47" font-size="7.75" text-anchor="end" fill="#111">biological process</text>
<circle cx="507.90" cy="235.80" r="2.30" fill="#ff0000"/>
<line x1="492.70" y1="244.76" x2="494.50" y2="244.76" stroke="#555" stroke-width="0.5"/>
<text x="489.80" y="247.43" font-size="7.75" text-anchor="end" fill="#f02020">cellular response to interferon-beta</text>
<circle cx="606.05" cy="244.76" r="1.00" fill="#ff0000"/>
<line x1="492.70" y1="253.72" x2="494.50" y2="253.72" stroke="#555" stroke-width="0.5"/>
<text x="489.80" y="256.39" font-size="7.75" text-anchor="end" fill="#111">response to virus</text>
<circle cx="523.38" cy="253.72" r="1.50" fill="#ff0000"/>
<line x1="492.70" y1="262.68" x2="494.50" y2="262.68" stroke="#555" stroke-width="0.5"/>
<text x="489.80" y="265.35" font-size="7.75" text-anchor="end" fill="#f02020">response to interferon-beta</text>
<circle cx="591.14" cy="262.68" r="1.00" fill="#ff0000"/>
<line x1="492.70" y1="271.64" x2="494.50" y2="271.64" stroke="#555" stroke-width="0.5"/>
<text x="489.80" y="274.31" font-size="7.75" text-anchor="end" fill="#111">response to stimulus</text>
<circle cx="501.86" cy="271.64" r="3.50" fill="#ff0000"/>
<line x1="492.70" y1="280.60" x2="494.50" y2="280.60" stroke="#555" stroke-width="0.5"/>
<text x="489.80" y="283.27" font-size="7.75" text-anchor="end" fill="#111">response to external stimulus</text>
<circle cx="505.07" cy="280.60" r="2.60" fill="#ff0000"/>
<line x1="492.70" y1="289.56" x2="494.50" y2="289.56" stroke="#555" stroke-width="0.5"/>
<text x="489.80" y="292.23" font-size="7.75" text-anchor="end" fill="#111">defense response to symbiont</text>
<circle cx="526.21" cy="289.56" r="1.40" fill="#ff0000"/>
<line x1="492.70" y1="298.52" x2="494.50" y2="298.52" stroke="#555" stroke-width="0.5"/>
<text x="489.80" y="301.19" font-size="7.75" text-anchor="end" fill="#111">defense response to virus</text>
<circle cx="526.21" cy="298.52" r="1.40" fill="#ff0000"/>
<line x1="492.70" y1="307.48" x2="494.50" y2="307.48" stroke="#555" stroke-width="0.5"/>
<text x="489.80" y="310.15" font-size="7.75" text-anchor="end" fill="#111">response to stress</text>
<circle cx="503.18" cy="307.48" r="2.90" fill="#ff0000"/>
<line x1="492.70" y1="316.44" x2="494.50" y2="316.44" stroke="#555" stroke-width="0.5"/>
<text x="489.80" y="319.11" font-size="7.75" text-anchor="end" fill="#f02020">regulation of immune system process</text>
<circle cx="508.09" cy="316.44" r="2.10" fill="#ff0000"/>
<line x1="492.70" y1="325.40" x2="494.50" y2="325.40" stroke="#555" stroke-width="0.5"/>
<text x="489.80" y="328.07" font-size="7.75" text-anchor="end" fill="#111">defense response to other organism</text>
<circle cx="508.66" cy="325.40" r="2.00" fill="#ff0000"/>
<line x1="492.70" y1="334.36" x2="494.50" y2="334.36" stroke="#555" stroke-width="0.5"/>
<text x="489.80" y="337.03" font-size="7.75" text-anchor="end" fill="#111">regulation of response to external stimulus</text>
<circle cx="511.30" cy="334.36" r="1.70" fill="#ff0000"/>
<line x1="492.70" y1="343.32" x2="494.50" y2="343.32" stroke="#555" stroke-width="0.5"/>
<text x="489.80" y="345.99" font-size="7.75" text-anchor="end" fill="#111">regulation of defense response</text>
<circle cx="513.94" cy="343.32" r="1.60" fill="#ff0000"/>
<line x1="492.70" y1="352.28" x2="494.50" y2="352.28" stroke="#555" stroke-width="0.5"/>
<text x="489.80" y="354.95" font-size="7.75" text-anchor="end" fill="#111">regulation of response to biotic stimulus</text>
<circle cx="518.85" cy="352.28" r="1.50" fill="#ff0000"/>
<line x1="492.70" y1="361.24" x2="494.50" y2="361.24" stroke="#555" stroke-width="0.5"/>
<text x="489.80" y="363.91" font-size="7.75" text-anchor="end" fill="#111">response to cytokine</text>
<circle cx="509.41" cy="361.24" r="2.10" fill="#3300ff"/>
<line x1="494.50" y1="366.40" x2="494.50" y2="367.90" stroke="#555" stroke-width="0.5"/>
<text x="494.50" y="372.88" font-size="4.6" text-anchor="middle" fill="#333">0</text>
<line x1="532.25" y1="366.40" x2="532.25" y2="367.90" stroke="#555" stroke-width="0.5"/>
<text x="532.25" y="372.88" font-size="4.6" text-anchor="middle" fill="#333">0.2</text>
<line x1="570.00" y1="366.40" x2="570.00" y2="367.90" stroke="#555" stroke-width="0.5"/>
<text x="570.00" y="372.88" font-size="4.6" text-anchor="middle" fill="#333">0.4</text>
<line x1="607.75" y1="366.40" x2="607.75" y2="367.90" stroke="#555" stroke-width="0.5"/>
<text x="607.75" y="372.88" font-size="4.6" text-anchor="middle" fill="#333">0.6</text>
<line x1="645.50" y1="366.40" x2="645.50" y2="367.90" stroke="#555" stroke-width="0.5"/>
<text x="645.50" y="372.88" font-size="4.6" text-anchor="middle" fill="#333">0.8</text>
<text x="570.00" y="387.24" font-size="10.0" text-anchor="middle">Rich factor</text>
<text x="652.00" y="203.19" font-size="5.2" font-weight="bold" fill="#222">Padjust</text>
<rect x="654.10" y="206.90" width="9.10" height="43.80" fill="url(#padj)"/>
<line x1="663.20" y1="218.40" x2="664.60" y2="218.40" stroke="#555" stroke-width="0.4"/>
<text x="665.60" y="220.05" font-size="4.8" fill="#333">3.00e-31</text>
<line x1="663.20" y1="229.40" x2="664.60" y2="229.40" stroke="#555" stroke-width="0.4"/>
<text x="665.60" y="231.05" font-size="4.8" fill="#333">2.00e-31</text>
<line x1="663.20" y1="240.40" x2="664.60" y2="240.40" stroke="#555" stroke-width="0.4"/>
<text x="665.60" y="242.05" font-size="4.8" fill="#333">1.00e-31</text>
<line x1="663.20" y1="251.00" x2="664.60" y2="251.00" stroke="#555" stroke-width="0.4"/>
<text x="665.60" y="252.65" font-size="4.8" fill="#333">0.00e+0</text>
<text x="652.00" y="268.79" font-size="5.2" font-weight="bold" fill="#222">Number</text>
<circle cx="654.40" cy="275.30" r="1.40" fill="#000"/>
<text x="661.80" y="277.09" font-size="5.2" fill="#222">35</text>
<circle cx="654.40" cy="283.80" r="2.50" fill="#000"/>
<text x="661.80" y="285.59" font-size="5.2" fill="#222">126</text>
<circle cx="654.40" cy="292.40" r="3.40" fill="#000"/>
<text x="661.80" y="294.19" font-size="5.2" fill="#222">217</text>
<circle cx="654.40" cy="302.20" r="4.20" fill="#000"/>
<text x="661.80" y="303.99" font-size="5.2" fill="#222">311</text>
<text x="-0.40" y="407.40" font-size="16" font-weight="bold">g</text>
<text x="20.40" y="426.54" font-size="10.3">PEMS</text>
<rect x="65.50" y="421.00" width="4.00" height="4.00" fill="#8c8c8c"/>
<text x="76.50" y="426.54" font-size="10.3">Uninfected</text>
<circle cx="168.80" cy="423.00" r="2.20" fill="#16783c"/>
<text x="177.20" y="426.54" font-size="10.3">N67</text>
<path d="M238.8,420.6 L241.3,425.0 L236.3,425.0 Z" fill="#d9262b"/>
<text x="246.20" y="426.54" font-size="10.3">N67+2-BP</text>
<line x1="48.50" y1="441.00" x2="48.50" y2="515.80" stroke="#000" stroke-width="1.2"/>
<line x1="47.90" y1="515.20" x2="95.00" y2="515.20" stroke="#000" stroke-width="1.2"/>
<line x1="44.90" y1="515.20" x2="48.50" y2="515.20" stroke="#000" stroke-width="1.1"/>
<text x="44.30" y="518.50" font-size="9.6" text-anchor="end" letter-spacing="-0.25">0</text>
<line x1="44.90" y1="500.46" x2="48.50" y2="500.46" stroke="#000" stroke-width="1.1"/>
<text x="44.30" y="503.76" font-size="9.6" text-anchor="end" letter-spacing="-0.25">200</text>
<line x1="44.90" y1="485.72" x2="48.50" y2="485.72" stroke="#000" stroke-width="1.1"/>
<text x="44.30" y="489.02" font-size="9.6" text-anchor="end" letter-spacing="-0.25">400</text>
<line x1="44.90" y1="470.98" x2="48.50" y2="470.98" stroke="#000" stroke-width="1.1"/>
<text x="44.30" y="474.28" font-size="9.6" text-anchor="end" letter-spacing="-0.25">600</text>
<line x1="44.90" y1="456.24" x2="48.50" y2="456.24" stroke="#000" stroke-width="1.1"/>
<text x="44.30" y="459.54" font-size="9.6" text-anchor="end" letter-spacing="-0.25">800</text>
<line x1="44.90" y1="441.50" x2="48.50" y2="441.50" stroke="#000" stroke-width="1.1"/>
<text x="44.30" y="444.80" font-size="9.6" text-anchor="end" letter-spacing="-0.25">1000</text>
<line x1="57.60" y1="515.20" x2="57.60" y2="518.50" stroke="#000" stroke-width="1.1"/>
<rect x="53.30" y="513.87" width="8.60" height="1.33" fill="#fff" stroke="#000" stroke-width="1"/>
<rect x="53.60" y="512.66" width="3.60" height="3.60" fill="#fff" stroke="#000" stroke-width="1.0"/>
<rect x="55.80" y="511.56" width="3.60" height="3.60" fill="#fff" stroke="#000" stroke-width="1.0"/>
<rect x="58.00" y="512.29" width="3.60" height="3.60" fill="#fff" stroke="#000" stroke-width="1.0"/>
<rect x="54.80" y="513.03" width="3.60" height="3.60" fill="#fff" stroke="#000" stroke-width="1.0"/>
<rect x="56.80" y="511.93" width="3.60" height="3.60" fill="#fff" stroke="#000" stroke-width="1.0"/>
<rect x="55.80" y="512.52" width="3.60" height="3.60" fill="#fff" stroke="#000" stroke-width="1.0"/>
<line x1="71.50" y1="515.20" x2="71.50" y2="518.50" stroke="#000" stroke-width="1.1"/>
<line x1="71.50" y1="468.92" x2="71.50" y2="458.23" stroke="#000" stroke-width="0.9"/>
<line x1="69.70" y1="458.23" x2="73.30" y2="458.23" stroke="#000" stroke-width="0.9"/>
<rect x="67.30" y="468.92" width="8.40" height="46.28" fill="#16783c" stroke="#000" stroke-width="1"/>
<circle cx="71.50" cy="454.03" r="2.00" fill="#fff" stroke="#000" stroke-width="1.0"/>
<circle cx="71.50" cy="463.61" r="2.00" fill="#fff" stroke="#000" stroke-width="1.0"/>
<circle cx="68.90" cy="468.03" r="2.00" fill="#fff" stroke="#000" stroke-width="1.0"/>
<circle cx="74.10" cy="468.03" r="2.00" fill="#fff" stroke="#000" stroke-width="1.0"/>
<circle cx="68.90" cy="484.25" r="2.00" fill="#fff" stroke="#000" stroke-width="1.0"/>
<circle cx="74.10" cy="484.25" r="2.00" fill="#fff" stroke="#000" stroke-width="1.0"/>
<line x1="85.40" y1="515.20" x2="85.40" y2="518.50" stroke="#000" stroke-width="1.1"/>
<line x1="85.40" y1="503.04" x2="85.40" y2="501.93" stroke="#000" stroke-width="0.9"/>
<line x1="83.60" y1="501.93" x2="87.20" y2="501.93" stroke="#000" stroke-width="0.9"/>
<rect x="81.20" y="503.04" width="8.40" height="12.16" fill="#d9262b" stroke="#000" stroke-width="1"/>
<path d="M83.40,499.90 L85.70,503.90 L81.10,503.90 Z" fill="#fff" stroke="#000" stroke-width="1.0"/>
<path d="M85.40,499.17 L87.70,503.17 L83.10,503.17 Z" fill="#fff" stroke="#000" stroke-width="1.0"/>
<path d="M87.40,500.27 L89.70,504.27 L85.10,504.27 Z" fill="#fff" stroke="#000" stroke-width="1.0"/>
<path d="M84.40,501.75 L86.70,505.75 L82.10,505.75 Z" fill="#fff" stroke="#000" stroke-width="1.0"/>
<path d="M86.90,501.01 L89.20,505.01 L84.60,505.01 Z" fill="#fff" stroke="#000" stroke-width="1.0"/>
<path d="M85.40,500.64 L87.70,504.64 L83.10,504.64 Z" fill="#fff" stroke="#000" stroke-width="1.0"/>
<text x="77.60" y="446.60" font-size="7.4" text-anchor="middle"><tspan font-style="italic">P</tspan>&lt;0.0001</text>
<line x1="70.60" y1="449.20" x2="85.10" y2="449.20" stroke="#000" stroke-width="0.9"/>
<text x="16.20" y="476.8" font-size="10.3" text-anchor="middle" transform="rotate(-90 16.20 476.8)"><tspan font-style="italic">Ifnb</tspan> mRNA (fold)</text>
<line x1="126.00" y1="441.00" x2="126.00" y2="515.80" stroke="#000" stroke-width="1.2"/>
<line x1="125.40" y1="515.20" x2="174.50" y2="515.20" stroke="#000" stroke-width="1.2"/>
<line x1="122.40" y1="515.20" x2="126.00" y2="515.20" stroke="#000" stroke-width="1.1"/>
<text x="121.80" y="518.50" font-size="9.6" text-anchor="end" letter-spacing="-0.25">0</text>
<line x1="122.40" y1="500.46" x2="126.00" y2="500.46" stroke="#000" stroke-width="1.1"/>
<text x="121.80" y="503.76" font-size="9.6" text-anchor="end" letter-spacing="-0.25">10</text>
<line x1="122.40" y1="485.72" x2="126.00" y2="485.72" stroke="#000" stroke-width="1.1"/>
<text x="121.80" y="489.02" font-size="9.6" text-anchor="end" letter-spacing="-0.25">20</text>
<line x1="122.40" y1="470.98" x2="126.00" y2="470.98" stroke="#000" stroke-width="1.1"/>
<text x="121.80" y="474.28" font-size="9.6" text-anchor="end" letter-spacing="-0.25">30</text>
<line x1="122.40" y1="456.24" x2="126.00" y2="456.24" stroke="#000" stroke-width="1.1"/>
<text x="121.80" y="459.54" font-size="9.6" text-anchor="end" letter-spacing="-0.25">40</text>
<line x1="122.40" y1="441.50" x2="126.00" y2="441.50" stroke="#000" stroke-width="1.1"/>
<text x="121.80" y="444.80" font-size="9.6" text-anchor="end" letter-spacing="-0.25">50</text>
<line x1="137.00" y1="515.20" x2="137.00" y2="518.50" stroke="#000" stroke-width="1.1"/>
<rect x="132.60" y="512.55" width="8.80" height="2.65" fill="#fff" stroke="#000" stroke-width="1"/>
<rect x="133.70" y="510.45" width="3.60" height="3.60" fill="#fff" stroke="#000" stroke-width="1.0"/>
<rect x="136.70" y="509.72" width="3.60" height="3.60" fill="#fff" stroke="#000" stroke-width="1.0"/>
<rect x="135.20" y="511.19" width="3.60" height="3.60" fill="#fff" stroke="#000" stroke-width="1.0"/>
<line x1="151.15" y1="515.20" x2="151.15" y2="518.50" stroke="#000" stroke-width="1.1"/>
<line x1="151.15" y1="459.19" x2="151.15" y2="456.24" stroke="#000" stroke-width="0.9"/>
<line x1="149.35" y1="456.24" x2="152.95" y2="456.24" stroke="#000" stroke-width="0.9"/>
<rect x="146.30" y="459.19" width="9.70" height="56.01" fill="#16783c" stroke="#000" stroke-width="1"/>
<circle cx="149.15" cy="453.29" r="2.00" fill="#fff" stroke="#000" stroke-width="1.0"/>
<circle cx="152.15" cy="451.82" r="2.00" fill="#fff" stroke="#000" stroke-width="1.0"/>
<circle cx="153.65" cy="456.24" r="2.00" fill="#fff" stroke="#000" stroke-width="1.0"/>
<circle cx="148.65" cy="459.19" r="2.00" fill="#fff" stroke="#000" stroke-width="1.0"/>
<circle cx="151.65" cy="460.66" r="2.00" fill="#fff" stroke="#000" stroke-width="1.0"/>
<circle cx="151.15" cy="466.56" r="2.00" fill="#fff" stroke="#000" stroke-width="1.0"/>
<line x1="164.75" y1="515.20" x2="164.75" y2="518.50" stroke="#000" stroke-width="1.1"/>
<line x1="164.75" y1="492.35" x2="164.75" y2="490.14" stroke="#000" stroke-width="0.9"/>
<line x1="162.95" y1="490.14" x2="166.55" y2="490.14" stroke="#000" stroke-width="0.9"/>
<rect x="160.30" y="492.35" width="8.90" height="22.85" fill="#d9262b" stroke="#000" stroke-width="1"/>
<path d="M164.75,484.79 L167.05,488.79 L162.45,488.79 Z" fill="#fff" stroke="#000" stroke-width="1.0"/>
<path d="M163.25,487.74 L165.55,491.74 L160.95,491.74 Z" fill="#fff" stroke="#000" stroke-width="1.0"/>
<path d="M166.25,489.22 L168.55,493.22 L163.95,493.22 Z" fill="#fff" stroke="#000" stroke-width="1.0"/>
<path d="M166.75,492.16 L169.05,496.16 L164.45,496.16 Z" fill="#fff" stroke="#000" stroke-width="1.0"/>
<path d="M163.75,492.90 L166.05,496.90 L161.45,496.90 Z" fill="#fff" stroke="#000" stroke-width="1.0"/>
<path d="M165.25,490.69 L167.55,494.69 L162.95,494.69 Z" fill="#fff" stroke="#000" stroke-width="1.0"/>
<text x="158.80" y="446.60" font-size="7.4" text-anchor="middle"><tspan font-style="italic">P</tspan>&lt;0.0001</text>
<line x1="152.40" y1="449.20" x2="166.80" y2="449.20" stroke="#000" stroke-width="0.9"/>
<text x="109.90" y="476.8" font-size="10.3" text-anchor="middle" transform="rotate(-90 109.90 476.8)"><tspan font-style="italic">Isg56</tspan> mRNA (fold)</text>
<line x1="208.90" y1="441.00" x2="208.90" y2="515.80" stroke="#000" stroke-width="1.2"/>
<line x1="208.30" y1="515.20" x2="255.40" y2="515.20" stroke="#000" stroke-width="1.2"/>
<line x1="205.30" y1="515.20" x2="208.90" y2="515.20" stroke="#000" stroke-width="1.1"/>
<text x="204.70" y="518.50" font-size="9.6" text-anchor="end" letter-spacing="-0.25">0</text>
<line x1="205.30" y1="500.46" x2="208.90" y2="500.46" stroke="#000" stroke-width="1.1"/>
<text x="204.70" y="503.76" font-size="9.6" text-anchor="end" letter-spacing="-0.25">10</text>
<line x1="205.30" y1="485.72" x2="208.90" y2="485.72" stroke="#000" stroke-width="1.1"/>
<text x="204.70" y="489.02" font-size="9.6" text-anchor="end" letter-spacing="-0.25">20</text>
<line x1="205.30" y1="470.98" x2="208.90" y2="470.98" stroke="#000" stroke-width="1.1"/>
<text x="204.70" y="474.28" font-size="9.6" text-anchor="end" letter-spacing="-0.25">30</text>
<line x1="205.30" y1="456.24" x2="208.90" y2="456.24" stroke="#000" stroke-width="1.1"/>
<text x="204.70" y="459.54" font-size="9.6" text-anchor="end" letter-spacing="-0.25">40</text>
<line x1="205.30" y1="441.50" x2="208.90" y2="441.50" stroke="#000" stroke-width="1.1"/>
<text x="204.70" y="444.80" font-size="9.6" text-anchor="end" letter-spacing="-0.25">50</text>
<line x1="218.00" y1="515.20" x2="218.00" y2="518.50" stroke="#000" stroke-width="1.1"/>
<rect x="213.60" y="510.78" width="8.80" height="4.42" fill="#fff" stroke="#000" stroke-width="1"/>
<rect x="214.70" y="507.50" width="3.60" height="3.60" fill="#fff" stroke="#000" stroke-width="1.0"/>
<rect x="218.00" y="508.98" width="3.60" height="3.60" fill="#fff" stroke="#000" stroke-width="1.0"/>
<rect x="216.20" y="510.45" width="3.60" height="3.60" fill="#fff" stroke="#000" stroke-width="1.0"/>
<rect x="217.20" y="506.03" width="3.60" height="3.60" fill="#fff" stroke="#000" stroke-width="1.0"/>
<line x1="232.40" y1="515.20" x2="232.40" y2="518.50" stroke="#000" stroke-width="1.1"/>
<line x1="232.40" y1="473.19" x2="232.40" y2="468.77" stroke="#000" stroke-width="0.9"/>
<line x1="230.60" y1="468.77" x2="234.20" y2="468.77" stroke="#000" stroke-width="0.9"/>
<rect x="227.80" y="473.19" width="9.20" height="42.01" fill="#16783c" stroke="#000" stroke-width="1"/>
<circle cx="232.40" cy="458.01" r="2.00" fill="#fff" stroke="#000" stroke-width="1.0"/>
<circle cx="230.90" cy="470.24" r="2.00" fill="#fff" stroke="#000" stroke-width="1.0"/>
<circle cx="233.90" cy="473.19" r="2.00" fill="#fff" stroke="#000" stroke-width="1.0"/>
<circle cx="230.40" cy="476.88" r="2.00" fill="#fff" stroke="#000" stroke-width="1.0"/>
<circle cx="234.40" cy="481.30" r="2.00" fill="#fff" stroke="#000" stroke-width="1.0"/>
<circle cx="232.40" cy="484.25" r="2.00" fill="#fff" stroke="#000" stroke-width="1.0"/>
<line x1="246.20" y1="515.20" x2="246.20" y2="518.50" stroke="#000" stroke-width="1.1"/>
<line x1="246.20" y1="497.51" x2="246.20" y2="496.04" stroke="#000" stroke-width="0.9"/>
<line x1="244.40" y1="496.04" x2="248.00" y2="496.04" stroke="#000" stroke-width="0.9"/>
<rect x="241.70" y="497.51" width="9.00" height="17.69" fill="#d9262b" stroke="#000" stroke-width="1"/>
<path d="M244.20,493.64 L246.50,497.64 L241.90,497.64 Z" fill="#fff" stroke="#000" stroke-width="1.0"/>
<path d="M246.20,492.16 L248.50,496.16 L243.90,496.16 Z" fill="#fff" stroke="#000" stroke-width="1.0"/>
<path d="M248.20,494.38 L250.50,498.38 L245.90,498.38 Z" fill="#fff" stroke="#000" stroke-width="1.0"/>
<path d="M245.20,496.59 L247.50,500.59 L242.90,500.59 Z" fill="#fff" stroke="#000" stroke-width="1.0"/>
<path d="M247.70,497.32 L250.00,501.32 L245.40,501.32 Z" fill="#fff" stroke="#000" stroke-width="1.0"/>
<path d="M246.20,495.11 L248.50,499.11 L243.90,499.11 Z" fill="#fff" stroke="#000" stroke-width="1.0"/>
<text x="238.90" y="450.20" font-size="7.4" text-anchor="middle"><tspan font-style="italic">P</tspan>=0.0004</text>
<line x1="234.40" y1="453.30" x2="246.20" y2="453.30" stroke="#000" stroke-width="0.9"/>
<text x="189.30" y="476.8" font-size="10.3" text-anchor="middle" transform="rotate(-90 189.30 476.8)"><tspan font-style="italic">Isg54</tspan> mRNA (fold)</text>
<line x1="289.50" y1="441.00" x2="289.50" y2="515.80" stroke="#000" stroke-width="1.2"/>
<line x1="288.90" y1="515.20" x2="335.50" y2="515.20" stroke="#000" stroke-width="1.2"/>
<line x1="285.90" y1="515.20" x2="289.50" y2="515.20" stroke="#000" stroke-width="1.1"/>
<text x="285.30" y="518.50" font-size="9.6" text-anchor="end" letter-spacing="-0.25">0</text>
<line x1="285.90" y1="496.78" x2="289.50" y2="496.78" stroke="#000" stroke-width="1.1"/>
<text x="285.30" y="500.08" font-size="9.6" text-anchor="end" letter-spacing="-0.25">20</text>
<line x1="285.90" y1="478.35" x2="289.50" y2="478.35" stroke="#000" stroke-width="1.1"/>
<text x="285.30" y="481.65" font-size="9.6" text-anchor="end" letter-spacing="-0.25">40</text>
<line x1="285.90" y1="459.93" x2="289.50" y2="459.93" stroke="#000" stroke-width="1.1"/>
<text x="285.30" y="463.23" font-size="9.6" text-anchor="end" letter-spacing="-0.25">60</text>
<line x1="285.90" y1="441.50" x2="289.50" y2="441.50" stroke="#000" stroke-width="1.1"/>
<text x="285.30" y="444.80" font-size="9.6" text-anchor="end" letter-spacing="-0.25">80</text>
<line x1="298.20" y1="515.20" x2="298.20" y2="518.50" stroke="#000" stroke-width="1.1"/>
<rect x="293.80" y="512.44" width="8.80" height="2.76" fill="#fff" stroke="#000" stroke-width="1"/>
<rect x="294.90" y="510.64" width="3.60" height="3.60" fill="#fff" stroke="#000" stroke-width="1.0"/>
<rect x="297.90" y="510.18" width="3.60" height="3.60" fill="#fff" stroke="#000" stroke-width="1.0"/>
<rect x="296.40" y="511.10" width="3.60" height="3.60" fill="#fff" stroke="#000" stroke-width="1.0"/>
<line x1="311.65" y1="515.20" x2="311.65" y2="518.50" stroke="#000" stroke-width="1.1"/>
<line x1="311.65" y1="464.53" x2="311.65" y2="461.77" stroke="#000" stroke-width="0.9"/>
<line x1="309.85" y1="461.77" x2="313.45" y2="461.77" stroke="#000" stroke-width="0.9"/>
<rect x="307.20" y="464.53" width="8.90" height="50.67" fill="#16783c" stroke="#000" stroke-width="1"/>
<circle cx="311.65" cy="454.40" r="2.00" fill="#fff" stroke="#000" stroke-width="1.0"/>
<circle cx="310.15" cy="462.69" r="2.00" fill="#fff" stroke="#000" stroke-width="1.0"/>
<circle cx="313.15" cy="465.45" r="2.00" fill="#fff" stroke="#000" stroke-width="1.0"/>
<circle cx="311.65" cy="467.30" r="2.00" fill="#fff" stroke="#000" stroke-width="1.0"/>
<circle cx="313.65" cy="466.37" r="2.00" fill="#fff" stroke="#000" stroke-width="1.0"/>
<line x1="325.70" y1="515.20" x2="325.70" y2="518.50" stroke="#000" stroke-width="1.1"/>
<line x1="325.70" y1="500.46" x2="325.70" y2="497.70" stroke="#000" stroke-width="0.9"/>
<line x1="323.90" y1="497.70" x2="327.50" y2="497.70" stroke="#000" stroke-width="0.9"/>
<rect x="321.10" y="500.46" width="9.20" height="14.74" fill="#d9262b" stroke="#000" stroke-width="1"/>
<path d="M324.70,492.53 L327.00,496.53 L322.40,496.53 Z" fill="#fff" stroke="#000" stroke-width="1.0"/>
<path d="M327.20,493.45 L329.50,497.45 L324.90,497.45 Z" fill="#fff" stroke="#000" stroke-width="1.0"/>
<path d="M325.70,496.22 L328.00,500.22 L323.40,500.22 Z" fill="#fff" stroke="#000" stroke-width="1.0"/>
<path d="M324.20,500.82 L326.50,504.82 L321.90,504.82 Z" fill="#fff" stroke="#000" stroke-width="1.0"/>
<path d="M325.70,503.59 L328.00,507.59 L323.40,507.59 Z" fill="#fff" stroke="#000" stroke-width="1.0"/>
<path d="M327.20,498.06 L329.50,502.06 L324.90,502.06 Z" fill="#fff" stroke="#000" stroke-width="1.0"/>
<text x="319.10" y="445.80" font-size="7.4" text-anchor="middle"><tspan font-style="italic">P</tspan>&lt;0.0001</text>
<line x1="314.50" y1="449.10" x2="326.30" y2="449.10" stroke="#000" stroke-width="0.9"/>
<text x="269.40" y="476.8" font-size="10.3" text-anchor="middle" transform="rotate(-90 269.40 476.8)"><tspan font-style="italic">Ifit3</tspan> mRNA (fold)</text>
<text x="344.50" y="407.50" font-size="16" font-weight="bold">h</text>
<text x="355.30" y="426.34" font-size="10.3">PEMs</text>
<text x="425.00" y="429.90" font-size="10.0" transform="rotate(-50 425.00 429.90)">Uninfected</text>
<text x="438.50" y="431.30" font-size="10.0" transform="rotate(-50 438.50 431.30)">N67</text>
<text x="455.20" y="431.30" font-size="10.0" transform="rotate(-50 455.20 431.30)">N67+2-BP</text>
<text x="469.60" y="429.54" font-size="10.3">kDa</text>
<text x="355.30" y="444.04" font-size="10.3">IB: α-p-TBK1</text>
<rect x="420.50" y="433.80" width="40.50" height="13.40" fill="#f3f3f3" filter="url(#b06)"/>
<rect x="421.40" y="439.30" width="12.20" height="3.60" rx="1.80" fill="#000" opacity="0.12" filter="url(#b07)"/>
<rect x="434.50" y="439.30" width="12.20" height="3.60" rx="1.80" fill="#000" opacity="0.90" filter="url(#b07)"/>
<rect x="447.50" y="439.30" width="12.20" height="3.60" rx="1.80" fill="#000" opacity="0.32" filter="url(#b07)"/>
<line x1="461.40" y1="443.50" x2="468.20" y2="443.50" stroke="#000" stroke-width="1.2"/>
<text x="468.60" y="447.44" font-size="10.4">70</text>
<text x="355.30" y="462.54" font-size="10.3">IB: α-TBK1</text>
<rect x="420.50" y="452.40" width="40.50" height="13.20" fill="#f1f1f1" filter="url(#b06)"/>
<rect x="421.40" y="457.10" width="12.20" height="3.60" rx="1.80" fill="#000" opacity="0.95" filter="url(#b07)"/>
<rect x="434.50" y="457.10" width="12.20" height="3.60" rx="1.80" fill="#000" opacity="0.80" filter="url(#b07)"/>
<rect x="447.50" y="457.10" width="12.20" height="3.60" rx="1.80" fill="#000" opacity="0.50" filter="url(#b07)"/>
<line x1="461.40" y1="463.50" x2="468.20" y2="463.50" stroke="#000" stroke-width="1.2"/>
<text x="468.60" y="466.94" font-size="10.4">70</text>
<text x="355.30" y="480.39" font-size="10.3">IB: α-p-IRF3</text>
<rect x="420.50" y="470.30" width="40.50" height="13.10" fill="#e0e0e0" filter="url(#b06)"/>
<rect x="421.40" y="476.00" width="12.20" height="3.60" rx="1.80" fill="#000" opacity="0.08" filter="url(#b07)"/>
<rect x="434.50" y="476.00" width="12.20" height="3.60" rx="1.80" fill="#000" opacity="1.00" filter="url(#b07)"/>
<rect x="447.50" y="476.00" width="12.20" height="3.60" rx="1.80" fill="#000" opacity="0.55" filter="url(#b07)"/>
<line x1="461.40" y1="479.50" x2="468.20" y2="479.50" stroke="#000" stroke-width="1.2"/>
<text x="468.60" y="483.44" font-size="10.4">45</text>
<text x="355.30" y="498.59" font-size="10.3">IB: α-IRF3</text>
<rect x="420.50" y="488.60" width="40.50" height="12.90" fill="#eeeeee" filter="url(#b06)"/>
<rect x="421.40" y="492.10" width="12.20" height="3.60" rx="1.80" fill="#000" opacity="0.85" filter="url(#b07)"/>
<rect x="434.50" y="492.10" width="12.20" height="3.60" rx="1.80" fill="#000" opacity="0.85" filter="url(#b07)"/>
<rect x="447.50" y="492.10" width="12.20" height="3.60" rx="1.80" fill="#000" opacity="0.85" filter="url(#b07)"/>
<line x1="461.40" y1="498.50" x2="468.20" y2="498.50" stroke="#000" stroke-width="1.2"/>
<text x="468.60" y="502.54" font-size="10.4">45</text>
<text x="355.30" y="516.99" font-size="10.3">IB: α-GAPDH</text>
<rect x="420.50" y="507.30" width="40.50" height="12.30" fill="#e0e0e0" filter="url(#b06)"/>
<rect x="421.40" y="511.60" width="12.20" height="3.60" rx="1.80" fill="#000" opacity="0.95" filter="url(#b07)"/>
<rect x="434.50" y="511.60" width="12.20" height="3.60" rx="1.80" fill="#000" opacity="0.92" filter="url(#b07)"/>
<rect x="447.50" y="511.60" width="12.20" height="3.60" rx="1.80" fill="#000" opacity="0.92" filter="url(#b07)"/>
<line x1="461.40" y1="515.50" x2="468.20" y2="515.50" stroke="#000" stroke-width="1.2"/>
<text x="468.60" y="519.44" font-size="10.4">35</text>
<rect x="576.70" y="430.40" width="24.10" height="23.00" fill="#fefafa"/>
<rect x="576.70" y="453.20" width="24.10" height="23.40" fill="#fdf7f7"/>
<rect x="576.70" y="476.40" width="24.10" height="23.60" fill="#fdf6f6"/>
<rect x="576.70" y="499.80" width="24.10" height="24.10" fill="#ffffff"/>
<rect x="600.60" y="430.40" width="23.30" height="23.00" fill="#d83228"/>
<rect x="600.60" y="453.20" width="23.30" height="23.40" fill="#d83228"/>
<rect x="600.60" y="476.40" width="23.30" height="23.60" fill="#d83228"/>
<rect x="600.60" y="499.80" width="23.30" height="24.10" fill="#d83228"/>
<rect x="623.70" y="430.40" width="23.40" height="23.00" fill="#d83228"/>
<rect x="623.70" y="453.20" width="23.40" height="23.40" fill="#eba19c"/>
<rect x="623.70" y="476.40" width="23.40" height="23.60" fill="#f1bcb8"/>
<rect x="623.70" y="499.80" width="23.40" height="24.10" fill="#f3c3bf"/>
<rect x="576.7" y="430.4" width="70.20" height="93.30" fill="none" stroke="#000" stroke-width="1.3"/>
<line x1="588.10" y1="426.60" x2="588.10" y2="430.40" stroke="#000" stroke-width="1.1"/>
<text x="591.30" y="427.40" font-size="10.0" transform="rotate(-46 591.30 427.40)">Uninfected</text>
<line x1="610.80" y1="426.60" x2="610.80" y2="430.40" stroke="#000" stroke-width="1.1"/>
<text x="614.00" y="427.40" font-size="10.0" transform="rotate(-46 614.00 427.40)">N67</text>
<line x1="633.80" y1="426.60" x2="633.80" y2="430.40" stroke="#000" stroke-width="1.1"/>
<text x="637.00" y="427.40" font-size="10.0" transform="rotate(-46 637.00 427.40)">N67+2-BP</text>
<line x1="572.10" y1="441.50" x2="576.70" y2="441.50" stroke="#000" stroke-width="1.1"/>
<text x="572.10" y="445.04" font-size="10.3" text-anchor="end">p-TBK1/TBK1</text>
<line x1="572.10" y1="464.60" x2="576.70" y2="464.60" stroke="#000" stroke-width="1.1"/>
<text x="572.10" y="468.14" font-size="10.3" text-anchor="end">p-TBK1/GAPDH</text>
<line x1="572.10" y1="488.00" x2="576.70" y2="488.00" stroke="#000" stroke-width="1.1"/>
<text x="572.10" y="491.54" font-size="10.3" text-anchor="end">p-IRF3/IRF3</text>
<line x1="572.10" y1="511.70" x2="576.70" y2="511.70" stroke="#000" stroke-width="1.1"/>
<text x="572.10" y="515.24" font-size="10.3" text-anchor="end">p-IRF3/GAPDH</text>
<rect x="651.4" y="430.4" width="11.4" height="93.30" fill="url(#hcb)" stroke="#000" stroke-width="1.3"/>
<line x1="660.40" y1="432.40" x2="665.40" y2="432.40" stroke="#000" stroke-width="1.1"/>
<text x="667.90" y="435.43" font-size="8.8">1.0</text>
<line x1="660.40" y1="453.00" x2="665.40" y2="453.00" stroke="#000" stroke-width="1.1"/>
<text x="667.90" y="456.03" font-size="8.8">0.8</text>
<line x1="660.40" y1="474.60" x2="665.40" y2="474.60" stroke="#000" stroke-width="1.1"/>
<text x="667.90" y="477.63" font-size="8.8">0.6</text>
<line x1="660.40" y1="495.50" x2="665.40" y2="495.50" stroke="#000" stroke-width="1.1"/>
<text x="667.90" y="498.53" font-size="8.8">0.4</text>
<line x1="660.40" y1="517.00" x2="665.40" y2="517.00" stroke="#000" stroke-width="1.1"/>
<text x="667.90" y="520.03" font-size="8.8">0.2</text>
<text x="-0.10" y="551.00" font-size="16" font-weight="bold">i</text>
<text x="20.20" y="551.44" font-size="10.3">BMDMs</text>
<text x="113.40" y="551.44" font-size="10.3" text-anchor="middle">DMSO</text>
<text x="156.20" y="551.44" font-size="10.3" text-anchor="middle">2-BP</text>
<line x1="93.40" y1="558.20" x2="134.00" y2="558.20" stroke="#000" stroke-width="1.2"/>
<line x1="135.80" y1="558.20" x2="176.30" y2="558.20" stroke="#000" stroke-width="1.2"/>
<text x="19.40" y="575.04" font-size="10.3" textLength="43.2" lengthAdjust="spacing">gDNA (h)</text>
<text x="100.60" y="577.24" font-size="10.3" text-anchor="middle">0</text>
<text x="114.60" y="577.24" font-size="10.3" text-anchor="middle">6</text>
<text x="128.50" y="577.24" font-size="10.3" text-anchor="middle">12</text>
<text x="141.80" y="577.24" font-size="10.3" text-anchor="middle">0</text>
<text x="155.00" y="577.24" font-size="10.3" text-anchor="middle">6</text>
<text x="169.50" y="577.24" font-size="10.3" text-anchor="middle">12</text>
<text x="186.90" y="577.74" font-size="10.3">kDa</text>
<text x="10.50" y="609.80" font-size="10.3" text-anchor="middle" transform="rotate(-90 10.50 609.80)">SDD-AGE</text>
<line x1="15.60" y1="579.50" x2="15.60" y2="637.50" stroke="#000" stroke-width="1.3"/>
<text x="20.50" y="599.74" font-size="10.3">IB: α-STING</text>
<rect x="92.90" y="590.50" width="82.30" height="42.10" fill="url(#sddbg)" filter="url(#b06)"/>
<rect x="95.60" y="591.50" width="12.00" height="36.50" rx="3.60" fill="url(#sm11)" filter="url(#b15)"/>
<rect x="108.80" y="591.50" width="12.00" height="36.50" rx="3.60" fill="url(#sm12)" filter="url(#b15)"/>
<rect x="121.40" y="591.50" width="12.00" height="34.50" rx="3.60" fill="url(#sm13)" filter="url(#b15)"/>
<rect x="134.20" y="591.50" width="12.00" height="36.50" rx="3.60" fill="url(#sm14)" filter="url(#b15)"/>
<rect x="146.40" y="591.50" width="12.00" height="36.50" rx="3.60" fill="url(#sm15)" filter="url(#b15)"/>
<rect x="159.40" y="591.50" width="12.00" height="36.50" rx="3.60" fill="url(#sm16)" filter="url(#b15)"/>
<text x="189.20" y="610.30" font-size="10.3" text-anchor="middle" transform="rotate(-90 189.20 610.30)">STING</text>
<text x="201.50" y="610.20" font-size="10.3" text-anchor="middle" transform="rotate(-90 201.50 610.20)">aggregates</text>
<text x="20.50" y="655.84" font-size="10.3">IB: α-p-STING</text>
<rect x="92.90" y="646.50" width="82.30" height="13.60" fill="#ececec" filter="url(#b06)"/>
<rect x="110.20" y="651.70" width="11.40" height="3.60" rx="1.80" fill="#000" opacity="0.92" filter="url(#b07)"/>
<rect x="123.00" y="651.70" width="11.40" height="3.60" rx="1.80" fill="#000" opacity="1.00" filter="url(#b07)"/>
<rect x="135.80" y="651.70" width="11.40" height="3.60" rx="1.80" fill="#000" opacity="0.04" filter="url(#b07)"/>
<rect x="148.60" y="651.70" width="11.40" height="3.60" rx="1.80" fill="#000" opacity="0.62" filter="url(#b07)"/>
<rect x="161.40" y="651.70" width="11.40" height="3.60" rx="1.80" fill="#000" opacity="0.52" filter="url(#b07)"/>
<line x1="175.60" y1="654.50" x2="182.60" y2="654.50" stroke="#000" stroke-width="1.2"/>
<text x="187.00" y="657.74" font-size="10.3">35</text>
<text x="20.50" y="674.14" font-size="10.3">IB: α-STING</text>
<rect x="92.90" y="664.90" width="82.30" height="13.60" fill="#dedede" filter="url(#b06)"/>
<rect x="96.50" y="670.10" width="13.00" height="3.60" rx="1.80" fill="#000" opacity="0.80" filter="url(#b07)"/>
<rect x="109.40" y="670.10" width="13.00" height="3.60" rx="1.80" fill="#000" opacity="0.80" filter="url(#b07)"/>
<rect x="122.20" y="670.10" width="13.00" height="3.60" rx="1.80" fill="#000" opacity="0.80" filter="url(#b07)"/>
<rect x="135.00" y="670.10" width="13.00" height="3.60" rx="1.80" fill="#000" opacity="0.80" filter="url(#b07)"/>
<rect x="147.80" y="670.10" width="13.00" height="3.60" rx="1.80" fill="#000" opacity="0.80" filter="url(#b07)"/>
<rect x="160.60" y="670.10" width="13.00" height="3.60" rx="1.80" fill="#000" opacity="0.80" filter="url(#b07)"/>
<line x1="175.60" y1="673.50" x2="182.60" y2="673.50" stroke="#000" stroke-width="1.2"/>
<text x="187.00" y="676.54" font-size="10.3">35</text>
<text x="20.50" y="692.64" font-size="10.3">IB: α-p-TBK1</text>
<rect x="92.90" y="683.80" width="82.30" height="13.60" fill="#d7d7d7" filter="url(#b06)"/>
<rect x="110.20" y="689.00" width="11.40" height="3.60" rx="1.80" fill="#000" opacity="0.92" filter="url(#b07)"/>
<rect x="123.00" y="689.00" width="11.40" height="3.60" rx="1.80" fill="#000" opacity="0.90" filter="url(#b07)"/>
<rect x="148.60" y="689.00" width="11.40" height="3.60" rx="1.80" fill="#000" opacity="0.60" filter="url(#b07)"/>
<rect x="161.40" y="689.00" width="11.40" height="3.60" rx="1.80" fill="#000" opacity="0.50" filter="url(#b07)"/>
<line x1="175.60" y1="693.50" x2="182.60" y2="693.50" stroke="#000" stroke-width="1.2"/>
<text x="187.00" y="697.34" font-size="10.3">70</text>
<text x="20.50" y="711.99" font-size="10.3">IB: α-TBK1</text>
<rect x="92.90" y="702.40" width="82.30" height="13.60" fill="#ebebeb" filter="url(#b06)"/>
<rect x="97.30" y="707.60" width="11.40" height="3.60" rx="1.80" fill="#000" opacity="0.95" filter="url(#b07)"/>
<rect x="110.20" y="707.60" width="11.40" height="3.60" rx="1.80" fill="#000" opacity="0.82" filter="url(#b07)"/>
<rect x="123.00" y="707.60" width="11.40" height="3.60" rx="1.80" fill="#000" opacity="0.78" filter="url(#b07)"/>
<rect x="135.80" y="707.60" width="11.40" height="3.60" rx="1.80" fill="#000" opacity="0.25" filter="url(#b07)"/>
<rect x="148.60" y="707.60" width="11.40" height="3.60" rx="1.80" fill="#000" opacity="0.20" filter="url(#b07)"/>
<rect x="161.40" y="707.60" width="11.40" height="3.60" rx="1.80" fill="#000" opacity="0.25" filter="url(#b07)"/>
<line x1="175.60" y1="710.50" x2="182.60" y2="710.50" stroke="#000" stroke-width="1.2"/>
<text x="187.00" y="714.14" font-size="10.3">70</text>
<text x="20.50" y="730.24" font-size="10.3">IB: α-p-IRF3</text>
<rect x="92.90" y="721.00" width="82.30" height="13.60" fill="#ebebeb" filter="url(#b06)"/>
<rect x="110.20" y="726.20" width="11.40" height="3.60" rx="1.80" fill="#000" opacity="0.95" filter="url(#b07)"/>
<rect x="123.00" y="726.20" width="11.40" height="3.60" rx="1.80" fill="#000" opacity="0.90" filter="url(#b07)"/>
<rect x="148.60" y="726.20" width="11.40" height="3.60" rx="1.80" fill="#000" opacity="0.68" filter="url(#b07)"/>
<rect x="161.40" y="726.20" width="11.40" height="3.60" rx="1.80" fill="#000" opacity="0.62" filter="url(#b07)"/>
<line x1="175.60" y1="729.50" x2="182.60" y2="729.50" stroke="#000" stroke-width="1.2"/>
<text x="187.00" y="732.54" font-size="10.3">45</text>
<text x="20.50" y="748.99" font-size="10.3">IB: α-IRF3</text>
<rect x="92.90" y="739.60" width="82.30" height="13.60" fill="#dadada" filter="url(#b06)"/>
<rect x="96.50" y="744.80" width="13.00" height="3.60" rx="1.80" fill="#000" opacity="0.85" filter="url(#b07)"/>
<rect x="109.40" y="744.80" width="13.00" height="3.60" rx="1.80" fill="#000" opacity="0.85" filter="url(#b07)"/>
<rect x="122.20" y="744.80" width="13.00" height="3.60" rx="1.80" fill="#000" opacity="0.85" filter="url(#b07)"/>
<rect x="135.00" y="744.80" width="13.00" height="3.60" rx="1.80" fill="#000" opacity="0.85" filter="url(#b07)"/>
<rect x="147.80" y="744.80" width="13.00" height="3.60" rx="1.80" fill="#000" opacity="0.85" filter="url(#b07)"/>
<rect x="160.60" y="744.80" width="13.00" height="3.60" rx="1.80" fill="#000" opacity="0.85" filter="url(#b07)"/>
<line x1="175.60" y1="748.50" x2="182.60" y2="748.50" stroke="#000" stroke-width="1.2"/>
<text x="187.00" y="752.04" font-size="10.3">45</text>
<text x="20.50" y="767.74" font-size="10.3">IB: α-p-p65</text>
<rect x="92.90" y="758.30" width="82.30" height="13.60" fill="#ececec" filter="url(#b06)"/>
<rect x="110.20" y="763.50" width="11.40" height="3.60" rx="1.80" fill="#000" opacity="0.90" filter="url(#b07)"/>
<rect x="123.00" y="763.50" width="11.40" height="3.60" rx="1.80" fill="#000" opacity="0.90" filter="url(#b07)"/>
<rect x="148.60" y="763.50" width="11.40" height="3.60" rx="1.80" fill="#000" opacity="0.55" filter="url(#b07)"/>
<rect x="161.40" y="763.50" width="11.40" height="3.60" rx="1.80" fill="#000" opacity="0.62" filter="url(#b07)"/>
<line x1="175.60" y1="768.50" x2="182.60" y2="768.50" stroke="#000" stroke-width="1.2"/>
<text x="187.00" y="772.24" font-size="10.3">65</text>
<text x="20.50" y="786.49" font-size="10.3">IB: α-p65</text>
<rect x="92.90" y="776.80" width="82.30" height="13.60" fill="#e6e6e6" filter="url(#b06)"/>
<rect x="97.30" y="782.00" width="11.40" height="3.60" rx="1.80" fill="#000" opacity="0.90" filter="url(#b07)"/>
<rect x="110.20" y="782.00" width="11.40" height="3.60" rx="1.80" fill="#000" opacity="0.85" filter="url(#b07)"/>
<rect x="123.00" y="782.00" width="11.40" height="3.60" rx="1.80" fill="#000" opacity="0.62" filter="url(#b07)"/>
<rect x="135.80" y="782.00" width="11.40" height="3.60" rx="1.80" fill="#000" opacity="0.68" filter="url(#b07)"/>
<rect x="148.60" y="782.00" width="11.40" height="3.60" rx="1.80" fill="#000" opacity="0.72" filter="url(#b07)"/>
<rect x="161.40" y="782.00" width="11.40" height="3.60" rx="1.80" fill="#000" opacity="0.72" filter="url(#b07)"/>
<line x1="175.60" y1="785.50" x2="182.60" y2="785.50" stroke="#000" stroke-width="1.2"/>
<text x="187.00" y="788.64" font-size="10.3">65</text>
<text x="20.50" y="804.49" font-size="10.3">IB: α-GAPDH</text>
<rect x="92.90" y="795.60" width="82.30" height="13.60" fill="#e0e0e0" filter="url(#b06)"/>
<rect x="96.50" y="800.80" width="13.00" height="3.60" rx="1.80" fill="#000" opacity="0.92" filter="url(#b07)"/>
<rect x="109.40" y="800.80" width="13.00" height="3.60" rx="1.80" fill="#000" opacity="0.92" filter="url(#b07)"/>
<rect x="122.20" y="800.80" width="13.00" height="3.60" rx="1.80" fill="#000" opacity="0.92" filter="url(#b07)"/>
<rect x="135.00" y="800.80" width="13.00" height="3.60" rx="1.80" fill="#000" opacity="0.92" filter="url(#b07)"/>
<rect x="147.80" y="800.80" width="13.00" height="3.60" rx="1.80" fill="#000" opacity="0.92" filter="url(#b07)"/>
<rect x="160.60" y="800.80" width="13.00" height="3.60" rx="1.80" fill="#000" opacity="0.92" filter="url(#b07)"/>
<line x1="175.60" y1="805.50" x2="182.60" y2="805.50" stroke="#000" stroke-width="1.2"/>
<text x="187.00" y="808.84" font-size="10.3">35</text>
<text x="10.50" y="727.80" font-size="10.3" text-anchor="middle" transform="rotate(-90 10.50 727.80)">SDS-PAGE</text>
<line x1="15.60" y1="648.50" x2="15.60" y2="806.20" stroke="#000" stroke-width="1.3"/>
<text x="233.90" y="551.00" font-size="16" font-weight="bold">j</text>
<text x="253.10" y="551.44" font-size="10.3">BMDMs</text>
<text x="347.10" y="551.44" font-size="10.3" text-anchor="middle">DMSO</text>
<text x="389.40" y="551.44" font-size="10.3" text-anchor="middle">2-BP</text>
<line x1="327.10" y1="558.20" x2="366.90" y2="558.20" stroke="#000" stroke-width="1.2"/>
<line x1="369.50" y1="558.20" x2="409.60" y2="558.20" stroke="#000" stroke-width="1.2"/>
<text x="253.10" y="575.04" font-size="10.3" textLength="37.0" lengthAdjust="spacing">RNA (h)</text>
<text x="334.10" y="577.24" font-size="10.3" text-anchor="middle">0</text>
<text x="347.60" y="577.24" font-size="10.3" text-anchor="middle">6</text>
<text x="362.00" y="577.24" font-size="10.3" text-anchor="middle">12</text>
<text x="375.20" y="577.24" font-size="10.3" text-anchor="middle">0</text>
<text x="388.40" y="577.24" font-size="10.3" text-anchor="middle">6</text>
<text x="402.30" y="577.24" font-size="10.3" text-anchor="middle">12</text>
<text x="420.20" y="577.74" font-size="10.3">kDa</text>
<text x="243.00" y="609.80" font-size="10.3" text-anchor="middle" transform="rotate(-90 243.00 609.80)">SDD-AGE</text>
<line x1="249.00" y1="579.50" x2="249.00" y2="637.50" stroke="#000" stroke-width="1.5"/>
<text x="254.30" y="599.74" font-size="10.3">IB: α-MAVS</text>
<rect x="327.00" y="588.80" width="80.60" height="43.80" fill="#eeeeee" filter="url(#b06)"/>
<rect x="329.20" y="591.00" width="13.20" height="40.00" rx="3.96" fill="url(#sm17)" filter="url(#b20)"/>
<rect x="342.30" y="591.00" width="13.20" height="40.00" rx="3.96" fill="url(#sm18)" filter="url(#b20)"/>
<rect x="355.10" y="591.00" width="13.20" height="40.00" rx="3.96" fill="url(#sm19)" filter="url(#b20)"/>
<rect x="367.70" y="591.00" width="13.20" height="40.00" rx="3.96" fill="url(#sm20)" filter="url(#b20)"/>
<rect x="380.30" y="591.00" width="13.20" height="40.00" rx="3.96" fill="url(#sm21)" filter="url(#b20)"/>
<rect x="393.10" y="591.00" width="13.20" height="40.00" rx="3.96" fill="url(#sm22)" filter="url(#b20)"/>
<rect x="330.30" y="595.00" width="11.00" height="14.00" rx="3.30" fill="url(#sm23)" filter="url(#b15)"/>
<rect x="343.40" y="592.00" width="11.00" height="20.00" rx="3.30" fill="url(#sm24)" filter="url(#b15)"/>
<rect x="356.20" y="593.00" width="11.00" height="13.00" rx="3.30" fill="url(#sm25)" filter="url(#b15)"/>
<rect x="368.80" y="597.00" width="11.00" height="8.00" rx="3.30" fill="url(#sm26)" filter="url(#b15)"/>
<rect x="381.40" y="598.00" width="11.00" height="8.00" rx="3.30" fill="url(#sm27)" filter="url(#b15)"/>
<rect x="394.20" y="598.00" width="11.00" height="7.00" rx="3.30" fill="url(#sm28)" filter="url(#b15)"/>
<rect x="331.30" y="626.30" width="9.00" height="1.80" rx="0.90" fill="#000" opacity="0.20" filter="url(#b08)"/>
<rect x="344.40" y="626.30" width="9.00" height="1.80" rx="0.90" fill="#000" opacity="0.20" filter="url(#b08)"/>
<rect x="357.20" y="626.30" width="9.00" height="1.80" rx="0.90" fill="#000" opacity="0.20" filter="url(#b08)"/>
<rect x="369.80" y="626.30" width="9.00" height="1.80" rx="0.90" fill="#000" opacity="0.20" filter="url(#b08)"/>
<rect x="382.40" y="626.30" width="9.00" height="1.80" rx="0.90" fill="#000" opacity="0.20" filter="url(#b08)"/>
<text x="420.70" y="610.20" font-size="10.3" text-anchor="middle" transform="rotate(-90 420.70 610.20)">MAVS</text>
<text x="433.00" y="610.60" font-size="10.3" text-anchor="middle" transform="rotate(-90 433.00 610.60)">aggregates</text>
<text x="254.30" y="655.74" font-size="10.3">IB: α-MAVS</text>
<rect x="327.00" y="646.90" width="80.60" height="13.60" fill="#d9d9d9" filter="url(#b06)"/>
<rect x="329.30" y="652.10" width="13.00" height="3.60" rx="1.80" fill="#000" opacity="0.85" filter="url(#b07)"/>
<rect x="342.40" y="652.10" width="13.00" height="3.60" rx="1.80" fill="#000" opacity="0.85" filter="url(#b07)"/>
<rect x="355.20" y="652.10" width="13.00" height="3.60" rx="1.80" fill="#000" opacity="0.85" filter="url(#b07)"/>
<rect x="367.80" y="652.10" width="13.00" height="3.60" rx="1.80" fill="#000" opacity="0.85" filter="url(#b07)"/>
<rect x="380.40" y="652.10" width="13.00" height="3.60" rx="1.80" fill="#000" opacity="0.85" filter="url(#b07)"/>
<rect x="393.20" y="652.10" width="13.00" height="3.60" rx="1.80" fill="#000" opacity="0.85" filter="url(#b07)"/>
<line x1="409.30" y1="654.50" x2="416.00" y2="654.50" stroke="#000" stroke-width="1.2"/>
<text x="420.20" y="658.04" font-size="10.3">70</text>
<text x="254.30" y="673.99" font-size="10.3">IB: α-p-TBK1</text>
<rect x="327.00" y="665.50" width="80.60" height="13.60" fill="#f2f2f2" filter="url(#b06)"/>
<rect x="330.10" y="670.70" width="11.40" height="3.60" rx="1.80" fill="#000" opacity="0.04" filter="url(#b07)"/>
<rect x="343.20" y="670.70" width="11.40" height="3.60" rx="1.80" fill="#000" opacity="0.95" filter="url(#b07)"/>
<rect x="356.00" y="670.70" width="11.40" height="3.60" rx="1.80" fill="#000" opacity="0.85" filter="url(#b07)"/>
<rect x="381.20" y="670.70" width="11.40" height="3.60" rx="1.80" fill="#000" opacity="0.60" filter="url(#b07)"/>
<rect x="394.00" y="670.70" width="11.40" height="3.60" rx="1.80" fill="#000" opacity="0.68" filter="url(#b07)"/>
<line x1="409.30" y1="674.50" x2="416.00" y2="674.50" stroke="#000" stroke-width="1.2"/>
<text x="420.20" y="678.14" font-size="10.3">70</text>
<text x="254.30" y="692.74" font-size="10.3">IB: α-TBK1</text>
<rect x="327.00" y="683.60" width="80.60" height="13.60" fill="#e0e0e0" filter="url(#b06)"/>
<rect x="330.10" y="688.80" width="11.40" height="3.60" rx="1.80" fill="#000" opacity="0.95" filter="url(#b07)"/>
<rect x="343.20" y="688.80" width="11.40" height="3.60" rx="1.80" fill="#000" opacity="0.95" filter="url(#b07)"/>
<rect x="356.00" y="688.80" width="11.40" height="3.60" rx="1.80" fill="#000" opacity="0.80" filter="url(#b07)"/>
<rect x="368.60" y="688.80" width="11.40" height="3.60" rx="1.80" fill="#000" opacity="0.40" filter="url(#b07)"/>
<rect x="381.20" y="688.80" width="11.40" height="3.60" rx="1.80" fill="#000" opacity="0.35" filter="url(#b07)"/>
<rect x="394.00" y="688.80" width="11.40" height="3.60" rx="1.80" fill="#000" opacity="0.30" filter="url(#b07)"/>
<line x1="409.30" y1="693.50" x2="416.00" y2="693.50" stroke="#000" stroke-width="1.2"/>
<text x="420.20" y="697.04" font-size="10.3">70</text>
<text x="254.30" y="711.99" font-size="10.3">IB: α-p-IRF3</text>
<rect x="327.00" y="702.50" width="80.60" height="13.60" fill="#f0f0f0" filter="url(#b06)"/>
<rect x="343.20" y="707.70" width="11.40" height="3.60" rx="1.80" fill="#000" opacity="0.90" filter="url(#b07)"/>
<rect x="356.00" y="707.70" width="11.40" height="3.60" rx="1.80" fill="#000" opacity="0.85" filter="url(#b07)"/>
<rect x="368.60" y="707.70" width="11.40" height="3.60" rx="1.80" fill="#000" opacity="0.10" filter="url(#b07)"/>
<rect x="381.20" y="707.70" width="11.40" height="3.60" rx="1.80" fill="#000" opacity="0.70" filter="url(#b07)"/>
<rect x="394.00" y="707.70" width="11.40" height="3.60" rx="1.80" fill="#000" opacity="0.70" filter="url(#b07)"/>
<line x1="409.30" y1="710.50" x2="416.00" y2="710.50" stroke="#000" stroke-width="1.2"/>
<text x="420.20" y="714.44" font-size="10.3">45</text>
<text x="254.30" y="730.24" font-size="10.3">IB: α-IRF3</text>
<rect x="327.00" y="722.00" width="80.60" height="13.60" fill="#e0e0e0" filter="url(#b06)"/>
<rect x="329.30" y="727.20" width="13.00" height="3.60" rx="1.80" fill="#000" opacity="0.85" filter="url(#b07)"/>
<rect x="342.40" y="727.20" width="13.00" height="3.60" rx="1.80" fill="#000" opacity="0.85" filter="url(#b07)"/>
<rect x="355.20" y="727.20" width="13.00" height="3.60" rx="1.80" fill="#000" opacity="0.85" filter="url(#b07)"/>
<rect x="367.80" y="727.20" width="13.00" height="3.60" rx="1.80" fill="#000" opacity="0.85" filter="url(#b07)"/>
<rect x="380.40" y="727.20" width="13.00" height="3.60" rx="1.80" fill="#000" opacity="0.85" filter="url(#b07)"/>
<rect x="393.20" y="727.20" width="13.00" height="3.60" rx="1.80" fill="#000" opacity="0.85" filter="url(#b07)"/>
<line x1="409.30" y1="729.50" x2="416.00" y2="729.50" stroke="#000" stroke-width="1.2"/>
<text x="420.20" y="732.94" font-size="10.3">45</text>
<text x="254.30" y="748.99" font-size="10.3">IB: α-p-p65</text>
<rect x="327.00" y="741.60" width="80.60" height="13.60" fill="#e4e4e4" filter="url(#b06)"/>
<rect x="330.10" y="746.80" width="11.40" height="3.60" rx="1.80" fill="#000" opacity="0.10" filter="url(#b07)"/>
<rect x="343.20" y="746.80" width="11.40" height="3.60" rx="1.80" fill="#000" opacity="0.70" filter="url(#b07)"/>
<rect x="356.00" y="746.80" width="11.40" height="3.60" rx="1.80" fill="#000" opacity="0.95" filter="url(#b07)"/>
<rect x="368.60" y="746.80" width="11.40" height="3.60" rx="1.80" fill="#000" opacity="0.12" filter="url(#b07)"/>
<rect x="381.20" y="746.80" width="11.40" height="3.60" rx="1.80" fill="#000" opacity="0.10" filter="url(#b07)"/>
<rect x="394.00" y="746.80" width="11.40" height="3.60" rx="1.80" fill="#000" opacity="0.16" filter="url(#b07)"/>
<line x1="409.30" y1="750.50" x2="416.00" y2="750.50" stroke="#000" stroke-width="1.2"/>
<text x="420.20" y="754.04" font-size="10.3">65</text>
<text x="254.30" y="767.74" font-size="10.3">IB: α-p65</text>
<rect x="327.00" y="759.30" width="80.60" height="13.60" fill="#ececec" filter="url(#b06)"/>
<rect x="330.10" y="764.50" width="11.40" height="3.60" rx="1.80" fill="#000" opacity="0.95" filter="url(#b07)"/>
<rect x="343.20" y="764.50" width="11.40" height="3.60" rx="1.80" fill="#000" opacity="0.85" filter="url(#b07)"/>
<rect x="356.00" y="764.50" width="11.40" height="3.60" rx="1.80" fill="#000" opacity="0.60" filter="url(#b07)"/>
<rect x="368.60" y="764.50" width="11.40" height="3.60" rx="1.80" fill="#000" opacity="0.90" filter="url(#b07)"/>
<rect x="381.20" y="764.50" width="11.40" height="3.60" rx="1.80" fill="#000" opacity="0.85" filter="url(#b07)"/>
<rect x="394.00" y="764.50" width="11.40" height="3.60" rx="1.80" fill="#000" opacity="0.90" filter="url(#b07)"/>
<line x1="409.30" y1="766.50" x2="416.00" y2="766.50" stroke="#000" stroke-width="1.2"/>
<text x="420.20" y="770.14" font-size="10.3">65</text>
<text x="254.30" y="786.49" font-size="10.3">IB: α-GAPDH</text>
<rect x="327.00" y="778.10" width="80.60" height="13.60" fill="#e0e0e0" filter="url(#b06)"/>
<rect x="329.30" y="783.30" width="13.00" height="3.60" rx="1.80" fill="#000" opacity="0.90" filter="url(#b07)"/>
<rect x="342.40" y="783.30" width="13.00" height="3.60" rx="1.80" fill="#000" opacity="0.90" filter="url(#b07)"/>
<rect x="355.20" y="783.30" width="13.00" height="3.60" rx="1.80" fill="#000" opacity="0.90" filter="url(#b07)"/>
<rect x="367.80" y="783.30" width="13.00" height="3.60" rx="1.80" fill="#000" opacity="0.90" filter="url(#b07)"/>
<rect x="380.40" y="783.30" width="13.00" height="3.60" rx="1.80" fill="#000" opacity="0.90" filter="url(#b07)"/>
<rect x="393.20" y="783.30" width="13.00" height="3.60" rx="1.80" fill="#000" opacity="0.90" filter="url(#b07)"/>
<line x1="409.30" y1="786.50" x2="416.00" y2="786.50" stroke="#000" stroke-width="1.2"/>
<text x="420.20" y="790.34" font-size="10.3">35</text>
<rect x="344.40" y="665.5" width="9" height="5" fill="#000" opacity="0.12" filter="url(#b08)"/>
<rect x="357.20" y="665.5" width="9" height="5" fill="#000" opacity="0.12" filter="url(#b08)"/>
<text x="243.00" y="718.80" font-size="10.3" text-anchor="middle" transform="rotate(-90 243.00 718.80)">SDS-PAGE</text>
<line x1="249.00" y1="648.50" x2="249.00" y2="788.00" stroke="#000" stroke-width="1.5"/>
<text x="473.00" y="551.40" font-size="16" font-weight="bold">k</text>
<text x="492.80" y="551.34" font-size="10.3">BMDMs</text>
<text x="587.10" y="551.34" font-size="10.3" text-anchor="middle">DMSO</text>
<text x="629.40" y="551.34" font-size="10.3" text-anchor="middle">2-BP</text>
<line x1="566.20" y1="554.90" x2="606.90" y2="554.90" stroke="#000" stroke-width="1.2"/>
<line x1="609.50" y1="554.90" x2="649.60" y2="554.90" stroke="#000" stroke-width="1.2"/>
<text x="492.40" y="570.04" font-size="10.3" textLength="34.6" lengthAdjust="spacing">N67 (h)</text>
<text x="574.00" y="572.24" font-size="10.3" text-anchor="middle">0</text>
<text x="587.20" y="572.24" font-size="10.3" text-anchor="middle">6</text>
<text x="601.80" y="572.24" font-size="10.3" text-anchor="middle">12</text>
<text x="614.90" y="572.24" font-size="10.3" text-anchor="middle">0</text>
<text x="628.10" y="572.24" font-size="10.3" text-anchor="middle">6</text>
<text x="642.20" y="572.24" font-size="10.3" text-anchor="middle">12</text>
<text x="659.60" y="572.44" font-size="10.3">kDa</text>
<text x="483.10" y="610.00" font-size="10.3" text-anchor="middle" transform="rotate(-90 483.10 610.00)">SDD-AGE</text>
<line x1="489.00" y1="579.20" x2="489.00" y2="645.20" stroke="#000" stroke-width="1.5"/>
<text x="493.90" y="589.24" font-size="10.3">IB: α-MAVS</text>
<text x="493.90" y="626.34" font-size="10.3">IB: α-STING</text>
<rect x="567.00" y="577.00" width="80.60" height="32.40" fill="#efefef" filter="url(#b06)"/>
<rect x="569.20" y="578.50" width="13.20" height="29.50" rx="3.96" fill="url(#sm29)" filter="url(#b15)"/>
<rect x="582.00" y="578.50" width="13.20" height="30.50" rx="3.96" fill="url(#sm30)" filter="url(#b15)"/>
<rect x="594.80" y="578.50" width="13.20" height="28.50" rx="3.96" fill="url(#sm31)" filter="url(#b15)"/>
<rect x="607.60" y="578.50" width="13.20" height="28.50" rx="3.96" fill="url(#sm32)" filter="url(#b15)"/>
<rect x="620.40" y="578.50" width="13.20" height="28.50" rx="3.96" fill="url(#sm33)" filter="url(#b15)"/>
<rect x="633.20" y="578.50" width="13.20" height="21.50" rx="3.96" fill="url(#sm34)" filter="url(#b15)"/>
<rect x="567.00" y="615.90" width="80.60" height="31.20" fill="#efefef" filter="url(#b06)"/>
<rect x="569.20" y="617.00" width="13.20" height="29.50" rx="3.96" fill="url(#sm35)" filter="url(#b15)"/>
<rect x="582.00" y="617.00" width="13.20" height="29.50" rx="3.96" fill="url(#sm36)" filter="url(#b15)"/>
<rect x="594.80" y="617.00" width="13.20" height="29.50" rx="3.96" fill="url(#sm37)" filter="url(#b15)"/>
<rect x="607.60" y="617.00" width="13.20" height="29.50" rx="3.96" fill="url(#sm38)" filter="url(#b15)"/>
<rect x="620.40" y="617.00" width="13.20" height="29.50" rx="3.96" fill="url(#sm39)" filter="url(#b15)"/>
<rect x="633.20" y="617.00" width="13.20" height="29.50" rx="3.96" fill="url(#sm40)" filter="url(#b15)"/>
<circle cx="627.00" cy="627.50" r="2.50" fill="#000" opacity="0.35" filter="url(#b10)"/>
<text x="663.40" y="612.50" font-size="10.3" text-anchor="middle" transform="rotate(-90 663.40 612.50)">aggregates</text>
<text x="493.90" y="667.84" font-size="10.3">IB: α-MAVS</text>
<rect x="567.00" y="657.60" width="80.60" height="13.60" fill="#e0e0e0" filter="url(#b06)"/>
<rect x="569.30" y="662.80" width="13.00" height="3.60" rx="1.80" fill="#000" opacity="0.85" filter="url(#b07)"/>
<rect x="582.10" y="662.80" width="13.00" height="3.60" rx="1.80" fill="#000" opacity="0.85" filter="url(#b07)"/>
<rect x="594.90" y="662.80" width="13.00" height="3.60" rx="1.80" fill="#000" opacity="0.85" filter="url(#b07)"/>
<rect x="607.70" y="662.80" width="13.00" height="3.60" rx="1.80" fill="#000" opacity="0.85" filter="url(#b07)"/>
<rect x="620.50" y="662.80" width="13.00" height="3.60" rx="1.80" fill="#000" opacity="0.85" filter="url(#b07)"/>
<rect x="633.30" y="662.80" width="13.00" height="3.60" rx="1.80" fill="#000" opacity="0.85" filter="url(#b07)"/>
<line x1="649.30" y1="664.50" x2="656.00" y2="664.50" stroke="#000" stroke-width="1.2"/>
<text x="660.20" y="668.14" font-size="10.3">70</text>
<text x="493.90" y="686.14" font-size="10.3">IB: α-p-STING</text>
<rect x="567.00" y="674.80" width="80.60" height="13.60" fill="#efefef" filter="url(#b06)"/>
<rect x="582.90" y="680.00" width="11.40" height="3.60" rx="1.80" fill="#000" opacity="0.95" filter="url(#b07)"/>
<rect x="595.70" y="680.00" width="11.40" height="3.60" rx="1.80" fill="#000" opacity="1.00" filter="url(#b07)"/>
<rect x="621.30" y="680.00" width="11.40" height="3.60" rx="1.80" fill="#000" opacity="0.60" filter="url(#b07)"/>
<rect x="634.10" y="680.00" width="11.40" height="3.60" rx="1.80" fill="#000" opacity="0.65" filter="url(#b07)"/>
<line x1="649.30" y1="683.50" x2="656.00" y2="683.50" stroke="#000" stroke-width="1.2"/>
<text x="660.20" y="686.54" font-size="10.3">35</text>
<text x="493.90" y="704.94" font-size="10.3">IB: α-STING</text>
<rect x="567.00" y="694.60" width="80.60" height="13.60" fill="#e0e0e0" filter="url(#b06)"/>
<rect x="569.30" y="699.80" width="13.00" height="3.60" rx="1.80" fill="#000" opacity="0.85" filter="url(#b07)"/>
<rect x="582.10" y="699.80" width="13.00" height="3.60" rx="1.80" fill="#000" opacity="0.85" filter="url(#b07)"/>
<rect x="594.90" y="699.80" width="13.00" height="3.60" rx="1.80" fill="#000" opacity="0.85" filter="url(#b07)"/>
<rect x="607.70" y="699.80" width="13.00" height="3.60" rx="1.80" fill="#000" opacity="0.85" filter="url(#b07)"/>
<rect x="620.50" y="699.80" width="13.00" height="3.60" rx="1.80" fill="#000" opacity="0.85" filter="url(#b07)"/>
<rect x="633.30" y="699.80" width="13.00" height="3.60" rx="1.80" fill="#000" opacity="0.85" filter="url(#b07)"/>
<line x1="649.30" y1="702.50" x2="656.00" y2="702.50" stroke="#000" stroke-width="1.2"/>
<text x="660.20" y="706.34" font-size="10.3">35</text>
<text x="493.90" y="723.74" font-size="10.3">IB: α-p-TBK1</text>
<rect x="567.00" y="713.60" width="80.60" height="13.60" fill="#f0f0f0" filter="url(#b06)"/>
<rect x="582.90" y="718.80" width="11.40" height="3.60" rx="1.80" fill="#000" opacity="0.90" filter="url(#b07)"/>
<rect x="595.70" y="718.80" width="11.40" height="3.60" rx="1.80" fill="#000" opacity="0.85" filter="url(#b07)"/>
<rect x="621.30" y="718.80" width="11.40" height="3.60" rx="1.80" fill="#000" opacity="0.65" filter="url(#b07)"/>
<rect x="634.10" y="718.80" width="11.40" height="3.60" rx="1.80" fill="#000" opacity="0.60" filter="url(#b07)"/>
<line x1="649.30" y1="722.50" x2="656.00" y2="722.50" stroke="#000" stroke-width="1.2"/>
<text x="660.20" y="725.54" font-size="10.3">70</text>
<text x="493.90" y="742.34" font-size="10.3">IB: α-TBK1</text>
<rect x="567.00" y="731.80" width="80.60" height="13.60" fill="#e4e4e4" filter="url(#b06)"/>
<rect x="570.10" y="737.00" width="11.40" height="3.60" rx="1.80" fill="#000" opacity="0.95" filter="url(#b07)"/>
<rect x="582.90" y="737.00" width="11.40" height="3.60" rx="1.80" fill="#000" opacity="0.90" filter="url(#b07)"/>
<rect x="595.70" y="737.00" width="11.40" height="3.60" rx="1.80" fill="#000" opacity="0.90" filter="url(#b07)"/>
<rect x="608.50" y="737.00" width="11.40" height="3.60" rx="1.80" fill="#000" opacity="0.75" filter="url(#b07)"/>
<rect x="621.30" y="737.00" width="11.40" height="3.60" rx="1.80" fill="#000" opacity="0.60" filter="url(#b07)"/>
<rect x="634.10" y="737.00" width="11.40" height="3.60" rx="1.80" fill="#000" opacity="0.45" filter="url(#b07)"/>
<line x1="649.30" y1="739.50" x2="656.00" y2="739.50" stroke="#000" stroke-width="1.2"/>
<text x="660.20" y="743.34" font-size="10.3">70</text>
<text x="493.90" y="761.14" font-size="10.3">IB: α-p-IRF3</text>
<rect x="567.00" y="749.60" width="80.60" height="13.60" fill="#dcdcdc" filter="url(#b06)"/>
<rect x="582.90" y="754.80" width="11.40" height="3.60" rx="1.80" fill="#000" opacity="0.95" filter="url(#b07)"/>
<rect x="595.70" y="754.80" width="11.40" height="3.60" rx="1.80" fill="#000" opacity="0.85" filter="url(#b07)"/>
<rect x="621.30" y="754.80" width="11.40" height="3.60" rx="1.80" fill="#000" opacity="0.50" filter="url(#b07)"/>
<rect x="634.10" y="754.80" width="11.40" height="3.60" rx="1.80" fill="#000" opacity="0.55" filter="url(#b07)"/>
<line x1="649.30" y1="759.50" x2="656.00" y2="759.50" stroke="#000" stroke-width="1.2"/>
<text x="660.20" y="763.14" font-size="10.3">45</text>
<text x="493.90" y="779.44" font-size="10.3">IB: α-IRF3</text>
<rect x="567.00" y="768.60" width="80.60" height="13.60" fill="#e8e8e8" filter="url(#b06)"/>
<rect x="569.30" y="773.80" width="13.00" height="3.60" rx="1.80" fill="#000" opacity="0.90" filter="url(#b07)"/>
<rect x="582.10" y="773.80" width="13.00" height="3.60" rx="1.80" fill="#000" opacity="0.90" filter="url(#b07)"/>
<rect x="594.90" y="773.80" width="13.00" height="3.60" rx="1.80" fill="#000" opacity="0.90" filter="url(#b07)"/>
<rect x="607.70" y="773.80" width="13.00" height="3.60" rx="1.80" fill="#000" opacity="0.90" filter="url(#b07)"/>
<rect x="620.50" y="773.80" width="13.00" height="3.60" rx="1.80" fill="#000" opacity="0.90" filter="url(#b07)"/>
<rect x="633.30" y="773.80" width="13.00" height="3.60" rx="1.80" fill="#000" opacity="0.90" filter="url(#b07)"/>
<line x1="649.30" y1="779.50" x2="656.00" y2="779.50" stroke="#000" stroke-width="1.2"/>
<text x="660.20" y="783.24" font-size="10.3">45</text>
<text x="493.90" y="798.24" font-size="10.3">IB: α-p-p65</text>
<rect x="567.00" y="788.00" width="80.60" height="13.60" fill="#f0f0f0" filter="url(#b06)"/>
<rect x="570.10" y="793.20" width="11.40" height="3.60" rx="1.80" fill="#000" opacity="0.05" filter="url(#b07)"/>
<rect x="582.90" y="793.20" width="11.40" height="3.60" rx="1.80" fill="#000" opacity="1.00" filter="url(#b07)"/>
<rect x="595.70" y="793.20" width="11.40" height="3.60" rx="1.80" fill="#000" opacity="0.90" filter="url(#b07)"/>
<rect x="608.50" y="793.20" width="11.40" height="3.60" rx="1.80" fill="#000" opacity="0.15" filter="url(#b07)"/>
<rect x="621.30" y="793.20" width="11.40" height="3.60" rx="1.80" fill="#000" opacity="0.30" filter="url(#b07)"/>
<rect x="634.10" y="793.20" width="11.40" height="3.60" rx="1.80" fill="#000" opacity="0.45" filter="url(#b07)"/>
<line x1="649.30" y1="798.50" x2="656.00" y2="798.50" stroke="#000" stroke-width="1.2"/>
<text x="660.20" y="801.74" font-size="10.3">65</text>
<text x="493.90" y="816.84" font-size="10.3">IB: α-p65</text>
<rect x="567.00" y="806.60" width="80.60" height="13.60" fill="#e0e0e0" filter="url(#b06)"/>
<rect x="569.30" y="811.80" width="13.00" height="3.60" rx="1.80" fill="#000" opacity="0.80" filter="url(#b07)"/>
<rect x="582.10" y="811.80" width="13.00" height="3.60" rx="1.80" fill="#000" opacity="0.80" filter="url(#b07)"/>
<rect x="594.90" y="811.80" width="13.00" height="3.60" rx="1.80" fill="#000" opacity="0.80" filter="url(#b07)"/>
<rect x="607.70" y="811.80" width="13.00" height="3.60" rx="1.80" fill="#000" opacity="0.80" filter="url(#b07)"/>
<rect x="620.50" y="811.80" width="13.00" height="3.60" rx="1.80" fill="#000" opacity="0.80" filter="url(#b07)"/>
<rect x="633.30" y="811.80" width="13.00" height="3.60" rx="1.80" fill="#000" opacity="0.80" filter="url(#b07)"/>
<line x1="649.30" y1="814.50" x2="656.00" y2="814.50" stroke="#000" stroke-width="1.2"/>
<text x="660.20" y="817.84" font-size="10.3">65</text>
<text x="493.90" y="835.54" font-size="10.3">IB: α-GAPDH</text>
<rect x="567.00" y="825.60" width="80.60" height="13.60" fill="#ececec" filter="url(#b06)"/>
<rect x="569.30" y="830.80" width="13.00" height="3.60" rx="1.80" fill="#000" opacity="0.90" filter="url(#b07)"/>
<rect x="582.10" y="830.80" width="13.00" height="3.60" rx="1.80" fill="#000" opacity="0.90" filter="url(#b07)"/>
<rect x="594.90" y="830.80" width="13.00" height="3.60" rx="1.80" fill="#000" opacity="0.90" filter="url(#b07)"/>
<rect x="607.70" y="830.80" width="13.00" height="3.60" rx="1.80" fill="#000" opacity="0.90" filter="url(#b07)"/>
<rect x="620.50" y="830.80" width="13.00" height="3.60" rx="1.80" fill="#000" opacity="0.90" filter="url(#b07)"/>
<rect x="633.30" y="830.80" width="13.00" height="3.60" rx="1.80" fill="#000" opacity="0.90" filter="url(#b07)"/>
<line x1="649.30" y1="834.50" x2="656.00" y2="834.50" stroke="#000" stroke-width="1.2"/>
<text x="660.20" y="838.04" font-size="10.3">35</text>
<text x="483.10" y="751.00" font-size="10.3" text-anchor="middle" transform="rotate(-90 483.10 751.00)">SDS-PAGE</text>
<line x1="489.00" y1="657.90" x2="489.00" y2="837.40" stroke="#000" stroke-width="1.5"/>
<text x="-0.10" y="854.60" font-size="16" font-weight="bold">l</text>
<text x="16.10" y="857.50" font-size="10.3">BMDMs</text>
<line x1="56.50" y1="869.20" x2="56.50" y2="944.20" stroke="#000" stroke-width="1.2"/>
<line x1="55.90" y1="943.60" x2="158.40" y2="943.60" stroke="#000" stroke-width="1.2"/>
<line x1="53.10" y1="943.60" x2="56.50" y2="943.60" stroke="#000" stroke-width="1.1"/>
<text x="52.50" y="947.04" font-size="10.0" text-anchor="end" letter-spacing="-0.15">0</text>
<line x1="53.10" y1="919.00" x2="56.50" y2="919.00" stroke="#000" stroke-width="1.1"/>
<text x="52.50" y="922.44" font-size="10.0" text-anchor="end" letter-spacing="-0.15">100</text>
<line x1="53.10" y1="894.40" x2="56.50" y2="894.40" stroke="#000" stroke-width="1.1"/>
<text x="52.50" y="897.84" font-size="10.0" text-anchor="end" letter-spacing="-0.15">200</text>
<line x1="53.10" y1="869.80" x2="56.50" y2="869.80" stroke="#000" stroke-width="1.1"/>
<text x="52.50" y="873.24" font-size="10.0" text-anchor="end" letter-spacing="-0.15">300</text>
<line x1="71.60" y1="943.60" x2="71.60" y2="946.60" stroke="#000" stroke-width="1.1"/>
<line x1="106.50" y1="943.60" x2="106.50" y2="946.60" stroke="#000" stroke-width="1.1"/>
<line x1="142.20" y1="943.60" x2="142.20" y2="946.60" stroke="#000" stroke-width="1.1"/>
<rect x="61.60" y="942.86" width="8.00" height="0.74" fill="#9ccbe0" stroke="#000" stroke-width="1"/>
<circle cx="63.40" cy="943.26" r="1.50" fill="#fff" stroke="#000" stroke-width="0.8"/>
<circle cx="65.60" cy="942.26" r="1.50" fill="#fff" stroke="#000" stroke-width="0.8"/>
<circle cx="67.80" cy="943.06" r="1.50" fill="#fff" stroke="#000" stroke-width="0.8"/>
<rect x="73.60" y="943.11" width="8.00" height="0.49" fill="#2e4b8b" stroke="#000" stroke-width="1"/>
<path d="M75.40,941.71 L77.10,944.61 L73.70,944.61 Z" fill="#fff" stroke="#000" stroke-width="0.8"/>
<path d="M77.60,940.71 L79.30,943.61 L75.90,943.61 Z" fill="#fff" stroke="#000" stroke-width="0.8"/>
<path d="M79.80,941.51 L81.50,944.41 L78.10,944.41 Z" fill="#fff" stroke="#000" stroke-width="0.8"/>
<rect x="96.30" y="912.36" width="8.00" height="31.24" fill="#9ccbe0" stroke="#000" stroke-width="1"/>
<circle cx="98.10" cy="912.76" r="1.50" fill="#fff" stroke="#000" stroke-width="0.8"/>
<circle cx="100.30" cy="911.76" r="1.50" fill="#fff" stroke="#000" stroke-width="0.8"/>
<circle cx="102.50" cy="912.56" r="1.50" fill="#fff" stroke="#000" stroke-width="0.8"/>
<rect x="109.40" y="923.43" width="8.20" height="20.17" fill="#2e4b8b" stroke="#000" stroke-width="1"/>
<path d="M111.30,922.03 L113.00,924.93 L109.60,924.93 Z" fill="#fff" stroke="#000" stroke-width="0.8"/>
<path d="M113.50,921.03 L115.20,923.93 L111.80,923.93 Z" fill="#fff" stroke="#000" stroke-width="0.8"/>
<path d="M115.70,921.83 L117.40,924.73 L114.00,924.73 Z" fill="#fff" stroke="#000" stroke-width="0.8"/>
<rect x="131.40" y="897.35" width="8.20" height="46.25" fill="#9ccbe0" stroke="#000" stroke-width="1"/>
<circle cx="133.30" cy="897.75" r="1.50" fill="#fff" stroke="#000" stroke-width="0.8"/>
<circle cx="135.50" cy="896.75" r="1.50" fill="#fff" stroke="#000" stroke-width="0.8"/>
<circle cx="137.70" cy="897.55" r="1.50" fill="#fff" stroke="#000" stroke-width="0.8"/>
<rect x="144.50" y="918.26" width="8.10" height="25.34" fill="#2e4b8b" stroke="#000" stroke-width="1"/>
<path d="M146.35,916.86 L148.05,919.76 L144.65,919.76 Z" fill="#fff" stroke="#000" stroke-width="0.8"/>
<path d="M148.55,915.86 L150.25,918.76 L146.85,918.76 Z" fill="#fff" stroke="#000" stroke-width="0.8"/>
<path d="M150.75,916.66 L152.45,919.56 L149.05,919.56 Z" fill="#fff" stroke="#000" stroke-width="0.8"/>
<text x="108.50" y="902.00" font-size="7.5" text-anchor="middle" fill="#222"><tspan font-style="italic">P</tspan>&lt;0.0001</text>
<line x1="100.70" y1="905.00" x2="117.10" y2="905.00" stroke="#777" stroke-width="0.9"/>
<text x="141.70" y="888.40" font-size="7.5" text-anchor="middle" fill="#222"><tspan font-style="italic">P</tspan>&lt;0.0001</text>
<line x1="133.90" y1="892.30" x2="149.80" y2="892.30" stroke="#777" stroke-width="0.9"/>
<text x="30.10" y="904.6" font-size="10.3" text-anchor="middle" transform="rotate(-90 30.10 904.6)"><tspan font-style="italic">Ifnb</tspan> mRNA (fold)</text>
<circle cx="66.00" cy="868.90" r="2.50" fill="#9ccbe0"/>
<path d="M66.00,879.50 L68.80,884.40 L63.20,884.40 Z" fill="#2e4b8b"/>
<text x="73.80" y="872.44" font-size="10.3">DMSO</text>
<text x="73.80" y="885.74" font-size="10.3">2-BP</text>
<text x="16.00" y="959.04" font-size="10.3">gDNA (h)</text>
<text x="71.60" y="959.04" font-size="10.3" text-anchor="middle">0</text>
<text x="106.50" y="959.04" font-size="10.3" text-anchor="middle">6</text>
<text x="142.20" y="959.04" font-size="10.3" text-anchor="middle">12</text>
<line x1="229.30" y1="869.20" x2="229.30" y2="944.20" stroke="#000" stroke-width="1.2"/>
<line x1="228.70" y1="943.60" x2="331.70" y2="943.60" stroke="#000" stroke-width="1.2"/>
<line x1="225.90" y1="943.60" x2="229.30" y2="943.60" stroke="#000" stroke-width="1.1"/>
<text x="225.30" y="947.04" font-size="10.0" text-anchor="end" letter-spacing="-0.15">0</text>
<line x1="225.90" y1="928.84" x2="229.30" y2="928.84" stroke="#000" stroke-width="1.1"/>
<text x="225.30" y="932.28" font-size="10.0" text-anchor="end" letter-spacing="-0.15">25</text>
<line x1="225.90" y1="914.08" x2="229.30" y2="914.08" stroke="#000" stroke-width="1.1"/>
<text x="225.30" y="917.52" font-size="10.0" text-anchor="end" letter-spacing="-0.15">50</text>
<line x1="225.90" y1="899.32" x2="229.30" y2="899.32" stroke="#000" stroke-width="1.1"/>
<text x="225.30" y="902.76" font-size="10.0" text-anchor="end" letter-spacing="-0.15">75</text>
<line x1="225.90" y1="884.56" x2="229.30" y2="884.56" stroke="#000" stroke-width="1.1"/>
<text x="225.30" y="888.00" font-size="10.0" text-anchor="end" letter-spacing="-0.15">100</text>
<line x1="225.90" y1="869.80" x2="229.30" y2="869.80" stroke="#000" stroke-width="1.1"/>
<text x="225.30" y="873.24" font-size="10.0" text-anchor="end" letter-spacing="-0.15">125</text>
<line x1="244.80" y1="943.60" x2="244.80" y2="946.60" stroke="#000" stroke-width="1.1"/>
<line x1="279.20" y1="943.60" x2="279.20" y2="946.60" stroke="#000" stroke-width="1.1"/>
<line x1="314.20" y1="943.60" x2="314.20" y2="946.60" stroke="#000" stroke-width="1.1"/>
<rect x="233.90" y="942.12" width="8.00" height="1.48" fill="#9ccbe0" stroke="#000" stroke-width="1"/>
<circle cx="235.70" cy="942.52" r="1.50" fill="#fff" stroke="#000" stroke-width="0.8"/>
<circle cx="237.90" cy="941.52" r="1.50" fill="#fff" stroke="#000" stroke-width="0.8"/>
<circle cx="240.10" cy="942.32" r="1.50" fill="#fff" stroke="#000" stroke-width="0.8"/>
<rect x="246.70" y="942.42" width="8.00" height="1.18" fill="#2e4b8b" stroke="#000" stroke-width="1"/>
<path d="M248.50,941.02 L250.20,943.92 L246.80,943.92 Z" fill="#fff" stroke="#000" stroke-width="0.8"/>
<path d="M250.70,940.02 L252.40,942.92 L249.00,942.92 Z" fill="#fff" stroke="#000" stroke-width="0.8"/>
<path d="M252.90,940.82 L254.60,943.72 L251.20,943.72 Z" fill="#fff" stroke="#000" stroke-width="0.8"/>
<rect x="269.30" y="912.90" width="8.10" height="30.70" fill="#9ccbe0" stroke="#000" stroke-width="1"/>
<circle cx="271.15" cy="913.30" r="1.50" fill="#fff" stroke="#000" stroke-width="0.8"/>
<circle cx="273.35" cy="912.30" r="1.50" fill="#fff" stroke="#000" stroke-width="0.8"/>
<circle cx="275.55" cy="913.10" r="1.50" fill="#fff" stroke="#000" stroke-width="0.8"/>
<rect x="282.30" y="931.20" width="8.10" height="12.40" fill="#2e4b8b" stroke="#000" stroke-width="1"/>
<path d="M284.15,929.80 L285.85,932.70 L282.45,932.70 Z" fill="#fff" stroke="#000" stroke-width="0.8"/>
<path d="M286.35,928.80 L288.05,931.70 L284.65,931.70 Z" fill="#fff" stroke="#000" stroke-width="0.8"/>
<path d="M288.55,929.60 L290.25,932.50 L286.85,932.50 Z" fill="#fff" stroke="#000" stroke-width="0.8"/>
<rect x="304.50" y="892.83" width="8.10" height="50.77" fill="#9ccbe0" stroke="#000" stroke-width="1"/>
<circle cx="306.35" cy="893.23" r="1.50" fill="#fff" stroke="#000" stroke-width="0.8"/>
<circle cx="308.55" cy="892.23" r="1.50" fill="#fff" stroke="#000" stroke-width="0.8"/>
<circle cx="310.75" cy="893.03" r="1.50" fill="#fff" stroke="#000" stroke-width="0.8"/>
<rect x="317.30" y="919.39" width="8.10" height="24.21" fill="#2e4b8b" stroke="#000" stroke-width="1"/>
<path d="M319.15,917.99 L320.85,920.89 L317.45,920.89 Z" fill="#fff" stroke="#000" stroke-width="0.8"/>
<path d="M321.35,916.99 L323.05,919.89 L319.65,919.89 Z" fill="#fff" stroke="#000" stroke-width="0.8"/>
<path d="M323.55,917.79 L325.25,920.69 L321.85,920.69 Z" fill="#fff" stroke="#000" stroke-width="0.8"/>
<text x="277.80" y="902.00" font-size="7.5" text-anchor="middle" fill="#222"><tspan font-style="italic">P</tspan>&lt;0.0001</text>
<line x1="272.00" y1="906.60" x2="290.00" y2="906.60" stroke="#777" stroke-width="0.9"/>
<text x="315.00" y="881.40" font-size="7.5" text-anchor="middle" fill="#222"><tspan font-style="italic">P</tspan>&lt;0.0001</text>
<line x1="306.70" y1="885.00" x2="323.40" y2="885.00" stroke="#777" stroke-width="0.9"/>
<text x="203.70" y="904.6" font-size="10.3" text-anchor="middle" transform="rotate(-90 203.70 904.6)"><tspan font-style="italic">Isg56</tspan> mRNA (fold)</text>
<text x="189.00" y="959.04" font-size="10.3">gDNA (h)</text>
<text x="244.80" y="959.04" font-size="10.3" text-anchor="middle">0</text>
<text x="279.20" y="959.04" font-size="10.3" text-anchor="middle">6</text>
<text x="314.20" y="959.04" font-size="10.3" text-anchor="middle">12</text>
<line x1="401.30" y1="869.20" x2="401.30" y2="944.20" stroke="#000" stroke-width="1.2"/>
<line x1="400.70" y1="943.60" x2="503.70" y2="943.60" stroke="#000" stroke-width="1.2"/>
<line x1="397.90" y1="943.60" x2="401.30" y2="943.60" stroke="#000" stroke-width="1.1"/>
<text x="397.30" y="947.04" font-size="10.0" text-anchor="end" letter-spacing="-0.15">0</text>
<line x1="397.90" y1="925.15" x2="401.30" y2="925.15" stroke="#000" stroke-width="1.1"/>
<text x="397.30" y="928.59" font-size="10.0" text-anchor="end" letter-spacing="-0.15">20</text>
<line x1="397.90" y1="906.70" x2="401.30" y2="906.70" stroke="#000" stroke-width="1.1"/>
<text x="397.30" y="910.14" font-size="10.0" text-anchor="end" letter-spacing="-0.15">40</text>
<line x1="397.90" y1="888.25" x2="401.30" y2="888.25" stroke="#000" stroke-width="1.1"/>
<text x="397.30" y="891.69" font-size="10.0" text-anchor="end" letter-spacing="-0.15">60</text>
<line x1="397.90" y1="869.80" x2="401.30" y2="869.80" stroke="#000" stroke-width="1.1"/>
<text x="397.30" y="873.24" font-size="10.0" text-anchor="end" letter-spacing="-0.15">80</text>
<line x1="417.10" y1="943.60" x2="417.10" y2="946.60" stroke="#000" stroke-width="1.1"/>
<line x1="452.30" y1="943.60" x2="452.30" y2="946.60" stroke="#000" stroke-width="1.1"/>
<line x1="487.80" y1="943.60" x2="487.80" y2="946.60" stroke="#000" stroke-width="1.1"/>
<rect x="406.00" y="941.75" width="8.00" height="1.85" fill="#9ccbe0" stroke="#000" stroke-width="1"/>
<circle cx="407.80" cy="942.15" r="1.50" fill="#fff" stroke="#000" stroke-width="0.8"/>
<circle cx="410.00" cy="941.15" r="1.50" fill="#fff" stroke="#000" stroke-width="0.8"/>
<circle cx="412.20" cy="941.96" r="1.50" fill="#fff" stroke="#000" stroke-width="0.8"/>
<rect x="419.60" y="942.22" width="8.00" height="1.38" fill="#2e4b8b" stroke="#000" stroke-width="1"/>
<path d="M421.40,940.82 L423.10,943.72 L419.70,943.72 Z" fill="#fff" stroke="#000" stroke-width="0.8"/>
<path d="M423.60,939.82 L425.30,942.72 L421.90,942.72 Z" fill="#fff" stroke="#000" stroke-width="0.8"/>
<path d="M425.80,940.62 L427.50,943.52 L424.10,943.52 Z" fill="#fff" stroke="#000" stroke-width="0.8"/>
<rect x="442.50" y="919.15" width="7.90" height="24.45" fill="#9ccbe0" stroke="#000" stroke-width="1"/>
<circle cx="444.25" cy="919.55" r="1.50" fill="#fff" stroke="#000" stroke-width="0.8"/>
<circle cx="446.45" cy="918.55" r="1.50" fill="#fff" stroke="#000" stroke-width="0.8"/>
<circle cx="448.65" cy="919.35" r="1.50" fill="#fff" stroke="#000" stroke-width="0.8"/>
<rect x="455.30" y="933.45" width="8.00" height="10.15" fill="#2e4b8b" stroke="#000" stroke-width="1"/>
<path d="M457.10,932.05 L458.80,934.95 L455.40,934.95 Z" fill="#fff" stroke="#000" stroke-width="0.8"/>
<path d="M459.30,931.05 L461.00,933.95 L457.60,933.95 Z" fill="#fff" stroke="#000" stroke-width="0.8"/>
<path d="M461.50,931.85 L463.20,934.75 L459.80,934.75 Z" fill="#fff" stroke="#000" stroke-width="0.8"/>
<rect x="477.00" y="897.48" width="8.30" height="46.12" fill="#9ccbe0" stroke="#000" stroke-width="1"/>
<circle cx="478.95" cy="897.88" r="1.50" fill="#fff" stroke="#000" stroke-width="0.8"/>
<circle cx="481.15" cy="896.88" r="1.50" fill="#fff" stroke="#000" stroke-width="0.8"/>
<circle cx="483.35" cy="897.68" r="1.50" fill="#fff" stroke="#000" stroke-width="0.8"/>
<rect x="490.00" y="922.38" width="8.30" height="21.22" fill="#2e4b8b" stroke="#000" stroke-width="1"/>
<path d="M491.95,920.98 L493.65,923.88 L490.25,923.88 Z" fill="#fff" stroke="#000" stroke-width="0.8"/>
<path d="M494.15,919.98 L495.85,922.88 L492.45,922.88 Z" fill="#fff" stroke="#000" stroke-width="0.8"/>
<path d="M496.35,920.78 L498.05,923.68 L494.65,923.68 Z" fill="#fff" stroke="#000" stroke-width="0.8"/>
<text x="452.40" y="909.00" font-size="7.5" text-anchor="middle" fill="#222"><tspan font-style="italic">P</tspan>&lt;0.0001</text>
<line x1="445.10" y1="912.20" x2="461.20" y2="912.20" stroke="#777" stroke-width="0.9"/>
<text x="488.40" y="887.60" font-size="7.5" text-anchor="middle" fill="#222"><tspan font-style="italic">P</tspan>&lt;0.0001</text>
<line x1="481.00" y1="891.40" x2="496.70" y2="891.40" stroke="#777" stroke-width="0.9"/>
<text x="382.20" y="904.6" font-size="10.3" text-anchor="middle" transform="rotate(-90 382.20 904.6)"><tspan font-style="italic">Ifit3</tspan> mRNA (fold)</text>
<text x="361.90" y="959.04" font-size="10.3">gDNA (h)</text>
<text x="417.10" y="959.04" font-size="10.3" text-anchor="middle">0</text>
<text x="452.30" y="959.04" font-size="10.3" text-anchor="middle">6</text>
<text x="487.80" y="959.04" font-size="10.3" text-anchor="middle">12</text>
<text x="547.30" y="854.90" font-size="16" font-weight="bold">m</text>
<text x="570.00" y="860.60" font-size="10.3">BMDMs</text>
<line x1="610.40" y1="871.70" x2="610.40" y2="947.00" stroke="#000" stroke-width="1.2"/>
<line x1="609.80" y1="946.40" x2="677.40" y2="946.40" stroke="#000" stroke-width="1.2"/>
<line x1="607.00" y1="946.40" x2="610.40" y2="946.40" stroke="#000" stroke-width="1.1"/>
<text x="606.40" y="949.84" font-size="10.0" text-anchor="end" letter-spacing="-0.15">0</text>
<line x1="607.00" y1="927.88" x2="610.40" y2="927.88" stroke="#000" stroke-width="1.1"/>
<text x="606.40" y="931.32" font-size="10.0" text-anchor="end" letter-spacing="-0.15">100</text>
<line x1="607.00" y1="909.35" x2="610.40" y2="909.35" stroke="#000" stroke-width="1.1"/>
<text x="606.40" y="912.79" font-size="10.0" text-anchor="end" letter-spacing="-0.15">200</text>
<line x1="607.00" y1="890.82" x2="610.40" y2="890.82" stroke="#000" stroke-width="1.1"/>
<text x="606.40" y="894.26" font-size="10.0" text-anchor="end" letter-spacing="-0.15">300</text>
<line x1="607.00" y1="872.30" x2="610.40" y2="872.30" stroke="#000" stroke-width="1.1"/>
<text x="606.40" y="875.74" font-size="10.0" text-anchor="end" letter-spacing="-0.15">400</text>
<line x1="625.80" y1="946.40" x2="625.80" y2="949.40" stroke="#000" stroke-width="1.1"/>
<line x1="661.10" y1="946.40" x2="661.10" y2="949.40" stroke="#000" stroke-width="1.1"/>
<rect x="615.50" y="941.95" width="8.00" height="4.45" fill="#9ccbe0" stroke="#000" stroke-width="1"/>
<circle cx="617.30" cy="942.35" r="1.50" fill="#fff" stroke="#000" stroke-width="0.8"/>
<circle cx="619.50" cy="941.35" r="1.50" fill="#fff" stroke="#000" stroke-width="0.8"/>
<circle cx="621.70" cy="942.15" r="1.50" fill="#fff" stroke="#000" stroke-width="0.8"/>
<rect x="628.40" y="943.07" width="8.10" height="3.33" fill="#2e4b8b" stroke="#000" stroke-width="1"/>
<path d="M630.25,941.67 L631.95,944.57 L628.55,944.57 Z" fill="#fff" stroke="#000" stroke-width="0.8"/>
<path d="M632.45,940.67 L634.15,943.57 L630.75,943.57 Z" fill="#fff" stroke="#000" stroke-width="0.8"/>
<path d="M634.65,941.47 L636.35,944.37 L632.95,944.37 Z" fill="#fff" stroke="#000" stroke-width="0.8"/>
<rect x="650.50" y="907.13" width="8.20" height="39.27" fill="#9ccbe0" stroke="#000" stroke-width="1"/>
<circle cx="652.40" cy="907.53" r="1.50" fill="#fff" stroke="#000" stroke-width="0.8"/>
<circle cx="654.60" cy="906.53" r="1.50" fill="#fff" stroke="#000" stroke-width="0.8"/>
<circle cx="656.80" cy="907.33" r="1.50" fill="#fff" stroke="#000" stroke-width="0.8"/>
<rect x="664.00" y="925.47" width="7.80" height="20.93" fill="#2e4b8b" stroke="#000" stroke-width="1"/>
<path d="M665.70,924.07 L667.40,926.97 L664.00,926.97 Z" fill="#fff" stroke="#000" stroke-width="0.8"/>
<path d="M667.90,923.07 L669.60,925.97 L666.20,925.97 Z" fill="#fff" stroke="#000" stroke-width="0.8"/>
<path d="M670.10,923.87 L671.80,926.77 L668.40,926.77 Z" fill="#fff" stroke="#000" stroke-width="0.8"/>
<text x="661.60" y="896.40" font-size="7.5" text-anchor="middle" fill="#222"><tspan font-style="italic">P</tspan>&lt;0.0001</text>
<line x1="654.00" y1="900.50" x2="669.80" y2="900.50" stroke="#777" stroke-width="0.9"/>
<text x="584.70" y="907.7" font-size="10.3" text-anchor="middle" transform="rotate(-90 584.70 907.7)">IFN-β (pg/ml)</text>
<circle cx="619.50" cy="868.80" r="2.50" fill="#9ccbe0"/>
<path d="M619.50,879.20 L622.30,884.10 L616.70,884.10 Z" fill="#2e4b8b"/>
<text x="627.30" y="872.34" font-size="10.3">DMSO</text>
<text x="627.30" y="885.44" font-size="10.3">2-BP</text>
<text x="570.70" y="959.94" font-size="10.3">gDNA (h)</text>
<text x="625.80" y="959.94" font-size="10.3" text-anchor="middle">0</text>
<text x="661.10" y="959.94" font-size="10.3" text-anchor="middle">24</text></svg></body></html>
